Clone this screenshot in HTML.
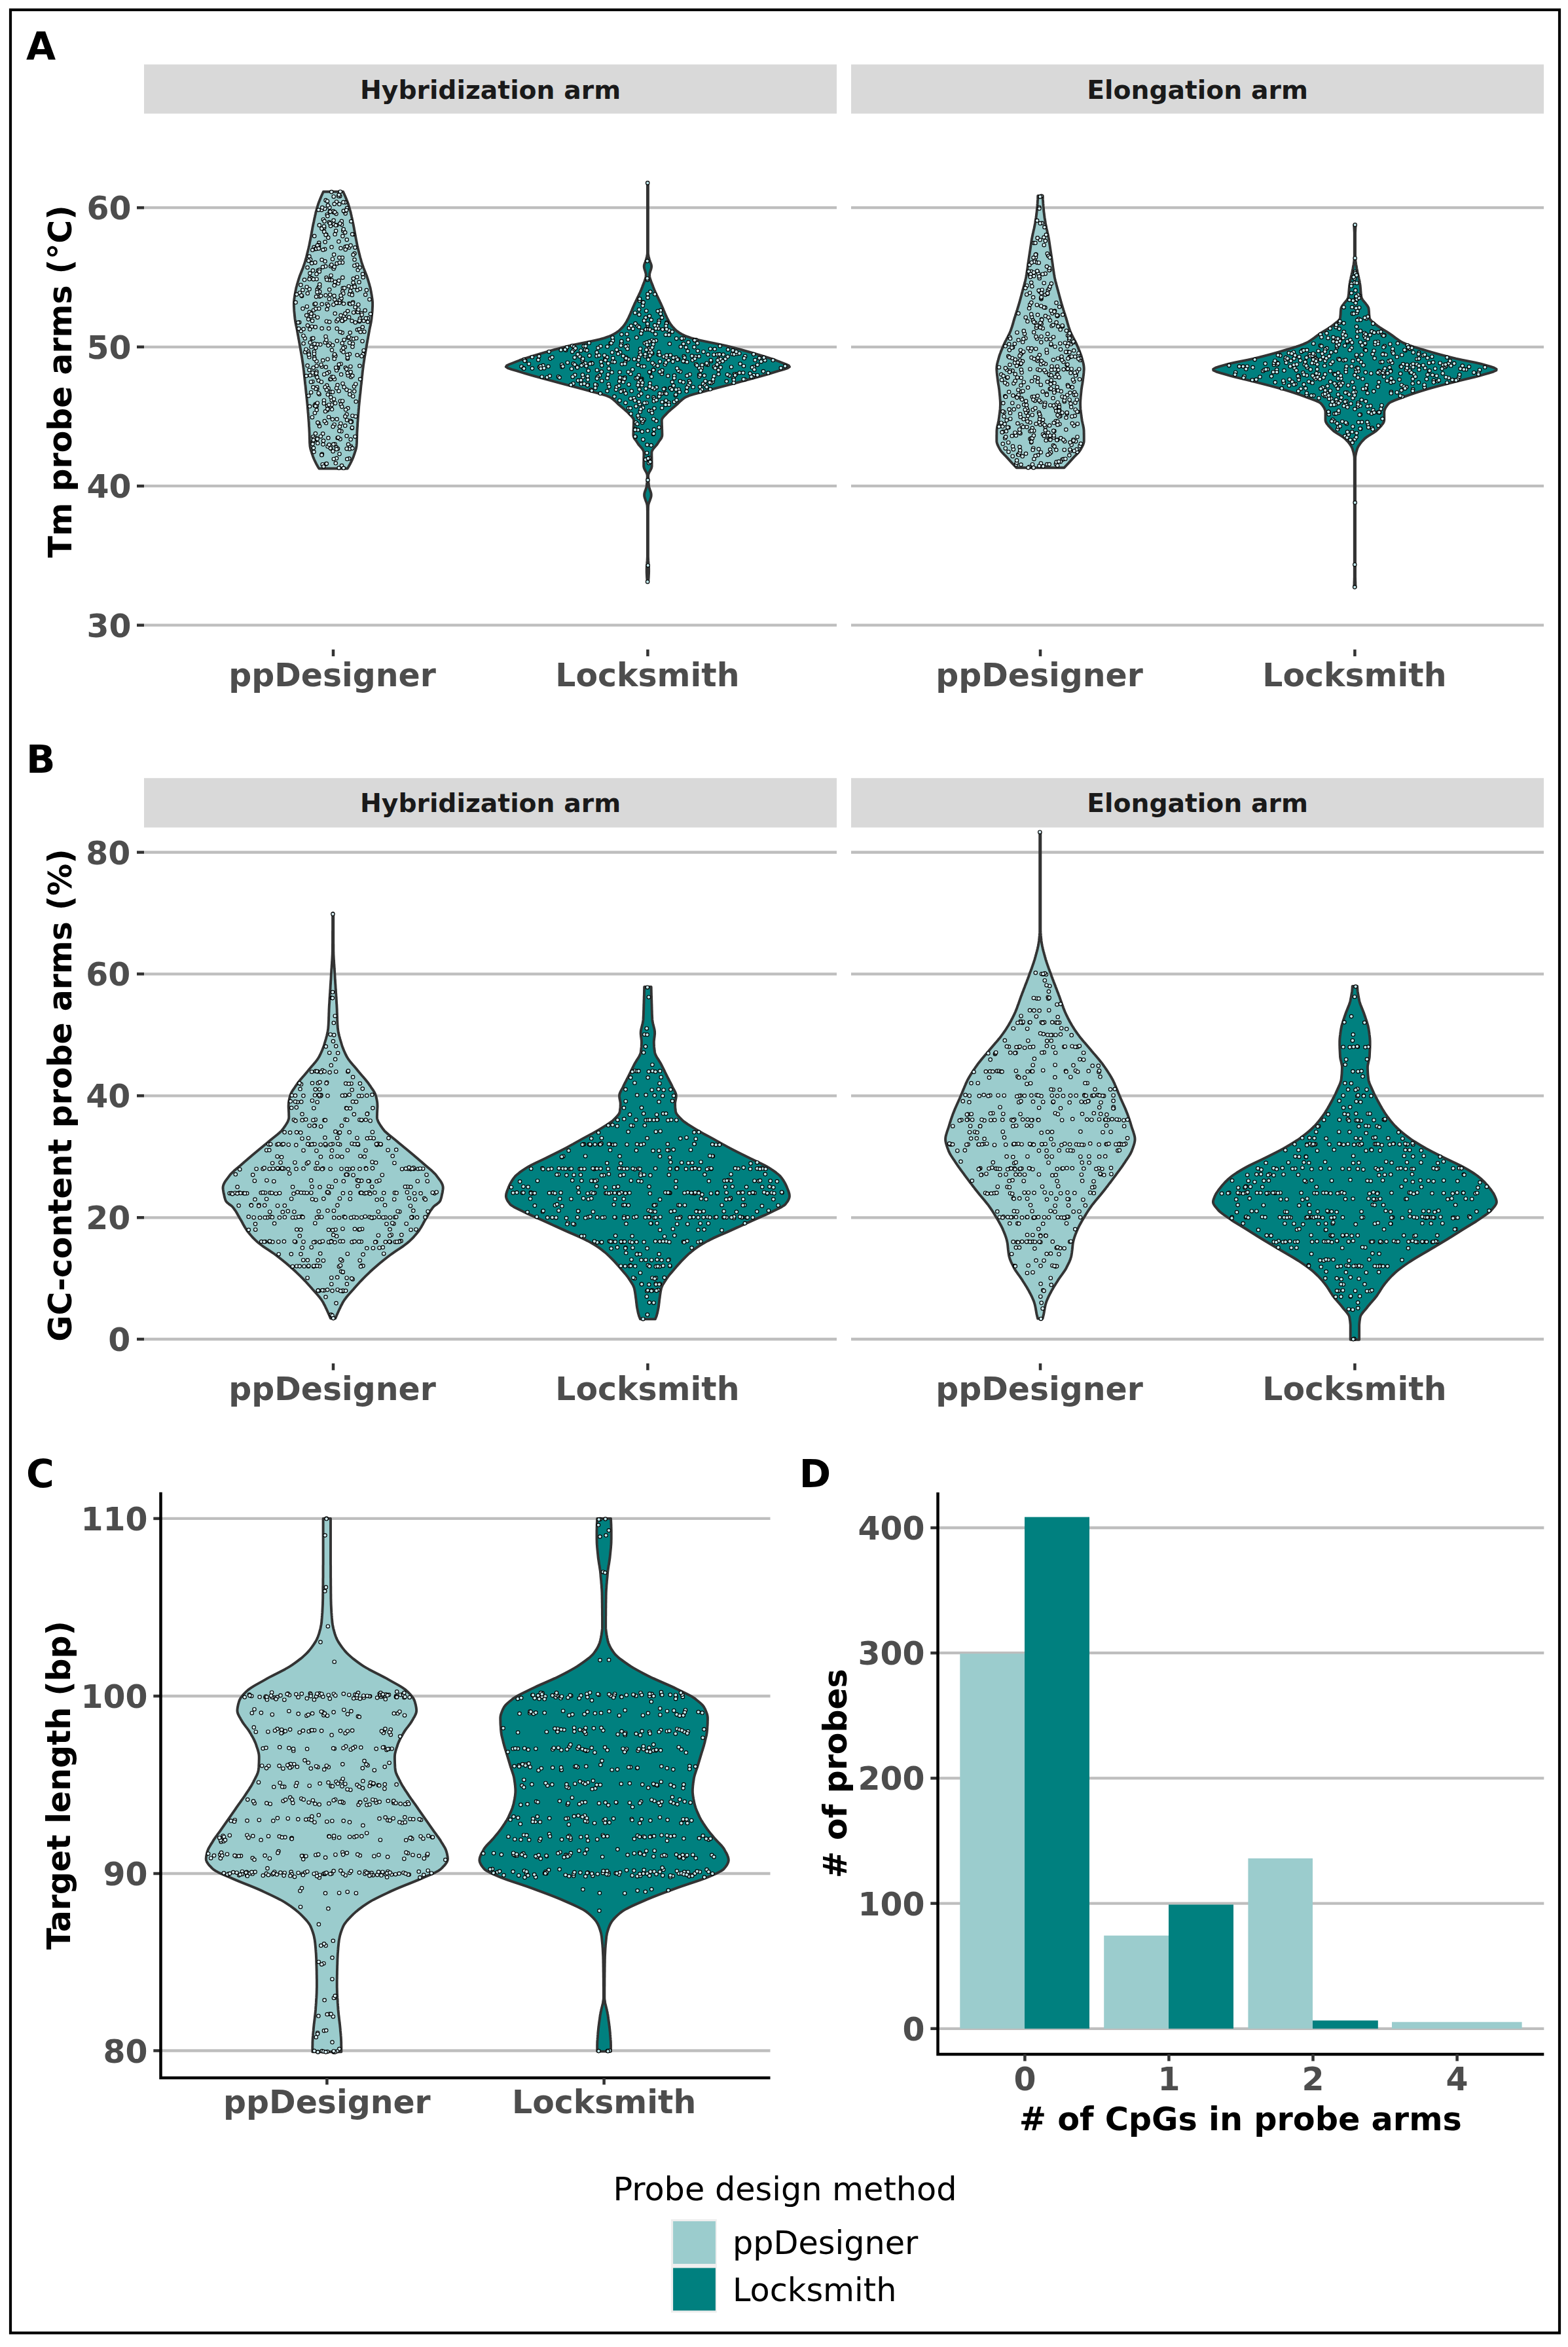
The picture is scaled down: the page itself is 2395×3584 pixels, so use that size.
<!DOCTYPE html><html><head><meta charset="utf-8"><title>Figure</title><style>html,body{margin:0;padding:0;background:#fff}svg{display:block}</style></head><body><svg width="2395" height="3584" viewBox="0 0 2395 3584" font-family="'DejaVu Sans','Liberation Sans',sans-serif">
<rect x="0" y="0" width="2395" height="3584" fill="#fff"/>
<text x="40" y="90.6" font-size="58.33" font-weight="bold" fill="#000" text-anchor="start" >A</text>
<rect x="220" y="98.4" width="1058" height="75.1" fill="#d9d9d9"/>
<text x="749.0" y="150.60000000000002" font-size="39.3" font-weight="bold" fill="#1a1a1a" text-anchor="middle" >Hybridization arm</text>
<line x1="220" x2="1278" y1="317.2" y2="317.2" stroke="#bebebe" stroke-width="4.3"/>
<line x1="220" x2="1278" y1="529.8" y2="529.8" stroke="#bebebe" stroke-width="4.3"/>
<line x1="220" x2="1278" y1="742.2" y2="742.2" stroke="#bebebe" stroke-width="4.3"/>
<line x1="220" x2="1278" y1="954.7" y2="954.7" stroke="#bebebe" stroke-width="4.3"/>
<rect x="1300" y="98.4" width="1058" height="75.1" fill="#d9d9d9"/>
<text x="1829.0" y="150.60000000000002" font-size="39.3" font-weight="bold" fill="#1a1a1a" text-anchor="middle" >Elongation arm</text>
<line x1="1300" x2="2358" y1="317.2" y2="317.2" stroke="#bebebe" stroke-width="4.3"/>
<line x1="1300" x2="2358" y1="529.8" y2="529.8" stroke="#bebebe" stroke-width="4.3"/>
<line x1="1300" x2="2358" y1="742.2" y2="742.2" stroke="#bebebe" stroke-width="4.3"/>
<line x1="1300" x2="2358" y1="954.7" y2="954.7" stroke="#bebebe" stroke-width="4.3"/>
<line x1="209" x2="220" y1="317.2" y2="317.2" stroke="#333333" stroke-width="4.5"/>
<text x="200.6" y="335.2" font-size="48.9" font-weight="bold" fill="#4d4d4d" text-anchor="end" >60</text>
<line x1="209" x2="220" y1="529.8" y2="529.8" stroke="#333333" stroke-width="4.5"/>
<text x="200.6" y="547.8" font-size="48.9" font-weight="bold" fill="#4d4d4d" text-anchor="end" >50</text>
<line x1="209" x2="220" y1="742.2" y2="742.2" stroke="#333333" stroke-width="4.5"/>
<text x="200.6" y="760.2" font-size="48.9" font-weight="bold" fill="#4d4d4d" text-anchor="end" >40</text>
<line x1="209" x2="220" y1="954.7" y2="954.7" stroke="#333333" stroke-width="4.5"/>
<text x="200.6" y="972.7" font-size="48.9" font-weight="bold" fill="#4d4d4d" text-anchor="end" >30</text>
<line x1="509" x2="509" y1="991.8" y2="1002.1999999999999" stroke="#333333" stroke-width="4.5"/>
<line x1="989.4" x2="989.4" y1="991.8" y2="1002.1999999999999" stroke="#333333" stroke-width="4.5"/>
<line x1="1589" x2="1589" y1="991.8" y2="1002.1999999999999" stroke="#333333" stroke-width="4.5"/>
<line x1="2069.4" x2="2069.4" y1="991.8" y2="1002.1999999999999" stroke="#333333" stroke-width="4.5"/>
<text x="507.5" y="1048" font-size="48.9" font-weight="bold" fill="#4d4d4d" text-anchor="middle" >ppDesigner</text>
<text x="988.9" y="1048" font-size="48.9" font-weight="bold" fill="#4d4d4d" text-anchor="middle" >Locksmith</text>
<text x="1587.5" y="1048" font-size="48.9" font-weight="bold" fill="#4d4d4d" text-anchor="middle" >ppDesigner</text>
<text x="2068.9" y="1048" font-size="48.9" font-weight="bold" fill="#4d4d4d" text-anchor="middle" >Locksmith</text>
<text transform="translate(108.5,582.6) rotate(-90)" font-size="48.9" font-weight="bold" fill="#000" text-anchor="middle">Tm probe arms (°C)</text>
<text x="40" y="1179.7" font-size="58.33" font-weight="bold" fill="#000" text-anchor="start" >B</text>
<rect x="220" y="1188.2" width="1058" height="75.39999999999986" fill="#d9d9d9"/>
<text x="749.0" y="1240.4" font-size="39.3" font-weight="bold" fill="#1a1a1a" text-anchor="middle" >Hybridization arm</text>
<line x1="220" x2="1278" y1="1301.5" y2="1301.5" stroke="#bebebe" stroke-width="4.3"/>
<line x1="220" x2="1278" y1="1487.3" y2="1487.3" stroke="#bebebe" stroke-width="4.3"/>
<line x1="220" x2="1278" y1="1673.3" y2="1673.3" stroke="#bebebe" stroke-width="4.3"/>
<line x1="220" x2="1278" y1="1859.3" y2="1859.3" stroke="#bebebe" stroke-width="4.3"/>
<line x1="220" x2="1278" y1="2045" y2="2045" stroke="#bebebe" stroke-width="4.3"/>
<rect x="1300" y="1188.2" width="1058" height="75.39999999999986" fill="#d9d9d9"/>
<text x="1829.0" y="1240.4" font-size="39.3" font-weight="bold" fill="#1a1a1a" text-anchor="middle" >Elongation arm</text>
<line x1="1300" x2="2358" y1="1301.5" y2="1301.5" stroke="#bebebe" stroke-width="4.3"/>
<line x1="1300" x2="2358" y1="1487.3" y2="1487.3" stroke="#bebebe" stroke-width="4.3"/>
<line x1="1300" x2="2358" y1="1673.3" y2="1673.3" stroke="#bebebe" stroke-width="4.3"/>
<line x1="1300" x2="2358" y1="1859.3" y2="1859.3" stroke="#bebebe" stroke-width="4.3"/>
<line x1="1300" x2="2358" y1="2045" y2="2045" stroke="#bebebe" stroke-width="4.3"/>
<line x1="209" x2="220" y1="1301.5" y2="1301.5" stroke="#333333" stroke-width="4.5"/>
<text x="199.3" y="1319.5" font-size="48.9" font-weight="bold" fill="#4d4d4d" text-anchor="end" >80</text>
<line x1="209" x2="220" y1="1487.3" y2="1487.3" stroke="#333333" stroke-width="4.5"/>
<text x="199.3" y="1505.3" font-size="48.9" font-weight="bold" fill="#4d4d4d" text-anchor="end" >60</text>
<line x1="209" x2="220" y1="1673.3" y2="1673.3" stroke="#333333" stroke-width="4.5"/>
<text x="199.3" y="1691.3" font-size="48.9" font-weight="bold" fill="#4d4d4d" text-anchor="end" >40</text>
<line x1="209" x2="220" y1="1859.3" y2="1859.3" stroke="#333333" stroke-width="4.5"/>
<text x="199.3" y="1877.3" font-size="48.9" font-weight="bold" fill="#4d4d4d" text-anchor="end" >20</text>
<line x1="209" x2="220" y1="2045" y2="2045" stroke="#333333" stroke-width="4.5"/>
<text x="199.3" y="2063" font-size="48.9" font-weight="bold" fill="#4d4d4d" text-anchor="end" >0</text>
<line x1="509" x2="509" y1="2082" y2="2092.4" stroke="#333333" stroke-width="4.5"/>
<line x1="989.4" x2="989.4" y1="2082" y2="2092.4" stroke="#333333" stroke-width="4.5"/>
<line x1="1589" x2="1589" y1="2082" y2="2092.4" stroke="#333333" stroke-width="4.5"/>
<line x1="2069.4" x2="2069.4" y1="2082" y2="2092.4" stroke="#333333" stroke-width="4.5"/>
<text x="507.5" y="2138" font-size="48.9" font-weight="bold" fill="#4d4d4d" text-anchor="middle" >ppDesigner</text>
<text x="988.9" y="2138" font-size="48.9" font-weight="bold" fill="#4d4d4d" text-anchor="middle" >Locksmith</text>
<text x="1587.5" y="2138" font-size="48.9" font-weight="bold" fill="#4d4d4d" text-anchor="middle" >ppDesigner</text>
<text x="2068.9" y="2138" font-size="48.9" font-weight="bold" fill="#4d4d4d" text-anchor="middle" >Locksmith</text>
<text transform="translate(108.5,1672.6) rotate(-90)" font-size="48.9" font-weight="bold" fill="#000" text-anchor="middle">GC-content probe arms (%)</text>
<text x="40" y="2271" font-size="58.33" font-weight="bold" fill="#000" text-anchor="start" >C</text>
<line x1="245.5" x2="1176.5" y1="2318.9" y2="2318.9" stroke="#bebebe" stroke-width="4.3"/>
<line x1="234.3" x2="245.5" y1="2318.9" y2="2318.9" stroke="#333333" stroke-width="4.5"/>
<text x="225.6" y="2336.9" font-size="48.9" font-weight="bold" fill="#4d4d4d" text-anchor="end" >110</text>
<line x1="245.5" x2="1176.5" y1="2590" y2="2590" stroke="#bebebe" stroke-width="4.3"/>
<line x1="234.3" x2="245.5" y1="2590" y2="2590" stroke="#333333" stroke-width="4.5"/>
<text x="225.6" y="2608" font-size="48.9" font-weight="bold" fill="#4d4d4d" text-anchor="end" >100</text>
<line x1="245.5" x2="1176.5" y1="2861" y2="2861" stroke="#bebebe" stroke-width="4.3"/>
<line x1="234.3" x2="245.5" y1="2861" y2="2861" stroke="#333333" stroke-width="4.5"/>
<text x="225.6" y="2879" font-size="48.9" font-weight="bold" fill="#4d4d4d" text-anchor="end" >90</text>
<line x1="245.5" x2="1176.5" y1="3131.5" y2="3131.5" stroke="#bebebe" stroke-width="4.3"/>
<line x1="234.3" x2="245.5" y1="3131.5" y2="3131.5" stroke="#333333" stroke-width="4.5"/>
<text x="225.6" y="3149.5" font-size="48.9" font-weight="bold" fill="#4d4d4d" text-anchor="end" >80</text>
<text x="1220.7" y="2271" font-size="58.33" font-weight="bold" fill="#000" text-anchor="start" >D</text>
<line x1="1432.5" x2="2358.3" y1="2333.0" y2="2333.0" stroke="#bebebe" stroke-width="4.3"/>
<line x1="1421.3" x2="1432.5" y1="2333.0" y2="2333.0" stroke="#333333" stroke-width="4.5"/>
<text x="1412.6" y="2351.0" font-size="48.9" font-weight="bold" fill="#4d4d4d" text-anchor="end" >400</text>
<line x1="1432.5" x2="2358.3" y1="2524.2000000000003" y2="2524.2000000000003" stroke="#bebebe" stroke-width="4.3"/>
<line x1="1421.3" x2="1432.5" y1="2524.2000000000003" y2="2524.2000000000003" stroke="#333333" stroke-width="4.5"/>
<text x="1412.6" y="2542.2000000000003" font-size="48.9" font-weight="bold" fill="#4d4d4d" text-anchor="end" >300</text>
<line x1="1432.5" x2="2358.3" y1="2715.4" y2="2715.4" stroke="#bebebe" stroke-width="4.3"/>
<line x1="1421.3" x2="1432.5" y1="2715.4" y2="2715.4" stroke="#333333" stroke-width="4.5"/>
<text x="1412.6" y="2733.4" font-size="48.9" font-weight="bold" fill="#4d4d4d" text-anchor="end" >200</text>
<line x1="1432.5" x2="2358.3" y1="2906.6000000000004" y2="2906.6000000000004" stroke="#bebebe" stroke-width="4.3"/>
<line x1="1421.3" x2="1432.5" y1="2906.6000000000004" y2="2906.6000000000004" stroke="#333333" stroke-width="4.5"/>
<text x="1412.6" y="2924.6000000000004" font-size="48.9" font-weight="bold" fill="#4d4d4d" text-anchor="end" >100</text>
<line x1="1432.5" x2="2358.3" y1="3097.8" y2="3097.8" stroke="#bebebe" stroke-width="4.3"/>
<line x1="1421.3" x2="1432.5" y1="3097.8" y2="3097.8" stroke="#333333" stroke-width="4.5"/>
<text x="1412.6" y="3115.8" font-size="48.9" font-weight="bold" fill="#4d4d4d" text-anchor="end" >0</text>
<rect x="1466.3" y="2525.2" width="98.7" height="572.6" fill="#9bcccd"/>
<rect x="1565" y="2316.6" width="99.0" height="781.2" fill="#00807f"/>
<rect x="1686.2" y="2955.7" width="98.8" height="142.1" fill="#9bcccd"/>
<rect x="1785" y="2908.5" width="99.0" height="189.3" fill="#00807f"/>
<rect x="1906.4" y="2837.8" width="98.6" height="260.0" fill="#9bcccd"/>
<rect x="2005" y="3085.4" width="99.8" height="12.4" fill="#00807f"/>
<rect x="2126" y="3087.7" width="198.6" height="10.1" fill="#9bcccd"/>
<path d="M524.1,292.7 L525.0,294.7 L525.9,296.7 L526.8,298.7 L527.7,300.7 L528.5,302.7 L529.3,304.7 L530.1,306.7 L530.9,308.7 L531.6,310.7 L532.3,312.7 L532.9,314.7 L533.5,316.7 L534.1,318.7 L534.6,320.7 L535.2,322.7 L535.7,324.7 L536.1,326.7 L536.6,328.7 L537.0,330.7 L537.5,332.7 L537.9,334.7 L538.3,336.7 L538.7,338.7 L539.2,340.7 L539.6,342.7 L540.0,344.7 L540.4,346.7 L540.8,348.7 L541.1,350.7 L541.5,352.7 L541.9,354.7 L542.2,356.7 L542.6,358.7 L543.0,360.7 L543.3,362.7 L543.7,364.7 L544.1,366.7 L544.5,368.7 L544.9,370.7 L545.3,372.7 L545.7,374.7 L546.2,376.7 L546.6,378.7 L547.1,380.7 L547.6,382.7 L548.1,384.7 L548.6,386.7 L549.1,388.7 L549.6,390.7 L550.1,392.7 L550.7,394.7 L551.3,396.7 L551.8,398.7 L552.4,400.7 L553.0,402.7 L553.7,404.7 L554.4,406.7 L555.1,408.7 L555.9,410.7 L556.7,412.7 L557.5,414.7 L558.3,416.7 L559.1,418.7 L559.9,420.7 L560.6,422.7 L561.2,424.7 L561.9,426.7 L562.5,428.7 L563.1,430.7 L563.7,432.7 L564.3,434.7 L564.8,436.7 L565.4,438.7 L565.8,440.7 L566.2,442.7 L566.6,444.7 L567.0,446.7 L567.3,448.7 L567.7,450.7 L568.0,452.7 L568.3,454.7 L568.6,456.7 L568.8,458.7 L569.0,460.7 L569.1,462.7 L569.1,464.7 L569.1,466.7 L569.0,468.7 L568.9,470.7 L568.8,472.7 L568.7,474.7 L568.5,476.7 L568.3,478.7 L568.1,480.7 L567.9,482.7 L567.7,484.7 L567.5,486.7 L567.2,488.7 L566.9,490.7 L566.6,492.7 L566.2,494.7 L565.8,496.7 L565.3,498.7 L564.9,500.7 L564.5,502.7 L564.1,504.7 L563.8,506.7 L563.4,508.7 L563.1,510.7 L562.7,512.7 L562.3,514.7 L562.0,516.7 L561.6,518.7 L561.2,520.7 L560.9,522.7 L560.5,524.7 L560.2,526.7 L559.8,528.7 L559.5,530.7 L559.1,532.7 L558.8,534.7 L558.4,536.7 L558.1,538.7 L557.7,540.7 L557.4,542.7 L557.0,544.7 L556.7,546.7 L556.4,548.7 L556.1,550.7 L555.8,552.7 L555.5,554.7 L555.2,556.7 L554.9,558.7 L554.7,560.7 L554.4,562.7 L554.2,564.7 L553.9,566.7 L553.7,568.7 L553.5,570.7 L553.3,572.7 L553.0,574.7 L552.8,576.7 L552.6,578.7 L552.4,580.7 L552.2,582.7 L552.0,584.7 L551.8,586.7 L551.5,588.7 L551.3,590.7 L551.1,592.7 L550.9,594.7 L550.7,596.7 L550.5,598.7 L550.3,600.7 L550.0,602.7 L549.8,604.7 L549.6,606.7 L549.4,608.7 L549.2,610.7 L549.0,612.7 L548.8,614.7 L548.6,616.7 L548.4,618.7 L548.2,620.7 L548.1,622.7 L547.9,624.7 L547.7,626.7 L547.6,628.7 L547.4,630.7 L547.2,632.7 L547.1,634.7 L546.9,636.7 L546.8,638.7 L546.6,640.7 L546.5,642.7 L546.3,644.7 L546.2,646.7 L546.1,648.7 L546.0,650.7 L545.8,652.7 L545.7,654.7 L545.6,656.7 L545.5,658.7 L545.4,660.7 L545.3,662.7 L545.3,664.7 L545.2,666.7 L545.2,668.7 L545.1,670.7 L545.0,672.7 L545.0,674.7 L544.9,676.7 L544.7,678.7 L544.6,680.7 L544.3,682.7 L543.9,684.7 L543.4,686.7 L542.8,688.7 L542.1,690.7 L541.5,692.7 L540.8,694.7 L540.1,696.7 L539.3,698.7 L538.5,700.7 L537.6,702.7 L536.7,704.7 L535.7,706.7 L534.7,708.7 L533.5,710.7 L532.4,712.7 L531.2,714.7 L530.7,715.5 L487.3,715.5 L486.8,714.7 L485.6,712.7 L484.5,710.7 L483.3,708.7 L482.3,706.7 L481.3,704.7 L480.4,702.7 L479.5,700.7 L478.7,698.7 L477.9,696.7 L477.2,694.7 L476.5,692.7 L475.9,690.7 L475.2,688.7 L474.6,686.7 L474.1,684.7 L473.7,682.7 L473.4,680.7 L473.3,678.7 L473.1,676.7 L473.0,674.7 L473.0,672.7 L472.9,670.7 L472.8,668.7 L472.8,666.7 L472.7,664.7 L472.7,662.7 L472.6,660.7 L472.5,658.7 L472.4,656.7 L472.3,654.7 L472.2,652.7 L472.0,650.7 L471.9,648.7 L471.8,646.7 L471.7,644.7 L471.5,642.7 L471.4,640.7 L471.2,638.7 L471.1,636.7 L470.9,634.7 L470.8,632.7 L470.6,630.7 L470.4,628.7 L470.3,626.7 L470.1,624.7 L469.9,622.7 L469.8,620.7 L469.6,618.7 L469.4,616.7 L469.2,614.7 L469.0,612.7 L468.8,610.7 L468.6,608.7 L468.4,606.7 L468.2,604.7 L468.0,602.7 L467.7,600.7 L467.5,598.7 L467.3,596.7 L467.1,594.7 L466.9,592.7 L466.7,590.7 L466.5,588.7 L466.2,586.7 L466.0,584.7 L465.8,582.7 L465.6,580.7 L465.4,578.7 L465.2,576.7 L465.0,574.7 L464.7,572.7 L464.5,570.7 L464.3,568.7 L464.1,566.7 L463.8,564.7 L463.6,562.7 L463.3,560.7 L463.1,558.7 L462.8,556.7 L462.5,554.7 L462.2,552.7 L461.9,550.7 L461.6,548.7 L461.3,546.7 L461.0,544.7 L460.6,542.7 L460.3,540.7 L459.9,538.7 L459.6,536.7 L459.2,534.7 L458.9,532.7 L458.5,530.7 L458.2,528.7 L457.8,526.7 L457.5,524.7 L457.1,522.7 L456.8,520.7 L456.4,518.7 L456.0,516.7 L455.7,514.7 L455.3,512.7 L454.9,510.7 L454.6,508.7 L454.2,506.7 L453.9,504.7 L453.5,502.7 L453.1,500.7 L452.7,498.7 L452.2,496.7 L451.8,494.7 L451.4,492.7 L451.1,490.7 L450.8,488.7 L450.5,486.7 L450.3,484.7 L450.1,482.7 L449.9,480.7 L449.7,478.7 L449.5,476.7 L449.3,474.7 L449.2,472.7 L449.1,470.7 L449.0,468.7 L448.9,466.7 L448.9,464.7 L448.9,462.7 L449.0,460.7 L449.2,458.7 L449.4,456.7 L449.7,454.7 L450.0,452.7 L450.3,450.7 L450.7,448.7 L451.0,446.7 L451.4,444.7 L451.8,442.7 L452.2,440.7 L452.6,438.7 L453.2,436.7 L453.7,434.7 L454.3,432.7 L454.9,430.7 L455.5,428.7 L456.1,426.7 L456.8,424.7 L457.4,422.7 L458.1,420.7 L458.9,418.7 L459.7,416.7 L460.5,414.7 L461.3,412.7 L462.1,410.7 L462.9,408.7 L463.6,406.7 L464.3,404.7 L465.0,402.7 L465.6,400.7 L466.2,398.7 L466.7,396.7 L467.3,394.7 L467.9,392.7 L468.4,390.7 L468.9,388.7 L469.4,386.7 L469.9,384.7 L470.4,382.7 L470.9,380.7 L471.4,378.7 L471.8,376.7 L472.3,374.7 L472.7,372.7 L473.1,370.7 L473.5,368.7 L473.9,366.7 L474.3,364.7 L474.7,362.7 L475.0,360.7 L475.4,358.7 L475.8,356.7 L476.1,354.7 L476.5,352.7 L476.9,350.7 L477.2,348.7 L477.6,346.7 L478.0,344.7 L478.4,342.7 L478.8,340.7 L479.3,338.7 L479.7,336.7 L480.1,334.7 L480.5,332.7 L481.0,330.7 L481.4,328.7 L481.9,326.7 L482.3,324.7 L482.8,322.7 L483.4,320.7 L483.9,318.7 L484.5,316.7 L485.1,314.7 L485.7,312.7 L486.4,310.7 L487.1,308.7 L487.9,306.7 L488.7,304.7 L489.5,302.7 L490.3,300.7 L491.2,298.7 L492.1,296.7 L493.0,294.7 L493.9,292.7Z" fill="#9bcccd" stroke="#333333" stroke-width="3.9" stroke-linejoin="round"/>
<g fill="#d5edf2" stroke="#000" stroke-width="1.15">
<circle cx="545.7" cy="542.3" r="2.7"/><circle cx="487.6" cy="602.0" r="2.7"/><circle cx="549.9" cy="441.2" r="2.7"/><circle cx="519.3" cy="299.6" r="2.7"/><circle cx="506.6" cy="611.2" r="2.7"/><circle cx="484.7" cy="442.0" r="2.7"/><circle cx="503.4" cy="426.9" r="2.7"/><circle cx="514.7" cy="501.8" r="2.7"/><circle cx="522.0" cy="711.0" r="2.7"/><circle cx="554.4" cy="541.2" r="2.7"/><circle cx="477.9" cy="413.1" r="2.7"/><circle cx="466.1" cy="537.7" r="2.7"/><circle cx="509.7" cy="324.3" r="2.7"/><circle cx="555.6" cy="490.0" r="2.7"/><circle cx="510.3" cy="543.7" r="2.7"/><circle cx="481.7" cy="499.4" r="2.7"/><circle cx="497.6" cy="305.9" r="2.7"/><circle cx="483.5" cy="567.6" r="2.7"/><circle cx="451.6" cy="461.8" r="2.7"/><circle cx="483.7" cy="626.1" r="2.7"/><circle cx="548.5" cy="430.9" r="2.7"/><circle cx="545.9" cy="503.5" r="2.7"/><circle cx="530.9" cy="547.7" r="2.7"/><circle cx="511.6" cy="357.8" r="2.7"/><circle cx="548.6" cy="502.8" r="2.7"/><circle cx="520.3" cy="459.3" r="2.7"/><circle cx="502.8" cy="339.4" r="2.7"/><circle cx="469.8" cy="448.0" r="2.7"/><circle cx="500.0" cy="619.8" r="2.7"/><circle cx="514.0" cy="699.8" r="2.7"/><circle cx="522.1" cy="535.2" r="2.7"/><circle cx="478.7" cy="561.6" r="2.7"/><circle cx="479.4" cy="482.3" r="2.7"/><circle cx="462.5" cy="471.3" r="2.7"/><circle cx="491.9" cy="693.5" r="2.7"/><circle cx="491.6" cy="559.7" r="2.7"/><circle cx="520.4" cy="646.7" r="2.7"/><circle cx="533.3" cy="378.0" r="2.7"/><circle cx="535.9" cy="681.4" r="2.7"/><circle cx="473.8" cy="523.0" r="2.7"/><circle cx="545.3" cy="404.4" r="2.7"/><circle cx="476.6" cy="517.1" r="2.7"/><circle cx="518.8" cy="651.5" r="2.7"/><circle cx="496.7" cy="523.0" r="2.7"/><circle cx="479.0" cy="473.7" r="2.7"/><circle cx="527.6" cy="326.0" r="2.7"/><circle cx="514.3" cy="490.4" r="2.7"/><circle cx="537.1" cy="447.8" r="2.7"/><circle cx="503.3" cy="316.9" r="2.7"/><circle cx="491.3" cy="320.6" r="2.7"/><circle cx="518.5" cy="693.2" r="2.7"/><circle cx="511.7" cy="478.8" r="2.7"/><circle cx="498.1" cy="646.0" r="2.7"/><circle cx="526.8" cy="530.0" r="2.7"/><circle cx="511.2" cy="457.6" r="2.7"/><circle cx="541.2" cy="597.5" r="2.7"/><circle cx="541.5" cy="387.0" r="2.7"/><circle cx="517.1" cy="299.6" r="2.7"/><circle cx="481.9" cy="617.3" r="2.7"/><circle cx="545.2" cy="476.1" r="2.7"/><circle cx="514.0" cy="308.2" r="2.7"/><circle cx="510.0" cy="609.4" r="2.7"/><circle cx="486.5" cy="581.1" r="2.7"/><circle cx="497.2" cy="406.8" r="2.7"/><circle cx="496.5" cy="399.1" r="2.7"/><circle cx="513.8" cy="683.1" r="2.7"/><circle cx="483.0" cy="453.1" r="2.7"/><circle cx="505.4" cy="685.0" r="2.7"/><circle cx="509.8" cy="700.9" r="2.7"/><circle cx="550.7" cy="507.0" r="2.7"/><circle cx="515.5" cy="588.1" r="2.7"/><circle cx="552.2" cy="478.4" r="2.7"/><circle cx="557.6" cy="474.0" r="2.7"/><circle cx="505.0" cy="345.1" r="2.7"/><circle cx="556.4" cy="506.6" r="2.7"/><circle cx="539.8" cy="425.6" r="2.7"/><circle cx="527.8" cy="561.6" r="2.7"/><circle cx="552.4" cy="543.9" r="2.7"/><circle cx="497.5" cy="451.0" r="2.7"/><circle cx="469.6" cy="408.5" r="2.7"/><circle cx="546.7" cy="412.3" r="2.7"/><circle cx="480.9" cy="630.7" r="2.7"/><circle cx="507.0" cy="534.6" r="2.7"/><circle cx="524.3" cy="531.5" r="2.7"/><circle cx="559.9" cy="443.1" r="2.7"/><circle cx="523.3" cy="489.9" r="2.7"/><circle cx="480.2" cy="546.0" r="2.7"/><circle cx="504.0" cy="341.0" r="2.7"/><circle cx="533.9" cy="596.9" r="2.7"/><circle cx="477.3" cy="582.7" r="2.7"/><circle cx="529.6" cy="665.8" r="2.7"/><circle cx="510.6" cy="648.4" r="2.7"/><circle cx="478.2" cy="666.9" r="2.7"/><circle cx="486.6" cy="320.5" r="2.7"/><circle cx="483.6" cy="426.2" r="2.7"/><circle cx="514.6" cy="402.4" r="2.7"/><circle cx="513.5" cy="326.5" r="2.7"/><circle cx="522.9" cy="393.5" r="2.7"/><circle cx="500.9" cy="313.6" r="2.7"/><circle cx="511.6" cy="678.2" r="2.7"/><circle cx="520.8" cy="617.7" r="2.7"/><circle cx="479.9" cy="537.1" r="2.7"/><circle cx="463.6" cy="524.5" r="2.7"/><circle cx="543.7" cy="613.3" r="2.7"/><circle cx="476.9" cy="637.2" r="2.7"/><circle cx="488.3" cy="452.7" r="2.7"/><circle cx="517.4" cy="368.8" r="2.7"/><circle cx="494.9" cy="611.4" r="2.7"/><circle cx="530.0" cy="641.4" r="2.7"/><circle cx="527.7" cy="376.9" r="2.7"/><circle cx="488.0" cy="650.8" r="2.7"/><circle cx="522.7" cy="524.2" r="2.7"/><circle cx="470.8" cy="536.6" r="2.7"/><circle cx="520.6" cy="555.7" r="2.7"/><circle cx="531.3" cy="623.3" r="2.7"/><circle cx="534.0" cy="449.3" r="2.7"/><circle cx="536.7" cy="643.5" r="2.7"/><circle cx="472.4" cy="391.6" r="2.7"/><circle cx="483.5" cy="551.7" r="2.7"/><circle cx="553.5" cy="520.9" r="2.7"/><circle cx="480.4" cy="464.6" r="2.7"/><circle cx="526.7" cy="487.2" r="2.7"/><circle cx="501.3" cy="362.9" r="2.7"/><circle cx="520.5" cy="379.0" r="2.7"/><circle cx="500.0" cy="626.4" r="2.7"/><circle cx="513.6" cy="462.4" r="2.7"/><circle cx="485.9" cy="413.0" r="2.7"/><circle cx="504.2" cy="450.1" r="2.7"/><circle cx="524.3" cy="352.4" r="2.7"/><circle cx="489.3" cy="526.1" r="2.7"/><circle cx="524.7" cy="350.1" r="2.7"/><circle cx="483.2" cy="377.7" r="2.7"/><circle cx="479.5" cy="377.6" r="2.7"/><circle cx="493.2" cy="662.3" r="2.7"/><circle cx="545.7" cy="443.1" r="2.7"/><circle cx="479.9" cy="540.4" r="2.7"/><circle cx="552.7" cy="480.7" r="2.7"/><circle cx="533.4" cy="463.5" r="2.7"/><circle cx="523.4" cy="360.6" r="2.7"/><circle cx="534.3" cy="602.2" r="2.7"/><circle cx="497.8" cy="560.6" r="2.7"/><circle cx="510.1" cy="342.4" r="2.7"/><circle cx="484.4" cy="594.1" r="2.7"/><circle cx="512.7" cy="430.5" r="2.7"/><circle cx="540.9" cy="590.3" r="2.7"/><circle cx="487.1" cy="375.2" r="2.7"/><circle cx="519.9" cy="612.4" r="2.7"/><circle cx="550.1" cy="579.1" r="2.7"/><circle cx="532.0" cy="678.6" r="2.7"/><circle cx="500.8" cy="602.5" r="2.7"/><circle cx="480.4" cy="548.2" r="2.7"/><circle cx="529.4" cy="595.1" r="2.7"/><circle cx="504.4" cy="579.2" r="2.7"/><circle cx="499.7" cy="464.2" r="2.7"/><circle cx="525.5" cy="322.7" r="2.7"/><circle cx="497.5" cy="513.9" r="2.7"/><circle cx="531.6" cy="515.7" r="2.7"/><circle cx="547.3" cy="465.2" r="2.7"/><circle cx="501.4" cy="668.8" r="2.7"/><circle cx="527.7" cy="381.0" r="2.7"/><circle cx="492.7" cy="709.2" r="2.7"/><circle cx="536.2" cy="575.7" r="2.7"/><circle cx="483.4" cy="669.3" r="2.7"/><circle cx="539.5" cy="358.0" r="2.7"/><circle cx="487.2" cy="370.9" r="2.7"/><circle cx="503.7" cy="524.7" r="2.7"/><circle cx="484.2" cy="591.2" r="2.7"/><circle cx="489.8" cy="666.4" r="2.7"/><circle cx="475.1" cy="599.2" r="2.7"/><circle cx="457.2" cy="492.2" r="2.7"/><circle cx="488.1" cy="445.4" r="2.7"/><circle cx="505.3" cy="578.7" r="2.7"/><circle cx="536.2" cy="338.0" r="2.7"/><circle cx="537.8" cy="653.7" r="2.7"/><circle cx="498.5" cy="424.1" r="2.7"/><circle cx="473.4" cy="417.3" r="2.7"/><circle cx="509.2" cy="322.5" r="2.7"/><circle cx="486.8" cy="374.0" r="2.7"/><circle cx="507.9" cy="640.3" r="2.7"/><circle cx="523.0" cy="400.9" r="2.7"/><circle cx="511.8" cy="430.4" r="2.7"/><circle cx="510.7" cy="435.8" r="2.7"/><circle cx="512.3" cy="543.5" r="2.7"/><circle cx="542.6" cy="469.2" r="2.7"/><circle cx="486.5" cy="646.4" r="2.7"/><circle cx="481.3" cy="380.3" r="2.7"/><circle cx="533.3" cy="700.3" r="2.7"/><circle cx="554.0" cy="418.6" r="2.7"/><circle cx="509.6" cy="410.3" r="2.7"/><circle cx="553.8" cy="499.5" r="2.7"/><circle cx="499.7" cy="327.7" r="2.7"/><circle cx="467.5" cy="533.4" r="2.7"/><circle cx="505.6" cy="420.7" r="2.7"/><circle cx="527.2" cy="650.0" r="2.7"/><circle cx="528.1" cy="625.5" r="2.7"/><circle cx="538.3" cy="573.8" r="2.7"/><circle cx="529.3" cy="563.5" r="2.7"/><circle cx="472.6" cy="441.6" r="2.7"/><circle cx="482.4" cy="593.8" r="2.7"/><circle cx="515.6" cy="668.8" r="2.7"/><circle cx="558.2" cy="450.0" r="2.7"/><circle cx="510.1" cy="388.8" r="2.7"/><circle cx="538.1" cy="357.8" r="2.7"/><circle cx="538.9" cy="524.8" r="2.7"/><circle cx="541.2" cy="435.6" r="2.7"/><circle cx="521.1" cy="571.8" r="2.7"/><circle cx="504.6" cy="684.3" r="2.7"/><circle cx="531.1" cy="475.0" r="2.7"/><circle cx="497.0" cy="628.3" r="2.7"/><circle cx="483.6" cy="558.9" r="2.7"/><circle cx="536.3" cy="516.9" r="2.7"/><circle cx="522.0" cy="343.1" r="2.7"/><circle cx="527.2" cy="309.1" r="2.7"/><circle cx="498.9" cy="490.7" r="2.7"/><circle cx="510.9" cy="579.0" r="2.7"/><circle cx="475.0" cy="583.2" r="2.7"/><circle cx="514.8" cy="520.6" r="2.7"/><circle cx="477.9" cy="675.1" r="2.7"/><circle cx="523.8" cy="486.1" r="2.7"/><circle cx="465.8" cy="516.7" r="2.7"/><circle cx="482.2" cy="531.0" r="2.7"/><circle cx="541.4" cy="405.7" r="2.7"/><circle cx="505.1" cy="406.5" r="2.7"/><circle cx="525.6" cy="591.2" r="2.7"/><circle cx="540.1" cy="517.5" r="2.7"/><circle cx="522.4" cy="489.9" r="2.7"/><circle cx="522.2" cy="621.1" r="2.7"/><circle cx="500.5" cy="548.4" r="2.7"/><circle cx="498.5" cy="519.2" r="2.7"/><circle cx="499.3" cy="588.6" r="2.7"/><circle cx="537.5" cy="490.1" r="2.7"/><circle cx="491.6" cy="501.5" r="2.7"/><circle cx="500.3" cy="624.6" r="2.7"/><circle cx="529.6" cy="632.8" r="2.7"/><circle cx="533.1" cy="484.4" r="2.7"/><circle cx="503.7" cy="323.4" r="2.7"/><circle cx="514.6" cy="640.1" r="2.7"/><circle cx="525.6" cy="518.9" r="2.7"/><circle cx="516.2" cy="562.0" r="2.7"/><circle cx="472.7" cy="476.5" r="2.7"/><circle cx="486.5" cy="438.9" r="2.7"/><circle cx="565.9" cy="479.5" r="2.7"/><circle cx="503.0" cy="456.7" r="2.7"/><circle cx="518.4" cy="462.4" r="2.7"/><circle cx="534.7" cy="682.9" r="2.7"/><circle cx="482.0" cy="463.9" r="2.7"/><circle cx="508.6" cy="651.6" r="2.7"/><circle cx="472.4" cy="565.1" r="2.7"/><circle cx="495.8" cy="643.1" r="2.7"/><circle cx="476.3" cy="498.7" r="2.7"/><circle cx="546.6" cy="476.4" r="2.7"/><circle cx="507.1" cy="625.0" r="2.7"/><circle cx="505.7" cy="598.6" r="2.7"/><circle cx="514.3" cy="462.8" r="2.7"/><circle cx="493.0" cy="407.9" r="2.7"/><circle cx="531.7" cy="573.3" r="2.7"/><circle cx="521.8" cy="337.9" r="2.7"/><circle cx="504.9" cy="620.3" r="2.7"/><circle cx="519.3" cy="341.4" r="2.7"/><circle cx="523.3" cy="423.9" r="2.7"/><circle cx="524.9" cy="463.8" r="2.7"/><circle cx="506.6" cy="427.8" r="2.7"/><circle cx="522.7" cy="508.1" r="2.7"/><circle cx="549.6" cy="408.6" r="2.7"/><circle cx="488.1" cy="437.8" r="2.7"/><circle cx="465.0" cy="427.3" r="2.7"/><circle cx="540.1" cy="477.2" r="2.7"/><circle cx="483.5" cy="574.5" r="2.7"/><circle cx="496.2" cy="380.6" r="2.7"/><circle cx="508.1" cy="598.7" r="2.7"/><circle cx="519.6" cy="670.6" r="2.7"/><circle cx="533.9" cy="540.8" r="2.7"/><circle cx="496.5" cy="591.2" r="2.7"/><circle cx="502.6" cy="427.6" r="2.7"/><circle cx="469.9" cy="497.0" r="2.7"/><circle cx="524.9" cy="482.7" r="2.7"/><circle cx="483.1" cy="380.0" r="2.7"/><circle cx="491.6" cy="396.8" r="2.7"/><circle cx="479.5" cy="690.1" r="2.7"/><circle cx="481.3" cy="400.9" r="2.7"/><circle cx="455.3" cy="492.5" r="2.7"/><circle cx="471.1" cy="487.6" r="2.7"/><circle cx="539.5" cy="431.6" r="2.7"/><circle cx="518.7" cy="401.0" r="2.7"/><circle cx="499.5" cy="472.3" r="2.7"/><circle cx="483.8" cy="620.1" r="2.7"/><circle cx="535.7" cy="671.0" r="2.7"/><circle cx="469.6" cy="558.3" r="2.7"/><circle cx="517.8" cy="556.5" r="2.7"/><circle cx="486.6" cy="600.4" r="2.7"/><circle cx="534.0" cy="685.7" r="2.7"/><circle cx="496.6" cy="369.6" r="2.7"/><circle cx="524.8" cy="322.0" r="2.7"/><circle cx="542.3" cy="666.7" r="2.7"/><circle cx="524.6" cy="537.6" r="2.7"/><circle cx="515.1" cy="562.3" r="2.7"/><circle cx="516.0" cy="685.3" r="2.7"/><circle cx="510.5" cy="451.8" r="2.7"/><circle cx="518.3" cy="311.8" r="2.7"/><circle cx="502.3" cy="568.3" r="2.7"/><circle cx="527.3" cy="636.1" r="2.7"/><circle cx="461.1" cy="452.1" r="2.7"/><circle cx="486.7" cy="378.3" r="2.7"/><circle cx="503.2" cy="442.3" r="2.7"/><circle cx="494.0" cy="673.0" r="2.7"/><circle cx="521.4" cy="658.5" r="2.7"/><circle cx="502.1" cy="636.9" r="2.7"/><circle cx="517.7" cy="297.5" r="2.7"/><circle cx="473.5" cy="423.6" r="2.7"/><circle cx="523.1" cy="612.4" r="2.7"/><circle cx="488.0" cy="412.0" r="2.7"/><circle cx="493.5" cy="678.6" r="2.7"/><circle cx="477.8" cy="571.7" r="2.7"/><circle cx="480.6" cy="619.2" r="2.7"/><circle cx="459.9" cy="505.4" r="2.7"/><circle cx="544.2" cy="516.4" r="2.7"/><circle cx="495.2" cy="353.9" r="2.7"/><circle cx="517.5" cy="597.2" r="2.7"/><circle cx="523.3" cy="445.0" r="2.7"/><circle cx="549.8" cy="486.6" r="2.7"/><circle cx="536.9" cy="438.9" r="2.7"/><circle cx="530.9" cy="546.1" r="2.7"/><circle cx="535.0" cy="464.3" r="2.7"/><circle cx="499.5" cy="570.1" r="2.7"/><circle cx="530.0" cy="317.8" r="2.7"/><circle cx="484.4" cy="576.2" r="2.7"/><circle cx="490.9" cy="583.2" r="2.7"/><circle cx="549.1" cy="491.0" r="2.7"/><circle cx="485.0" cy="484.7" r="2.7"/><circle cx="462.4" cy="442.9" r="2.7"/><circle cx="487.8" cy="414.7" r="2.7"/><circle cx="474.1" cy="396.4" r="2.7"/><circle cx="477.1" cy="489.9" r="2.7"/><circle cx="543.3" cy="586.4" r="2.7"/><circle cx="516.6" cy="432.8" r="2.7"/><circle cx="463.6" cy="502.5" r="2.7"/><circle cx="535.6" cy="374.8" r="2.7"/><circle cx="542.8" cy="492.4" r="2.7"/><circle cx="514.4" cy="343.8" r="2.7"/><circle cx="534.9" cy="642.5" r="2.7"/><circle cx="509.7" cy="300.2" r="2.7"/><circle cx="539.1" cy="461.5" r="2.7"/><circle cx="495.2" cy="347.7" r="2.7"/><circle cx="506.7" cy="618.2" r="2.7"/><circle cx="561.8" cy="486.1" r="2.7"/><circle cx="457.8" cy="447.2" r="2.7"/><circle cx="468.9" cy="468.2" r="2.7"/><circle cx="513.1" cy="352.5" r="2.7"/><circle cx="514.1" cy="685.9" r="2.7"/><circle cx="493.2" cy="550.3" r="2.7"/><circle cx="534.0" cy="523.4" r="2.7"/><circle cx="538.4" cy="529.6" r="2.7"/><circle cx="478.3" cy="516.5" r="2.7"/><circle cx="508.1" cy="527.3" r="2.7"/><circle cx="518.3" cy="393.5" r="2.7"/><circle cx="481.9" cy="620.1" r="2.7"/><circle cx="532.9" cy="514.7" r="2.7"/><circle cx="482.5" cy="471.5" r="2.7"/><circle cx="513.8" cy="462.5" r="2.7"/><circle cx="514.1" cy="565.5" r="2.7"/><circle cx="529.8" cy="366.0" r="2.7"/><circle cx="482.0" cy="671.0" r="2.7"/><circle cx="476.3" cy="425.0" r="2.7"/><circle cx="538.4" cy="634.9" r="2.7"/><circle cx="500.4" cy="330.0" r="2.7"/><circle cx="506.4" cy="404.4" r="2.7"/><circle cx="479.8" cy="669.9" r="2.7"/><circle cx="508.0" cy="395.7" r="2.7"/><circle cx="534.7" cy="508.0" r="2.7"/><circle cx="468.2" cy="481.6" r="2.7"/><circle cx="564.4" cy="457.2" r="2.7"/><circle cx="478.3" cy="591.3" r="2.7"/><circle cx="494.8" cy="616.1" r="2.7"/><circle cx="471.3" cy="604.4" r="2.7"/><circle cx="485.3" cy="645.3" r="2.7"/><circle cx="527.2" cy="486.9" r="2.7"/><circle cx="473.3" cy="502.8" r="2.7"/><circle cx="493.4" cy="381.5" r="2.7"/><circle cx="493.8" cy="335.2" r="2.7"/><circle cx="506.5" cy="377.3" r="2.7"/><circle cx="519.0" cy="458.0" r="2.7"/><circle cx="459.4" cy="435.1" r="2.7"/><circle cx="537.8" cy="450.4" r="2.7"/><circle cx="499.3" cy="427.1" r="2.7"/><circle cx="501.6" cy="593.1" r="2.7"/><circle cx="537.9" cy="653.0" r="2.7"/><circle cx="535.1" cy="444.3" r="2.7"/><circle cx="472.6" cy="426.3" r="2.7"/><circle cx="520.6" cy="481.6" r="2.7"/><circle cx="485.2" cy="676.8" r="2.7"/><circle cx="507.0" cy="575.6" r="2.7"/><circle cx="542.3" cy="378.0" r="2.7"/><circle cx="477.5" cy="569.0" r="2.7"/><circle cx="481.9" cy="662.0" r="2.7"/><circle cx="498.4" cy="358.4" r="2.7"/><circle cx="477.6" cy="678.0" r="2.7"/><circle cx="516.6" cy="668.2" r="2.7"/><circle cx="512.9" cy="344.1" r="2.7"/><circle cx="516.2" cy="487.8" r="2.7"/><circle cx="523.5" cy="585.7" r="2.7"/><circle cx="494.3" cy="712.4" r="2.7"/><circle cx="502.4" cy="618.2" r="2.7"/><circle cx="539.2" cy="605.2" r="2.7"/><circle cx="498.0" cy="708.5" r="2.7"/><circle cx="558.9" cy="486.1" r="2.7"/><circle cx="500.6" cy="681.8" r="2.7"/><circle cx="502.7" cy="679.1" r="2.7"/><circle cx="538.7" cy="463.2" r="2.7"/><circle cx="503.2" cy="491.5" r="2.7"/><circle cx="501.2" cy="466.6" r="2.7"/><circle cx="477.3" cy="381.8" r="2.7"/><circle cx="514.1" cy="592.7" r="2.7"/><circle cx="535.4" cy="559.7" r="2.7"/><circle cx="483.5" cy="418.4" r="2.7"/><circle cx="488.2" cy="434.3" r="2.7"/><circle cx="499.0" cy="595.5" r="2.7"/><circle cx="524.3" cy="448.2" r="2.7"/><circle cx="476.2" cy="402.0" r="2.7"/><circle cx="530.8" cy="569.6" r="2.7"/><circle cx="523.8" cy="440.0" r="2.7"/><circle cx="504.4" cy="323.3" r="2.7"/><circle cx="484.8" cy="525.8" r="2.7"/><circle cx="521.5" cy="455.5" r="2.7"/><circle cx="475.5" cy="529.8" r="2.7"/><circle cx="473.7" cy="573.3" r="2.7"/><circle cx="491.4" cy="694.6" r="2.7"/><circle cx="478.7" cy="426.4" r="2.7"/><circle cx="498.8" cy="708.0" r="2.7"/><circle cx="555.6" cy="535.2" r="2.7"/><circle cx="479.0" cy="684.1" r="2.7"/><circle cx="519.6" cy="507.0" r="2.7"/><circle cx="495.2" cy="571.7" r="2.7"/><circle cx="453.2" cy="449.6" r="2.7"/><circle cx="511.4" cy="324.0" r="2.7"/><circle cx="491.4" cy="349.1" r="2.7"/><circle cx="460.4" cy="451.1" r="2.7"/><circle cx="529.1" cy="320.9" r="2.7"/><circle cx="475.4" cy="480.9" r="2.7"/><circle cx="467.9" cy="574.0" r="2.7"/><circle cx="554.7" cy="423.5" r="2.7"/><circle cx="518.3" cy="658.1" r="2.7"/><circle cx="497.6" cy="358.7" r="2.7"/><circle cx="496.1" cy="318.8" r="2.7"/><circle cx="492.2" cy="317.0" r="2.7"/><circle cx="472.4" cy="545.3" r="2.7"/><circle cx="539.6" cy="389.1" r="2.7"/><circle cx="490.1" cy="451.8" r="2.7"/><circle cx="527.2" cy="355.0" r="2.7"/><circle cx="513.1" cy="561.4" r="2.7"/><circle cx="471.7" cy="539.7" r="2.7"/><circle cx="517.6" cy="428.5" r="2.7"/><circle cx="529.6" cy="685.2" r="2.7"/><circle cx="510.7" cy="547.9" r="2.7"/><circle cx="524.4" cy="308.9" r="2.7"/><circle cx="487.8" cy="343.9" r="2.7"/><circle cx="535.6" cy="568.0" r="2.7"/><circle cx="505.3" cy="606.6" r="2.7"/><circle cx="471.4" cy="398.2" r="2.7"/><circle cx="543.2" cy="635.9" r="2.7"/><circle cx="545.3" cy="423.2" r="2.7"/><circle cx="487.2" cy="471.3" r="2.7"/><circle cx="456.4" cy="501.9" r="2.7"/><circle cx="474.9" cy="483.0" r="2.7"/><circle cx="509.2" cy="575.7" r="2.7"/><circle cx="536.9" cy="644.2" r="2.7"/><circle cx="484.5" cy="446.2" r="2.7"/><circle cx="509.3" cy="678.6" r="2.7"/><circle cx="480.2" cy="360.5" r="2.7"/><circle cx="512.8" cy="707.3" r="2.7"/><circle cx="509.6" cy="336.6" r="2.7"/><circle cx="502.1" cy="501.6" r="2.7"/><circle cx="538.3" cy="684.6" r="2.7"/><circle cx="484.9" cy="374.8" r="2.7"/><circle cx="547.5" cy="472.7" r="2.7"/><circle cx="530.3" cy="541.8" r="2.7"/><circle cx="480.4" cy="525.1" r="2.7"/><circle cx="473.0" cy="620.5" r="2.7"/><circle cx="483.1" cy="570.1" r="2.7"/><circle cx="561.8" cy="491.5" r="2.7"/><circle cx="463.4" cy="512.7" r="2.7"/><circle cx="527.3" cy="478.9" r="2.7"/><circle cx="495.5" cy="337.9" r="2.7"/><circle cx="510.7" cy="311.5" r="2.7"/><circle cx="509.4" cy="465.2" r="2.7"/><circle cx="526.1" cy="439.9" r="2.7"/><circle cx="541.5" cy="396.5" r="2.7"/><circle cx="508.6" cy="689.2" r="2.7"/><circle cx="549.2" cy="489.7" r="2.7"/><circle cx="541.7" cy="437.9" r="2.7"/><circle cx="532.7" cy="437.2" r="2.7"/><circle cx="520.6" cy="451.4" r="2.7"/><circle cx="478.8" cy="672.0" r="2.7"/><circle cx="512.1" cy="615.7" r="2.7"/><circle cx="491.7" cy="464.5" r="2.7"/><circle cx="495.0" cy="345.5" r="2.7"/><circle cx="471.7" cy="541.6" r="2.7"/><circle cx="549.4" cy="558.8" r="2.7"/><circle cx="530.2" cy="701.0" r="2.7"/><circle cx="484.8" cy="615.4" r="2.7"/><circle cx="491.4" cy="694.9" r="2.7"/><circle cx="535.6" cy="644.3" r="2.7"/><circle cx="511.0" cy="541.1" r="2.7"/><circle cx="510.7" cy="407.5" r="2.7"/><circle cx="468.6" cy="438.2" r="2.7"/><circle cx="530.0" cy="376.3" r="2.7"/><circle cx="484.7" cy="670.3" r="2.7"/><circle cx="500.0" cy="307.2" r="2.7"/><circle cx="486.8" cy="379.4" r="2.7"/><circle cx="501.4" cy="527.6" r="2.7"/><circle cx="475.4" cy="479.1" r="2.7"/><circle cx="490.5" cy="556.9" r="2.7"/><circle cx="506.3" cy="293.1" r="2.7"/><circle cx="519.8" cy="292.7" r="2.7"/><circle cx="517.7" cy="714.6" r="2.7"/><circle cx="524.8" cy="714.8" r="2.7"/>
</g>
<path d="M989.9,278.2 L989.9,280.2 L989.9,282.2 L989.9,284.2 L989.9,286.2 L989.9,288.2 L989.9,290.2 L989.9,292.2 L989.9,294.2 L989.9,296.2 L989.9,298.2 L989.9,300.2 L989.9,302.2 L989.9,304.2 L989.9,306.2 L989.9,308.2 L989.9,310.2 L989.9,312.2 L989.9,314.2 L989.9,316.2 L989.9,318.2 L989.9,320.2 L989.9,322.2 L989.9,324.2 L989.9,326.2 L989.9,328.2 L989.9,330.2 L989.9,332.2 L989.9,334.2 L989.9,336.2 L989.9,338.2 L989.9,340.2 L989.9,342.2 L989.9,344.2 L989.9,346.2 L989.9,348.2 L989.9,350.2 L989.9,352.2 L989.9,354.2 L989.9,356.2 L989.9,358.2 L989.9,360.2 L989.9,362.2 L989.9,364.2 L989.9,366.2 L989.9,368.2 L989.9,370.2 L989.9,372.2 L989.9,374.2 L989.9,376.2 L989.9,378.2 L989.9,380.2 L989.9,382.2 L989.9,384.2 L989.9,386.2 L990.0,388.2 L990.4,390.2 L990.8,392.2 L991.4,394.2 L991.9,396.2 L992.5,398.2 L993.2,400.2 L994.0,402.2 L994.7,404.2 L995.1,406.2 L995.0,408.2 L994.6,410.2 L994.0,412.2 L993.3,414.2 L992.7,416.2 L992.2,418.2 L992.1,420.2 L992.3,422.2 L992.6,424.2 L993.2,426.2 L993.9,428.2 L994.6,430.2 L995.4,432.2 L996.2,434.2 L997.0,436.2 L997.7,438.2 L998.5,440.2 L999.3,442.2 L1000.2,444.2 L1001.0,446.2 L1001.9,448.2 L1002.9,450.2 L1003.8,452.2 L1004.8,454.2 L1005.8,456.2 L1006.7,458.2 L1007.7,460.2 L1008.6,462.2 L1009.6,464.2 L1010.5,466.2 L1011.4,468.2 L1012.3,470.2 L1013.1,472.2 L1013.9,474.2 L1014.8,476.2 L1015.6,478.2 L1016.5,480.2 L1017.3,482.2 L1018.3,484.2 L1019.2,486.2 L1020.3,488.2 L1021.3,490.2 L1022.5,492.2 L1023.8,494.2 L1025.1,496.2 L1026.7,498.2 L1028.4,500.2 L1030.3,502.2 L1032.4,504.2 L1034.8,506.2 L1037.7,508.2 L1041.2,510.2 L1045.3,512.2 L1050.0,514.2 L1055.5,516.2 L1062.7,518.2 L1071.4,520.2 L1080.9,522.2 L1090.8,524.2 L1100.5,526.2 L1109.6,528.2 L1117.6,530.2 L1125.2,532.2 L1132.6,534.2 L1139.8,536.2 L1146.7,538.2 L1153.5,540.2 L1160.1,542.2 L1166.6,544.2 L1173.0,546.2 L1179.2,548.2 L1185.1,550.2 L1190.4,552.2 L1195.4,554.2 L1200.6,556.2 L1204.8,558.2 L1206.0,560.2 L1203.0,562.2 L1197.2,564.2 L1190.1,566.2 L1183.5,568.2 L1177.2,570.2 L1170.4,572.2 L1163.4,574.2 L1156.1,576.2 L1148.7,578.2 L1141.3,580.2 L1133.9,582.2 L1126.6,584.2 L1119.1,586.2 L1111.5,588.2 L1103.9,590.2 L1096.3,592.2 L1088.8,594.2 L1081.5,596.2 L1074.3,598.2 L1066.7,600.2 L1059.2,602.2 L1052.6,604.2 L1047.9,606.2 L1044.6,608.2 L1041.9,610.2 L1039.6,612.2 L1037.6,614.2 L1035.5,616.2 L1033.2,618.2 L1030.9,620.2 L1028.5,622.2 L1026.1,624.2 L1023.8,626.2 L1021.6,628.2 L1019.6,630.2 L1017.7,632.2 L1015.8,634.2 L1013.8,636.2 L1012.1,638.2 L1011.0,640.2 L1010.8,642.2 L1010.8,644.2 L1010.9,646.2 L1010.9,648.2 L1011.0,650.2 L1011.1,652.2 L1011.1,654.2 L1011.2,656.2 L1011.3,658.2 L1011.3,660.2 L1011.4,662.2 L1011.4,664.2 L1011.2,666.2 L1010.5,668.2 L1009.4,670.2 L1008.0,672.2 L1006.5,674.2 L1005.2,676.2 L1003.9,678.2 L1002.3,680.2 L1000.5,682.2 L998.8,684.2 L997.3,686.2 L996.1,688.2 L995.5,690.2 L995.4,692.2 L995.4,694.2 L995.4,696.2 L995.5,698.2 L995.5,700.2 L995.5,702.2 L995.5,704.2 L995.6,706.2 L995.6,708.2 L995.6,710.2 L995.6,712.2 L995.2,714.2 L994.4,716.2 L993.3,718.2 L992.2,720.2 L991.2,722.2 L990.4,724.2 L990.1,726.2 L990.1,728.2 L990.2,730.2 L990.3,732.2 L990.4,734.2 L990.5,736.2 L990.7,738.2 L990.9,740.2 L991.1,742.2 L991.5,744.2 L992.1,746.2 L992.8,748.2 L993.6,750.2 L994.2,752.2 L994.6,754.2 L994.7,756.2 L994.5,758.2 L994.0,760.2 L993.3,762.2 L992.6,764.2 L991.8,766.2 L991.1,768.2 L990.5,770.2 L990.2,772.2 L990.1,774.2 L990.0,776.2 L990.0,778.2 L989.9,780.2 L989.9,782.2 L989.9,784.2 L989.9,786.2 L989.9,788.2 L989.9,790.2 L989.9,792.2 L989.9,794.2 L989.9,796.2 L989.9,798.2 L989.9,800.2 L989.9,802.2 L989.9,804.2 L989.9,806.2 L989.9,808.2 L989.9,810.2 L989.9,812.2 L989.9,814.2 L989.9,816.2 L989.9,818.2 L989.9,820.2 L989.9,822.2 L989.9,824.2 L989.9,826.2 L989.9,828.2 L989.9,830.2 L989.9,832.2 L989.9,834.2 L989.9,836.2 L989.9,838.2 L989.9,840.2 L989.9,842.2 L989.9,844.2 L989.9,846.2 L989.9,848.2 L989.9,850.2 L990.0,852.2 L990.1,854.2 L990.2,856.2 L990.4,858.2 L990.5,860.2 L990.7,862.2 L990.9,864.2 L991.0,866.2 L991.1,868.2 L991.1,870.2 L991.1,872.2 L991.1,874.2 L991.0,876.2 L990.9,878.2 L990.8,880.2 L990.7,882.2 L990.5,884.2 L990.4,886.2 L990.2,888.2 L990.1,889.0 L988.7,889.0 L988.6,888.2 L988.4,886.2 L988.3,884.2 L988.1,882.2 L988.0,880.2 L987.9,878.2 L987.8,876.2 L987.7,874.2 L987.7,872.2 L987.7,870.2 L987.7,868.2 L987.8,866.2 L987.9,864.2 L988.1,862.2 L988.3,860.2 L988.4,858.2 L988.6,856.2 L988.7,854.2 L988.8,852.2 L988.9,850.2 L988.9,848.2 L988.9,846.2 L988.9,844.2 L988.9,842.2 L988.9,840.2 L988.9,838.2 L988.9,836.2 L988.9,834.2 L988.9,832.2 L988.9,830.2 L988.9,828.2 L988.9,826.2 L988.9,824.2 L988.9,822.2 L988.9,820.2 L988.9,818.2 L988.9,816.2 L988.9,814.2 L988.9,812.2 L988.9,810.2 L988.9,808.2 L988.9,806.2 L988.9,804.2 L988.9,802.2 L988.9,800.2 L988.9,798.2 L988.9,796.2 L988.9,794.2 L988.9,792.2 L988.9,790.2 L988.9,788.2 L988.9,786.2 L988.9,784.2 L988.9,782.2 L988.9,780.2 L988.8,778.2 L988.8,776.2 L988.7,774.2 L988.6,772.2 L988.3,770.2 L987.7,768.2 L987.0,766.2 L986.2,764.2 L985.5,762.2 L984.8,760.2 L984.3,758.2 L984.1,756.2 L984.2,754.2 L984.6,752.2 L985.2,750.2 L986.0,748.2 L986.7,746.2 L987.3,744.2 L987.7,742.2 L987.9,740.2 L988.1,738.2 L988.3,736.2 L988.4,734.2 L988.5,732.2 L988.6,730.2 L988.7,728.2 L988.7,726.2 L988.4,724.2 L987.6,722.2 L986.6,720.2 L985.5,718.2 L984.4,716.2 L983.6,714.2 L983.2,712.2 L983.2,710.2 L983.2,708.2 L983.2,706.2 L983.3,704.2 L983.3,702.2 L983.3,700.2 L983.3,698.2 L983.4,696.2 L983.4,694.2 L983.4,692.2 L983.3,690.2 L982.7,688.2 L981.5,686.2 L980.0,684.2 L978.3,682.2 L976.5,680.2 L974.9,678.2 L973.6,676.2 L972.3,674.2 L970.8,672.2 L969.4,670.2 L968.3,668.2 L967.6,666.2 L967.4,664.2 L967.4,662.2 L967.5,660.2 L967.5,658.2 L967.6,656.2 L967.7,654.2 L967.7,652.2 L967.8,650.2 L967.9,648.2 L967.9,646.2 L968.0,644.2 L968.0,642.2 L967.8,640.2 L966.7,638.2 L965.0,636.2 L963.0,634.2 L961.1,632.2 L959.2,630.2 L957.2,628.2 L955.0,626.2 L952.7,624.2 L950.3,622.2 L947.9,620.2 L945.6,618.2 L943.3,616.2 L941.2,614.2 L939.2,612.2 L936.9,610.2 L934.2,608.2 L930.9,606.2 L926.2,604.2 L919.6,602.2 L912.1,600.2 L904.5,598.2 L897.3,596.2 L890.0,594.2 L882.5,592.2 L874.9,590.2 L867.3,588.2 L859.7,586.2 L852.2,584.2 L844.9,582.2 L837.5,580.2 L830.1,578.2 L822.7,576.2 L815.4,574.2 L808.4,572.2 L801.6,570.2 L795.3,568.2 L788.7,566.2 L781.6,564.2 L775.8,562.2 L772.8,560.2 L774.0,558.2 L778.2,556.2 L783.4,554.2 L788.4,552.2 L793.7,550.2 L799.6,548.2 L805.8,546.2 L812.2,544.2 L818.7,542.2 L825.3,540.2 L832.1,538.2 L839.0,536.2 L846.2,534.2 L853.6,532.2 L861.2,530.2 L869.2,528.2 L878.3,526.2 L888.0,524.2 L897.9,522.2 L907.4,520.2 L916.1,518.2 L923.3,516.2 L928.8,514.2 L933.5,512.2 L937.6,510.2 L941.1,508.2 L944.0,506.2 L946.4,504.2 L948.5,502.2 L950.4,500.2 L952.1,498.2 L953.7,496.2 L955.0,494.2 L956.3,492.2 L957.5,490.2 L958.5,488.2 L959.6,486.2 L960.5,484.2 L961.5,482.2 L962.3,480.2 L963.2,478.2 L964.0,476.2 L964.9,474.2 L965.7,472.2 L966.5,470.2 L967.4,468.2 L968.3,466.2 L969.2,464.2 L970.2,462.2 L971.1,460.2 L972.1,458.2 L973.0,456.2 L974.0,454.2 L975.0,452.2 L975.9,450.2 L976.9,448.2 L977.8,446.2 L978.6,444.2 L979.5,442.2 L980.3,440.2 L981.1,438.2 L981.8,436.2 L982.6,434.2 L983.4,432.2 L984.2,430.2 L984.9,428.2 L985.6,426.2 L986.2,424.2 L986.5,422.2 L986.7,420.2 L986.6,418.2 L986.1,416.2 L985.5,414.2 L984.8,412.2 L984.2,410.2 L983.8,408.2 L983.7,406.2 L984.1,404.2 L984.8,402.2 L985.6,400.2 L986.3,398.2 L986.9,396.2 L987.4,394.2 L988.0,392.2 L988.4,390.2 L988.8,388.2 L988.9,386.2 L988.9,384.2 L988.9,382.2 L988.9,380.2 L988.9,378.2 L988.9,376.2 L988.9,374.2 L988.9,372.2 L988.9,370.2 L988.9,368.2 L988.9,366.2 L988.9,364.2 L988.9,362.2 L988.9,360.2 L988.9,358.2 L988.9,356.2 L988.9,354.2 L988.9,352.2 L988.9,350.2 L988.9,348.2 L988.9,346.2 L988.9,344.2 L988.9,342.2 L988.9,340.2 L988.9,338.2 L988.9,336.2 L988.9,334.2 L988.9,332.2 L988.9,330.2 L988.9,328.2 L988.9,326.2 L988.9,324.2 L988.9,322.2 L988.9,320.2 L988.9,318.2 L988.9,316.2 L988.9,314.2 L988.9,312.2 L988.9,310.2 L988.9,308.2 L988.9,306.2 L988.9,304.2 L988.9,302.2 L988.9,300.2 L988.9,298.2 L988.9,296.2 L988.9,294.2 L988.9,292.2 L988.9,290.2 L988.9,288.2 L988.9,286.2 L988.9,284.2 L988.9,282.2 L988.9,280.2 L988.9,278.2Z" fill="#00807f" stroke="#333333" stroke-width="3.9" stroke-linejoin="round"/>
<g fill="#c0e7eb" stroke="#000" stroke-width="1.15">
<circle cx="1151.2" cy="560.2" r="2.7"/><circle cx="852.9" cy="575.2" r="2.7"/><circle cx="1063.1" cy="519.1" r="2.7"/><circle cx="981.8" cy="466.8" r="2.7"/><circle cx="970.4" cy="655.0" r="2.7"/><circle cx="932.5" cy="524.2" r="2.7"/><circle cx="987.2" cy="502.7" r="2.7"/><circle cx="918.8" cy="567.5" r="2.7"/><circle cx="1021.8" cy="511.4" r="2.7"/><circle cx="1002.7" cy="591.6" r="2.7"/><circle cx="995.8" cy="519.4" r="2.7"/><circle cx="963.1" cy="570.9" r="2.7"/><circle cx="975.8" cy="604.0" r="2.7"/><circle cx="824.1" cy="560.6" r="2.7"/><circle cx="1097.4" cy="565.0" r="2.7"/><circle cx="919.3" cy="581.7" r="2.7"/><circle cx="991.1" cy="707.1" r="2.7"/><circle cx="955.0" cy="553.5" r="2.7"/><circle cx="911.0" cy="588.0" r="2.7"/><circle cx="1068.1" cy="571.9" r="2.7"/><circle cx="1148.9" cy="561.0" r="2.7"/><circle cx="974.6" cy="557.1" r="2.7"/><circle cx="1125.4" cy="540.3" r="2.7"/><circle cx="1056.9" cy="543.5" r="2.7"/><circle cx="1162.6" cy="552.2" r="2.7"/><circle cx="971.3" cy="645.2" r="2.7"/><circle cx="989.5" cy="733.1" r="2.7"/><circle cx="989.2" cy="496.8" r="2.7"/><circle cx="991.9" cy="482.6" r="2.7"/><circle cx="958.4" cy="528.1" r="2.7"/><circle cx="1023.9" cy="542.3" r="2.7"/><circle cx="1072.1" cy="594.9" r="2.7"/><circle cx="1014.0" cy="544.7" r="2.7"/><circle cx="988.9" cy="427.2" r="2.7"/><circle cx="974.4" cy="656.6" r="2.7"/><circle cx="1006.9" cy="605.6" r="2.7"/><circle cx="1081.4" cy="541.3" r="2.7"/><circle cx="1118.5" cy="540.7" r="2.7"/><circle cx="960.8" cy="501.1" r="2.7"/><circle cx="975.6" cy="583.9" r="2.7"/><circle cx="991.7" cy="521.6" r="2.7"/><circle cx="1005.8" cy="541.5" r="2.7"/><circle cx="1088.7" cy="583.1" r="2.7"/><circle cx="994.7" cy="488.5" r="2.7"/><circle cx="988.5" cy="679.3" r="2.7"/><circle cx="887.7" cy="586.5" r="2.7"/><circle cx="998.5" cy="606.8" r="2.7"/><circle cx="1017.3" cy="611.7" r="2.7"/><circle cx="938.5" cy="605.6" r="2.7"/><circle cx="897.9" cy="579.8" r="2.7"/><circle cx="935.0" cy="538.2" r="2.7"/><circle cx="1039.1" cy="567.5" r="2.7"/><circle cx="963.7" cy="631.8" r="2.7"/><circle cx="955.8" cy="529.1" r="2.7"/><circle cx="999.2" cy="594.1" r="2.7"/><circle cx="1100.7" cy="560.8" r="2.7"/><circle cx="915.9" cy="573.3" r="2.7"/><circle cx="986.4" cy="503.1" r="2.7"/><circle cx="999.6" cy="609.1" r="2.7"/><circle cx="986.2" cy="485.0" r="2.7"/><circle cx="1021.2" cy="550.0" r="2.7"/><circle cx="1165.9" cy="567.1" r="2.7"/><circle cx="956.3" cy="545.7" r="2.7"/><circle cx="1135.1" cy="569.3" r="2.7"/><circle cx="980.3" cy="578.6" r="2.7"/><circle cx="986.5" cy="593.4" r="2.7"/><circle cx="980.8" cy="659.0" r="2.7"/><circle cx="1033.2" cy="516.9" r="2.7"/><circle cx="1104.8" cy="541.5" r="2.7"/><circle cx="992.8" cy="569.1" r="2.7"/><circle cx="1012.1" cy="503.1" r="2.7"/><circle cx="1018.4" cy="492.6" r="2.7"/><circle cx="968.3" cy="607.9" r="2.7"/><circle cx="1041.1" cy="517.1" r="2.7"/><circle cx="829.5" cy="558.1" r="2.7"/><circle cx="880.8" cy="559.5" r="2.7"/><circle cx="1045.0" cy="552.0" r="2.7"/><circle cx="1011.1" cy="622.9" r="2.7"/><circle cx="984.9" cy="524.0" r="2.7"/><circle cx="1199.2" cy="559.1" r="2.7"/><circle cx="990.2" cy="502.9" r="2.7"/><circle cx="982.0" cy="622.5" r="2.7"/><circle cx="1006.5" cy="537.6" r="2.7"/><circle cx="1138.1" cy="543.9" r="2.7"/><circle cx="966.8" cy="502.1" r="2.7"/><circle cx="1005.6" cy="501.7" r="2.7"/><circle cx="1121.3" cy="541.1" r="2.7"/><circle cx="1029.9" cy="613.7" r="2.7"/><circle cx="838.6" cy="537.0" r="2.7"/><circle cx="1168.4" cy="550.2" r="2.7"/><circle cx="875.6" cy="585.7" r="2.7"/><circle cx="1120.4" cy="578.2" r="2.7"/><circle cx="997.9" cy="662.9" r="2.7"/><circle cx="1031.9" cy="603.8" r="2.7"/><circle cx="840.5" cy="547.6" r="2.7"/><circle cx="883.0" cy="581.1" r="2.7"/><circle cx="1180.7" cy="550.0" r="2.7"/><circle cx="998.3" cy="564.6" r="2.7"/><circle cx="981.1" cy="645.2" r="2.7"/><circle cx="989.7" cy="863.4" r="2.7"/><circle cx="924.6" cy="548.2" r="2.7"/><circle cx="1043.9" cy="516.7" r="2.7"/><circle cx="874.1" cy="528.1" r="2.7"/><circle cx="998.8" cy="612.5" r="2.7"/><circle cx="1068.2" cy="575.0" r="2.7"/><circle cx="970.0" cy="477.7" r="2.7"/><circle cx="796.5" cy="559.7" r="2.7"/><circle cx="1090.8" cy="560.2" r="2.7"/><circle cx="1030.0" cy="573.6" r="2.7"/><circle cx="976.3" cy="480.4" r="2.7"/><circle cx="955.5" cy="615.2" r="2.7"/><circle cx="799.5" cy="562.4" r="2.7"/><circle cx="975.6" cy="637.5" r="2.7"/><circle cx="1008.0" cy="552.2" r="2.7"/><circle cx="1120.9" cy="580.0" r="2.7"/><circle cx="946.0" cy="582.3" r="2.7"/><circle cx="1003.8" cy="497.6" r="2.7"/><circle cx="970.6" cy="666.9" r="2.7"/><circle cx="909.2" cy="587.2" r="2.7"/><circle cx="998.9" cy="556.5" r="2.7"/><circle cx="1173.3" cy="569.5" r="2.7"/><circle cx="954.3" cy="576.6" r="2.7"/><circle cx="979.3" cy="579.6" r="2.7"/><circle cx="935.8" cy="552.4" r="2.7"/><circle cx="895.6" cy="559.1" r="2.7"/><circle cx="887.2" cy="535.4" r="2.7"/><circle cx="904.4" cy="554.9" r="2.7"/><circle cx="1048.7" cy="597.5" r="2.7"/><circle cx="1032.6" cy="546.1" r="2.7"/><circle cx="977.3" cy="617.2" r="2.7"/><circle cx="966.2" cy="564.2" r="2.7"/><circle cx="1151.5" cy="572.9" r="2.7"/><circle cx="1060.9" cy="519.6" r="2.7"/><circle cx="1090.7" cy="574.4" r="2.7"/><circle cx="1124.1" cy="571.3" r="2.7"/><circle cx="1062.6" cy="544.5" r="2.7"/><circle cx="992.1" cy="538.0" r="2.7"/><circle cx="890.6" cy="576.0" r="2.7"/><circle cx="1006.6" cy="489.9" r="2.7"/><circle cx="1023.8" cy="592.4" r="2.7"/><circle cx="1044.7" cy="544.1" r="2.7"/><circle cx="1001.8" cy="501.7" r="2.7"/><circle cx="1036.1" cy="566.0" r="2.7"/><circle cx="875.8" cy="555.3" r="2.7"/><circle cx="978.9" cy="581.1" r="2.7"/><circle cx="951.8" cy="583.3" r="2.7"/><circle cx="992.8" cy="503.3" r="2.7"/><circle cx="1145.7" cy="570.3" r="2.7"/><circle cx="946.4" cy="611.7" r="2.7"/><circle cx="929.5" cy="586.7" r="2.7"/><circle cx="951.2" cy="577.8" r="2.7"/><circle cx="985.3" cy="544.1" r="2.7"/><circle cx="1071.7" cy="562.2" r="2.7"/><circle cx="1053.7" cy="571.7" r="2.7"/><circle cx="1057.8" cy="550.0" r="2.7"/><circle cx="1028.5" cy="546.3" r="2.7"/><circle cx="1015.7" cy="556.5" r="2.7"/><circle cx="989.4" cy="454.6" r="2.7"/><circle cx="958.4" cy="532.7" r="2.7"/><circle cx="1000.1" cy="496.8" r="2.7"/><circle cx="975.9" cy="613.7" r="2.7"/><circle cx="1001.3" cy="510.2" r="2.7"/><circle cx="1041.3" cy="516.9" r="2.7"/><circle cx="972.3" cy="515.5" r="2.7"/><circle cx="825.6" cy="559.3" r="2.7"/><circle cx="911.5" cy="543.7" r="2.7"/><circle cx="1137.7" cy="579.4" r="2.7"/><circle cx="1098.1" cy="548.0" r="2.7"/><circle cx="1002.0" cy="520.0" r="2.7"/><circle cx="903.0" cy="554.3" r="2.7"/><circle cx="1036.5" cy="594.7" r="2.7"/><circle cx="959.3" cy="518.5" r="2.7"/><circle cx="1084.9" cy="594.3" r="2.7"/><circle cx="1129.5" cy="569.3" r="2.7"/><circle cx="994.6" cy="680.1" r="2.7"/><circle cx="889.9" cy="572.3" r="2.7"/><circle cx="1036.2" cy="548.8" r="2.7"/><circle cx="977.7" cy="628.8" r="2.7"/><circle cx="802.4" cy="551.0" r="2.7"/><circle cx="971.4" cy="577.6" r="2.7"/><circle cx="930.4" cy="590.6" r="2.7"/><circle cx="1049.4" cy="573.8" r="2.7"/><circle cx="858.2" cy="556.9" r="2.7"/><circle cx="1086.1" cy="551.6" r="2.7"/><circle cx="891.7" cy="528.5" r="2.7"/><circle cx="877.8" cy="556.7" r="2.7"/><circle cx="1058.7" cy="591.0" r="2.7"/><circle cx="1002.5" cy="642.8" r="2.7"/><circle cx="878.2" cy="572.5" r="2.7"/><circle cx="1032.6" cy="594.9" r="2.7"/><circle cx="1043.7" cy="583.5" r="2.7"/><circle cx="953.2" cy="596.3" r="2.7"/><circle cx="995.2" cy="575.2" r="2.7"/><circle cx="927.3" cy="545.5" r="2.7"/><circle cx="987.8" cy="523.0" r="2.7"/><circle cx="959.8" cy="548.6" r="2.7"/><circle cx="1015.9" cy="600.8" r="2.7"/><circle cx="1149.4" cy="576.0" r="2.7"/><circle cx="991.5" cy="532.3" r="2.7"/><circle cx="980.4" cy="505.3" r="2.7"/><circle cx="973.4" cy="647.4" r="2.7"/><circle cx="1086.1" cy="584.9" r="2.7"/><circle cx="1117.0" cy="560.4" r="2.7"/><circle cx="929.1" cy="554.9" r="2.7"/><circle cx="858.5" cy="560.2" r="2.7"/><circle cx="923.2" cy="542.7" r="2.7"/><circle cx="988.1" cy="691.7" r="2.7"/><circle cx="1112.0" cy="533.8" r="2.7"/><circle cx="1061.0" cy="519.6" r="2.7"/><circle cx="1010.4" cy="601.2" r="2.7"/><circle cx="866.9" cy="553.7" r="2.7"/><circle cx="949.4" cy="510.6" r="2.7"/><circle cx="955.4" cy="546.8" r="2.7"/><circle cx="991.7" cy="627.1" r="2.7"/><circle cx="991.1" cy="701.6" r="2.7"/><circle cx="998.4" cy="521.2" r="2.7"/><circle cx="899.8" cy="523.8" r="2.7"/><circle cx="983.2" cy="641.6" r="2.7"/><circle cx="894.5" cy="528.5" r="2.7"/><circle cx="975.8" cy="573.1" r="2.7"/><circle cx="993.3" cy="445.5" r="2.7"/><circle cx="1074.5" cy="537.2" r="2.7"/><circle cx="1004.6" cy="558.7" r="2.7"/><circle cx="1063.1" cy="556.3" r="2.7"/><circle cx="991.7" cy="699.2" r="2.7"/><circle cx="989.1" cy="494.4" r="2.7"/><circle cx="876.2" cy="534.6" r="2.7"/><circle cx="927.7" cy="529.3" r="2.7"/><circle cx="999.0" cy="655.8" r="2.7"/><circle cx="1017.8" cy="601.2" r="2.7"/><circle cx="951.8" cy="543.5" r="2.7"/><circle cx="904.5" cy="554.9" r="2.7"/><circle cx="1098.6" cy="553.3" r="2.7"/><circle cx="973.9" cy="497.6" r="2.7"/><circle cx="1064.4" cy="557.9" r="2.7"/><circle cx="1069.4" cy="572.5" r="2.7"/><circle cx="957.7" cy="510.2" r="2.7"/><circle cx="915.1" cy="542.7" r="2.7"/><circle cx="1120.7" cy="584.7" r="2.7"/><circle cx="835.7" cy="576.2" r="2.7"/><circle cx="1090.5" cy="541.7" r="2.7"/><circle cx="995.2" cy="627.5" r="2.7"/><circle cx="936.3" cy="546.8" r="2.7"/><circle cx="1121.9" cy="571.3" r="2.7"/><circle cx="877.7" cy="545.9" r="2.7"/><circle cx="988.7" cy="398.6" r="2.7"/><circle cx="1007.6" cy="600.8" r="2.7"/><circle cx="986.0" cy="701.8" r="2.7"/><circle cx="1100.7" cy="548.4" r="2.7"/><circle cx="839.8" cy="574.0" r="2.7"/><circle cx="1043.6" cy="551.4" r="2.7"/><circle cx="973.7" cy="576.8" r="2.7"/><circle cx="1099.7" cy="528.3" r="2.7"/><circle cx="1081.0" cy="556.9" r="2.7"/><circle cx="812.9" cy="562.6" r="2.7"/><circle cx="864.3" cy="534.8" r="2.7"/><circle cx="917.4" cy="528.7" r="2.7"/><circle cx="918.1" cy="552.6" r="2.7"/><circle cx="1107.9" cy="548.0" r="2.7"/><circle cx="977.0" cy="459.3" r="2.7"/><circle cx="996.5" cy="592.2" r="2.7"/><circle cx="894.0" cy="554.7" r="2.7"/><circle cx="873.1" cy="563.2" r="2.7"/><circle cx="1032.3" cy="602.6" r="2.7"/><circle cx="823.3" cy="544.1" r="2.7"/><circle cx="969.8" cy="611.5" r="2.7"/><circle cx="1114.1" cy="573.6" r="2.7"/><circle cx="1069.1" cy="590.8" r="2.7"/><circle cx="1136.0" cy="558.9" r="2.7"/><circle cx="890.3" cy="556.5" r="2.7"/><circle cx="919.2" cy="558.1" r="2.7"/><circle cx="1074.1" cy="586.1" r="2.7"/><circle cx="936.0" cy="520.2" r="2.7"/><circle cx="975.3" cy="549.8" r="2.7"/><circle cx="1006.6" cy="652.7" r="2.7"/><circle cx="998.5" cy="662.3" r="2.7"/><circle cx="912.8" cy="575.6" r="2.7"/><circle cx="800.5" cy="549.0" r="2.7"/><circle cx="949.9" cy="596.7" r="2.7"/><circle cx="976.1" cy="499.5" r="2.7"/><circle cx="1067.7" cy="544.1" r="2.7"/><circle cx="988.7" cy="425.2" r="2.7"/><circle cx="1021.6" cy="614.8" r="2.7"/><circle cx="1011.0" cy="570.9" r="2.7"/><circle cx="1091.7" cy="533.0" r="2.7"/><circle cx="992.8" cy="585.3" r="2.7"/><circle cx="933.6" cy="524.0" r="2.7"/><circle cx="924.8" cy="549.4" r="2.7"/><circle cx="983.9" cy="489.7" r="2.7"/><circle cx="901.2" cy="555.5" r="2.7"/><circle cx="924.7" cy="550.0" r="2.7"/><circle cx="1034.8" cy="549.2" r="2.7"/><circle cx="859.7" cy="559.5" r="2.7"/><circle cx="992.4" cy="590.2" r="2.7"/><circle cx="1078.7" cy="556.3" r="2.7"/><circle cx="1083.9" cy="584.1" r="2.7"/><circle cx="1024.0" cy="592.8" r="2.7"/><circle cx="887.4" cy="580.5" r="2.7"/><circle cx="911.9" cy="578.0" r="2.7"/><circle cx="874.1" cy="537.2" r="2.7"/><circle cx="801.5" cy="551.0" r="2.7"/><circle cx="1075.8" cy="573.6" r="2.7"/><circle cx="898.0" cy="587.4" r="2.7"/><circle cx="1111.0" cy="571.9" r="2.7"/><circle cx="976.1" cy="472.7" r="2.7"/><circle cx="977.5" cy="538.4" r="2.7"/><circle cx="997.7" cy="525.8" r="2.7"/><circle cx="1045.6" cy="546.1" r="2.7"/><circle cx="1068.2" cy="562.2" r="2.7"/><circle cx="1050.5" cy="536.0" r="2.7"/><circle cx="1052.8" cy="582.1" r="2.7"/><circle cx="1018.0" cy="494.0" r="2.7"/><circle cx="898.7" cy="566.0" r="2.7"/><circle cx="996.6" cy="554.3" r="2.7"/><circle cx="881.8" cy="561.2" r="2.7"/><circle cx="947.2" cy="538.0" r="2.7"/><circle cx="974.4" cy="588.2" r="2.7"/><circle cx="987.2" cy="474.7" r="2.7"/><circle cx="866.1" cy="530.3" r="2.7"/><circle cx="982.3" cy="671.2" r="2.7"/><circle cx="929.9" cy="562.8" r="2.7"/><circle cx="1011.1" cy="485.0" r="2.7"/><circle cx="974.5" cy="634.7" r="2.7"/><circle cx="938.8" cy="552.8" r="2.7"/><circle cx="1022.8" cy="525.0" r="2.7"/><circle cx="1051.7" cy="588.2" r="2.7"/><circle cx="827.7" cy="575.4" r="2.7"/><circle cx="993.5" cy="534.0" r="2.7"/><circle cx="953.9" cy="578.4" r="2.7"/><circle cx="1130.6" cy="555.5" r="2.7"/><circle cx="981.7" cy="461.5" r="2.7"/><circle cx="1151.1" cy="540.9" r="2.7"/><circle cx="863.1" cy="533.8" r="2.7"/><circle cx="1049.3" cy="552.8" r="2.7"/><circle cx="1051.4" cy="522.6" r="2.7"/><circle cx="1039.8" cy="529.5" r="2.7"/><circle cx="1065.2" cy="524.2" r="2.7"/><circle cx="1047.9" cy="530.3" r="2.7"/><circle cx="948.3" cy="597.9" r="2.7"/><circle cx="996.7" cy="505.5" r="2.7"/><circle cx="980.5" cy="559.5" r="2.7"/><circle cx="980.5" cy="588.2" r="2.7"/><circle cx="983.9" cy="559.5" r="2.7"/><circle cx="950.0" cy="556.1" r="2.7"/><circle cx="949.2" cy="524.0" r="2.7"/><circle cx="911.6" cy="538.0" r="2.7"/><circle cx="897.3" cy="588.4" r="2.7"/><circle cx="996.2" cy="530.7" r="2.7"/><circle cx="900.3" cy="543.1" r="2.7"/><circle cx="990.2" cy="549.0" r="2.7"/><circle cx="1147.6" cy="575.4" r="2.7"/><circle cx="979.3" cy="601.0" r="2.7"/><circle cx="954.4" cy="555.7" r="2.7"/><circle cx="1119.4" cy="535.0" r="2.7"/><circle cx="970.5" cy="494.0" r="2.7"/><circle cx="1020.3" cy="574.0" r="2.7"/><circle cx="1129.3" cy="539.7" r="2.7"/><circle cx="1027.7" cy="552.2" r="2.7"/><circle cx="1021.8" cy="504.7" r="2.7"/><circle cx="979.2" cy="509.4" r="2.7"/><circle cx="1033.5" cy="610.9" r="2.7"/><circle cx="1017.0" cy="617.8" r="2.7"/><circle cx="856.8" cy="534.4" r="2.7"/><circle cx="807.9" cy="555.7" r="2.7"/><circle cx="970.1" cy="656.4" r="2.7"/><circle cx="885.3" cy="544.3" r="2.7"/><circle cx="989.4" cy="449.1" r="2.7"/><circle cx="1017.2" cy="497.8" r="2.7"/><circle cx="947.0" cy="576.6" r="2.7"/><circle cx="1037.8" cy="598.5" r="2.7"/><circle cx="1111.6" cy="544.5" r="2.7"/><circle cx="996.0" cy="630.6" r="2.7"/><circle cx="1136.7" cy="547.0" r="2.7"/><circle cx="983.5" cy="640.7" r="2.7"/><circle cx="1018.2" cy="502.7" r="2.7"/><circle cx="897.6" cy="574.4" r="2.7"/><circle cx="911.9" cy="565.2" r="2.7"/><circle cx="978.7" cy="624.7" r="2.7"/><circle cx="876.8" cy="529.5" r="2.7"/><circle cx="1166.8" cy="546.1" r="2.7"/><circle cx="978.1" cy="532.5" r="2.7"/><circle cx="970.2" cy="666.7" r="2.7"/><circle cx="1095.7" cy="541.3" r="2.7"/><circle cx="1026.8" cy="506.6" r="2.7"/><circle cx="927.5" cy="597.1" r="2.7"/><circle cx="1011.0" cy="567.5" r="2.7"/><circle cx="927.6" cy="577.4" r="2.7"/><circle cx="889.4" cy="550.0" r="2.7"/><circle cx="882.5" cy="541.1" r="2.7"/><circle cx="1021.8" cy="618.0" r="2.7"/><circle cx="1061.4" cy="547.8" r="2.7"/><circle cx="895.5" cy="558.9" r="2.7"/><circle cx="1159.8" cy="546.8" r="2.7"/><circle cx="1017.8" cy="545.9" r="2.7"/><circle cx="981.6" cy="642.8" r="2.7"/><circle cx="909.3" cy="592.4" r="2.7"/><circle cx="1077.4" cy="581.9" r="2.7"/><circle cx="1069.7" cy="597.7" r="2.7"/><circle cx="1135.7" cy="579.2" r="2.7"/><circle cx="996.3" cy="539.7" r="2.7"/><circle cx="878.9" cy="531.9" r="2.7"/><circle cx="1079.5" cy="554.7" r="2.7"/><circle cx="872.0" cy="587.8" r="2.7"/><circle cx="979.6" cy="640.1" r="2.7"/><circle cx="1098.9" cy="541.1" r="2.7"/><circle cx="1011.3" cy="613.9" r="2.7"/><circle cx="976.2" cy="545.1" r="2.7"/><circle cx="964.7" cy="597.1" r="2.7"/><circle cx="1049.3" cy="591.8" r="2.7"/><circle cx="1156.9" cy="557.1" r="2.7"/><circle cx="1085.8" cy="550.0" r="2.7"/><circle cx="928.7" cy="571.9" r="2.7"/><circle cx="1034.1" cy="562.4" r="2.7"/><circle cx="826.0" cy="562.8" r="2.7"/><circle cx="993.1" cy="705.3" r="2.7"/><circle cx="1009.1" cy="473.9" r="2.7"/><circle cx="831.1" cy="562.2" r="2.7"/><circle cx="976.5" cy="594.5" r="2.7"/><circle cx="1089.2" cy="579.4" r="2.7"/><circle cx="800.3" cy="562.8" r="2.7"/><circle cx="1026.2" cy="594.9" r="2.7"/><circle cx="971.5" cy="620.4" r="2.7"/><circle cx="1077.2" cy="588.8" r="2.7"/><circle cx="956.3" cy="547.2" r="2.7"/><circle cx="812.8" cy="545.3" r="2.7"/><circle cx="941.9" cy="534.2" r="2.7"/><circle cx="1016.8" cy="511.2" r="2.7"/><circle cx="1017.0" cy="553.7" r="2.7"/><circle cx="944.1" cy="540.3" r="2.7"/><circle cx="981.3" cy="584.3" r="2.7"/><circle cx="959.6" cy="567.9" r="2.7"/><circle cx="1152.2" cy="564.4" r="2.7"/><circle cx="995.3" cy="538.4" r="2.7"/><circle cx="854.6" cy="576.6" r="2.7"/><circle cx="989.4" cy="657.8" r="2.7"/><circle cx="1065.8" cy="535.8" r="2.7"/><circle cx="1015.3" cy="593.6" r="2.7"/><circle cx="960.1" cy="623.3" r="2.7"/><circle cx="1092.4" cy="562.0" r="2.7"/><circle cx="999.4" cy="623.5" r="2.7"/><circle cx="946.6" cy="568.3" r="2.7"/><circle cx="1011.4" cy="565.6" r="2.7"/><circle cx="1016.6" cy="618.2" r="2.7"/><circle cx="1109.8" cy="582.3" r="2.7"/><circle cx="1006.3" cy="492.8" r="2.7"/><circle cx="1095.3" cy="556.7" r="2.7"/><circle cx="978.5" cy="541.5" r="2.7"/><circle cx="902.7" cy="595.3" r="2.7"/><circle cx="985.6" cy="540.9" r="2.7"/><circle cx="955.8" cy="600.8" r="2.7"/><circle cx="941.0" cy="594.9" r="2.7"/><circle cx="1007.5" cy="542.1" r="2.7"/><circle cx="1122.8" cy="573.1" r="2.7"/><circle cx="963.2" cy="608.7" r="2.7"/><circle cx="1026.7" cy="583.3" r="2.7"/><circle cx="1096.2" cy="550.2" r="2.7"/><circle cx="987.5" cy="615.2" r="2.7"/><circle cx="962.9" cy="623.3" r="2.7"/><circle cx="1044.0" cy="525.0" r="2.7"/><circle cx="1018.3" cy="542.5" r="2.7"/><circle cx="837.5" cy="559.5" r="2.7"/><circle cx="1054.0" cy="584.5" r="2.7"/><circle cx="949.3" cy="521.0" r="2.7"/><circle cx="1079.4" cy="591.0" r="2.7"/><circle cx="989.6" cy="605.8" r="2.7"/><circle cx="968.8" cy="548.4" r="2.7"/><circle cx="988.5" cy="526.7" r="2.7"/><circle cx="894.1" cy="534.2" r="2.7"/><circle cx="822.2" cy="549.6" r="2.7"/><circle cx="1072.4" cy="557.3" r="2.7"/><circle cx="1156.9" cy="572.9" r="2.7"/><circle cx="1002.6" cy="610.9" r="2.7"/><circle cx="984.4" cy="615.4" r="2.7"/><circle cx="942.0" cy="590.8" r="2.7"/><circle cx="1192.8" cy="562.0" r="2.7"/><circle cx="992.0" cy="568.1" r="2.7"/><circle cx="945.5" cy="589.0" r="2.7"/><circle cx="903.8" cy="596.5" r="2.7"/><circle cx="896.5" cy="535.0" r="2.7"/><circle cx="1124.6" cy="537.2" r="2.7"/><circle cx="982.6" cy="461.9" r="2.7"/><circle cx="1070.6" cy="565.8" r="2.7"/><circle cx="960.5" cy="587.2" r="2.7"/><circle cx="1085.0" cy="532.7" r="2.7"/><circle cx="935.6" cy="515.5" r="2.7"/><circle cx="987.3" cy="534.2" r="2.7"/><circle cx="998.3" cy="639.9" r="2.7"/><circle cx="998.0" cy="565.0" r="2.7"/><circle cx="1029.9" cy="577.4" r="2.7"/><circle cx="843.4" cy="545.5" r="2.7"/><circle cx="1060.4" cy="530.1" r="2.7"/><circle cx="1097.5" cy="571.3" r="2.7"/><circle cx="1009.0" cy="479.2" r="2.7"/><circle cx="1153.3" cy="549.8" r="2.7"/><circle cx="1007.7" cy="567.7" r="2.7"/><circle cx="1013.9" cy="594.1" r="2.7"/><circle cx="874.7" cy="575.4" r="2.7"/><circle cx="934.6" cy="568.5" r="2.7"/><circle cx="964.0" cy="497.6" r="2.7"/><circle cx="888.2" cy="558.1" r="2.7"/><circle cx="892.4" cy="585.9" r="2.7"/><circle cx="1000.2" cy="449.3" r="2.7"/><circle cx="992.8" cy="543.1" r="2.7"/><circle cx="913.5" cy="531.3" r="2.7"/><circle cx="1103.8" cy="551.6" r="2.7"/><circle cx="1004.7" cy="475.1" r="2.7"/><circle cx="989.9" cy="700.0" r="2.7"/><circle cx="890.3" cy="547.8" r="2.7"/><circle cx="948.5" cy="527.7" r="2.7"/><circle cx="916.9" cy="600.8" r="2.7"/><circle cx="1028.8" cy="588.8" r="2.7"/><circle cx="977.1" cy="456.4" r="2.7"/><circle cx="1038.8" cy="582.1" r="2.7"/><circle cx="989.2" cy="279.4" r="2.7"/><circle cx="989.1" cy="888.4" r="2.7"/>
</g>
<path d="M1592.7,298.9 L1592.8,300.9 L1592.8,302.9 L1592.9,304.9 L1593.1,306.9 L1593.2,308.9 L1593.3,310.9 L1593.5,312.9 L1593.6,314.9 L1593.8,316.9 L1594.0,318.9 L1594.2,320.9 L1594.3,322.9 L1594.6,324.9 L1594.8,326.9 L1595.1,328.9 L1595.3,330.9 L1595.6,332.9 L1596.0,334.9 L1596.3,336.9 L1596.6,338.9 L1596.9,340.9 L1597.3,342.9 L1597.7,344.9 L1598.1,346.9 L1598.5,348.9 L1599.0,350.9 L1599.5,352.9 L1599.9,354.9 L1600.4,356.9 L1600.8,358.9 L1601.2,360.9 L1601.6,362.9 L1602.0,364.9 L1602.3,366.9 L1602.6,368.9 L1602.9,370.9 L1603.2,372.9 L1603.5,374.9 L1603.8,376.9 L1604.1,378.9 L1604.4,380.9 L1604.7,382.9 L1605.0,384.9 L1605.3,386.9 L1605.6,388.9 L1605.9,390.9 L1606.2,392.9 L1606.5,394.9 L1606.8,396.9 L1607.1,398.9 L1607.4,400.9 L1607.7,402.9 L1608.0,404.9 L1608.2,406.9 L1608.5,408.9 L1608.8,410.9 L1609.1,412.9 L1609.4,414.9 L1609.7,416.9 L1610.0,418.9 L1610.4,420.9 L1610.7,422.9 L1611.1,424.9 L1611.6,426.9 L1612.0,428.9 L1612.5,430.9 L1613.1,432.9 L1613.6,434.9 L1614.1,436.9 L1614.7,438.9 L1615.2,440.9 L1615.8,442.9 L1616.3,444.9 L1616.8,446.9 L1617.4,448.9 L1617.9,450.9 L1618.4,452.9 L1619.0,454.9 L1619.5,456.9 L1620.1,458.9 L1620.6,460.9 L1621.2,462.9 L1621.8,464.9 L1622.4,466.9 L1623.0,468.9 L1623.6,470.9 L1624.2,472.9 L1624.9,474.9 L1625.5,476.9 L1626.2,478.9 L1626.8,480.9 L1627.4,482.9 L1628.1,484.9 L1628.7,486.9 L1629.3,488.9 L1629.9,490.9 L1630.4,492.9 L1631.0,494.9 L1631.6,496.9 L1632.2,498.9 L1632.9,500.9 L1633.6,502.9 L1634.3,504.9 L1635.1,506.9 L1635.9,508.9 L1636.9,510.9 L1637.9,512.9 L1638.9,514.9 L1640.0,516.9 L1641.0,518.9 L1642.1,520.9 L1643.1,522.9 L1644.0,524.9 L1644.9,526.9 L1645.8,528.9 L1646.6,530.9 L1647.5,532.9 L1648.3,534.9 L1649.2,536.9 L1649.9,538.9 L1650.7,540.9 L1651.4,542.9 L1652.0,544.9 L1652.5,546.9 L1653.1,548.9 L1653.6,550.9 L1654.2,552.9 L1654.7,554.9 L1655.1,556.9 L1655.4,558.9 L1655.6,560.9 L1655.7,562.9 L1655.7,564.9 L1655.5,566.9 L1655.4,568.9 L1655.2,570.9 L1655.0,572.9 L1654.7,574.9 L1654.5,576.9 L1654.2,578.9 L1654.0,580.9 L1653.7,582.9 L1653.4,584.9 L1653.1,586.9 L1652.7,588.9 L1652.4,590.9 L1652.1,592.9 L1651.8,594.9 L1651.6,596.9 L1651.4,598.9 L1651.2,600.9 L1651.0,602.9 L1650.8,604.9 L1650.6,606.9 L1650.5,608.9 L1650.3,610.9 L1650.2,612.9 L1650.1,614.9 L1650.1,616.9 L1650.1,618.9 L1650.2,620.9 L1650.3,622.9 L1650.4,624.9 L1650.6,626.9 L1650.9,628.9 L1651.1,630.9 L1651.4,632.9 L1651.6,634.9 L1651.9,636.9 L1652.2,638.9 L1652.5,640.9 L1652.8,642.9 L1653.3,644.9 L1653.7,646.9 L1654.2,648.9 L1654.6,650.9 L1655.0,652.9 L1655.3,654.9 L1655.5,656.9 L1655.6,658.9 L1655.6,660.9 L1655.6,662.9 L1655.7,664.9 L1655.7,666.9 L1655.7,668.9 L1655.7,670.9 L1655.7,672.9 L1655.6,674.9 L1655.1,676.9 L1654.4,678.9 L1653.5,680.9 L1652.5,682.9 L1651.4,684.9 L1650.3,686.9 L1648.9,688.9 L1647.2,690.9 L1645.4,692.9 L1643.5,694.9 L1641.5,696.9 L1639.6,698.9 L1637.8,700.9 L1636.0,702.9 L1634.2,704.9 L1632.4,706.9 L1630.5,708.9 L1628.6,710.9 L1626.7,712.9 L1625.5,714.2 L1552.5,714.2 L1551.3,712.9 L1549.4,710.9 L1547.5,708.9 L1545.6,706.9 L1543.8,704.9 L1542.0,702.9 L1540.2,700.9 L1538.4,698.9 L1536.5,696.9 L1534.5,694.9 L1532.6,692.9 L1530.8,690.9 L1529.1,688.9 L1527.7,686.9 L1526.6,684.9 L1525.5,682.9 L1524.5,680.9 L1523.6,678.9 L1522.9,676.9 L1522.4,674.9 L1522.3,672.9 L1522.3,670.9 L1522.3,668.9 L1522.3,666.9 L1522.3,664.9 L1522.4,662.9 L1522.4,660.9 L1522.4,658.9 L1522.5,656.9 L1522.7,654.9 L1523.0,652.9 L1523.4,650.9 L1523.8,648.9 L1524.3,646.9 L1524.7,644.9 L1525.2,642.9 L1525.5,640.9 L1525.8,638.9 L1526.1,636.9 L1526.4,634.9 L1526.6,632.9 L1526.9,630.9 L1527.1,628.9 L1527.4,626.9 L1527.6,624.9 L1527.7,622.9 L1527.8,620.9 L1527.9,618.9 L1527.9,616.9 L1527.9,614.9 L1527.8,612.9 L1527.7,610.9 L1527.5,608.9 L1527.4,606.9 L1527.2,604.9 L1527.0,602.9 L1526.8,600.9 L1526.6,598.9 L1526.4,596.9 L1526.2,594.9 L1525.9,592.9 L1525.6,590.9 L1525.3,588.9 L1524.9,586.9 L1524.6,584.9 L1524.3,582.9 L1524.0,580.9 L1523.8,578.9 L1523.5,576.9 L1523.3,574.9 L1523.0,572.9 L1522.8,570.9 L1522.6,568.9 L1522.5,566.9 L1522.3,564.9 L1522.3,562.9 L1522.4,560.9 L1522.6,558.9 L1522.9,556.9 L1523.3,554.9 L1523.8,552.9 L1524.4,550.9 L1524.9,548.9 L1525.5,546.9 L1526.0,544.9 L1526.6,542.9 L1527.3,540.9 L1528.1,538.9 L1528.8,536.9 L1529.7,534.9 L1530.5,532.9 L1531.4,530.9 L1532.2,528.9 L1533.1,526.9 L1534.0,524.9 L1534.9,522.9 L1535.9,520.9 L1537.0,518.9 L1538.0,516.9 L1539.1,514.9 L1540.1,512.9 L1541.1,510.9 L1542.1,508.9 L1542.9,506.9 L1543.7,504.9 L1544.4,502.9 L1545.1,500.9 L1545.8,498.9 L1546.4,496.9 L1547.0,494.9 L1547.6,492.9 L1548.1,490.9 L1548.7,488.9 L1549.3,486.9 L1549.9,484.9 L1550.6,482.9 L1551.2,480.9 L1551.8,478.9 L1552.5,476.9 L1553.1,474.9 L1553.8,472.9 L1554.4,470.9 L1555.0,468.9 L1555.6,466.9 L1556.2,464.9 L1556.8,462.9 L1557.4,460.9 L1557.9,458.9 L1558.5,456.9 L1559.0,454.9 L1559.6,452.9 L1560.1,450.9 L1560.6,448.9 L1561.2,446.9 L1561.7,444.9 L1562.2,442.9 L1562.8,440.9 L1563.3,438.9 L1563.9,436.9 L1564.4,434.9 L1564.9,432.9 L1565.5,430.9 L1566.0,428.9 L1566.4,426.9 L1566.9,424.9 L1567.3,422.9 L1567.6,420.9 L1568.0,418.9 L1568.3,416.9 L1568.6,414.9 L1568.9,412.9 L1569.2,410.9 L1569.5,408.9 L1569.8,406.9 L1570.0,404.9 L1570.3,402.9 L1570.6,400.9 L1570.9,398.9 L1571.2,396.9 L1571.5,394.9 L1571.8,392.9 L1572.1,390.9 L1572.4,388.9 L1572.7,386.9 L1573.0,384.9 L1573.3,382.9 L1573.6,380.9 L1573.9,378.9 L1574.2,376.9 L1574.5,374.9 L1574.8,372.9 L1575.1,370.9 L1575.4,368.9 L1575.7,366.9 L1576.0,364.9 L1576.4,362.9 L1576.8,360.9 L1577.2,358.9 L1577.6,356.9 L1578.1,354.9 L1578.5,352.9 L1579.0,350.9 L1579.5,348.9 L1579.9,346.9 L1580.3,344.9 L1580.7,342.9 L1581.1,340.9 L1581.4,338.9 L1581.7,336.9 L1582.0,334.9 L1582.4,332.9 L1582.7,330.9 L1582.9,328.9 L1583.2,326.9 L1583.4,324.9 L1583.7,322.9 L1583.8,320.9 L1584.0,318.9 L1584.2,316.9 L1584.4,314.9 L1584.5,312.9 L1584.7,310.9 L1584.8,308.9 L1584.9,306.9 L1585.1,304.9 L1585.2,302.9 L1585.2,300.9 L1585.3,298.9Z" fill="#9bcccd" stroke="#333333" stroke-width="3.9" stroke-linejoin="round"/>
<g fill="#d5edf2" stroke="#000" stroke-width="1.15">
<circle cx="1596.7" cy="450.0" r="2.7"/><circle cx="1575.2" cy="431.5" r="2.7"/><circle cx="1589.0" cy="648.2" r="2.7"/><circle cx="1616.6" cy="620.9" r="2.7"/><circle cx="1553.0" cy="606.0" r="2.7"/><circle cx="1543.0" cy="630.7" r="2.7"/><circle cx="1583.9" cy="517.1" r="2.7"/><circle cx="1568.2" cy="449.7" r="2.7"/><circle cx="1617.5" cy="618.2" r="2.7"/><circle cx="1575.5" cy="546.0" r="2.7"/><circle cx="1590.7" cy="494.6" r="2.7"/><circle cx="1641.2" cy="599.0" r="2.7"/><circle cx="1600.9" cy="389.9" r="2.7"/><circle cx="1577.0" cy="709.2" r="2.7"/><circle cx="1628.5" cy="637.8" r="2.7"/><circle cx="1564.1" cy="618.0" r="2.7"/><circle cx="1633.6" cy="610.4" r="2.7"/><circle cx="1588.0" cy="445.2" r="2.7"/><circle cx="1596.8" cy="367.8" r="2.7"/><circle cx="1531.4" cy="651.3" r="2.7"/><circle cx="1612.6" cy="642.9" r="2.7"/><circle cx="1590.4" cy="456.6" r="2.7"/><circle cx="1569.4" cy="628.2" r="2.7"/><circle cx="1649.0" cy="579.2" r="2.7"/><circle cx="1589.2" cy="613.7" r="2.7"/><circle cx="1575.2" cy="414.6" r="2.7"/><circle cx="1620.3" cy="669.1" r="2.7"/><circle cx="1599.1" cy="665.2" r="2.7"/><circle cx="1592.7" cy="597.9" r="2.7"/><circle cx="1568.2" cy="640.2" r="2.7"/><circle cx="1585.2" cy="577.5" r="2.7"/><circle cx="1555.5" cy="620.7" r="2.7"/><circle cx="1579.3" cy="371.1" r="2.7"/><circle cx="1614.9" cy="482.8" r="2.7"/><circle cx="1619.3" cy="635.5" r="2.7"/><circle cx="1537.8" cy="564.5" r="2.7"/><circle cx="1635.5" cy="569.6" r="2.7"/><circle cx="1605.6" cy="580.6" r="2.7"/><circle cx="1546.1" cy="546.9" r="2.7"/><circle cx="1587.2" cy="611.4" r="2.7"/><circle cx="1560.5" cy="539.4" r="2.7"/><circle cx="1567.2" cy="630.0" r="2.7"/><circle cx="1560.0" cy="597.9" r="2.7"/><circle cx="1573.5" cy="645.0" r="2.7"/><circle cx="1643.5" cy="572.9" r="2.7"/><circle cx="1617.6" cy="635.9" r="2.7"/><circle cx="1628.7" cy="537.6" r="2.7"/><circle cx="1649.7" cy="549.9" r="2.7"/><circle cx="1608.9" cy="680.3" r="2.7"/><circle cx="1594.7" cy="664.4" r="2.7"/><circle cx="1543.2" cy="639.7" r="2.7"/><circle cx="1612.9" cy="708.4" r="2.7"/><circle cx="1573.2" cy="465.3" r="2.7"/><circle cx="1620.7" cy="597.6" r="2.7"/><circle cx="1618.2" cy="468.6" r="2.7"/><circle cx="1647.4" cy="539.4" r="2.7"/><circle cx="1587.2" cy="644.7" r="2.7"/><circle cx="1540.2" cy="544.0" r="2.7"/><circle cx="1594.6" cy="432.2" r="2.7"/><circle cx="1640.5" cy="650.1" r="2.7"/><circle cx="1642.1" cy="544.5" r="2.7"/><circle cx="1635.7" cy="525.5" r="2.7"/><circle cx="1547.9" cy="686.2" r="2.7"/><circle cx="1615.3" cy="671.6" r="2.7"/><circle cx="1629.8" cy="631.6" r="2.7"/><circle cx="1589.8" cy="587.7" r="2.7"/><circle cx="1633.4" cy="545.1" r="2.7"/><circle cx="1547.0" cy="681.6" r="2.7"/><circle cx="1560.6" cy="649.7" r="2.7"/><circle cx="1566.7" cy="484.7" r="2.7"/><circle cx="1562.4" cy="597.2" r="2.7"/><circle cx="1553.5" cy="507.7" r="2.7"/><circle cx="1620.0" cy="533.6" r="2.7"/><circle cx="1588.6" cy="366.3" r="2.7"/><circle cx="1535.3" cy="605.0" r="2.7"/><circle cx="1631.8" cy="524.7" r="2.7"/><circle cx="1615.2" cy="710.9" r="2.7"/><circle cx="1607.4" cy="478.5" r="2.7"/><circle cx="1546.6" cy="566.0" r="2.7"/><circle cx="1642.9" cy="573.5" r="2.7"/><circle cx="1575.1" cy="675.6" r="2.7"/><circle cx="1603.3" cy="412.2" r="2.7"/><circle cx="1589.9" cy="707.5" r="2.7"/><circle cx="1592.7" cy="501.5" r="2.7"/><circle cx="1586.9" cy="630.0" r="2.7"/><circle cx="1558.9" cy="541.2" r="2.7"/><circle cx="1541.2" cy="525.5" r="2.7"/><circle cx="1631.0" cy="512.3" r="2.7"/><circle cx="1591.6" cy="340.8" r="2.7"/><circle cx="1576.8" cy="653.8" r="2.7"/><circle cx="1555.6" cy="602.9" r="2.7"/><circle cx="1613.5" cy="622.5" r="2.7"/><circle cx="1588.0" cy="640.0" r="2.7"/><circle cx="1622.6" cy="701.8" r="2.7"/><circle cx="1611.0" cy="596.9" r="2.7"/><circle cx="1633.1" cy="518.7" r="2.7"/><circle cx="1635.5" cy="616.3" r="2.7"/><circle cx="1639.1" cy="523.0" r="2.7"/><circle cx="1590.5" cy="444.1" r="2.7"/><circle cx="1573.0" cy="447.2" r="2.7"/><circle cx="1534.6" cy="647.6" r="2.7"/><circle cx="1550.8" cy="549.1" r="2.7"/><circle cx="1535.1" cy="669.0" r="2.7"/><circle cx="1630.3" cy="536.9" r="2.7"/><circle cx="1613.2" cy="627.5" r="2.7"/><circle cx="1552.1" cy="709.5" r="2.7"/><circle cx="1617.9" cy="621.6" r="2.7"/><circle cx="1615.4" cy="643.6" r="2.7"/><circle cx="1573.2" cy="419.8" r="2.7"/><circle cx="1603.1" cy="649.8" r="2.7"/><circle cx="1542.2" cy="514.7" r="2.7"/><circle cx="1538.3" cy="586.8" r="2.7"/><circle cx="1569.3" cy="643.6" r="2.7"/><circle cx="1536.9" cy="658.5" r="2.7"/><circle cx="1538.3" cy="576.8" r="2.7"/><circle cx="1596.6" cy="651.7" r="2.7"/><circle cx="1628.9" cy="505.0" r="2.7"/><circle cx="1569.6" cy="626.2" r="2.7"/><circle cx="1573.5" cy="670.2" r="2.7"/><circle cx="1567.0" cy="692.8" r="2.7"/><circle cx="1552.8" cy="706.7" r="2.7"/><circle cx="1563.5" cy="640.0" r="2.7"/><circle cx="1606.5" cy="559.4" r="2.7"/><circle cx="1580.5" cy="395.4" r="2.7"/><circle cx="1600.8" cy="443.2" r="2.7"/><circle cx="1588.9" cy="500.0" r="2.7"/><circle cx="1558.9" cy="534.7" r="2.7"/><circle cx="1589.8" cy="690.7" r="2.7"/><circle cx="1613.1" cy="617.7" r="2.7"/><circle cx="1558.5" cy="661.8" r="2.7"/><circle cx="1587.7" cy="425.0" r="2.7"/><circle cx="1555.5" cy="478.6" r="2.7"/><circle cx="1604.0" cy="686.5" r="2.7"/><circle cx="1542.5" cy="557.1" r="2.7"/><circle cx="1593.1" cy="646.9" r="2.7"/><circle cx="1623.2" cy="480.6" r="2.7"/><circle cx="1633.3" cy="695.3" r="2.7"/><circle cx="1593.1" cy="663.2" r="2.7"/><circle cx="1605.3" cy="526.6" r="2.7"/><circle cx="1596.5" cy="469.8" r="2.7"/><circle cx="1571.3" cy="414.6" r="2.7"/><circle cx="1570.0" cy="635.1" r="2.7"/><circle cx="1622.5" cy="630.2" r="2.7"/><circle cx="1603.9" cy="665.2" r="2.7"/><circle cx="1609.5" cy="668.1" r="2.7"/><circle cx="1635.0" cy="688.5" r="2.7"/><circle cx="1582.0" cy="392.8" r="2.7"/><circle cx="1558.1" cy="550.6" r="2.7"/><circle cx="1615.8" cy="481.7" r="2.7"/><circle cx="1581.5" cy="371.0" r="2.7"/><circle cx="1554.4" cy="646.6" r="2.7"/><circle cx="1632.9" cy="513.4" r="2.7"/><circle cx="1582.6" cy="647.3" r="2.7"/><circle cx="1575.3" cy="462.0" r="2.7"/><circle cx="1613.6" cy="705.6" r="2.7"/><circle cx="1596.7" cy="417.9" r="2.7"/><circle cx="1616.0" cy="547.4" r="2.7"/><circle cx="1549.9" cy="525.1" r="2.7"/><circle cx="1584.7" cy="363.4" r="2.7"/><circle cx="1639.5" cy="671.4" r="2.7"/><circle cx="1618.4" cy="626.5" r="2.7"/><circle cx="1577.9" cy="489.3" r="2.7"/><circle cx="1649.5" cy="681.1" r="2.7"/><circle cx="1624.6" cy="564.1" r="2.7"/><circle cx="1645.3" cy="690.2" r="2.7"/><circle cx="1605.3" cy="525.2" r="2.7"/><circle cx="1584.6" cy="551.0" r="2.7"/><circle cx="1560.6" cy="568.8" r="2.7"/><circle cx="1594.5" cy="362.5" r="2.7"/><circle cx="1629.7" cy="630.0" r="2.7"/><circle cx="1572.0" cy="470.8" r="2.7"/><circle cx="1641.2" cy="603.2" r="2.7"/><circle cx="1550.7" cy="571.3" r="2.7"/><circle cx="1643.7" cy="602.8" r="2.7"/><circle cx="1640.5" cy="673.4" r="2.7"/><circle cx="1558.7" cy="556.1" r="2.7"/><circle cx="1626.2" cy="673.9" r="2.7"/><circle cx="1575.0" cy="669.2" r="2.7"/><circle cx="1562.2" cy="522.3" r="2.7"/><circle cx="1643.1" cy="674.1" r="2.7"/><circle cx="1634.6" cy="545.1" r="2.7"/><circle cx="1582.6" cy="548.8" r="2.7"/><circle cx="1555.3" cy="595.4" r="2.7"/><circle cx="1566.4" cy="516.4" r="2.7"/><circle cx="1590.5" cy="513.9" r="2.7"/><circle cx="1602.5" cy="440.9" r="2.7"/><circle cx="1585.0" cy="480.8" r="2.7"/><circle cx="1546.3" cy="615.4" r="2.7"/><circle cx="1597.0" cy="555.8" r="2.7"/><circle cx="1637.0" cy="591.1" r="2.7"/><circle cx="1540.6" cy="652.8" r="2.7"/><circle cx="1595.4" cy="664.8" r="2.7"/><circle cx="1548.7" cy="625.1" r="2.7"/><circle cx="1614.6" cy="571.3" r="2.7"/><circle cx="1628.3" cy="656.0" r="2.7"/><circle cx="1616.2" cy="498.4" r="2.7"/><circle cx="1609.4" cy="595.9" r="2.7"/><circle cx="1576.8" cy="669.2" r="2.7"/><circle cx="1634.3" cy="686.5" r="2.7"/><circle cx="1573.5" cy="658.5" r="2.7"/><circle cx="1548.4" cy="585.4" r="2.7"/><circle cx="1637.8" cy="646.5" r="2.7"/><circle cx="1605.4" cy="474.4" r="2.7"/><circle cx="1533.6" cy="629.4" r="2.7"/><circle cx="1586.5" cy="685.8" r="2.7"/><circle cx="1543.1" cy="517.0" r="2.7"/><circle cx="1568.4" cy="652.1" r="2.7"/><circle cx="1550.7" cy="581.7" r="2.7"/><circle cx="1576.8" cy="606.1" r="2.7"/><circle cx="1610.4" cy="658.2" r="2.7"/><circle cx="1558.8" cy="636.7" r="2.7"/><circle cx="1602.6" cy="412.6" r="2.7"/><circle cx="1605.1" cy="690.9" r="2.7"/><circle cx="1613.3" cy="687.0" r="2.7"/><circle cx="1579.4" cy="605.7" r="2.7"/><circle cx="1587.8" cy="542.0" r="2.7"/><circle cx="1583.0" cy="500.4" r="2.7"/><circle cx="1530.1" cy="580.2" r="2.7"/><circle cx="1562.0" cy="551.8" r="2.7"/><circle cx="1625.8" cy="613.3" r="2.7"/><circle cx="1608.5" cy="608.0" r="2.7"/><circle cx="1560.1" cy="607.9" r="2.7"/><circle cx="1631.3" cy="547.4" r="2.7"/><circle cx="1555.1" cy="693.9" r="2.7"/><circle cx="1595.4" cy="347.0" r="2.7"/><circle cx="1602.9" cy="671.3" r="2.7"/><circle cx="1601.1" cy="660.8" r="2.7"/><circle cx="1557.5" cy="682.6" r="2.7"/><circle cx="1611.0" cy="564.4" r="2.7"/><circle cx="1606.5" cy="497.8" r="2.7"/><circle cx="1609.0" cy="514.7" r="2.7"/><circle cx="1579.2" cy="657.7" r="2.7"/><circle cx="1599.3" cy="709.1" r="2.7"/><circle cx="1529.3" cy="645.7" r="2.7"/><circle cx="1600.1" cy="448.7" r="2.7"/><circle cx="1602.9" cy="693.1" r="2.7"/><circle cx="1535.8" cy="684.7" r="2.7"/><circle cx="1636.6" cy="679.2" r="2.7"/><circle cx="1580.7" cy="611.9" r="2.7"/><circle cx="1558.2" cy="632.3" r="2.7"/><circle cx="1611.9" cy="622.4" r="2.7"/><circle cx="1559.4" cy="588.5" r="2.7"/><circle cx="1587.4" cy="316.7" r="2.7"/><circle cx="1551.9" cy="665.0" r="2.7"/><circle cx="1579.2" cy="421.6" r="2.7"/><circle cx="1599.8" cy="583.1" r="2.7"/><circle cx="1634.6" cy="675.6" r="2.7"/><circle cx="1624.7" cy="701.1" r="2.7"/><circle cx="1542.9" cy="565.9" r="2.7"/><circle cx="1561.7" cy="696.8" r="2.7"/><circle cx="1561.1" cy="610.1" r="2.7"/><circle cx="1550.4" cy="660.7" r="2.7"/><circle cx="1553.0" cy="558.7" r="2.7"/><circle cx="1604.4" cy="671.6" r="2.7"/><circle cx="1567.1" cy="612.5" r="2.7"/><circle cx="1614.6" cy="481.5" r="2.7"/><circle cx="1618.4" cy="647.7" r="2.7"/><circle cx="1593.3" cy="712.0" r="2.7"/><circle cx="1596.9" cy="482.5" r="2.7"/><circle cx="1590.3" cy="522.6" r="2.7"/><circle cx="1597.2" cy="568.2" r="2.7"/><circle cx="1625.7" cy="686.9" r="2.7"/><circle cx="1629.6" cy="557.2" r="2.7"/><circle cx="1624.3" cy="671.6" r="2.7"/><circle cx="1637.8" cy="591.4" r="2.7"/><circle cx="1539.1" cy="576.2" r="2.7"/><circle cx="1604.5" cy="517.9" r="2.7"/><circle cx="1579.5" cy="548.1" r="2.7"/><circle cx="1550.0" cy="554.0" r="2.7"/><circle cx="1568.5" cy="436.2" r="2.7"/><circle cx="1568.2" cy="623.6" r="2.7"/><circle cx="1645.0" cy="567.5" r="2.7"/><circle cx="1625.7" cy="611.4" r="2.7"/><circle cx="1645.8" cy="647.2" r="2.7"/><circle cx="1584.8" cy="415.2" r="2.7"/><circle cx="1585.3" cy="695.0" r="2.7"/><circle cx="1555.8" cy="694.5" r="2.7"/><circle cx="1602.8" cy="409.3" r="2.7"/><circle cx="1590.1" cy="556.2" r="2.7"/><circle cx="1557.6" cy="691.0" r="2.7"/><circle cx="1579.4" cy="700.9" r="2.7"/><circle cx="1565.0" cy="509.7" r="2.7"/><circle cx="1584.9" cy="583.0" r="2.7"/><circle cx="1531.8" cy="677.8" r="2.7"/><circle cx="1578.5" cy="393.5" r="2.7"/><circle cx="1622.5" cy="605.7" r="2.7"/><circle cx="1603.5" cy="573.2" r="2.7"/><circle cx="1532.3" cy="615.6" r="2.7"/><circle cx="1633.7" cy="509.2" r="2.7"/><circle cx="1640.2" cy="535.3" r="2.7"/><circle cx="1553.9" cy="576.4" r="2.7"/><circle cx="1587.5" cy="318.5" r="2.7"/><circle cx="1582.2" cy="532.7" r="2.7"/><circle cx="1595.2" cy="565.2" r="2.7"/><circle cx="1529.3" cy="571.8" r="2.7"/><circle cx="1633.8" cy="516.3" r="2.7"/><circle cx="1594.7" cy="374.2" r="2.7"/><circle cx="1615.4" cy="572.4" r="2.7"/><circle cx="1574.1" cy="535.8" r="2.7"/><circle cx="1640.2" cy="582.6" r="2.7"/><circle cx="1541.8" cy="534.6" r="2.7"/><circle cx="1599.8" cy="387.3" r="2.7"/><circle cx="1547.0" cy="530.5" r="2.7"/><circle cx="1630.2" cy="603.2" r="2.7"/><circle cx="1547.4" cy="604.1" r="2.7"/><circle cx="1559.4" cy="554.9" r="2.7"/><circle cx="1597.9" cy="358.6" r="2.7"/><circle cx="1542.1" cy="568.1" r="2.7"/><circle cx="1650.8" cy="677.5" r="2.7"/><circle cx="1557.3" cy="660.6" r="2.7"/><circle cx="1590.9" cy="487.6" r="2.7"/><circle cx="1634.5" cy="599.8" r="2.7"/><circle cx="1627.4" cy="700.7" r="2.7"/><circle cx="1599.0" cy="538.5" r="2.7"/><circle cx="1590.1" cy="455.2" r="2.7"/><circle cx="1574.4" cy="418.6" r="2.7"/><circle cx="1578.1" cy="454.1" r="2.7"/><circle cx="1611.5" cy="529.4" r="2.7"/><circle cx="1573.8" cy="423.0" r="2.7"/><circle cx="1609.4" cy="619.3" r="2.7"/><circle cx="1615.5" cy="633.8" r="2.7"/><circle cx="1595.2" cy="621.1" r="2.7"/><circle cx="1537.6" cy="641.8" r="2.7"/><circle cx="1608.4" cy="496.3" r="2.7"/><circle cx="1591.3" cy="488.4" r="2.7"/><circle cx="1582.5" cy="514.1" r="2.7"/><circle cx="1609.7" cy="665.0" r="2.7"/><circle cx="1559.8" cy="564.6" r="2.7"/><circle cx="1609.2" cy="657.8" r="2.7"/><circle cx="1636.6" cy="563.4" r="2.7"/><circle cx="1646.4" cy="629.0" r="2.7"/><circle cx="1636.2" cy="621.6" r="2.7"/><circle cx="1614.7" cy="591.1" r="2.7"/><circle cx="1536.2" cy="667.0" r="2.7"/><circle cx="1602.5" cy="571.8" r="2.7"/><circle cx="1598.9" cy="407.1" r="2.7"/><circle cx="1641.7" cy="635.1" r="2.7"/><circle cx="1585.2" cy="546.3" r="2.7"/><circle cx="1578.3" cy="684.4" r="2.7"/><circle cx="1578.9" cy="665.1" r="2.7"/><circle cx="1563.1" cy="537.2" r="2.7"/><circle cx="1583.5" cy="497.0" r="2.7"/><circle cx="1611.1" cy="474.8" r="2.7"/><circle cx="1553.1" cy="703.1" r="2.7"/><circle cx="1572.5" cy="404.4" r="2.7"/><circle cx="1540.5" cy="689.9" r="2.7"/><circle cx="1565.7" cy="625.7" r="2.7"/><circle cx="1569.4" cy="490.8" r="2.7"/><circle cx="1531.6" cy="628.3" r="2.7"/><circle cx="1597.7" cy="672.5" r="2.7"/><circle cx="1563.8" cy="505.4" r="2.7"/><circle cx="1604.2" cy="618.9" r="2.7"/><circle cx="1570.5" cy="531.7" r="2.7"/><circle cx="1641.7" cy="569.2" r="2.7"/><circle cx="1630.9" cy="588.1" r="2.7"/><circle cx="1596.3" cy="615.2" r="2.7"/><circle cx="1611.9" cy="575.7" r="2.7"/><circle cx="1617.6" cy="576.2" r="2.7"/><circle cx="1576.0" cy="484.0" r="2.7"/><circle cx="1575.5" cy="674.6" r="2.7"/><circle cx="1645.5" cy="667.2" r="2.7"/><circle cx="1541.1" cy="598.5" r="2.7"/><circle cx="1609.7" cy="645.8" r="2.7"/><circle cx="1626.9" cy="523.7" r="2.7"/><circle cx="1532.6" cy="574.0" r="2.7"/><circle cx="1579.0" cy="416.2" r="2.7"/><circle cx="1626.5" cy="606.8" r="2.7"/><circle cx="1566.3" cy="439.9" r="2.7"/><circle cx="1578.3" cy="610.3" r="2.7"/><circle cx="1630.4" cy="563.8" r="2.7"/><circle cx="1644.5" cy="686.3" r="2.7"/><circle cx="1525.9" cy="651.5" r="2.7"/><circle cx="1594.6" cy="469.4" r="2.7"/><circle cx="1546.7" cy="696.7" r="2.7"/><circle cx="1576.0" cy="582.0" r="2.7"/><circle cx="1559.6" cy="555.1" r="2.7"/><circle cx="1563.3" cy="517.5" r="2.7"/><circle cx="1591.7" cy="442.7" r="2.7"/><circle cx="1616.5" cy="564.9" r="2.7"/><circle cx="1642.4" cy="614.9" r="2.7"/><circle cx="1633.6" cy="537.8" r="2.7"/><circle cx="1608.9" cy="549.6" r="2.7"/><circle cx="1575.7" cy="657.8" r="2.7"/><circle cx="1605.9" cy="564.9" r="2.7"/><circle cx="1590.6" cy="447.5" r="2.7"/><circle cx="1576.3" cy="437.2" r="2.7"/><circle cx="1644.9" cy="610.4" r="2.7"/><circle cx="1572.0" cy="712.9" r="2.7"/><circle cx="1590.2" cy="467.2" r="2.7"/><circle cx="1573.4" cy="563.7" r="2.7"/><circle cx="1615.4" cy="648.7" r="2.7"/><circle cx="1603.7" cy="594.1" r="2.7"/><circle cx="1610.3" cy="599.4" r="2.7"/><circle cx="1640.7" cy="688.7" r="2.7"/><circle cx="1619.9" cy="704.9" r="2.7"/><circle cx="1586.6" cy="443.6" r="2.7"/><circle cx="1562.8" cy="652.0" r="2.7"/><circle cx="1536.1" cy="606.0" r="2.7"/><circle cx="1581.2" cy="493.0" r="2.7"/><circle cx="1586.2" cy="418.1" r="2.7"/><circle cx="1619.7" cy="503.3" r="2.7"/><circle cx="1575.7" cy="532.0" r="2.7"/><circle cx="1596.7" cy="657.1" r="2.7"/><circle cx="1580.0" cy="399.7" r="2.7"/><circle cx="1553.3" cy="607.1" r="2.7"/><circle cx="1600.1" cy="509.9" r="2.7"/><circle cx="1559.8" cy="576.9" r="2.7"/><circle cx="1605.3" cy="593.4" r="2.7"/><circle cx="1582.5" cy="388.5" r="2.7"/><circle cx="1630.3" cy="528.8" r="2.7"/><circle cx="1584.1" cy="400.9" r="2.7"/><circle cx="1603.9" cy="489.3" r="2.7"/><circle cx="1532.0" cy="659.3" r="2.7"/><circle cx="1614.3" cy="672.1" r="2.7"/><circle cx="1623.0" cy="498.4" r="2.7"/><circle cx="1619.3" cy="524.4" r="2.7"/><circle cx="1587.3" cy="422.1" r="2.7"/><circle cx="1638.9" cy="579.8" r="2.7"/><circle cx="1595.0" cy="665.7" r="2.7"/><circle cx="1586.7" cy="401.2" r="2.7"/><circle cx="1649.8" cy="547.1" r="2.7"/><circle cx="1577.7" cy="625.8" r="2.7"/><circle cx="1621.5" cy="544.5" r="2.7"/><circle cx="1603.7" cy="437.7" r="2.7"/><circle cx="1581.4" cy="623.2" r="2.7"/><circle cx="1576.7" cy="633.7" r="2.7"/><circle cx="1583.9" cy="465.7" r="2.7"/><circle cx="1575.7" cy="400.9" r="2.7"/><circle cx="1630.9" cy="563.1" r="2.7"/><circle cx="1589.1" cy="493.0" r="2.7"/><circle cx="1617.2" cy="704.8" r="2.7"/><circle cx="1610.6" cy="681.8" r="2.7"/><circle cx="1598.8" cy="601.3" r="2.7"/><circle cx="1584.8" cy="604.5" r="2.7"/><circle cx="1557.5" cy="543.4" r="2.7"/><circle cx="1584.3" cy="413.9" r="2.7"/><circle cx="1595.6" cy="649.1" r="2.7"/><circle cx="1610.4" cy="475.9" r="2.7"/><circle cx="1601.7" cy="390.9" r="2.7"/><circle cx="1595.6" cy="618.1" r="2.7"/><circle cx="1630.5" cy="556.6" r="2.7"/><circle cx="1584.1" cy="336.8" r="2.7"/><circle cx="1563.7" cy="583.4" r="2.7"/><circle cx="1593.6" cy="553.9" r="2.7"/><circle cx="1603.5" cy="393.2" r="2.7"/><circle cx="1541.5" cy="625.0" r="2.7"/><circle cx="1593.0" cy="641.1" r="2.7"/><circle cx="1617.3" cy="627.5" r="2.7"/><circle cx="1559.5" cy="709.6" r="2.7"/><circle cx="1587.3" cy="711.5" r="2.7"/><circle cx="1579.2" cy="491.9" r="2.7"/><circle cx="1636.9" cy="544.4" r="2.7"/><circle cx="1535.1" cy="584.5" r="2.7"/><circle cx="1588.7" cy="634.9" r="2.7"/><circle cx="1530.6" cy="660.1" r="2.7"/><circle cx="1639.7" cy="672.7" r="2.7"/><circle cx="1588.7" cy="341.1" r="2.7"/><circle cx="1590.6" cy="453.8" r="2.7"/><circle cx="1605.9" cy="433.0" r="2.7"/><circle cx="1601.4" cy="484.7" r="2.7"/><circle cx="1567.9" cy="618.5" r="2.7"/><circle cx="1622.7" cy="497.2" r="2.7"/><circle cx="1581.9" cy="388.9" r="2.7"/><circle cx="1598.6" cy="534.2" r="2.7"/><circle cx="1541.6" cy="545.6" r="2.7"/><circle cx="1616.1" cy="596.3" r="2.7"/><circle cx="1587.7" cy="632.3" r="2.7"/><circle cx="1535.7" cy="528.5" r="2.7"/><circle cx="1604.9" cy="586.6" r="2.7"/><circle cx="1648.2" cy="563.7" r="2.7"/><circle cx="1613.6" cy="492.4" r="2.7"/><circle cx="1637.4" cy="635.9" r="2.7"/><circle cx="1558.2" cy="687.8" r="2.7"/><circle cx="1577.6" cy="687.0" r="2.7"/><circle cx="1642.7" cy="625.4" r="2.7"/><circle cx="1598.9" cy="602.9" r="2.7"/><circle cx="1592.6" cy="418.7" r="2.7"/><circle cx="1579.2" cy="507.3" r="2.7"/><circle cx="1647.3" cy="547.8" r="2.7"/><circle cx="1615.5" cy="614.4" r="2.7"/><circle cx="1575.2" cy="479.9" r="2.7"/><circle cx="1540.2" cy="675.7" r="2.7"/><circle cx="1581.6" cy="696.0" r="2.7"/><circle cx="1590.8" cy="551.0" r="2.7"/><circle cx="1585.2" cy="564.2" r="2.7"/><circle cx="1614.9" cy="559.4" r="2.7"/><circle cx="1555.6" cy="519.3" r="2.7"/><circle cx="1535.9" cy="562.0" r="2.7"/><circle cx="1588.3" cy="565.2" r="2.7"/><circle cx="1539.2" cy="652.7" r="2.7"/><circle cx="1624.3" cy="552.6" r="2.7"/><circle cx="1628.1" cy="537.4" r="2.7"/><circle cx="1533.5" cy="635.9" r="2.7"/><circle cx="1622.1" cy="549.8" r="2.7"/><circle cx="1610.5" cy="585.0" r="2.7"/><circle cx="1602.7" cy="709.1" r="2.7"/><circle cx="1631.5" cy="590.0" r="2.7"/><circle cx="1525.9" cy="560.9" r="2.7"/><circle cx="1598.4" cy="518.1" r="2.7"/><circle cx="1600.3" cy="694.6" r="2.7"/><circle cx="1639.5" cy="521.5" r="2.7"/><circle cx="1554.6" cy="553.5" r="2.7"/><circle cx="1570.0" cy="591.8" r="2.7"/><circle cx="1600.0" cy="447.9" r="2.7"/><circle cx="1645.3" cy="628.7" r="2.7"/><circle cx="1613.5" cy="462.4" r="2.7"/><circle cx="1557.3" cy="655.9" r="2.7"/><circle cx="1605.6" cy="573.0" r="2.7"/><circle cx="1545.5" cy="530.9" r="2.7"/><circle cx="1545.8" cy="665.8" r="2.7"/><circle cx="1581.1" cy="575.9" r="2.7"/><circle cx="1590.6" cy="299.5" r="2.7"/><circle cx="1588.7" cy="300.4" r="2.7"/><circle cx="1578.7" cy="714.2" r="2.7"/><circle cx="1570.5" cy="714.2" r="2.7"/>
</g>
<path d="M2070.6,343.6 L2070.5,345.6 L2070.4,347.6 L2070.3,349.6 L2070.2,351.6 L2070.1,353.6 L2070.0,355.6 L2070.0,357.6 L2070.0,359.6 L2070.0,361.6 L2070.0,363.6 L2070.0,365.6 L2070.0,367.6 L2070.0,369.6 L2070.0,371.6 L2070.0,373.6 L2070.0,375.6 L2070.0,377.6 L2070.0,379.6 L2070.0,381.6 L2070.0,383.6 L2070.0,385.6 L2070.0,387.6 L2070.0,389.6 L2070.0,391.6 L2070.1,393.6 L2070.1,395.6 L2070.3,397.6 L2070.6,399.6 L2070.9,401.6 L2071.2,403.6 L2071.6,405.6 L2072.0,407.6 L2072.3,409.6 L2072.7,411.6 L2073.1,413.6 L2073.5,415.6 L2074.0,417.6 L2074.4,419.6 L2074.9,421.6 L2075.3,423.6 L2075.7,425.6 L2076.2,427.6 L2076.6,429.6 L2076.9,431.6 L2077.3,433.6 L2077.5,435.6 L2077.8,437.6 L2078.0,439.6 L2078.2,441.6 L2078.3,443.6 L2078.5,445.6 L2078.6,447.6 L2078.8,449.6 L2079.1,451.6 L2079.4,453.6 L2080.0,455.6 L2081.2,457.6 L2082.6,459.6 L2084.3,461.6 L2086.0,463.6 L2087.6,465.6 L2089.0,467.6 L2090.1,469.6 L2090.6,471.6 L2090.8,473.6 L2091.0,475.6 L2091.1,477.6 L2091.2,479.6 L2091.4,481.6 L2091.6,483.6 L2091.8,485.6 L2092.6,487.6 L2094.3,489.6 L2096.6,491.6 L2099.1,493.6 L2101.5,495.6 L2104.1,497.6 L2107.0,499.6 L2110.1,501.6 L2113.3,503.6 L2116.6,505.6 L2119.8,507.6 L2122.8,509.6 L2125.7,511.6 L2128.4,513.6 L2131.0,515.6 L2133.8,517.6 L2136.7,519.6 L2139.9,521.6 L2143.6,523.6 L2148.0,525.6 L2153.3,527.6 L2159.3,529.6 L2165.8,531.6 L2172.5,533.6 L2179.3,535.6 L2186.0,537.6 L2193.1,539.6 L2200.4,541.6 L2208.0,543.6 L2215.8,545.6 L2224.0,547.6 L2233.3,549.6 L2243.5,551.6 L2253.4,553.6 L2262.1,555.6 L2269.1,557.6 L2276.2,559.6 L2282.2,561.6 L2285.7,563.6 L2285.4,565.6 L2281.1,567.6 L2274.5,569.6 L2267.3,571.6 L2260.5,573.6 L2253.0,575.6 L2244.7,577.6 L2236.3,579.6 L2228.0,581.6 L2220.1,583.6 L2212.3,585.6 L2204.5,587.6 L2196.8,589.6 L2189.4,591.6 L2182.3,593.6 L2175.6,595.6 L2169.1,597.6 L2162.9,599.6 L2156.9,601.6 L2151.1,603.6 L2145.7,605.6 L2140.4,607.6 L2134.8,609.6 L2129.5,611.6 L2125.0,613.6 L2121.7,615.6 L2119.9,617.6 L2118.4,619.6 L2117.0,621.6 L2115.9,623.6 L2115.0,625.6 L2114.5,627.6 L2114.3,629.6 L2114.3,631.6 L2114.3,633.6 L2114.3,635.6 L2114.3,637.6 L2114.3,639.6 L2114.3,641.6 L2113.9,643.6 L2113.0,645.6 L2111.7,647.6 L2110.1,649.6 L2108.3,651.6 L2106.4,653.6 L2104.5,655.6 L2102.4,657.6 L2099.7,659.6 L2096.7,661.6 L2093.4,663.6 L2090.2,665.6 L2087.2,667.6 L2084.6,669.6 L2082.7,671.6 L2080.8,673.6 L2079.1,675.6 L2077.5,677.6 L2076.1,679.6 L2074.8,681.6 L2073.8,683.6 L2073.0,685.6 L2072.4,687.6 L2071.8,689.6 L2071.3,691.6 L2070.9,693.6 L2070.5,695.6 L2070.2,697.6 L2070.1,699.6 L2070.1,701.6 L2070.0,703.6 L2070.0,705.6 L2070.0,707.6 L2070.0,709.6 L2070.0,711.6 L2070.0,713.6 L2070.0,715.6 L2070.0,717.6 L2070.0,719.6 L2070.0,721.6 L2070.0,723.6 L2070.0,725.6 L2070.0,727.6 L2070.0,729.6 L2070.0,731.6 L2070.0,733.6 L2070.0,735.6 L2070.0,737.6 L2070.0,739.6 L2070.0,741.6 L2070.0,743.6 L2070.0,745.6 L2070.0,747.6 L2070.0,749.6 L2070.0,751.6 L2070.0,753.6 L2070.0,755.6 L2070.0,757.6 L2070.0,759.6 L2070.0,761.6 L2070.0,763.6 L2070.0,765.6 L2070.0,767.6 L2070.0,769.6 L2070.0,771.6 L2070.0,773.6 L2070.0,775.6 L2070.0,777.6 L2070.0,779.6 L2070.0,781.6 L2070.0,783.6 L2070.0,785.6 L2070.0,787.6 L2070.0,789.6 L2070.0,791.6 L2070.0,793.6 L2070.0,795.6 L2070.0,797.6 L2070.0,799.6 L2070.0,801.6 L2070.0,803.6 L2070.0,805.6 L2070.0,807.6 L2070.0,809.6 L2070.0,811.6 L2070.0,813.6 L2070.0,815.6 L2070.0,817.6 L2070.0,819.6 L2070.0,821.6 L2070.0,823.6 L2070.0,825.6 L2070.0,827.6 L2070.0,829.6 L2070.0,831.6 L2070.0,833.6 L2070.0,835.6 L2070.0,837.6 L2070.0,839.6 L2070.0,841.6 L2070.0,843.6 L2070.0,845.6 L2070.0,847.6 L2070.0,849.6 L2070.0,851.6 L2070.0,853.6 L2070.0,855.6 L2070.0,857.6 L2070.0,859.6 L2070.0,861.6 L2070.0,863.6 L2070.0,865.6 L2070.0,867.6 L2070.0,869.6 L2070.0,871.6 L2070.0,873.6 L2070.0,875.6 L2070.0,877.6 L2070.0,879.6 L2070.0,881.6 L2070.1,883.6 L2070.1,885.6 L2070.2,887.6 L2070.3,889.6 L2070.3,891.6 L2070.4,893.6 L2070.5,895.6 L2070.6,896.6 L2068.2,896.6 L2068.3,895.6 L2068.4,893.6 L2068.5,891.6 L2068.5,889.6 L2068.6,887.6 L2068.7,885.6 L2068.7,883.6 L2068.8,881.6 L2068.8,879.6 L2068.8,877.6 L2068.8,875.6 L2068.8,873.6 L2068.8,871.6 L2068.8,869.6 L2068.8,867.6 L2068.8,865.6 L2068.8,863.6 L2068.8,861.6 L2068.8,859.6 L2068.8,857.6 L2068.8,855.6 L2068.8,853.6 L2068.8,851.6 L2068.8,849.6 L2068.8,847.6 L2068.8,845.6 L2068.8,843.6 L2068.8,841.6 L2068.8,839.6 L2068.8,837.6 L2068.8,835.6 L2068.8,833.6 L2068.8,831.6 L2068.8,829.6 L2068.8,827.6 L2068.8,825.6 L2068.8,823.6 L2068.8,821.6 L2068.8,819.6 L2068.8,817.6 L2068.8,815.6 L2068.8,813.6 L2068.8,811.6 L2068.8,809.6 L2068.8,807.6 L2068.8,805.6 L2068.8,803.6 L2068.8,801.6 L2068.8,799.6 L2068.8,797.6 L2068.8,795.6 L2068.8,793.6 L2068.8,791.6 L2068.8,789.6 L2068.8,787.6 L2068.8,785.6 L2068.8,783.6 L2068.8,781.6 L2068.8,779.6 L2068.8,777.6 L2068.8,775.6 L2068.8,773.6 L2068.8,771.6 L2068.8,769.6 L2068.8,767.6 L2068.8,765.6 L2068.8,763.6 L2068.8,761.6 L2068.8,759.6 L2068.8,757.6 L2068.8,755.6 L2068.8,753.6 L2068.8,751.6 L2068.8,749.6 L2068.8,747.6 L2068.8,745.6 L2068.8,743.6 L2068.8,741.6 L2068.8,739.6 L2068.8,737.6 L2068.8,735.6 L2068.8,733.6 L2068.8,731.6 L2068.8,729.6 L2068.8,727.6 L2068.8,725.6 L2068.8,723.6 L2068.8,721.6 L2068.8,719.6 L2068.8,717.6 L2068.8,715.6 L2068.8,713.6 L2068.8,711.6 L2068.8,709.6 L2068.8,707.6 L2068.8,705.6 L2068.8,703.6 L2068.7,701.6 L2068.7,699.6 L2068.6,697.6 L2068.3,695.6 L2067.9,693.6 L2067.5,691.6 L2067.0,689.6 L2066.4,687.6 L2065.8,685.6 L2065.0,683.6 L2064.0,681.6 L2062.7,679.6 L2061.3,677.6 L2059.7,675.6 L2058.0,673.6 L2056.1,671.6 L2054.2,669.6 L2051.6,667.6 L2048.6,665.6 L2045.4,663.6 L2042.1,661.6 L2039.1,659.6 L2036.4,657.6 L2034.3,655.6 L2032.4,653.6 L2030.5,651.6 L2028.7,649.6 L2027.1,647.6 L2025.8,645.6 L2024.9,643.6 L2024.5,641.6 L2024.5,639.6 L2024.5,637.6 L2024.5,635.6 L2024.5,633.6 L2024.5,631.6 L2024.5,629.6 L2024.3,627.6 L2023.8,625.6 L2022.9,623.6 L2021.8,621.6 L2020.4,619.6 L2018.9,617.6 L2017.1,615.6 L2013.8,613.6 L2009.3,611.6 L2004.0,609.6 L1998.4,607.6 L1993.1,605.6 L1987.7,603.6 L1981.9,601.6 L1975.9,599.6 L1969.7,597.6 L1963.2,595.6 L1956.5,593.6 L1949.4,591.6 L1942.0,589.6 L1934.3,587.6 L1926.5,585.6 L1918.7,583.6 L1910.8,581.6 L1902.5,579.6 L1894.1,577.6 L1885.8,575.6 L1878.3,573.6 L1871.5,571.6 L1864.3,569.6 L1857.7,567.6 L1853.4,565.6 L1853.1,563.6 L1856.6,561.6 L1862.6,559.6 L1869.7,557.6 L1876.7,555.6 L1885.4,553.6 L1895.3,551.6 L1905.5,549.6 L1914.8,547.6 L1923.0,545.6 L1930.8,543.6 L1938.4,541.6 L1945.7,539.6 L1952.8,537.6 L1959.5,535.6 L1966.3,533.6 L1973.0,531.6 L1979.5,529.6 L1985.5,527.6 L1990.8,525.6 L1995.2,523.6 L1998.9,521.6 L2002.1,519.6 L2005.0,517.6 L2007.8,515.6 L2010.4,513.6 L2013.1,511.6 L2016.0,509.6 L2019.0,507.6 L2022.2,505.6 L2025.5,503.6 L2028.7,501.6 L2031.8,499.6 L2034.7,497.6 L2037.3,495.6 L2039.7,493.6 L2042.2,491.6 L2044.5,489.6 L2046.2,487.6 L2047.0,485.6 L2047.2,483.6 L2047.4,481.6 L2047.6,479.6 L2047.7,477.6 L2047.8,475.6 L2048.0,473.6 L2048.2,471.6 L2048.7,469.6 L2049.8,467.6 L2051.2,465.6 L2052.8,463.6 L2054.5,461.6 L2056.2,459.6 L2057.6,457.6 L2058.8,455.6 L2059.4,453.6 L2059.7,451.6 L2060.0,449.6 L2060.2,447.6 L2060.3,445.6 L2060.5,443.6 L2060.6,441.6 L2060.8,439.6 L2061.0,437.6 L2061.3,435.6 L2061.5,433.6 L2061.9,431.6 L2062.2,429.6 L2062.6,427.6 L2063.1,425.6 L2063.5,423.6 L2063.9,421.6 L2064.4,419.6 L2064.8,417.6 L2065.3,415.6 L2065.7,413.6 L2066.1,411.6 L2066.5,409.6 L2066.8,407.6 L2067.2,405.6 L2067.6,403.6 L2067.9,401.6 L2068.2,399.6 L2068.5,397.6 L2068.7,395.6 L2068.7,393.6 L2068.8,391.6 L2068.8,389.6 L2068.8,387.6 L2068.8,385.6 L2068.8,383.6 L2068.8,381.6 L2068.8,379.6 L2068.8,377.6 L2068.8,375.6 L2068.8,373.6 L2068.8,371.6 L2068.8,369.6 L2068.8,367.6 L2068.8,365.6 L2068.8,363.6 L2068.8,361.6 L2068.8,359.6 L2068.8,357.6 L2068.8,355.6 L2068.7,353.6 L2068.6,351.6 L2068.5,349.6 L2068.4,347.6 L2068.3,345.6 L2068.2,343.6Z" fill="#00807f" stroke="#333333" stroke-width="3.9" stroke-linejoin="round"/>
<g fill="#c0e7eb" stroke="#000" stroke-width="1.15">
<circle cx="2148.2" cy="591.0" r="2.7"/><circle cx="1950.2" cy="564.5" r="2.7"/><circle cx="2212.8" cy="577.2" r="2.7"/><circle cx="1916.6" cy="549.1" r="2.7"/><circle cx="2153.2" cy="532.4" r="2.7"/><circle cx="2064.4" cy="433.3" r="2.7"/><circle cx="2111.8" cy="511.6" r="2.7"/><circle cx="2143.1" cy="556.1" r="2.7"/><circle cx="2050.6" cy="585.1" r="2.7"/><circle cx="2059.3" cy="588.4" r="2.7"/><circle cx="1990.3" cy="569.1" r="2.7"/><circle cx="2069.7" cy="415.0" r="2.7"/><circle cx="2007.5" cy="543.9" r="2.7"/><circle cx="2056.3" cy="618.5" r="2.7"/><circle cx="2084.0" cy="512.9" r="2.7"/><circle cx="1887.2" cy="568.7" r="2.7"/><circle cx="2109.1" cy="552.9" r="2.7"/><circle cx="2210.3" cy="545.8" r="2.7"/><circle cx="2070.2" cy="598.5" r="2.7"/><circle cx="2029.7" cy="632.7" r="2.7"/><circle cx="2167.3" cy="538.6" r="2.7"/><circle cx="1929.2" cy="566.4" r="2.7"/><circle cx="2159.7" cy="571.5" r="2.7"/><circle cx="1900.6" cy="574.4" r="2.7"/><circle cx="2065.8" cy="478.9" r="2.7"/><circle cx="2061.2" cy="458.0" r="2.7"/><circle cx="2048.4" cy="578.1" r="2.7"/><circle cx="2105.4" cy="507.4" r="2.7"/><circle cx="2212.9" cy="554.8" r="2.7"/><circle cx="2113.9" cy="575.0" r="2.7"/><circle cx="2139.7" cy="559.6" r="2.7"/><circle cx="2007.7" cy="541.2" r="2.7"/><circle cx="2040.6" cy="617.3" r="2.7"/><circle cx="2164.1" cy="556.4" r="2.7"/><circle cx="2024.0" cy="551.1" r="2.7"/><circle cx="2044.3" cy="630.3" r="2.7"/><circle cx="2166.8" cy="540.8" r="2.7"/><circle cx="2021.0" cy="545.2" r="2.7"/><circle cx="2052.7" cy="619.8" r="2.7"/><circle cx="2069.7" cy="767.5" r="2.7"/><circle cx="2033.2" cy="608.6" r="2.7"/><circle cx="2127.1" cy="537.5" r="2.7"/><circle cx="2026.2" cy="604.0" r="2.7"/><circle cx="2013.7" cy="535.9" r="2.7"/><circle cx="2058.4" cy="522.4" r="2.7"/><circle cx="2124.1" cy="566.0" r="2.7"/><circle cx="2052.5" cy="493.6" r="2.7"/><circle cx="2041.1" cy="517.1" r="2.7"/><circle cx="2153.8" cy="532.4" r="2.7"/><circle cx="1932.6" cy="555.3" r="2.7"/><circle cx="2220.8" cy="580.7" r="2.7"/><circle cx="2098.3" cy="597.6" r="2.7"/><circle cx="2032.5" cy="555.7" r="2.7"/><circle cx="2164.3" cy="548.2" r="2.7"/><circle cx="2067.4" cy="599.2" r="2.7"/><circle cx="2086.1" cy="612.8" r="2.7"/><circle cx="1999.1" cy="582.7" r="2.7"/><circle cx="2000.5" cy="541.0" r="2.7"/><circle cx="2095.0" cy="631.6" r="2.7"/><circle cx="2097.3" cy="626.3" r="2.7"/><circle cx="2057.7" cy="599.6" r="2.7"/><circle cx="1994.2" cy="593.0" r="2.7"/><circle cx="1918.8" cy="579.6" r="2.7"/><circle cx="2095.8" cy="653.6" r="2.7"/><circle cx="2114.7" cy="528.5" r="2.7"/><circle cx="1995.8" cy="603.3" r="2.7"/><circle cx="2037.9" cy="571.1" r="2.7"/><circle cx="2208.6" cy="575.9" r="2.7"/><circle cx="1991.6" cy="587.1" r="2.7"/><circle cx="2094.2" cy="570.2" r="2.7"/><circle cx="2064.2" cy="447.5" r="2.7"/><circle cx="1950.9" cy="554.0" r="2.7"/><circle cx="2113.0" cy="540.3" r="2.7"/><circle cx="2066.3" cy="651.4" r="2.7"/><circle cx="2158.0" cy="578.5" r="2.7"/><circle cx="2118.7" cy="581.4" r="2.7"/><circle cx="2069.7" cy="394.2" r="2.7"/><circle cx="2016.9" cy="527.8" r="2.7"/><circle cx="2106.3" cy="566.5" r="2.7"/><circle cx="2020.5" cy="591.5" r="2.7"/><circle cx="2080.1" cy="644.6" r="2.7"/><circle cx="2066.3" cy="607.9" r="2.7"/><circle cx="2031.7" cy="501.7" r="2.7"/><circle cx="2044.0" cy="577.9" r="2.7"/><circle cx="1996.6" cy="561.0" r="2.7"/><circle cx="2064.5" cy="531.1" r="2.7"/><circle cx="2173.7" cy="542.7" r="2.7"/><circle cx="2156.5" cy="531.3" r="2.7"/><circle cx="2056.4" cy="612.5" r="2.7"/><circle cx="2087.0" cy="594.1" r="2.7"/><circle cx="2202.6" cy="563.1" r="2.7"/><circle cx="2023.8" cy="604.8" r="2.7"/><circle cx="2029.4" cy="629.0" r="2.7"/><circle cx="2069.2" cy="431.7" r="2.7"/><circle cx="2045.4" cy="548.2" r="2.7"/><circle cx="2055.8" cy="564.0" r="2.7"/><circle cx="2105.1" cy="629.7" r="2.7"/><circle cx="1993.9" cy="552.8" r="2.7"/><circle cx="1969.6" cy="579.4" r="2.7"/><circle cx="2155.7" cy="557.7" r="2.7"/><circle cx="2072.4" cy="432.2" r="2.7"/><circle cx="2040.3" cy="588.6" r="2.7"/><circle cx="2079.8" cy="541.7" r="2.7"/><circle cx="2167.3" cy="547.6" r="2.7"/><circle cx="1996.0" cy="573.3" r="2.7"/><circle cx="2088.7" cy="600.2" r="2.7"/><circle cx="2057.8" cy="521.2" r="2.7"/><circle cx="2260.1" cy="564.9" r="2.7"/><circle cx="2052.4" cy="550.2" r="2.7"/><circle cx="2065.2" cy="659.5" r="2.7"/><circle cx="2006.2" cy="604.0" r="2.7"/><circle cx="1945.9" cy="557.0" r="2.7"/><circle cx="2074.3" cy="620.6" r="2.7"/><circle cx="1975.8" cy="537.7" r="2.7"/><circle cx="1904.9" cy="559.4" r="2.7"/><circle cx="2167.5" cy="564.5" r="2.7"/><circle cx="1963.5" cy="549.1" r="2.7"/><circle cx="1946.0" cy="554.2" r="2.7"/><circle cx="2014.5" cy="607.9" r="2.7"/><circle cx="2027.7" cy="589.5" r="2.7"/><circle cx="2140.9" cy="587.9" r="2.7"/><circle cx="2104.7" cy="521.9" r="2.7"/><circle cx="2075.0" cy="644.8" r="2.7"/><circle cx="2009.3" cy="578.5" r="2.7"/><circle cx="2113.4" cy="530.3" r="2.7"/><circle cx="2020.9" cy="602.6" r="2.7"/><circle cx="2051.6" cy="516.2" r="2.7"/><circle cx="2021.6" cy="576.6" r="2.7"/><circle cx="2090.2" cy="652.7" r="2.7"/><circle cx="2077.9" cy="633.1" r="2.7"/><circle cx="2175.9" cy="591.5" r="2.7"/><circle cx="2072.3" cy="478.0" r="2.7"/><circle cx="2127.2" cy="532.7" r="2.7"/><circle cx="2128.3" cy="539.7" r="2.7"/><circle cx="2121.3" cy="551.5" r="2.7"/><circle cx="2196.0" cy="582.0" r="2.7"/><circle cx="2063.3" cy="616.3" r="2.7"/><circle cx="1973.8" cy="583.1" r="2.7"/><circle cx="2092.6" cy="511.6" r="2.7"/><circle cx="2090.5" cy="629.4" r="2.7"/><circle cx="2124.1" cy="567.1" r="2.7"/><circle cx="2087.6" cy="588.0" r="2.7"/><circle cx="2199.6" cy="554.4" r="2.7"/><circle cx="2221.2" cy="555.0" r="2.7"/><circle cx="2124.9" cy="598.5" r="2.7"/><circle cx="2141.8" cy="605.5" r="2.7"/><circle cx="2069.4" cy="670.7" r="2.7"/><circle cx="2158.4" cy="555.7" r="2.7"/><circle cx="2078.2" cy="654.7" r="2.7"/><circle cx="2052.5" cy="469.2" r="2.7"/><circle cx="2192.1" cy="562.9" r="2.7"/><circle cx="2058.1" cy="621.8" r="2.7"/><circle cx="2074.9" cy="567.1" r="2.7"/><circle cx="2016.9" cy="510.5" r="2.7"/><circle cx="2071.2" cy="567.6" r="2.7"/><circle cx="2035.1" cy="613.4" r="2.7"/><circle cx="2041.1" cy="610.1" r="2.7"/><circle cx="2154.4" cy="568.9" r="2.7"/><circle cx="2134.9" cy="524.3" r="2.7"/><circle cx="2105.3" cy="650.0" r="2.7"/><circle cx="2070.1" cy="417.4" r="2.7"/><circle cx="2189.9" cy="581.1" r="2.7"/><circle cx="1989.6" cy="535.1" r="2.7"/><circle cx="2027.0" cy="600.3" r="2.7"/><circle cx="2040.6" cy="499.5" r="2.7"/><circle cx="2081.5" cy="578.5" r="2.7"/><circle cx="2144.4" cy="590.4" r="2.7"/><circle cx="2072.0" cy="420.3" r="2.7"/><circle cx="2110.4" cy="618.9" r="2.7"/><circle cx="2043.6" cy="593.6" r="2.7"/><circle cx="2176.1" cy="541.7" r="2.7"/><circle cx="2064.5" cy="559.4" r="2.7"/><circle cx="2124.5" cy="584.2" r="2.7"/><circle cx="2106.1" cy="583.6" r="2.7"/><circle cx="2182.9" cy="566.4" r="2.7"/><circle cx="1976.2" cy="557.2" r="2.7"/><circle cx="2098.9" cy="630.1" r="2.7"/><circle cx="1978.6" cy="586.6" r="2.7"/><circle cx="2086.7" cy="486.6" r="2.7"/><circle cx="2050.2" cy="643.7" r="2.7"/><circle cx="1899.5" cy="576.8" r="2.7"/><circle cx="2149.1" cy="557.0" r="2.7"/><circle cx="2182.9" cy="554.2" r="2.7"/><circle cx="2038.4" cy="631.8" r="2.7"/><circle cx="2032.1" cy="583.1" r="2.7"/><circle cx="2042.2" cy="530.3" r="2.7"/><circle cx="2239.2" cy="564.3" r="2.7"/><circle cx="1957.8" cy="593.0" r="2.7"/><circle cx="2097.2" cy="494.2" r="2.7"/><circle cx="2113.5" cy="570.4" r="2.7"/><circle cx="2189.0" cy="553.3" r="2.7"/><circle cx="2106.4" cy="570.4" r="2.7"/><circle cx="2141.3" cy="541.9" r="2.7"/><circle cx="1988.0" cy="537.0" r="2.7"/><circle cx="2194.3" cy="573.9" r="2.7"/><circle cx="2009.6" cy="547.3" r="2.7"/><circle cx="2085.0" cy="525.2" r="2.7"/><circle cx="1986.9" cy="593.7" r="2.7"/><circle cx="2085.8" cy="568.6" r="2.7"/><circle cx="2072.9" cy="514.2" r="2.7"/><circle cx="1984.4" cy="544.9" r="2.7"/><circle cx="2054.4" cy="665.8" r="2.7"/><circle cx="2111.4" cy="552.6" r="2.7"/><circle cx="1877.2" cy="558.1" r="2.7"/><circle cx="2042.3" cy="614.3" r="2.7"/><circle cx="2233.8" cy="558.6" r="2.7"/><circle cx="2096.8" cy="655.5" r="2.7"/><circle cx="2167.3" cy="558.5" r="2.7"/><circle cx="2030.1" cy="609.0" r="2.7"/><circle cx="2043.1" cy="655.5" r="2.7"/><circle cx="1983.8" cy="579.8" r="2.7"/><circle cx="1987.5" cy="537.1" r="2.7"/><circle cx="2037.9" cy="643.3" r="2.7"/><circle cx="2040.9" cy="631.6" r="2.7"/><circle cx="1971.7" cy="551.1" r="2.7"/><circle cx="2057.5" cy="668.3" r="2.7"/><circle cx="2047.3" cy="612.7" r="2.7"/><circle cx="2089.5" cy="647.6" r="2.7"/><circle cx="2072.1" cy="543.8" r="2.7"/><circle cx="2054.1" cy="527.8" r="2.7"/><circle cx="2076.1" cy="469.7" r="2.7"/><circle cx="1983.1" cy="573.5" r="2.7"/><circle cx="2076.0" cy="451.9" r="2.7"/><circle cx="2047.1" cy="519.3" r="2.7"/><circle cx="2065.2" cy="469.0" r="2.7"/><circle cx="2082.7" cy="557.7" r="2.7"/><circle cx="1986.1" cy="550.6" r="2.7"/><circle cx="2024.2" cy="596.1" r="2.7"/><circle cx="2066.4" cy="551.3" r="2.7"/><circle cx="2133.8" cy="545.0" r="2.7"/><circle cx="2052.8" cy="506.8" r="2.7"/><circle cx="1970.8" cy="559.4" r="2.7"/><circle cx="2048.8" cy="607.0" r="2.7"/><circle cx="2056.7" cy="559.4" r="2.7"/><circle cx="2026.4" cy="604.8" r="2.7"/><circle cx="2138.8" cy="604.4" r="2.7"/><circle cx="1977.9" cy="544.1" r="2.7"/><circle cx="2031.8" cy="596.7" r="2.7"/><circle cx="1968.7" cy="539.0" r="2.7"/><circle cx="2228.7" cy="575.4" r="2.7"/><circle cx="2077.7" cy="619.5" r="2.7"/><circle cx="2268.1" cy="560.8" r="2.7"/><circle cx="2218.3" cy="580.0" r="2.7"/><circle cx="2128.6" cy="583.1" r="2.7"/><circle cx="1961.0" cy="584.5" r="2.7"/><circle cx="1954.7" cy="542.5" r="2.7"/><circle cx="2111.6" cy="639.5" r="2.7"/><circle cx="1942.0" cy="574.6" r="2.7"/><circle cx="2062.5" cy="519.1" r="2.7"/><circle cx="1950.9" cy="556.8" r="2.7"/><circle cx="2084.1" cy="508.7" r="2.7"/><circle cx="1983.1" cy="597.2" r="2.7"/><circle cx="2005.9" cy="549.1" r="2.7"/><circle cx="2112.2" cy="569.1" r="2.7"/><circle cx="2216.2" cy="558.5" r="2.7"/><circle cx="1992.8" cy="556.8" r="2.7"/><circle cx="2146.1" cy="593.2" r="2.7"/><circle cx="2037.7" cy="618.2" r="2.7"/><circle cx="2061.7" cy="534.4" r="2.7"/><circle cx="2077.6" cy="654.5" r="2.7"/><circle cx="2007.5" cy="576.3" r="2.7"/><circle cx="2062.5" cy="671.8" r="2.7"/><circle cx="2139.1" cy="570.6" r="2.7"/><circle cx="2124.8" cy="600.5" r="2.7"/><circle cx="1980.8" cy="556.4" r="2.7"/><circle cx="2072.1" cy="661.3" r="2.7"/><circle cx="1964.0" cy="546.0" r="2.7"/><circle cx="2133.8" cy="599.2" r="2.7"/><circle cx="2023.9" cy="571.5" r="2.7"/><circle cx="2226.1" cy="580.0" r="2.7"/><circle cx="2180.5" cy="572.2" r="2.7"/><circle cx="2093.3" cy="619.8" r="2.7"/><circle cx="1931.4" cy="564.7" r="2.7"/><circle cx="2166.8" cy="584.0" r="2.7"/><circle cx="2044.2" cy="652.2" r="2.7"/><circle cx="2085.8" cy="516.2" r="2.7"/><circle cx="2003.0" cy="604.0" r="2.7"/><circle cx="1984.2" cy="575.4" r="2.7"/><circle cx="2069.3" cy="862.2" r="2.7"/><circle cx="2095.3" cy="506.1" r="2.7"/><circle cx="2044.3" cy="548.2" r="2.7"/><circle cx="2046.7" cy="520.8" r="2.7"/><circle cx="2036.5" cy="521.3" r="2.7"/><circle cx="1991.6" cy="572.2" r="2.7"/><circle cx="2197.8" cy="580.7" r="2.7"/><circle cx="1886.4" cy="572.1" r="2.7"/><circle cx="2046.8" cy="650.9" r="2.7"/><circle cx="2078.8" cy="552.8" r="2.7"/><circle cx="2012.5" cy="575.9" r="2.7"/><circle cx="2122.4" cy="561.0" r="2.7"/><circle cx="1977.5" cy="562.3" r="2.7"/><circle cx="2023.2" cy="558.5" r="2.7"/><circle cx="2099.6" cy="547.1" r="2.7"/><circle cx="2031.9" cy="566.7" r="2.7"/><circle cx="2157.7" cy="585.5" r="2.7"/><circle cx="2016.1" cy="578.9" r="2.7"/><circle cx="2035.6" cy="641.1" r="2.7"/><circle cx="2055.0" cy="599.6" r="2.7"/><circle cx="2204.4" cy="557.4" r="2.7"/><circle cx="2226.3" cy="579.4" r="2.7"/><circle cx="2032.8" cy="618.4" r="2.7"/><circle cx="2183.5" cy="566.0" r="2.7"/><circle cx="2073.3" cy="506.3" r="2.7"/><circle cx="2065.7" cy="676.0" r="2.7"/><circle cx="2043.5" cy="517.1" r="2.7"/><circle cx="1993.6" cy="552.6" r="2.7"/><circle cx="2207.3" cy="560.3" r="2.7"/><circle cx="2107.0" cy="567.1" r="2.7"/><circle cx="2018.5" cy="514.9" r="2.7"/><circle cx="2057.0" cy="647.0" r="2.7"/><circle cx="2055.7" cy="645.4" r="2.7"/><circle cx="2124.9" cy="577.9" r="2.7"/><circle cx="2026.4" cy="508.9" r="2.7"/><circle cx="1913.6" cy="561.0" r="2.7"/><circle cx="1976.6" cy="547.6" r="2.7"/><circle cx="2055.2" cy="549.5" r="2.7"/><circle cx="2016.7" cy="549.3" r="2.7"/><circle cx="2147.8" cy="564.5" r="2.7"/><circle cx="2089.2" cy="483.5" r="2.7"/><circle cx="2243.9" cy="560.1" r="2.7"/><circle cx="2064.0" cy="436.8" r="2.7"/><circle cx="2114.5" cy="512.0" r="2.7"/><circle cx="2208.8" cy="558.6" r="2.7"/><circle cx="1947.7" cy="583.8" r="2.7"/><circle cx="2007.1" cy="554.2" r="2.7"/><circle cx="2176.7" cy="562.0" r="2.7"/><circle cx="2109.2" cy="506.6" r="2.7"/><circle cx="2011.9" cy="563.8" r="2.7"/><circle cx="2004.0" cy="584.2" r="2.7"/><circle cx="2045.9" cy="585.8" r="2.7"/><circle cx="1936.1" cy="564.0" r="2.7"/><circle cx="2146.5" cy="535.3" r="2.7"/><circle cx="2039.2" cy="572.1" r="2.7"/><circle cx="2158.2" cy="594.5" r="2.7"/><circle cx="2149.7" cy="527.2" r="2.7"/><circle cx="2071.2" cy="453.7" r="2.7"/><circle cx="2001.5" cy="543.8" r="2.7"/><circle cx="2114.0" cy="565.3" r="2.7"/><circle cx="2158.4" cy="560.7" r="2.7"/><circle cx="2042.4" cy="646.6" r="2.7"/><circle cx="2096.7" cy="540.5" r="2.7"/><circle cx="1995.3" cy="558.5" r="2.7"/><circle cx="2153.3" cy="566.0" r="2.7"/><circle cx="2107.1" cy="630.1" r="2.7"/><circle cx="2043.9" cy="602.4" r="2.7"/><circle cx="2088.8" cy="620.4" r="2.7"/><circle cx="2151.1" cy="530.3" r="2.7"/><circle cx="2116.5" cy="541.7" r="2.7"/><circle cx="2189.9" cy="583.8" r="2.7"/><circle cx="2224.1" cy="580.7" r="2.7"/><circle cx="2041.1" cy="496.2" r="2.7"/><circle cx="2084.8" cy="534.0" r="2.7"/><circle cx="1898.7" cy="559.6" r="2.7"/><circle cx="2086.2" cy="535.1" r="2.7"/><circle cx="2173.7" cy="557.7" r="2.7"/><circle cx="2230.6" cy="563.1" r="2.7"/><circle cx="2068.1" cy="592.1" r="2.7"/><circle cx="1964.6" cy="553.9" r="2.7"/><circle cx="2025.9" cy="547.1" r="2.7"/><circle cx="1950.8" cy="554.2" r="2.7"/><circle cx="1903.2" cy="563.6" r="2.7"/><circle cx="2074.5" cy="615.0" r="2.7"/><circle cx="2051.2" cy="510.7" r="2.7"/><circle cx="1978.1" cy="542.7" r="2.7"/><circle cx="1933.6" cy="564.2" r="2.7"/><circle cx="2100.5" cy="525.8" r="2.7"/><circle cx="2140.4" cy="560.1" r="2.7"/><circle cx="2071.1" cy="563.4" r="2.7"/><circle cx="2045.8" cy="549.3" r="2.7"/><circle cx="2001.8" cy="564.2" r="2.7"/><circle cx="2029.4" cy="603.8" r="2.7"/><circle cx="2033.2" cy="538.1" r="2.7"/><circle cx="2140.5" cy="596.1" r="2.7"/><circle cx="2014.4" cy="571.1" r="2.7"/><circle cx="2179.0" cy="578.9" r="2.7"/><circle cx="2112.0" cy="541.2" r="2.7"/><circle cx="2038.4" cy="585.5" r="2.7"/><circle cx="2085.1" cy="524.1" r="2.7"/><circle cx="2040.3" cy="536.4" r="2.7"/><circle cx="2258.2" cy="569.3" r="2.7"/><circle cx="2006.2" cy="524.7" r="2.7"/><circle cx="2251.3" cy="568.9" r="2.7"/><circle cx="2075.3" cy="487.0" r="2.7"/><circle cx="2071.3" cy="470.6" r="2.7"/><circle cx="2089.2" cy="517.7" r="2.7"/><circle cx="2126.3" cy="554.0" r="2.7"/><circle cx="1955.4" cy="543.0" r="2.7"/><circle cx="2026.5" cy="531.8" r="2.7"/><circle cx="2018.5" cy="528.5" r="2.7"/><circle cx="2044.0" cy="569.3" r="2.7"/><circle cx="2069.0" cy="603.7" r="2.7"/><circle cx="2155.7" cy="568.9" r="2.7"/><circle cx="2079.7" cy="610.5" r="2.7"/><circle cx="2067.8" cy="479.1" r="2.7"/><circle cx="2073.5" cy="475.0" r="2.7"/><circle cx="2072.1" cy="498.9" r="2.7"/><circle cx="2123.3" cy="525.4" r="2.7"/><circle cx="2086.1" cy="510.3" r="2.7"/><circle cx="2004.6" cy="584.7" r="2.7"/><circle cx="2005.0" cy="573.5" r="2.7"/><circle cx="2004.6" cy="543.2" r="2.7"/><circle cx="2072.6" cy="457.2" r="2.7"/><circle cx="2045.6" cy="502.1" r="2.7"/><circle cx="2099.0" cy="507.9" r="2.7"/><circle cx="2055.8" cy="568.0" r="2.7"/><circle cx="2188.0" cy="572.6" r="2.7"/><circle cx="2074.1" cy="576.5" r="2.7"/><circle cx="2074.8" cy="549.5" r="2.7"/><circle cx="2071.6" cy="667.6" r="2.7"/><circle cx="2235.9" cy="564.0" r="2.7"/><circle cx="2046.0" cy="493.1" r="2.7"/><circle cx="2157.8" cy="596.9" r="2.7"/><circle cx="2046.7" cy="490.7" r="2.7"/><circle cx="2070.4" cy="443.4" r="2.7"/><circle cx="2078.0" cy="522.4" r="2.7"/><circle cx="1912.8" cy="580.3" r="2.7"/><circle cx="2044.6" cy="615.6" r="2.7"/><circle cx="2010.7" cy="570.2" r="2.7"/><circle cx="2035.4" cy="552.4" r="2.7"/><circle cx="2068.8" cy="425.3" r="2.7"/><circle cx="2030.1" cy="543.9" r="2.7"/><circle cx="2041.9" cy="528.1" r="2.7"/><circle cx="2210.2" cy="584.4" r="2.7"/><circle cx="2145.4" cy="534.4" r="2.7"/><circle cx="1924.5" cy="575.5" r="2.7"/><circle cx="2075.7" cy="455.0" r="2.7"/><circle cx="1972.9" cy="539.9" r="2.7"/><circle cx="2137.5" cy="579.6" r="2.7"/><circle cx="2069.4" cy="624.6" r="2.7"/><circle cx="2011.2" cy="549.3" r="2.7"/><circle cx="2098.6" cy="535.7" r="2.7"/><circle cx="2034.2" cy="643.3" r="2.7"/><circle cx="2012.1" cy="556.4" r="2.7"/><circle cx="2077.9" cy="505.4" r="2.7"/><circle cx="2059.8" cy="663.7" r="2.7"/><circle cx="2175.6" cy="587.7" r="2.7"/><circle cx="2187.2" cy="544.7" r="2.7"/><circle cx="2104.8" cy="590.6" r="2.7"/><circle cx="2024.1" cy="533.8" r="2.7"/><circle cx="2113.4" cy="512.7" r="2.7"/><circle cx="1995.8" cy="600.3" r="2.7"/><circle cx="1950.2" cy="568.2" r="2.7"/><circle cx="2085.9" cy="593.0" r="2.7"/><circle cx="2088.4" cy="644.6" r="2.7"/><circle cx="2055.4" cy="512.3" r="2.7"/><circle cx="2229.3" cy="572.1" r="2.7"/><circle cx="1952.1" cy="555.0" r="2.7"/><circle cx="1995.6" cy="546.1" r="2.7"/><circle cx="2045.0" cy="526.3" r="2.7"/><circle cx="2072.1" cy="541.9" r="2.7"/><circle cx="2109.3" cy="624.4" r="2.7"/><circle cx="2080.7" cy="527.4" r="2.7"/><circle cx="1960.2" cy="581.4" r="2.7"/><circle cx="1944.8" cy="568.2" r="2.7"/><circle cx="2004.0" cy="554.4" r="2.7"/><circle cx="2023.8" cy="601.5" r="2.7"/><circle cx="2104.5" cy="568.9" r="2.7"/><circle cx="2214.8" cy="551.1" r="2.7"/><circle cx="2010.2" cy="551.3" r="2.7"/><circle cx="2065.7" cy="583.4" r="2.7"/><circle cx="1976.3" cy="587.3" r="2.7"/><circle cx="2104.8" cy="525.0" r="2.7"/><circle cx="2208.0" cy="556.6" r="2.7"/><circle cx="2005.7" cy="539.9" r="2.7"/><circle cx="2054.5" cy="613.4" r="2.7"/><circle cx="2036.5" cy="515.1" r="2.7"/><circle cx="2017.4" cy="593.6" r="2.7"/><circle cx="2203.7" cy="570.2" r="2.7"/><circle cx="2161.9" cy="575.2" r="2.7"/><circle cx="2058.1" cy="659.5" r="2.7"/><circle cx="2074.3" cy="617.6" r="2.7"/><circle cx="1991.3" cy="535.1" r="2.7"/><circle cx="1947.4" cy="550.9" r="2.7"/><circle cx="2082.0" cy="593.9" r="2.7"/><circle cx="2084.7" cy="485.3" r="2.7"/><circle cx="2047.9" cy="573.7" r="2.7"/><circle cx="2065.1" cy="523.2" r="2.7"/><circle cx="2076.6" cy="633.4" r="2.7"/><circle cx="2115.3" cy="562.5" r="2.7"/><circle cx="2119.4" cy="569.9" r="2.7"/><circle cx="1996.2" cy="534.6" r="2.7"/><circle cx="2074.3" cy="450.2" r="2.7"/><circle cx="2067.6" cy="423.1" r="2.7"/><circle cx="2069.3" cy="572.8" r="2.7"/><circle cx="2044.7" cy="627.2" r="2.7"/><circle cx="2028.5" cy="516.2" r="2.7"/><circle cx="1980.1" cy="565.6" r="2.7"/><circle cx="2149.0" cy="562.1" r="2.7"/><circle cx="2124.1" cy="550.4" r="2.7"/><circle cx="2070.7" cy="462.9" r="2.7"/><circle cx="2106.5" cy="629.6" r="2.7"/><circle cx="2258.2" cy="571.7" r="2.7"/><circle cx="2019.5" cy="540.1" r="2.7"/><circle cx="2073.1" cy="561.6" r="2.7"/><circle cx="2060.7" cy="602.4" r="2.7"/><circle cx="2078.1" cy="488.5" r="2.7"/><circle cx="2158.6" cy="538.2" r="2.7"/><circle cx="2023.8" cy="536.8" r="2.7"/><circle cx="2041.8" cy="522.4" r="2.7"/><circle cx="1982.6" cy="574.3" r="2.7"/><circle cx="2073.2" cy="488.8" r="2.7"/><circle cx="1969.0" cy="588.8" r="2.7"/><circle cx="1892.9" cy="559.6" r="2.7"/><circle cx="2066.7" cy="459.1" r="2.7"/><circle cx="2180.4" cy="546.5" r="2.7"/><circle cx="2071.6" cy="452.4" r="2.7"/><circle cx="2048.0" cy="588.6" r="2.7"/><circle cx="1961.4" cy="565.8" r="2.7"/><circle cx="1952.0" cy="542.3" r="2.7"/><circle cx="2029.1" cy="628.8" r="2.7"/><circle cx="2100.6" cy="522.3" r="2.7"/><circle cx="2074.5" cy="562.3" r="2.7"/><circle cx="1966.6" cy="547.4" r="2.7"/><circle cx="2069.7" cy="343.3" r="2.7"/><circle cx="2069.2" cy="896.6" r="2.7"/>
</g>
<path d="M509.2,1394.3 L509.2,1396.3 L509.2,1398.3 L509.2,1400.3 L509.2,1402.3 L509.2,1404.3 L509.2,1406.3 L509.2,1408.3 L509.2,1410.3 L509.2,1412.3 L509.2,1414.3 L509.2,1416.3 L509.2,1418.3 L509.2,1420.3 L509.2,1422.3 L509.2,1424.3 L509.2,1426.3 L509.2,1428.3 L509.2,1430.3 L509.2,1432.3 L509.2,1434.3 L509.2,1436.3 L509.2,1438.3 L509.2,1440.3 L509.3,1442.3 L509.3,1444.3 L509.3,1446.3 L509.3,1448.3 L509.3,1450.3 L509.3,1452.3 L509.4,1454.3 L509.4,1456.3 L509.5,1458.3 L509.6,1460.3 L509.7,1462.3 L509.8,1464.3 L509.9,1466.3 L510.1,1468.3 L510.2,1470.3 L510.3,1472.3 L510.5,1474.3 L510.6,1476.3 L510.7,1478.3 L510.9,1480.3 L511.0,1482.3 L511.1,1484.3 L511.2,1486.3 L511.4,1488.3 L511.5,1490.3 L511.6,1492.3 L511.7,1494.3 L511.8,1496.3 L512.0,1498.3 L512.1,1500.3 L512.2,1502.3 L512.4,1504.3 L512.5,1506.3 L512.6,1508.3 L512.7,1510.3 L512.9,1512.3 L513.0,1514.3 L513.1,1516.3 L513.3,1518.3 L513.4,1520.3 L513.5,1522.3 L513.7,1524.3 L513.8,1526.3 L513.9,1528.3 L514.0,1530.3 L514.1,1532.3 L514.3,1534.3 L514.4,1536.3 L514.5,1538.3 L514.6,1540.3 L514.7,1542.3 L514.7,1544.3 L514.8,1546.3 L514.9,1548.3 L514.9,1550.3 L515.0,1552.3 L515.1,1554.3 L515.1,1556.3 L515.2,1558.3 L515.3,1560.3 L515.4,1562.3 L515.5,1564.3 L515.6,1566.3 L515.8,1568.3 L515.9,1570.3 L516.2,1572.3 L516.5,1574.3 L516.9,1576.3 L517.3,1578.3 L517.7,1580.3 L518.2,1582.3 L518.8,1584.3 L519.3,1586.3 L519.9,1588.3 L520.5,1590.3 L521.1,1592.3 L521.7,1594.3 L522.3,1596.3 L523.0,1598.3 L523.7,1600.3 L524.5,1602.3 L525.3,1604.3 L526.2,1606.3 L527.1,1608.3 L528.0,1610.3 L529.1,1612.3 L530.1,1614.3 L531.4,1616.3 L532.8,1618.3 L534.3,1620.3 L535.8,1622.3 L537.5,1624.3 L539.2,1626.3 L541.0,1628.3 L542.7,1630.3 L544.4,1632.3 L546.0,1634.3 L547.6,1636.3 L549.3,1638.3 L551.0,1640.3 L552.7,1642.3 L554.5,1644.3 L556.2,1646.3 L557.9,1648.3 L559.5,1650.3 L561.1,1652.3 L562.7,1654.3 L564.1,1656.3 L565.5,1658.3 L566.8,1660.3 L568.2,1662.3 L569.6,1664.3 L570.8,1666.3 L572.0,1668.3 L573.0,1670.3 L573.7,1672.3 L574.3,1674.3 L574.8,1676.3 L575.3,1678.3 L575.7,1680.3 L576.0,1682.3 L576.3,1684.3 L576.4,1686.3 L576.5,1688.3 L576.5,1690.3 L576.4,1692.3 L576.3,1694.3 L576.2,1696.3 L576.1,1698.3 L576.0,1700.3 L576.0,1702.3 L575.9,1704.3 L575.9,1706.3 L576.1,1708.3 L576.7,1710.3 L577.5,1712.3 L578.5,1714.3 L579.7,1716.3 L581.0,1718.3 L582.4,1720.3 L583.8,1722.3 L585.2,1724.3 L586.8,1726.3 L588.7,1728.3 L590.9,1730.3 L593.2,1732.3 L595.7,1734.3 L598.2,1736.3 L600.7,1738.3 L603.2,1740.3 L605.6,1742.3 L607.9,1744.3 L610.3,1746.3 L612.8,1748.3 L615.2,1750.3 L617.6,1752.3 L620.1,1754.3 L622.5,1756.3 L624.9,1758.3 L627.3,1760.3 L629.7,1762.3 L632.1,1764.3 L634.4,1766.3 L636.8,1768.3 L639.1,1770.3 L641.4,1772.3 L643.8,1774.3 L646.0,1776.3 L648.3,1778.3 L650.6,1780.3 L653.0,1782.3 L655.4,1784.3 L657.8,1786.3 L660.1,1788.3 L662.2,1790.3 L664.2,1792.3 L666.0,1794.3 L667.5,1796.3 L669.0,1798.3 L670.5,1800.3 L672.0,1802.3 L673.3,1804.3 L674.5,1806.3 L675.5,1808.3 L676.2,1810.3 L676.6,1812.3 L676.7,1814.3 L676.5,1816.3 L676.2,1818.3 L675.9,1820.3 L675.5,1822.3 L675.0,1824.3 L674.6,1826.3 L674.2,1828.3 L673.6,1830.3 L673.0,1832.3 L672.1,1834.3 L670.4,1836.3 L667.9,1838.3 L665.1,1840.3 L662.7,1842.3 L660.9,1844.3 L659.4,1846.3 L658.0,1848.3 L656.7,1850.3 L655.5,1852.3 L654.4,1854.3 L653.3,1856.3 L652.1,1858.3 L651.0,1860.3 L649.8,1862.3 L648.6,1864.3 L647.5,1866.3 L646.4,1868.3 L645.4,1870.3 L644.2,1872.3 L643.1,1874.3 L641.8,1876.3 L640.5,1878.3 L639.1,1880.3 L637.5,1882.3 L635.9,1884.3 L634.2,1886.3 L632.4,1888.3 L630.5,1890.3 L628.5,1892.3 L626.4,1894.3 L624.3,1896.3 L622.0,1898.3 L619.4,1900.3 L616.7,1902.3 L613.8,1904.3 L610.8,1906.3 L607.7,1908.3 L604.7,1910.3 L601.8,1912.3 L599.0,1914.3 L596.3,1916.3 L593.7,1918.3 L591.1,1920.3 L588.6,1922.3 L586.0,1924.3 L583.6,1926.3 L581.1,1928.3 L578.7,1930.3 L576.4,1932.3 L574.1,1934.3 L571.8,1936.3 L569.5,1938.3 L567.3,1940.3 L565.1,1942.3 L563.0,1944.3 L560.9,1946.3 L558.8,1948.3 L556.8,1950.3 L554.8,1952.3 L552.9,1954.3 L551.0,1956.3 L549.2,1958.3 L547.4,1960.3 L545.6,1962.3 L543.8,1964.3 L542.0,1966.3 L540.3,1968.3 L538.5,1970.3 L536.7,1972.3 L534.9,1974.3 L533.1,1976.3 L531.4,1978.3 L529.7,1980.3 L528.1,1982.3 L526.6,1984.3 L525.3,1986.3 L524.0,1988.3 L522.9,1990.3 L521.9,1992.3 L520.8,1994.3 L519.9,1996.3 L518.9,1998.3 L518.0,2000.3 L517.1,2002.3 L516.2,2004.3 L515.3,2006.3 L514.4,2008.3 L513.5,2010.3 L512.7,2012.3 L512.3,2013.2 L504.9,2013.2 L504.5,2012.3 L503.7,2010.3 L502.8,2008.3 L501.9,2006.3 L501.0,2004.3 L500.1,2002.3 L499.2,2000.3 L498.3,1998.3 L497.3,1996.3 L496.4,1994.3 L495.3,1992.3 L494.3,1990.3 L493.2,1988.3 L491.9,1986.3 L490.6,1984.3 L489.1,1982.3 L487.5,1980.3 L485.8,1978.3 L484.1,1976.3 L482.3,1974.3 L480.5,1972.3 L478.7,1970.3 L476.9,1968.3 L475.2,1966.3 L473.4,1964.3 L471.6,1962.3 L469.8,1960.3 L468.0,1958.3 L466.2,1956.3 L464.3,1954.3 L462.4,1952.3 L460.4,1950.3 L458.4,1948.3 L456.3,1946.3 L454.2,1944.3 L452.1,1942.3 L449.9,1940.3 L447.7,1938.3 L445.4,1936.3 L443.1,1934.3 L440.8,1932.3 L438.5,1930.3 L436.1,1928.3 L433.6,1926.3 L431.2,1924.3 L428.6,1922.3 L426.1,1920.3 L423.5,1918.3 L420.9,1916.3 L418.2,1914.3 L415.4,1912.3 L412.5,1910.3 L409.5,1908.3 L406.4,1906.3 L403.4,1904.3 L400.5,1902.3 L397.8,1900.3 L395.2,1898.3 L392.9,1896.3 L390.8,1894.3 L388.7,1892.3 L386.7,1890.3 L384.8,1888.3 L383.0,1886.3 L381.3,1884.3 L379.7,1882.3 L378.1,1880.3 L376.7,1878.3 L375.4,1876.3 L374.1,1874.3 L373.0,1872.3 L371.8,1870.3 L370.8,1868.3 L369.7,1866.3 L368.6,1864.3 L367.4,1862.3 L366.2,1860.3 L365.1,1858.3 L363.9,1856.3 L362.8,1854.3 L361.7,1852.3 L360.5,1850.3 L359.2,1848.3 L357.8,1846.3 L356.3,1844.3 L354.5,1842.3 L352.1,1840.3 L349.3,1838.3 L346.8,1836.3 L345.1,1834.3 L344.2,1832.3 L343.6,1830.3 L343.0,1828.3 L342.6,1826.3 L342.2,1824.3 L341.7,1822.3 L341.3,1820.3 L341.0,1818.3 L340.7,1816.3 L340.5,1814.3 L340.6,1812.3 L341.0,1810.3 L341.7,1808.3 L342.7,1806.3 L343.9,1804.3 L345.2,1802.3 L346.7,1800.3 L348.2,1798.3 L349.7,1796.3 L351.2,1794.3 L353.0,1792.3 L355.0,1790.3 L357.1,1788.3 L359.4,1786.3 L361.8,1784.3 L364.2,1782.3 L366.6,1780.3 L368.9,1778.3 L371.2,1776.3 L373.4,1774.3 L375.8,1772.3 L378.1,1770.3 L380.4,1768.3 L382.8,1766.3 L385.1,1764.3 L387.5,1762.3 L389.9,1760.3 L392.3,1758.3 L394.7,1756.3 L397.1,1754.3 L399.6,1752.3 L402.0,1750.3 L404.4,1748.3 L406.9,1746.3 L409.3,1744.3 L411.6,1742.3 L414.0,1740.3 L416.5,1738.3 L419.0,1736.3 L421.5,1734.3 L424.0,1732.3 L426.3,1730.3 L428.5,1728.3 L430.4,1726.3 L432.0,1724.3 L433.4,1722.3 L434.8,1720.3 L436.2,1718.3 L437.5,1716.3 L438.7,1714.3 L439.7,1712.3 L440.5,1710.3 L441.1,1708.3 L441.3,1706.3 L441.3,1704.3 L441.2,1702.3 L441.2,1700.3 L441.1,1698.3 L441.0,1696.3 L440.9,1694.3 L440.8,1692.3 L440.7,1690.3 L440.7,1688.3 L440.8,1686.3 L440.9,1684.3 L441.2,1682.3 L441.5,1680.3 L441.9,1678.3 L442.4,1676.3 L442.9,1674.3 L443.5,1672.3 L444.2,1670.3 L445.2,1668.3 L446.4,1666.3 L447.6,1664.3 L449.0,1662.3 L450.4,1660.3 L451.7,1658.3 L453.1,1656.3 L454.5,1654.3 L456.1,1652.3 L457.7,1650.3 L459.3,1648.3 L461.0,1646.3 L462.7,1644.3 L464.5,1642.3 L466.2,1640.3 L467.9,1638.3 L469.6,1636.3 L471.2,1634.3 L472.8,1632.3 L474.5,1630.3 L476.2,1628.3 L478.0,1626.3 L479.7,1624.3 L481.4,1622.3 L482.9,1620.3 L484.4,1618.3 L485.8,1616.3 L487.1,1614.3 L488.1,1612.3 L489.2,1610.3 L490.1,1608.3 L491.0,1606.3 L491.9,1604.3 L492.7,1602.3 L493.5,1600.3 L494.2,1598.3 L494.9,1596.3 L495.5,1594.3 L496.1,1592.3 L496.7,1590.3 L497.3,1588.3 L497.9,1586.3 L498.4,1584.3 L499.0,1582.3 L499.5,1580.3 L499.9,1578.3 L500.3,1576.3 L500.7,1574.3 L501.0,1572.3 L501.3,1570.3 L501.4,1568.3 L501.6,1566.3 L501.7,1564.3 L501.8,1562.3 L501.9,1560.3 L502.0,1558.3 L502.1,1556.3 L502.1,1554.3 L502.2,1552.3 L502.3,1550.3 L502.3,1548.3 L502.4,1546.3 L502.5,1544.3 L502.5,1542.3 L502.6,1540.3 L502.7,1538.3 L502.8,1536.3 L502.9,1534.3 L503.1,1532.3 L503.2,1530.3 L503.3,1528.3 L503.4,1526.3 L503.5,1524.3 L503.7,1522.3 L503.8,1520.3 L503.9,1518.3 L504.1,1516.3 L504.2,1514.3 L504.3,1512.3 L504.5,1510.3 L504.6,1508.3 L504.7,1506.3 L504.8,1504.3 L505.0,1502.3 L505.1,1500.3 L505.2,1498.3 L505.4,1496.3 L505.5,1494.3 L505.6,1492.3 L505.7,1490.3 L505.8,1488.3 L506.0,1486.3 L506.1,1484.3 L506.2,1482.3 L506.3,1480.3 L506.5,1478.3 L506.6,1476.3 L506.7,1474.3 L506.9,1472.3 L507.0,1470.3 L507.1,1468.3 L507.3,1466.3 L507.4,1464.3 L507.5,1462.3 L507.6,1460.3 L507.7,1458.3 L507.8,1456.3 L507.8,1454.3 L507.9,1452.3 L507.9,1450.3 L507.9,1448.3 L507.9,1446.3 L507.9,1444.3 L507.9,1442.3 L508.0,1440.3 L508.0,1438.3 L508.0,1436.3 L508.0,1434.3 L508.0,1432.3 L508.0,1430.3 L508.0,1428.3 L508.0,1426.3 L508.0,1424.3 L508.0,1422.3 L508.1,1420.3 L508.1,1418.3 L508.1,1416.3 L508.1,1414.3 L508.1,1412.3 L508.1,1410.3 L508.1,1408.3 L508.1,1406.3 L508.1,1404.3 L508.1,1402.3 L508.1,1400.3 L508.1,1398.3 L508.1,1396.3 L508.1,1394.3Z" fill="#9bcccd" stroke="#333333" stroke-width="3.9" stroke-linejoin="round"/>
<g fill="#d5edf2" stroke="#000" stroke-width="1.15">
<circle cx="515.4" cy="1765.7" r="2.7"/><circle cx="359.0" cy="1821.7" r="2.7"/><circle cx="523.9" cy="1822.0" r="2.7"/><circle cx="549.0" cy="1803.5" r="2.7"/><circle cx="649.4" cy="1858.8" r="2.7"/><circle cx="387.7" cy="1859.2" r="2.7"/><circle cx="547.1" cy="1748.0" r="2.7"/><circle cx="434.8" cy="1841.0" r="2.7"/><circle cx="517.9" cy="1933.9" r="2.7"/><circle cx="490.1" cy="1720.2" r="2.7"/><circle cx="481.0" cy="1672.5" r="2.7"/><circle cx="539.1" cy="1644.8" r="2.7"/><circle cx="595.9" cy="1859.2" r="2.7"/><circle cx="428.6" cy="1775.2" r="2.7"/><circle cx="452.3" cy="1748.6" r="2.7"/><circle cx="486.4" cy="1858.3" r="2.7"/><circle cx="517.7" cy="1730.3" r="2.7"/><circle cx="480.9" cy="1718.7" r="2.7"/><circle cx="350.7" cy="1822.2" r="2.7"/><circle cx="488.9" cy="1896.7" r="2.7"/><circle cx="519.7" cy="1895.6" r="2.7"/><circle cx="503.0" cy="1897.1" r="2.7"/><circle cx="572.4" cy="1821.3" r="2.7"/><circle cx="451.7" cy="1859.2" r="2.7"/><circle cx="366.3" cy="1785.7" r="2.7"/><circle cx="471.1" cy="1933.8" r="2.7"/><circle cx="605.2" cy="1755.8" r="2.7"/><circle cx="624.4" cy="1784.6" r="2.7"/><circle cx="538.9" cy="1682.3" r="2.7"/><circle cx="488.5" cy="1812.8" r="2.7"/><circle cx="457.2" cy="1654.2" r="2.7"/><circle cx="652.8" cy="1803.7" r="2.7"/><circle cx="499.9" cy="1820.7" r="2.7"/><circle cx="388.9" cy="1803.2" r="2.7"/><circle cx="577.4" cy="1746.6" r="2.7"/><circle cx="506.9" cy="1812.4" r="2.7"/><circle cx="463.5" cy="1756.7" r="2.7"/><circle cx="440.7" cy="1747.9" r="2.7"/><circle cx="505.7" cy="2007.6" r="2.7"/><circle cx="623.8" cy="1785.0" r="2.7"/><circle cx="489.7" cy="1747.9" r="2.7"/><circle cx="535.0" cy="1692.5" r="2.7"/><circle cx="505.8" cy="1626.8" r="2.7"/><circle cx="603.3" cy="1858.8" r="2.7"/><circle cx="461.6" cy="1710.5" r="2.7"/><circle cx="627.3" cy="1812.6" r="2.7"/><circle cx="557.8" cy="1857.7" r="2.7"/><circle cx="425.3" cy="1896.2" r="2.7"/><circle cx="595.8" cy="1896.4" r="2.7"/><circle cx="443.1" cy="1729.6" r="2.7"/><circle cx="622.3" cy="1812.2" r="2.7"/><circle cx="442.2" cy="1792.0" r="2.7"/><circle cx="529.0" cy="1692.1" r="2.7"/><circle cx="423.4" cy="1747.7" r="2.7"/><circle cx="599.7" cy="1765.3" r="2.7"/><circle cx="496.4" cy="1737.3" r="2.7"/><circle cx="464.5" cy="1821.6" r="2.7"/><circle cx="445.9" cy="1672.7" r="2.7"/><circle cx="523.7" cy="1971.7" r="2.7"/><circle cx="506.8" cy="1523.8" r="2.7"/><circle cx="536.5" cy="1654.7" r="2.7"/><circle cx="472.8" cy="1747.9" r="2.7"/><circle cx="552.4" cy="1710.6" r="2.7"/><circle cx="553.8" cy="1662.6" r="2.7"/><circle cx="527.8" cy="1709.6" r="2.7"/><circle cx="457.8" cy="1887.3" r="2.7"/><circle cx="431.8" cy="1747.4" r="2.7"/><circle cx="574.3" cy="1896.5" r="2.7"/><circle cx="390.2" cy="1877.7" r="2.7"/><circle cx="399.2" cy="1896.0" r="2.7"/><circle cx="513.2" cy="1636.4" r="2.7"/><circle cx="364.8" cy="1821.7" r="2.7"/><circle cx="484.3" cy="1775.9" r="2.7"/><circle cx="407.2" cy="1756.4" r="2.7"/><circle cx="353.3" cy="1822.1" r="2.7"/><circle cx="527.5" cy="1673.0" r="2.7"/><circle cx="481.7" cy="1663.6" r="2.7"/><circle cx="525.6" cy="1858.0" r="2.7"/><circle cx="372.4" cy="1822.1" r="2.7"/><circle cx="629.5" cy="1858.5" r="2.7"/><circle cx="533.0" cy="1785.4" r="2.7"/><circle cx="468.8" cy="1821.7" r="2.7"/><circle cx="633.0" cy="1822.2" r="2.7"/><circle cx="447.0" cy="1859.2" r="2.7"/><circle cx="467.1" cy="1709.5" r="2.7"/><circle cx="497.6" cy="1748.7" r="2.7"/><circle cx="612.6" cy="1895.0" r="2.7"/><circle cx="493.3" cy="1635.7" r="2.7"/><circle cx="459.2" cy="1729.5" r="2.7"/><circle cx="366.3" cy="1821.5" r="2.7"/><circle cx="570.7" cy="1738.2" r="2.7"/><circle cx="494.8" cy="1970.5" r="2.7"/><circle cx="453.1" cy="1933.4" r="2.7"/><circle cx="551.8" cy="1821.3" r="2.7"/><circle cx="634.0" cy="1831.4" r="2.7"/><circle cx="408.5" cy="1859.3" r="2.7"/><circle cx="632.1" cy="1784.9" r="2.7"/><circle cx="519.1" cy="1747.8" r="2.7"/><circle cx="413.3" cy="1858.1" r="2.7"/><circle cx="592.6" cy="1756.2" r="2.7"/><circle cx="581.6" cy="1747.8" r="2.7"/><circle cx="488.4" cy="1896.4" r="2.7"/><circle cx="568.5" cy="1859.9" r="2.7"/><circle cx="565.6" cy="1711.4" r="2.7"/><circle cx="475.2" cy="1802.6" r="2.7"/><circle cx="457.7" cy="1933.6" r="2.7"/><circle cx="517.9" cy="1859.6" r="2.7"/><circle cx="564.6" cy="1858.5" r="2.7"/><circle cx="631.7" cy="1783.3" r="2.7"/><circle cx="493.3" cy="1784.3" r="2.7"/><circle cx="538.7" cy="1953.4" r="2.7"/><circle cx="535.0" cy="1821.8" r="2.7"/><circle cx="523.7" cy="1942.7" r="2.7"/><circle cx="583.8" cy="1794.2" r="2.7"/><circle cx="577.9" cy="1886.4" r="2.7"/><circle cx="539.2" cy="1896.3" r="2.7"/><circle cx="574.1" cy="1775.5" r="2.7"/><circle cx="581.4" cy="1747.1" r="2.7"/><circle cx="463.5" cy="1784.5" r="2.7"/><circle cx="447.1" cy="1812.5" r="2.7"/><circle cx="610.3" cy="1850.2" r="2.7"/><circle cx="613.3" cy="1885.8" r="2.7"/><circle cx="486.0" cy="1970.5" r="2.7"/><circle cx="624.9" cy="1829.7" r="2.7"/><circle cx="412.7" cy="1747.6" r="2.7"/><circle cx="497.0" cy="1747.1" r="2.7"/><circle cx="573.2" cy="1896.8" r="2.7"/><circle cx="537.6" cy="1896.7" r="2.7"/><circle cx="445.1" cy="1830.7" r="2.7"/><circle cx="479.3" cy="1692.2" r="2.7"/><circle cx="492.6" cy="1634.6" r="2.7"/><circle cx="478.5" cy="1746.9" r="2.7"/><circle cx="552.6" cy="1673.4" r="2.7"/><circle cx="461.9" cy="1905.5" r="2.7"/><circle cx="577.8" cy="1850.2" r="2.7"/><circle cx="449.4" cy="1850.4" r="2.7"/><circle cx="490.1" cy="1637.2" r="2.7"/><circle cx="477.0" cy="1654.0" r="2.7"/><circle cx="569.0" cy="1784.1" r="2.7"/><circle cx="417.1" cy="1784.7" r="2.7"/><circle cx="635.5" cy="1877.4" r="2.7"/><circle cx="523.9" cy="1895.6" r="2.7"/><circle cx="549.4" cy="1709.9" r="2.7"/><circle cx="487.4" cy="1671.9" r="2.7"/><circle cx="458.5" cy="1663.0" r="2.7"/><circle cx="454.4" cy="1820.5" r="2.7"/><circle cx="479.1" cy="1934.1" r="2.7"/><circle cx="515.4" cy="1840.6" r="2.7"/><circle cx="663.7" cy="1822.2" r="2.7"/><circle cx="537.6" cy="1746.4" r="2.7"/><circle cx="500.1" cy="1969.6" r="2.7"/><circle cx="495.6" cy="1636.2" r="2.7"/><circle cx="492.4" cy="1970.3" r="2.7"/><circle cx="482.0" cy="1635.8" r="2.7"/><circle cx="610.1" cy="1895.4" r="2.7"/><circle cx="519.0" cy="1729.3" r="2.7"/><circle cx="627.4" cy="1785.2" r="2.7"/><circle cx="480.2" cy="1719.3" r="2.7"/><circle cx="537.6" cy="1664.3" r="2.7"/><circle cx="379.8" cy="1878.0" r="2.7"/><circle cx="545.9" cy="1802.2" r="2.7"/><circle cx="522.3" cy="1925.0" r="2.7"/><circle cx="545.4" cy="1737.7" r="2.7"/><circle cx="560.9" cy="1738.3" r="2.7"/><circle cx="541.5" cy="1895.8" r="2.7"/><circle cx="421.4" cy="1822.7" r="2.7"/><circle cx="575.4" cy="1804.0" r="2.7"/><circle cx="646.1" cy="1784.7" r="2.7"/><circle cx="593.5" cy="1737.9" r="2.7"/><circle cx="503.2" cy="1607.7" r="2.7"/><circle cx="486.8" cy="1849.8" r="2.7"/><circle cx="520.3" cy="1923.3" r="2.7"/><circle cx="627.4" cy="1785.1" r="2.7"/><circle cx="515.6" cy="1969.4" r="2.7"/><circle cx="549.7" cy="1924.7" r="2.7"/><circle cx="416.3" cy="1896.5" r="2.7"/><circle cx="490.4" cy="1672.3" r="2.7"/><circle cx="552.4" cy="1932.7" r="2.7"/><circle cx="431.7" cy="1784.5" r="2.7"/><circle cx="507.5" cy="1971.1" r="2.7"/><circle cx="483.1" cy="1933.1" r="2.7"/><circle cx="564.0" cy="1803.8" r="2.7"/><circle cx="571.6" cy="1858.9" r="2.7"/><circle cx="648.2" cy="1830.1" r="2.7"/><circle cx="556.7" cy="1766.3" r="2.7"/><circle cx="479.3" cy="1933.2" r="2.7"/><circle cx="486.3" cy="1653.8" r="2.7"/><circle cx="488.3" cy="1933.5" r="2.7"/><circle cx="424.3" cy="1784.8" r="2.7"/><circle cx="558.5" cy="1756.7" r="2.7"/><circle cx="430.0" cy="1784.4" r="2.7"/><circle cx="459.5" cy="1915.1" r="2.7"/><circle cx="569.9" cy="1905.9" r="2.7"/><circle cx="541.8" cy="1747.3" r="2.7"/><circle cx="468.9" cy="1776.6" r="2.7"/><circle cx="412.1" cy="1850.4" r="2.7"/><circle cx="445.2" cy="1691.8" r="2.7"/><circle cx="401.6" cy="1785.0" r="2.7"/><circle cx="499.2" cy="1652.9" r="2.7"/><circle cx="362.6" cy="1812.5" r="2.7"/><circle cx="562.7" cy="1803.6" r="2.7"/><circle cx="515.2" cy="1950.5" r="2.7"/><circle cx="549.5" cy="1785.0" r="2.7"/><circle cx="453.3" cy="1877.5" r="2.7"/><circle cx="638.5" cy="1785.0" r="2.7"/><circle cx="601.4" cy="1868.7" r="2.7"/><circle cx="489.2" cy="1914.3" r="2.7"/><circle cx="482.5" cy="1832.2" r="2.7"/><circle cx="531.4" cy="1636.4" r="2.7"/><circle cx="439.8" cy="1849.6" r="2.7"/><circle cx="541.9" cy="1876.8" r="2.7"/><circle cx="487.1" cy="1971.3" r="2.7"/><circle cx="430.1" cy="1767.0" r="2.7"/><circle cx="588.6" cy="1858.9" r="2.7"/><circle cx="567.5" cy="1859.6" r="2.7"/><circle cx="395.5" cy="1839.9" r="2.7"/><circle cx="503.6" cy="1637.6" r="2.7"/><circle cx="481.2" cy="1896.6" r="2.7"/><circle cx="539.6" cy="1794.4" r="2.7"/><circle cx="522.3" cy="1766.5" r="2.7"/><circle cx="526.9" cy="1672.5" r="2.7"/><circle cx="389.5" cy="1831.5" r="2.7"/><circle cx="481.3" cy="1867.9" r="2.7"/><circle cx="568.4" cy="1671.8" r="2.7"/><circle cx="524.8" cy="1803.8" r="2.7"/><circle cx="444.8" cy="1915.1" r="2.7"/><circle cx="528.5" cy="1793.7" r="2.7"/><circle cx="475.7" cy="1904.7" r="2.7"/><circle cx="530.8" cy="1914.7" r="2.7"/><circle cx="452.8" cy="1691.1" r="2.7"/><circle cx="597.7" cy="1885.7" r="2.7"/><circle cx="485.8" cy="1654.0" r="2.7"/><circle cx="461.0" cy="1857.7" r="2.7"/><circle cx="489.9" cy="1766.5" r="2.7"/><circle cx="546.4" cy="1811.3" r="2.7"/><circle cx="433.9" cy="1895.8" r="2.7"/><circle cx="579.5" cy="1905.4" r="2.7"/><circle cx="642.6" cy="1822.3" r="2.7"/><circle cx="568.2" cy="1812.3" r="2.7"/><circle cx="411.7" cy="1784.9" r="2.7"/><circle cx="463.5" cy="1896.2" r="2.7"/><circle cx="483.4" cy="1757.2" r="2.7"/><circle cx="548.4" cy="1877.7" r="2.7"/><circle cx="405.0" cy="1895.9" r="2.7"/><circle cx="511.5" cy="1897.1" r="2.7"/><circle cx="454.5" cy="1682.9" r="2.7"/><circle cx="602.2" cy="1831.4" r="2.7"/><circle cx="482.3" cy="1784.6" r="2.7"/><circle cx="451.0" cy="1673.0" r="2.7"/><circle cx="558.9" cy="1784.1" r="2.7"/><circle cx="481.7" cy="1709.7" r="2.7"/><circle cx="552.1" cy="1710.2" r="2.7"/><circle cx="552.1" cy="1803.0" r="2.7"/><circle cx="514.1" cy="1887.8" r="2.7"/><circle cx="599.3" cy="1867.7" r="2.7"/><circle cx="531.9" cy="1635.3" r="2.7"/><circle cx="460.0" cy="1655.8" r="2.7"/><circle cx="602.4" cy="1775.9" r="2.7"/><circle cx="476.2" cy="1636.7" r="2.7"/><circle cx="463.2" cy="1924.2" r="2.7"/><circle cx="551.8" cy="1896.0" r="2.7"/><circle cx="490.1" cy="1673.2" r="2.7"/><circle cx="502.0" cy="1878.0" r="2.7"/><circle cx="495.5" cy="1710.4" r="2.7"/><circle cx="575.6" cy="1748.2" r="2.7"/><circle cx="434.9" cy="1858.8" r="2.7"/><circle cx="568.9" cy="1728.7" r="2.7"/><circle cx="547.7" cy="1803.0" r="2.7"/><circle cx="448.9" cy="1709.9" r="2.7"/><circle cx="565.8" cy="1737.7" r="2.7"/><circle cx="390.0" cy="1869.1" r="2.7"/><circle cx="404.8" cy="1859.3" r="2.7"/><circle cx="512.1" cy="1617.5" r="2.7"/><circle cx="528.2" cy="1654.6" r="2.7"/><circle cx="403.5" cy="1896.3" r="2.7"/><circle cx="549.9" cy="1654.6" r="2.7"/><circle cx="424.0" cy="1841.2" r="2.7"/><circle cx="529.9" cy="1960.8" r="2.7"/><circle cx="578.9" cy="1858.4" r="2.7"/><circle cx="469.6" cy="1951.4" r="2.7"/><circle cx="452.5" cy="1785.0" r="2.7"/><circle cx="506.1" cy="1895.3" r="2.7"/><circle cx="411.6" cy="1896.3" r="2.7"/><circle cx="560.3" cy="1673.0" r="2.7"/><circle cx="629.0" cy="1859.5" r="2.7"/><circle cx="431.8" cy="1850.8" r="2.7"/><circle cx="383.6" cy="1840.3" r="2.7"/><circle cx="419.1" cy="1868.3" r="2.7"/><circle cx="554.5" cy="1933.1" r="2.7"/><circle cx="557.1" cy="1822.5" r="2.7"/><circle cx="548.0" cy="1673.6" r="2.7"/><circle cx="488.3" cy="1663.4" r="2.7"/><circle cx="532.7" cy="1655.0" r="2.7"/><circle cx="471.1" cy="1737.9" r="2.7"/><circle cx="480.5" cy="1747.2" r="2.7"/><circle cx="507.0" cy="1756.8" r="2.7"/><circle cx="537.2" cy="1952.3" r="2.7"/><circle cx="588.0" cy="1840.3" r="2.7"/><circle cx="451.3" cy="1896.5" r="2.7"/><circle cx="493.9" cy="1924.9" r="2.7"/><circle cx="569.4" cy="1692.1" r="2.7"/><circle cx="626.9" cy="1841.4" r="2.7"/><circle cx="609.6" cy="1896.2" r="2.7"/><circle cx="618.9" cy="1812.3" r="2.7"/><circle cx="500.5" cy="1673.3" r="2.7"/><circle cx="403.6" cy="1783.5" r="2.7"/><circle cx="479.1" cy="1897.0" r="2.7"/><circle cx="461.2" cy="1857.9" r="2.7"/><circle cx="507.8" cy="1747.0" r="2.7"/><circle cx="660.8" cy="1821.2" r="2.7"/><circle cx="491.2" cy="1858.4" r="2.7"/><circle cx="516.4" cy="1746.9" r="2.7"/><circle cx="457.5" cy="1654.2" r="2.7"/><circle cx="411.3" cy="1756.3" r="2.7"/><circle cx="477.0" cy="1831.2" r="2.7"/><circle cx="461.5" cy="1738.7" r="2.7"/><circle cx="451.4" cy="1711.6" r="2.7"/><circle cx="564.7" cy="1821.9" r="2.7"/><circle cx="508.9" cy="1590.1" r="2.7"/><circle cx="558.7" cy="1710.0" r="2.7"/><circle cx="488.2" cy="1674.0" r="2.7"/><circle cx="513.5" cy="1990.1" r="2.7"/><circle cx="423.9" cy="1784.0" r="2.7"/><circle cx="561.2" cy="1700.4" r="2.7"/><circle cx="540.8" cy="1701.6" r="2.7"/><circle cx="487.7" cy="1672.3" r="2.7"/><circle cx="379.7" cy="1858.0" r="2.7"/><circle cx="540.4" cy="1858.4" r="2.7"/><circle cx="512.3" cy="1728.0" r="2.7"/><circle cx="603.0" cy="1821.5" r="2.7"/><circle cx="584.8" cy="1904.8" r="2.7"/><circle cx="560.7" cy="1701.2" r="2.7"/><circle cx="627.6" cy="1877.9" r="2.7"/><circle cx="530.2" cy="1710.2" r="2.7"/><circle cx="498.6" cy="1654.2" r="2.7"/><circle cx="502.1" cy="1896.7" r="2.7"/><circle cx="521.9" cy="1719.0" r="2.7"/><circle cx="471.3" cy="1933.0" r="2.7"/><circle cx="448.5" cy="1822.8" r="2.7"/><circle cx="410.3" cy="1747.4" r="2.7"/><circle cx="534.8" cy="1830.9" r="2.7"/><circle cx="637.8" cy="1803.7" r="2.7"/><circle cx="575.7" cy="1832.0" r="2.7"/><circle cx="568.5" cy="1774.4" r="2.7"/><circle cx="395.2" cy="1841.6" r="2.7"/><circle cx="364.6" cy="1841.0" r="2.7"/><circle cx="391.6" cy="1784.9" r="2.7"/><circle cx="413.2" cy="1747.2" r="2.7"/><circle cx="538.9" cy="1784.5" r="2.7"/><circle cx="404.9" cy="1821.4" r="2.7"/><circle cx="521.1" cy="1941.6" r="2.7"/><circle cx="590.4" cy="1868.9" r="2.7"/><circle cx="415.9" cy="1858.8" r="2.7"/><circle cx="398.7" cy="1821.5" r="2.7"/><circle cx="463.4" cy="1673.3" r="2.7"/><circle cx="456.3" cy="1858.2" r="2.7"/><circle cx="523.7" cy="1970.8" r="2.7"/><circle cx="506.0" cy="1766.5" r="2.7"/><circle cx="641.8" cy="1784.4" r="2.7"/><circle cx="431.1" cy="1747.8" r="2.7"/><circle cx="515.1" cy="1737.7" r="2.7"/><circle cx="440.3" cy="1785.0" r="2.7"/><circle cx="575.0" cy="1747.1" r="2.7"/><circle cx="504.7" cy="1579.7" r="2.7"/><circle cx="588.8" cy="1896.5" r="2.7"/><circle cx="485.8" cy="1970.7" r="2.7"/><circle cx="423.6" cy="1765.9" r="2.7"/><circle cx="443.8" cy="1681.8" r="2.7"/><circle cx="377.2" cy="1822.3" r="2.7"/><circle cx="497.5" cy="1980.5" r="2.7"/><circle cx="624.8" cy="1782.8" r="2.7"/><circle cx="470.1" cy="1747.1" r="2.7"/><circle cx="509.2" cy="1885.8" r="2.7"/><circle cx="586.2" cy="1821.8" r="2.7"/><circle cx="476.9" cy="1680.7" r="2.7"/><circle cx="502.2" cy="1821.8" r="2.7"/><circle cx="629.6" cy="1784.7" r="2.7"/><circle cx="446.9" cy="1933.9" r="2.7"/><circle cx="484.0" cy="1859.3" r="2.7"/><circle cx="359.8" cy="1793.3" r="2.7"/><circle cx="451.0" cy="1682.3" r="2.7"/><circle cx="453.1" cy="1729.1" r="2.7"/><circle cx="653.6" cy="1849.9" r="2.7"/><circle cx="510.2" cy="1859.5" r="2.7"/><circle cx="579.5" cy="1802.7" r="2.7"/><circle cx="433.2" cy="1784.5" r="2.7"/><circle cx="553.1" cy="1876.7" r="2.7"/><circle cx="563.8" cy="1821.1" r="2.7"/><circle cx="367.3" cy="1821.9" r="2.7"/><circle cx="506.3" cy="1960.9" r="2.7"/><circle cx="418.3" cy="1803.9" r="2.7"/><circle cx="595.3" cy="1886.9" r="2.7"/><circle cx="550.4" cy="1765.4" r="2.7"/><circle cx="506.2" cy="1951.2" r="2.7"/><circle cx="485.2" cy="1636.3" r="2.7"/><circle cx="637.0" cy="1859.0" r="2.7"/><circle cx="500.6" cy="1820.6" r="2.7"/><circle cx="603.6" cy="1896.4" r="2.7"/><circle cx="548.3" cy="1896.1" r="2.7"/><circle cx="464.5" cy="1933.7" r="2.7"/><circle cx="507.9" cy="1524.1" r="2.7"/><circle cx="404.2" cy="1840.6" r="2.7"/><circle cx="425.7" cy="1915.2" r="2.7"/><circle cx="407.1" cy="1830.9" r="2.7"/><circle cx="485.6" cy="1924.6" r="2.7"/><circle cx="426.9" cy="1859.3" r="2.7"/><circle cx="619.9" cy="1784.6" r="2.7"/><circle cx="450.4" cy="1775.2" r="2.7"/><circle cx="511.7" cy="1551.4" r="2.7"/><circle cx="478.4" cy="1710.4" r="2.7"/><circle cx="533.7" cy="1729.0" r="2.7"/><circle cx="522.9" cy="1673.0" r="2.7"/><circle cx="620.7" cy="1868.7" r="2.7"/><circle cx="425.4" cy="1747.1" r="2.7"/><circle cx="512.5" cy="1877.7" r="2.7"/><circle cx="459.9" cy="1821.3" r="2.7"/><circle cx="509.8" cy="1562.0" r="2.7"/><circle cx="605.6" cy="1821.8" r="2.7"/><circle cx="607.6" cy="1849.7" r="2.7"/><circle cx="550.6" cy="1821.5" r="2.7"/><circle cx="583.4" cy="1831.2" r="2.7"/><circle cx="666.7" cy="1820.4" r="2.7"/><circle cx="530.7" cy="1793.8" r="2.7"/><circle cx="494.3" cy="1830.6" r="2.7"/><circle cx="492.1" cy="1785.3" r="2.7"/><circle cx="529.6" cy="1951.4" r="2.7"/><circle cx="497.8" cy="1598.1" r="2.7"/><circle cx="461.5" cy="1701.3" r="2.7"/><circle cx="484.6" cy="1682.9" r="2.7"/><circle cx="397.0" cy="1859.5" r="2.7"/><circle cx="508.2" cy="1878.6" r="2.7"/><circle cx="513.2" cy="1597.6" r="2.7"/><circle cx="585.4" cy="1859.2" r="2.7"/><circle cx="521.5" cy="1784.9" r="2.7"/><circle cx="475.3" cy="1821.4" r="2.7"/><circle cx="459.3" cy="1877.8" r="2.7"/><circle cx="374.0" cy="1822.4" r="2.7"/><circle cx="496.9" cy="1710.6" r="2.7"/><circle cx="549.4" cy="1877.3" r="2.7"/><circle cx="551.8" cy="1821.8" r="2.7"/><circle cx="523.8" cy="1942.3" r="2.7"/><circle cx="533.6" cy="1671.8" r="2.7"/><circle cx="529.7" cy="1692.5" r="2.7"/><circle cx="536.1" cy="1859.6" r="2.7"/><circle cx="434.6" cy="1729.1" r="2.7"/><circle cx="355.0" cy="1823.2" r="2.7"/><circle cx="508.1" cy="1515.0" r="2.7"/><circle cx="492.8" cy="1895.4" r="2.7"/><circle cx="614.1" cy="1785.2" r="2.7"/><circle cx="509.9" cy="1848.9" r="2.7"/><circle cx="507.6" cy="2008.8" r="2.7"/><circle cx="407.4" cy="1802.4" r="2.7"/><circle cx="565.2" cy="1823.0" r="2.7"/><circle cx="462.5" cy="1858.8" r="2.7"/><circle cx="476.2" cy="1747.6" r="2.7"/><circle cx="510.2" cy="1580.6" r="2.7"/><circle cx="530.9" cy="1756.4" r="2.7"/><circle cx="552.3" cy="1859.2" r="2.7"/><circle cx="460.2" cy="1682.6" r="2.7"/><circle cx="484.0" cy="1636.0" r="2.7"/><circle cx="523.4" cy="1876.4" r="2.7"/><circle cx="471.1" cy="1775.1" r="2.7"/><circle cx="529.3" cy="1793.8" r="2.7"/><circle cx="621.9" cy="1820.7" r="2.7"/><circle cx="512.8" cy="1803.3" r="2.7"/><circle cx="401.6" cy="1821.1" r="2.7"/><circle cx="412.5" cy="1821.5" r="2.7"/><circle cx="485.6" cy="1784.4" r="2.7"/><circle cx="504.9" cy="1747.7" r="2.7"/><circle cx="520.2" cy="1971.3" r="2.7"/><circle cx="520.0" cy="1932.4" r="2.7"/><circle cx="586.2" cy="1914.4" r="2.7"/><circle cx="472.6" cy="1718.9" r="2.7"/><circle cx="502.3" cy="1811.7" r="2.7"/><circle cx="427.1" cy="1821.9" r="2.7"/><circle cx="649.8" cy="1831.7" r="2.7"/><circle cx="469.8" cy="1924.3" r="2.7"/><circle cx="595.5" cy="1877.3" r="2.7"/><circle cx="551.9" cy="1821.7" r="2.7"/><circle cx="606.1" cy="1896.4" r="2.7"/><circle cx="504.7" cy="1784.9" r="2.7"/><circle cx="560.3" cy="1906.0" r="2.7"/><circle cx="450.0" cy="1895.7" r="2.7"/><circle cx="516.1" cy="1608.0" r="2.7"/><circle cx="518.9" cy="1830.2" r="2.7"/><circle cx="544.8" cy="1859.3" r="2.7"/><circle cx="559.5" cy="1821.8" r="2.7"/><circle cx="544.1" cy="1682.6" r="2.7"/><circle cx="416.1" cy="1776.2" r="2.7"/><circle cx="500.4" cy="1848.8" r="2.7"/><circle cx="527.2" cy="1858.9" r="2.7"/><circle cx="432.8" cy="1747.1" r="2.7"/><circle cx="528.1" cy="1971.0" r="2.7"/><circle cx="488.5" cy="1652.5" r="2.7"/><circle cx="412.0" cy="1895.3" r="2.7"/><circle cx="628.4" cy="1859.1" r="2.7"/><circle cx="505.9" cy="1896.0" r="2.7"/><circle cx="605.2" cy="1858.4" r="2.7"/><circle cx="551.0" cy="1934.0" r="2.7"/><circle cx="415.2" cy="1821.7" r="2.7"/><circle cx="631.3" cy="1848.8" r="2.7"/><circle cx="476.5" cy="1812.3" r="2.7"/><circle cx="431.1" cy="1784.0" r="2.7"/><circle cx="386.2" cy="1794.1" r="2.7"/><circle cx="651.5" cy="1793.9" r="2.7"/><circle cx="484.3" cy="1933.0" r="2.7"/><circle cx="546.4" cy="1747.1" r="2.7"/><circle cx="529.8" cy="1785.1" r="2.7"/><circle cx="559.3" cy="1784.8" r="2.7"/><circle cx="594.9" cy="1896.0" r="2.7"/><circle cx="362.5" cy="1822.6" r="2.7"/><circle cx="383.9" cy="1840.8" r="2.7"/><circle cx="554.6" cy="1915.6" r="2.7"/><circle cx="508.4" cy="1395.8" r="2.7"/><circle cx="509.1" cy="2013.1" r="2.7"/>
</g>
<path d="M994.6,1506.9 L994.7,1508.9 L994.7,1510.9 L994.8,1512.9 L994.8,1514.9 L994.9,1516.9 L994.9,1518.9 L995.0,1520.9 L995.1,1522.9 L995.1,1524.9 L995.2,1526.9 L995.3,1528.9 L995.3,1530.9 L995.4,1532.9 L995.5,1534.9 L995.5,1536.9 L995.6,1538.9 L995.6,1540.9 L995.7,1542.9 L995.8,1544.9 L995.8,1546.9 L995.9,1548.9 L996.0,1550.9 L996.1,1552.9 L996.2,1554.9 L996.3,1556.9 L996.5,1558.9 L996.9,1560.9 L997.3,1562.9 L997.8,1564.9 L998.3,1566.9 L998.8,1568.9 L999.3,1570.9 L999.7,1572.9 L1000.0,1574.9 L1000.1,1576.9 L1000.1,1578.9 L999.9,1580.9 L999.7,1582.9 L999.4,1584.9 L999.2,1586.9 L998.9,1588.9 L998.8,1590.9 L998.8,1592.9 L998.9,1594.9 L999.0,1596.9 L999.1,1598.9 L999.3,1600.9 L999.6,1602.9 L999.8,1604.9 L1000.1,1606.9 L1000.6,1608.9 L1001.4,1610.9 L1002.4,1612.9 L1003.6,1614.9 L1004.8,1616.9 L1006.2,1618.9 L1007.4,1620.9 L1008.6,1622.9 L1009.7,1624.9 L1010.7,1626.9 L1011.7,1628.9 L1012.7,1630.9 L1013.7,1632.9 L1014.7,1634.9 L1015.6,1636.9 L1016.6,1638.9 L1017.6,1640.9 L1018.6,1642.9 L1019.6,1644.9 L1020.7,1646.9 L1021.7,1648.9 L1022.7,1650.9 L1023.8,1652.9 L1024.8,1654.9 L1025.8,1656.9 L1026.7,1658.9 L1027.7,1660.9 L1028.8,1662.9 L1029.9,1664.9 L1030.9,1666.9 L1031.8,1668.9 L1032.5,1670.9 L1032.8,1672.9 L1032.7,1674.9 L1032.5,1676.9 L1032.1,1678.9 L1031.7,1680.9 L1031.3,1682.9 L1031.1,1684.9 L1031.1,1686.9 L1031.2,1688.9 L1031.3,1690.9 L1031.5,1692.9 L1031.7,1694.9 L1032.0,1696.9 L1032.4,1698.9 L1033.4,1700.9 L1034.8,1702.9 L1036.6,1704.9 L1038.5,1706.9 L1040.5,1708.9 L1042.6,1710.9 L1045.0,1712.9 L1047.8,1714.9 L1050.7,1716.9 L1053.9,1718.9 L1057.1,1720.9 L1060.3,1722.9 L1063.6,1724.9 L1067.0,1726.9 L1070.5,1728.9 L1074.1,1730.9 L1077.9,1732.9 L1081.6,1734.9 L1085.3,1736.9 L1089.0,1738.9 L1092.5,1740.9 L1096.1,1742.9 L1099.7,1744.9 L1103.2,1746.9 L1106.9,1748.9 L1110.5,1750.9 L1114.2,1752.9 L1118.1,1754.9 L1122.0,1756.9 L1126.0,1758.9 L1130.0,1760.9 L1134.0,1762.9 L1138.1,1764.9 L1142.1,1766.9 L1146.1,1768.9 L1150.3,1770.9 L1154.5,1772.9 L1158.8,1774.9 L1162.9,1776.9 L1166.9,1778.9 L1170.6,1780.9 L1173.9,1782.9 L1177.0,1784.9 L1180.1,1786.9 L1183.0,1788.9 L1185.7,1790.9 L1188.2,1792.9 L1190.5,1794.9 L1192.4,1796.9 L1194.0,1798.9 L1195.4,1800.9 L1196.8,1802.9 L1198.0,1804.9 L1199.1,1806.9 L1200.1,1808.9 L1201.0,1810.9 L1201.9,1812.9 L1202.7,1814.9 L1203.5,1816.9 L1204.3,1818.9 L1204.9,1820.9 L1205.5,1822.9 L1205.8,1824.9 L1205.9,1826.9 L1205.6,1828.9 L1204.9,1830.9 L1203.9,1832.9 L1202.7,1834.9 L1201.2,1836.9 L1199.7,1838.9 L1197.3,1840.9 L1194.1,1842.9 L1190.2,1844.9 L1186.1,1846.9 L1181.9,1848.9 L1177.9,1850.9 L1173.8,1852.9 L1169.5,1854.9 L1165.0,1856.9 L1160.5,1858.9 L1156.0,1860.9 L1151.4,1862.9 L1147.0,1864.9 L1142.6,1866.9 L1138.2,1868.9 L1133.8,1870.9 L1129.5,1872.9 L1125.1,1874.9 L1120.7,1876.9 L1116.3,1878.9 L1111.9,1880.9 L1107.3,1882.9 L1102.6,1884.9 L1098.0,1886.9 L1093.5,1888.9 L1089.1,1890.9 L1085.0,1892.9 L1081.2,1894.9 L1077.6,1896.9 L1074.2,1898.9 L1070.8,1900.9 L1067.6,1902.9 L1064.6,1904.9 L1061.8,1906.9 L1059.1,1908.9 L1056.6,1910.9 L1054.2,1912.9 L1051.9,1914.9 L1049.8,1916.9 L1047.7,1918.9 L1045.7,1920.9 L1043.7,1922.9 L1041.7,1924.9 L1039.8,1926.9 L1038.0,1928.9 L1036.2,1930.9 L1034.4,1932.9 L1032.6,1934.9 L1030.9,1936.9 L1029.2,1938.9 L1027.5,1940.9 L1025.8,1942.9 L1024.1,1944.9 L1022.5,1946.9 L1020.9,1948.9 L1019.4,1950.9 L1018.0,1952.9 L1016.7,1954.9 L1015.4,1956.9 L1014.1,1958.9 L1012.9,1960.9 L1011.8,1962.9 L1010.9,1964.9 L1010.2,1966.9 L1009.7,1968.9 L1009.3,1970.9 L1008.9,1972.9 L1008.6,1974.9 L1008.3,1976.9 L1008.0,1978.9 L1007.8,1980.9 L1007.5,1982.9 L1007.2,1984.9 L1007.0,1986.9 L1006.8,1988.9 L1006.5,1990.9 L1006.3,1992.9 L1006.0,1994.9 L1005.7,1996.9 L1005.3,1998.9 L1004.9,2000.9 L1004.5,2002.9 L1004.1,2004.9 L1003.5,2006.9 L1003.0,2008.9 L1002.3,2010.9 L1001.5,2012.9 L1000.9,2014.4 L977.9,2014.4 L977.3,2012.9 L976.5,2010.9 L975.8,2008.9 L975.3,2006.9 L974.7,2004.9 L974.3,2002.9 L973.9,2000.9 L973.5,1998.9 L973.1,1996.9 L972.8,1994.9 L972.5,1992.9 L972.3,1990.9 L972.0,1988.9 L971.8,1986.9 L971.6,1984.9 L971.3,1982.9 L971.0,1980.9 L970.8,1978.9 L970.5,1976.9 L970.2,1974.9 L969.9,1972.9 L969.5,1970.9 L969.1,1968.9 L968.6,1966.9 L967.9,1964.9 L967.0,1962.9 L965.9,1960.9 L964.7,1958.9 L963.4,1956.9 L962.1,1954.9 L960.8,1952.9 L959.4,1950.9 L957.9,1948.9 L956.3,1946.9 L954.7,1944.9 L953.0,1942.9 L951.3,1940.9 L949.6,1938.9 L947.9,1936.9 L946.2,1934.9 L944.4,1932.9 L942.6,1930.9 L940.8,1928.9 L939.0,1926.9 L937.1,1924.9 L935.1,1922.9 L933.1,1920.9 L931.1,1918.9 L929.0,1916.9 L926.9,1914.9 L924.6,1912.9 L922.2,1910.9 L919.7,1908.9 L917.0,1906.9 L914.2,1904.9 L911.2,1902.9 L908.0,1900.9 L904.6,1898.9 L901.2,1896.9 L897.6,1894.9 L893.8,1892.9 L889.7,1890.9 L885.3,1888.9 L880.8,1886.9 L876.2,1884.9 L871.5,1882.9 L866.9,1880.9 L862.5,1878.9 L858.1,1876.9 L853.7,1874.9 L849.3,1872.9 L845.0,1870.9 L840.6,1868.9 L836.2,1866.9 L831.8,1864.9 L827.4,1862.9 L822.8,1860.9 L818.3,1858.9 L813.8,1856.9 L809.3,1854.9 L805.0,1852.9 L800.9,1850.9 L796.9,1848.9 L792.7,1846.9 L788.6,1844.9 L784.7,1842.9 L781.5,1840.9 L779.1,1838.9 L777.6,1836.9 L776.1,1834.9 L774.9,1832.9 L773.9,1830.9 L773.2,1828.9 L772.9,1826.9 L773.0,1824.9 L773.3,1822.9 L773.9,1820.9 L774.5,1818.9 L775.3,1816.9 L776.1,1814.9 L776.9,1812.9 L777.8,1810.9 L778.7,1808.9 L779.7,1806.9 L780.8,1804.9 L782.0,1802.9 L783.4,1800.9 L784.8,1798.9 L786.4,1796.9 L788.3,1794.9 L790.6,1792.9 L793.1,1790.9 L795.8,1788.9 L798.7,1786.9 L801.8,1784.9 L804.9,1782.9 L808.2,1780.9 L811.9,1778.9 L815.9,1776.9 L820.0,1774.9 L824.3,1772.9 L828.5,1770.9 L832.7,1768.9 L836.7,1766.9 L840.7,1764.9 L844.8,1762.9 L848.8,1760.9 L852.8,1758.9 L856.8,1756.9 L860.7,1754.9 L864.6,1752.9 L868.3,1750.9 L871.9,1748.9 L875.6,1746.9 L879.1,1744.9 L882.7,1742.9 L886.3,1740.9 L889.8,1738.9 L893.5,1736.9 L897.2,1734.9 L900.9,1732.9 L904.7,1730.9 L908.3,1728.9 L911.8,1726.9 L915.2,1724.9 L918.5,1722.9 L921.7,1720.9 L924.9,1718.9 L928.1,1716.9 L931.0,1714.9 L933.8,1712.9 L936.2,1710.9 L938.3,1708.9 L940.3,1706.9 L942.2,1704.9 L944.0,1702.9 L945.4,1700.9 L946.4,1698.9 L946.8,1696.9 L947.1,1694.9 L947.3,1692.9 L947.5,1690.9 L947.6,1688.9 L947.7,1686.9 L947.7,1684.9 L947.5,1682.9 L947.1,1680.9 L946.7,1678.9 L946.3,1676.9 L946.1,1674.9 L946.0,1672.9 L946.3,1670.9 L947.0,1668.9 L947.9,1666.9 L948.9,1664.9 L950.0,1662.9 L951.1,1660.9 L952.1,1658.9 L953.0,1656.9 L954.0,1654.9 L955.0,1652.9 L956.1,1650.9 L957.1,1648.9 L958.1,1646.9 L959.2,1644.9 L960.2,1642.9 L961.2,1640.9 L962.2,1638.9 L963.2,1636.9 L964.1,1634.9 L965.1,1632.9 L966.1,1630.9 L967.1,1628.9 L968.1,1626.9 L969.1,1624.9 L970.2,1622.9 L971.4,1620.9 L972.6,1618.9 L974.0,1616.9 L975.2,1614.9 L976.4,1612.9 L977.4,1610.9 L978.2,1608.9 L978.7,1606.9 L979.0,1604.9 L979.2,1602.9 L979.5,1600.9 L979.7,1598.9 L979.8,1596.9 L979.9,1594.9 L980.0,1592.9 L980.0,1590.9 L979.9,1588.9 L979.6,1586.9 L979.4,1584.9 L979.1,1582.9 L978.9,1580.9 L978.7,1578.9 L978.7,1576.9 L978.8,1574.9 L979.1,1572.9 L979.5,1570.9 L980.0,1568.9 L980.5,1566.9 L981.0,1564.9 L981.5,1562.9 L981.9,1560.9 L982.3,1558.9 L982.5,1556.9 L982.6,1554.9 L982.7,1552.9 L982.8,1550.9 L982.9,1548.9 L983.0,1546.9 L983.0,1544.9 L983.1,1542.9 L983.2,1540.9 L983.2,1538.9 L983.3,1536.9 L983.3,1534.9 L983.4,1532.9 L983.5,1530.9 L983.5,1528.9 L983.6,1526.9 L983.7,1524.9 L983.7,1522.9 L983.8,1520.9 L983.9,1518.9 L983.9,1516.9 L984.0,1514.9 L984.0,1512.9 L984.1,1510.9 L984.1,1508.9 L984.2,1506.9Z" fill="#00807f" stroke="#333333" stroke-width="3.9" stroke-linejoin="round"/>
<g fill="#c0e7eb" stroke="#000" stroke-width="1.15">
<circle cx="1039.3" cy="1858.5" r="2.7"/><circle cx="971.9" cy="1756.8" r="2.7"/><circle cx="998.5" cy="1989.4" r="2.7"/><circle cx="953.3" cy="1708.8" r="2.7"/><circle cx="810.1" cy="1830.5" r="2.7"/><circle cx="1028.7" cy="1755.6" r="2.7"/><circle cx="1030.2" cy="1849.2" r="2.7"/><circle cx="984.4" cy="1579.7" r="2.7"/><circle cx="1137.2" cy="1840.3" r="2.7"/><circle cx="1023.2" cy="1767.4" r="2.7"/><circle cx="962.9" cy="1932.3" r="2.7"/><circle cx="939.3" cy="1830.9" r="2.7"/><circle cx="1006.7" cy="1915.0" r="2.7"/><circle cx="794.1" cy="1804.3" r="2.7"/><circle cx="957.6" cy="1747.7" r="2.7"/><circle cx="1034.4" cy="1784.1" r="2.7"/><circle cx="986.4" cy="1923.9" r="2.7"/><circle cx="894.1" cy="1765.4" r="2.7"/><circle cx="907.4" cy="1785.2" r="2.7"/><circle cx="917.4" cy="1784.6" r="2.7"/><circle cx="1058.3" cy="1784.3" r="2.7"/><circle cx="1135.7" cy="1783.1" r="2.7"/><circle cx="969.9" cy="1635.2" r="2.7"/><circle cx="901.8" cy="1748.2" r="2.7"/><circle cx="1012.8" cy="1932.9" r="2.7"/><circle cx="883.9" cy="1821.0" r="2.7"/><circle cx="991.9" cy="1989.1" r="2.7"/><circle cx="1023.3" cy="1933.3" r="2.7"/><circle cx="1108.0" cy="1812.5" r="2.7"/><circle cx="1075.5" cy="1877.6" r="2.7"/><circle cx="1007.5" cy="1654.4" r="2.7"/><circle cx="1023.4" cy="1821.8" r="2.7"/><circle cx="984.8" cy="1718.5" r="2.7"/><circle cx="1023.1" cy="1932.7" r="2.7"/><circle cx="1048.6" cy="1737.2" r="2.7"/><circle cx="947.5" cy="1795.0" r="2.7"/><circle cx="1164.2" cy="1812.6" r="2.7"/><circle cx="953.3" cy="1857.9" r="2.7"/><circle cx="1080.7" cy="1858.4" r="2.7"/><circle cx="899.8" cy="1747.4" r="2.7"/><circle cx="903.5" cy="1821.2" r="2.7"/><circle cx="1152.5" cy="1803.2" r="2.7"/><circle cx="949.0" cy="1784.1" r="2.7"/><circle cx="1019.8" cy="1747.1" r="2.7"/><circle cx="1089.0" cy="1765.5" r="2.7"/><circle cx="892.5" cy="1784.9" r="2.7"/><circle cx="970.1" cy="1933.5" r="2.7"/><circle cx="1124.9" cy="1850.6" r="2.7"/><circle cx="1018.4" cy="1821.3" r="2.7"/><circle cx="898.8" cy="1831.2" r="2.7"/><circle cx="1003.1" cy="1702.2" r="2.7"/><circle cx="958.8" cy="1858.8" r="2.7"/><circle cx="918.3" cy="1746.7" r="2.7"/><circle cx="1174.0" cy="1848.7" r="2.7"/><circle cx="1008.0" cy="1765.8" r="2.7"/><circle cx="969.3" cy="1952.3" r="2.7"/><circle cx="1051.4" cy="1775.9" r="2.7"/><circle cx="996.6" cy="1635.4" r="2.7"/><circle cx="1086.3" cy="1785.0" r="2.7"/><circle cx="836.2" cy="1859.3" r="2.7"/><circle cx="1006.5" cy="1757.2" r="2.7"/><circle cx="952.0" cy="1840.2" r="2.7"/><circle cx="1086.0" cy="1822.4" r="2.7"/><circle cx="987.9" cy="1979.9" r="2.7"/><circle cx="1102.5" cy="1878.7" r="2.7"/><circle cx="819.9" cy="1858.2" r="2.7"/><circle cx="922.2" cy="1794.5" r="2.7"/><circle cx="1036.2" cy="1840.2" r="2.7"/><circle cx="1158.8" cy="1803.6" r="2.7"/><circle cx="929.1" cy="1718.5" r="2.7"/><circle cx="996.1" cy="1849.7" r="2.7"/><circle cx="883.3" cy="1849.6" r="2.7"/><circle cx="955.7" cy="1681.7" r="2.7"/><circle cx="955.5" cy="1905.3" r="2.7"/><circle cx="905.9" cy="1850.4" r="2.7"/><circle cx="1163.8" cy="1783.7" r="2.7"/><circle cx="1078.5" cy="1831.3" r="2.7"/><circle cx="983.0" cy="1747.0" r="2.7"/><circle cx="1067.1" cy="1820.8" r="2.7"/><circle cx="1056.8" cy="1784.8" r="2.7"/><circle cx="883.1" cy="1849.3" r="2.7"/><circle cx="979.9" cy="1960.8" r="2.7"/><circle cx="1076.4" cy="1793.6" r="2.7"/><circle cx="1033.4" cy="1785.0" r="2.7"/><circle cx="1006.5" cy="1682.5" r="2.7"/><circle cx="853.4" cy="1848.7" r="2.7"/><circle cx="1081.9" cy="1868.2" r="2.7"/><circle cx="876.6" cy="1794.2" r="2.7"/><circle cx="1131.6" cy="1821.3" r="2.7"/><circle cx="989.6" cy="1645.6" r="2.7"/><circle cx="930.9" cy="1895.6" r="2.7"/><circle cx="816.8" cy="1841.0" r="2.7"/><circle cx="1121.1" cy="1859.9" r="2.7"/><circle cx="1067.3" cy="1821.8" r="2.7"/><circle cx="918.7" cy="1897.2" r="2.7"/><circle cx="1001.0" cy="1895.5" r="2.7"/><circle cx="968.5" cy="1859.0" r="2.7"/><circle cx="936.6" cy="1748.1" r="2.7"/><circle cx="1001.4" cy="1839.9" r="2.7"/><circle cx="995.2" cy="1924.2" r="2.7"/><circle cx="1001.8" cy="1934.0" r="2.7"/><circle cx="937.7" cy="1839.6" r="2.7"/><circle cx="1003.7" cy="1923.6" r="2.7"/><circle cx="998.7" cy="1840.5" r="2.7"/><circle cx="1034.0" cy="1784.8" r="2.7"/><circle cx="892.1" cy="1887.5" r="2.7"/><circle cx="1066.4" cy="1896.7" r="2.7"/><circle cx="979.5" cy="1924.0" r="2.7"/><circle cx="1021.6" cy="1923.5" r="2.7"/><circle cx="1039.2" cy="1738.6" r="2.7"/><circle cx="1062.8" cy="1739.2" r="2.7"/><circle cx="860.3" cy="1765.7" r="2.7"/><circle cx="1109.6" cy="1859.1" r="2.7"/><circle cx="959.6" cy="1728.3" r="2.7"/><circle cx="978.0" cy="1943.7" r="2.7"/><circle cx="988.5" cy="1906.3" r="2.7"/><circle cx="1115.5" cy="1831.0" r="2.7"/><circle cx="1014.8" cy="1951.0" r="2.7"/><circle cx="978.8" cy="1793.4" r="2.7"/><circle cx="933.0" cy="1821.5" r="2.7"/><circle cx="1003.5" cy="1867.9" r="2.7"/><circle cx="940.1" cy="1887.1" r="2.7"/><circle cx="1008.1" cy="1831.8" r="2.7"/><circle cx="1049.6" cy="1895.1" r="2.7"/><circle cx="975.5" cy="1784.4" r="2.7"/><circle cx="973.4" cy="1914.7" r="2.7"/><circle cx="1017.8" cy="1895.7" r="2.7"/><circle cx="955.3" cy="1906.1" r="2.7"/><circle cx="1109.2" cy="1831.6" r="2.7"/><circle cx="1082.8" cy="1803.5" r="2.7"/><circle cx="1004.3" cy="1709.7" r="2.7"/><circle cx="918.4" cy="1746.1" r="2.7"/><circle cx="1007.3" cy="1934.3" r="2.7"/><circle cx="897.6" cy="1822.4" r="2.7"/><circle cx="1178.8" cy="1821.4" r="2.7"/><circle cx="1015.0" cy="1888.2" r="2.7"/><circle cx="1074.8" cy="1849.7" r="2.7"/><circle cx="988.5" cy="1580.0" r="2.7"/><circle cx="1152.6" cy="1821.8" r="2.7"/><circle cx="912.2" cy="1859.0" r="2.7"/><circle cx="1033.8" cy="1860.0" r="2.7"/><circle cx="1025.2" cy="1710.0" r="2.7"/><circle cx="1021.8" cy="1794.1" r="2.7"/><circle cx="1112.6" cy="1802.0" r="2.7"/><circle cx="844.9" cy="1821.2" r="2.7"/><circle cx="1121.3" cy="1857.8" r="2.7"/><circle cx="1008.6" cy="1727.4" r="2.7"/><circle cx="994.7" cy="1868.2" r="2.7"/><circle cx="1095.4" cy="1822.3" r="2.7"/><circle cx="1005.9" cy="1663.3" r="2.7"/><circle cx="905.7" cy="1803.1" r="2.7"/><circle cx="1008.1" cy="1878.2" r="2.7"/><circle cx="886.9" cy="1794.0" r="2.7"/><circle cx="1022.8" cy="1821.5" r="2.7"/><circle cx="1116.5" cy="1793.2" r="2.7"/><circle cx="1027.9" cy="1876.7" r="2.7"/><circle cx="996.4" cy="1951.4" r="2.7"/><circle cx="939.6" cy="1859.3" r="2.7"/><circle cx="1117.2" cy="1859.0" r="2.7"/><circle cx="1001.9" cy="1951.6" r="2.7"/><circle cx="1072.4" cy="1824.1" r="2.7"/><circle cx="952.7" cy="1830.8" r="2.7"/><circle cx="998.7" cy="1710.3" r="2.7"/><circle cx="1004.7" cy="1933.6" r="2.7"/><circle cx="859.6" cy="1784.5" r="2.7"/><circle cx="1176.7" cy="1803.3" r="2.7"/><circle cx="1050.4" cy="1820.8" r="2.7"/><circle cx="925.4" cy="1822.0" r="2.7"/><circle cx="1082.5" cy="1784.2" r="2.7"/><circle cx="903.3" cy="1803.2" r="2.7"/><circle cx="956.2" cy="1913.3" r="2.7"/><circle cx="967.3" cy="1951.2" r="2.7"/><circle cx="990.9" cy="1636.3" r="2.7"/><circle cx="811.2" cy="1784.7" r="2.7"/><circle cx="973.1" cy="1635.7" r="2.7"/><circle cx="912.2" cy="1897.2" r="2.7"/><circle cx="1099.1" cy="1748.1" r="2.7"/><circle cx="991.9" cy="1858.2" r="2.7"/><circle cx="1016.3" cy="1821.0" r="2.7"/><circle cx="961.5" cy="1933.3" r="2.7"/><circle cx="1093.6" cy="1748.2" r="2.7"/><circle cx="885.7" cy="1785.0" r="2.7"/><circle cx="932.0" cy="1756.3" r="2.7"/><circle cx="797.9" cy="1821.4" r="2.7"/><circle cx="983.8" cy="1793.9" r="2.7"/><circle cx="1071.0" cy="1830.5" r="2.7"/><circle cx="1134.5" cy="1821.0" r="2.7"/><circle cx="991.5" cy="1812.1" r="2.7"/><circle cx="1013.0" cy="1700.6" r="2.7"/><circle cx="882.9" cy="1813.6" r="2.7"/><circle cx="1134.2" cy="1859.0" r="2.7"/><circle cx="1156.2" cy="1850.0" r="2.7"/><circle cx="1008.5" cy="1858.4" r="2.7"/><circle cx="952.4" cy="1895.9" r="2.7"/><circle cx="964.5" cy="1923.4" r="2.7"/><circle cx="1061.1" cy="1822.4" r="2.7"/><circle cx="943.3" cy="1710.2" r="2.7"/><circle cx="986.5" cy="1710.6" r="2.7"/><circle cx="1043.9" cy="1896.2" r="2.7"/><circle cx="810.8" cy="1821.1" r="2.7"/><circle cx="927.2" cy="1776.1" r="2.7"/><circle cx="999.8" cy="1672.8" r="2.7"/><circle cx="1024.8" cy="1850.1" r="2.7"/><circle cx="858.4" cy="1841.8" r="2.7"/><circle cx="1171.8" cy="1822.4" r="2.7"/><circle cx="993.4" cy="1794.8" r="2.7"/><circle cx="996.4" cy="1625.9" r="2.7"/><circle cx="1102.6" cy="1840.2" r="2.7"/><circle cx="1164.9" cy="1784.5" r="2.7"/><circle cx="1105.7" cy="1849.7" r="2.7"/><circle cx="1106.6" cy="1803.0" r="2.7"/><circle cx="975.5" cy="1635.6" r="2.7"/><circle cx="999.4" cy="1859.5" r="2.7"/><circle cx="973.1" cy="1672.3" r="2.7"/><circle cx="872.4" cy="1830.9" r="2.7"/><circle cx="853.0" cy="1793.4" r="2.7"/><circle cx="1001.2" cy="1636.6" r="2.7"/><circle cx="959.9" cy="1840.5" r="2.7"/><circle cx="948.3" cy="1933.2" r="2.7"/><circle cx="1034.2" cy="1869.2" r="2.7"/><circle cx="877.1" cy="1869.8" r="2.7"/><circle cx="1086.4" cy="1784.2" r="2.7"/><circle cx="1024.3" cy="1774.8" r="2.7"/><circle cx="989.8" cy="1932.1" r="2.7"/><circle cx="954.8" cy="1933.5" r="2.7"/><circle cx="789.4" cy="1821.0" r="2.7"/><circle cx="1005.3" cy="1969.8" r="2.7"/><circle cx="1095.8" cy="1821.0" r="2.7"/><circle cx="842.3" cy="1784.8" r="2.7"/><circle cx="971.5" cy="1710.1" r="2.7"/><circle cx="1060.7" cy="1746.8" r="2.7"/><circle cx="988.5" cy="1738.0" r="2.7"/><circle cx="1161.0" cy="1802.8" r="2.7"/><circle cx="844.8" cy="1821.5" r="2.7"/><circle cx="1074.6" cy="1858.9" r="2.7"/><circle cx="989.9" cy="1710.3" r="2.7"/><circle cx="1194.6" cy="1821.3" r="2.7"/><circle cx="988.9" cy="2007.5" r="2.7"/><circle cx="956.4" cy="1868.8" r="2.7"/><circle cx="1158.0" cy="1784.2" r="2.7"/><circle cx="955.9" cy="1821.9" r="2.7"/><circle cx="949.1" cy="1820.9" r="2.7"/><circle cx="1061.7" cy="1784.0" r="2.7"/><circle cx="929.9" cy="1792.9" r="2.7"/><circle cx="934.5" cy="1896.1" r="2.7"/><circle cx="1144.6" cy="1822.1" r="2.7"/><circle cx="990.9" cy="1522.7" r="2.7"/><circle cx="1182.4" cy="1822.2" r="2.7"/><circle cx="901.2" cy="1747.4" r="2.7"/><circle cx="1057.1" cy="1822.0" r="2.7"/><circle cx="1149.8" cy="1859.2" r="2.7"/><circle cx="931.2" cy="1747.0" r="2.7"/><circle cx="1088.1" cy="1765.4" r="2.7"/><circle cx="1055.9" cy="1821.6" r="2.7"/><circle cx="1172.0" cy="1822.1" r="2.7"/><circle cx="898.4" cy="1858.6" r="2.7"/><circle cx="969.5" cy="1785.4" r="2.7"/><circle cx="1069.7" cy="1868.2" r="2.7"/><circle cx="888.3" cy="1803.0" r="2.7"/><circle cx="1055.0" cy="1755.9" r="2.7"/><circle cx="1084.3" cy="1764.9" r="2.7"/><circle cx="812.2" cy="1822.4" r="2.7"/><circle cx="1047.9" cy="1785.1" r="2.7"/><circle cx="972.8" cy="1915.4" r="2.7"/><circle cx="903.2" cy="1738.5" r="2.7"/><circle cx="1061.8" cy="1820.9" r="2.7"/><circle cx="908.2" cy="1821.8" r="2.7"/><circle cx="1032.3" cy="1812.9" r="2.7"/><circle cx="1022.3" cy="1896.7" r="2.7"/><circle cx="977.5" cy="1785.0" r="2.7"/><circle cx="1116.5" cy="1803.0" r="2.7"/><circle cx="1013.6" cy="1664.4" r="2.7"/><circle cx="1007.7" cy="1895.8" r="2.7"/><circle cx="923.1" cy="1858.9" r="2.7"/><circle cx="1150.2" cy="1821.5" r="2.7"/><circle cx="1133.0" cy="1858.9" r="2.7"/><circle cx="1064.6" cy="1849.6" r="2.7"/><circle cx="918.9" cy="1794.8" r="2.7"/><circle cx="939.7" cy="1896.3" r="2.7"/><circle cx="986.0" cy="1598.1" r="2.7"/><circle cx="843.6" cy="1859.2" r="2.7"/><circle cx="1024.4" cy="1663.8" r="2.7"/><circle cx="1008.1" cy="1635.6" r="2.7"/><circle cx="849.4" cy="1859.4" r="2.7"/><circle cx="985.7" cy="1859.0" r="2.7"/><circle cx="1110.2" cy="1802.8" r="2.7"/><circle cx="894.2" cy="1859.8" r="2.7"/><circle cx="1001.7" cy="1960.3" r="2.7"/><circle cx="963.9" cy="1802.9" r="2.7"/><circle cx="1105.3" cy="1859.1" r="2.7"/><circle cx="1175.4" cy="1812.0" r="2.7"/><circle cx="930.1" cy="1747.2" r="2.7"/><circle cx="995.7" cy="1664.4" r="2.7"/><circle cx="821.0" cy="1803.2" r="2.7"/><circle cx="944.7" cy="1821.6" r="2.7"/><circle cx="949.5" cy="1896.8" r="2.7"/><circle cx="1118.7" cy="1812.0" r="2.7"/><circle cx="1169.5" cy="1785.0" r="2.7"/><circle cx="1010.5" cy="1924.3" r="2.7"/><circle cx="955.5" cy="1663.6" r="2.7"/><circle cx="910.1" cy="1784.6" r="2.7"/><circle cx="1002.7" cy="1970.9" r="2.7"/><circle cx="911.3" cy="1802.4" r="2.7"/><circle cx="999.5" cy="1840.5" r="2.7"/><circle cx="1095.6" cy="1821.6" r="2.7"/><circle cx="1059.3" cy="1858.6" r="2.7"/><circle cx="915.7" cy="1747.4" r="2.7"/><circle cx="935.6" cy="1717.8" r="2.7"/><circle cx="1021.3" cy="1821.4" r="2.7"/><circle cx="992.8" cy="1822.5" r="2.7"/><circle cx="961.5" cy="1821.5" r="2.7"/><circle cx="932.7" cy="1895.9" r="2.7"/><circle cx="978.6" cy="1792.3" r="2.7"/><circle cx="966.6" cy="1784.6" r="2.7"/><circle cx="973.0" cy="1747.3" r="2.7"/><circle cx="1056.6" cy="1905.6" r="2.7"/><circle cx="955.0" cy="1822.1" r="2.7"/><circle cx="1188.6" cy="1840.7" r="2.7"/><circle cx="783.7" cy="1821.6" r="2.7"/><circle cx="1002.0" cy="1961.4" r="2.7"/><circle cx="867.4" cy="1867.4" r="2.7"/><circle cx="965.6" cy="1887.5" r="2.7"/><circle cx="1001.1" cy="1784.3" r="2.7"/><circle cx="829.0" cy="1850.3" r="2.7"/><circle cx="1067.4" cy="1728.8" r="2.7"/><circle cx="962.3" cy="1896.2" r="2.7"/><circle cx="1066.4" cy="1859.1" r="2.7"/><circle cx="966.6" cy="1719.1" r="2.7"/><circle cx="1007.8" cy="1960.4" r="2.7"/><circle cx="858.2" cy="1767.0" r="2.7"/><circle cx="1003.6" cy="1710.1" r="2.7"/><circle cx="948.6" cy="1896.1" r="2.7"/><circle cx="1156.5" cy="1775.2" r="2.7"/><circle cx="1127.5" cy="1784.6" r="2.7"/><circle cx="892.0" cy="1747.3" r="2.7"/><circle cx="850.5" cy="1793.8" r="2.7"/><circle cx="853.7" cy="1784.2" r="2.7"/><circle cx="996.6" cy="1970.5" r="2.7"/><circle cx="992.0" cy="1933.6" r="2.7"/><circle cx="997.5" cy="1757.3" r="2.7"/><circle cx="993.9" cy="1868.2" r="2.7"/><circle cx="1020.5" cy="1821.2" r="2.7"/><circle cx="990.7" cy="1848.2" r="2.7"/><circle cx="1146.0" cy="1785.0" r="2.7"/><circle cx="991.1" cy="1858.8" r="2.7"/><circle cx="983.6" cy="1896.5" r="2.7"/><circle cx="1030.2" cy="1886.8" r="2.7"/><circle cx="945.9" cy="1822.7" r="2.7"/><circle cx="839.0" cy="1821.8" r="2.7"/><circle cx="954.1" cy="1840.1" r="2.7"/><circle cx="858.0" cy="1766.4" r="2.7"/><circle cx="1168.8" cy="1793.1" r="2.7"/><circle cx="908.8" cy="1747.6" r="2.7"/><circle cx="1041.2" cy="1775.4" r="2.7"/><circle cx="1001.8" cy="1728.2" r="2.7"/><circle cx="991.3" cy="1961.5" r="2.7"/><circle cx="919.0" cy="1737.9" r="2.7"/><circle cx="938.7" cy="1858.7" r="2.7"/><circle cx="1156.5" cy="1784.4" r="2.7"/><circle cx="811.1" cy="1822.0" r="2.7"/><circle cx="903.3" cy="1830.0" r="2.7"/><circle cx="863.9" cy="1784.7" r="2.7"/><circle cx="1057.3" cy="1775.7" r="2.7"/><circle cx="799.4" cy="1811.9" r="2.7"/><circle cx="1134.7" cy="1840.5" r="2.7"/><circle cx="1137.8" cy="1868.1" r="2.7"/><circle cx="891.1" cy="1829.9" r="2.7"/><circle cx="1146.6" cy="1776.6" r="2.7"/><circle cx="868.6" cy="1757.0" r="2.7"/><circle cx="855.2" cy="1830.8" r="2.7"/><circle cx="1135.2" cy="1831.2" r="2.7"/><circle cx="980.1" cy="1961.2" r="2.7"/><circle cx="906.3" cy="1822.2" r="2.7"/><circle cx="1149.9" cy="1821.0" r="2.7"/><circle cx="963.2" cy="1645.6" r="2.7"/><circle cx="1127.9" cy="1821.5" r="2.7"/><circle cx="946.6" cy="1765.6" r="2.7"/><circle cx="1012.2" cy="1673.4" r="2.7"/><circle cx="955.3" cy="1822.2" r="2.7"/><circle cx="983.1" cy="1607.3" r="2.7"/><circle cx="856.6" cy="1821.3" r="2.7"/><circle cx="1060.5" cy="1746.9" r="2.7"/><circle cx="865.4" cy="1794.6" r="2.7"/><circle cx="1070.5" cy="1895.7" r="2.7"/><circle cx="953.0" cy="1691.8" r="2.7"/><circle cx="938.9" cy="1821.7" r="2.7"/><circle cx="911.8" cy="1784.5" r="2.7"/><circle cx="1045.9" cy="1840.4" r="2.7"/><circle cx="907.9" cy="1895.5" r="2.7"/><circle cx="993.7" cy="1849.4" r="2.7"/><circle cx="1020.5" cy="1924.4" r="2.7"/><circle cx="1160.8" cy="1785.1" r="2.7"/><circle cx="983.1" cy="1700.6" r="2.7"/><circle cx="953.1" cy="1784.8" r="2.7"/><circle cx="1092.4" cy="1859.0" r="2.7"/><circle cx="888.1" cy="1887.5" r="2.7"/><circle cx="1027.0" cy="1681.3" r="2.7"/><circle cx="847.6" cy="1822.2" r="2.7"/><circle cx="942.9" cy="1904.8" r="2.7"/><circle cx="806.6" cy="1812.5" r="2.7"/><circle cx="1186.9" cy="1804.0" r="2.7"/><circle cx="1045.5" cy="1821.7" r="2.7"/><circle cx="815.1" cy="1821.9" r="2.7"/><circle cx="1109.6" cy="1821.2" r="2.7"/><circle cx="917.0" cy="1747.6" r="2.7"/><circle cx="977.5" cy="1915.3" r="2.7"/><circle cx="780.9" cy="1812.9" r="2.7"/><circle cx="1088.1" cy="1747.5" r="2.7"/><circle cx="969.4" cy="1653.7" r="2.7"/><circle cx="979.6" cy="1804.0" r="2.7"/><circle cx="965.5" cy="1897.2" r="2.7"/><circle cx="926.9" cy="1821.7" r="2.7"/><circle cx="942.7" cy="1719.5" r="2.7"/><circle cx="992.6" cy="1710.2" r="2.7"/><circle cx="938.1" cy="1812.9" r="2.7"/><circle cx="1140.1" cy="1812.6" r="2.7"/><circle cx="1045.0" cy="1897.0" r="2.7"/><circle cx="1080.0" cy="1785.4" r="2.7"/><circle cx="1084.3" cy="1859.0" r="2.7"/><circle cx="986.6" cy="1672.1" r="2.7"/><circle cx="1029.1" cy="1673.3" r="2.7"/><circle cx="1009.7" cy="1644.9" r="2.7"/><circle cx="965.8" cy="1636.6" r="2.7"/><circle cx="1140.4" cy="1859.3" r="2.7"/><circle cx="911.3" cy="1811.5" r="2.7"/><circle cx="954.0" cy="1896.1" r="2.7"/><circle cx="1130.2" cy="1858.1" r="2.7"/><circle cx="1094.2" cy="1858.5" r="2.7"/><circle cx="975.1" cy="1803.5" r="2.7"/><circle cx="946.0" cy="1783.9" r="2.7"/><circle cx="1106.4" cy="1858.6" r="2.7"/><circle cx="870.7" cy="1785.0" r="2.7"/><circle cx="1063.5" cy="1850.0" r="2.7"/><circle cx="1141.7" cy="1859.2" r="2.7"/><circle cx="919.0" cy="1896.8" r="2.7"/><circle cx="874.2" cy="1802.6" r="2.7"/><circle cx="962.0" cy="1702.0" r="2.7"/><circle cx="1066.5" cy="1878.0" r="2.7"/><circle cx="1023.3" cy="1784.8" r="2.7"/><circle cx="1115.9" cy="1829.6" r="2.7"/><circle cx="872.7" cy="1784.7" r="2.7"/><circle cx="966.4" cy="1905.4" r="2.7"/><circle cx="958.0" cy="1784.6" r="2.7"/><circle cx="875.5" cy="1868.9" r="2.7"/><circle cx="828.4" cy="1784.1" r="2.7"/><circle cx="1194.1" cy="1820.5" r="2.7"/><circle cx="994.7" cy="1970.7" r="2.7"/><circle cx="1181.3" cy="1813.2" r="2.7"/><circle cx="972.0" cy="1858.0" r="2.7"/><circle cx="1006.9" cy="1961.3" r="2.7"/><circle cx="1070.6" cy="1774.4" r="2.7"/><circle cx="1037.8" cy="1859.9" r="2.7"/><circle cx="928.8" cy="1784.9" r="2.7"/><circle cx="909.0" cy="1803.7" r="2.7"/><circle cx="837.6" cy="1785.4" r="2.7"/><circle cx="939.6" cy="1747.8" r="2.7"/><circle cx="1020.3" cy="1710.7" r="2.7"/><circle cx="829.4" cy="1785.2" r="2.7"/><circle cx="995.0" cy="1970.8" r="2.7"/><circle cx="1001.5" cy="1859.2" r="2.7"/><circle cx="1123.0" cy="1784.1" r="2.7"/><circle cx="1000.0" cy="1952.6" r="2.7"/><circle cx="924.9" cy="1813.2" r="2.7"/><circle cx="882.0" cy="1858.9" r="2.7"/><circle cx="995.0" cy="1971.3" r="2.7"/><circle cx="905.5" cy="1784.3" r="2.7"/><circle cx="1068.0" cy="1785.1" r="2.7"/><circle cx="972.2" cy="1896.5" r="2.7"/><circle cx="805.6" cy="1850.9" r="2.7"/><circle cx="948.2" cy="1776.5" r="2.7"/><circle cx="930.1" cy="1822.4" r="2.7"/><circle cx="1032.5" cy="1803.5" r="2.7"/><circle cx="963.4" cy="1933.1" r="2.7"/><circle cx="1012.9" cy="1895.5" r="2.7"/><circle cx="847.8" cy="1840.5" r="2.7"/><circle cx="914.1" cy="1729.5" r="2.7"/><circle cx="979.0" cy="1748.0" r="2.7"/><circle cx="933.6" cy="1906.5" r="2.7"/><circle cx="1068.9" cy="1850.5" r="2.7"/><circle cx="1114.3" cy="1831.1" r="2.7"/><circle cx="829.7" cy="1849.1" r="2.7"/><circle cx="1060.4" cy="1729.0" r="2.7"/><circle cx="963.9" cy="1718.7" r="2.7"/><circle cx="887.7" cy="1785.0" r="2.7"/><circle cx="1021.2" cy="1756.4" r="2.7"/><circle cx="920.1" cy="1859.3" r="2.7"/><circle cx="890.5" cy="1747.5" r="2.7"/><circle cx="1181.3" cy="1831.3" r="2.7"/><circle cx="1000.6" cy="1850.3" r="2.7"/><circle cx="889.6" cy="1747.9" r="2.7"/><circle cx="816.7" cy="1822.1" r="2.7"/><circle cx="1054.4" cy="1858.7" r="2.7"/><circle cx="865.0" cy="1860.1" r="2.7"/><circle cx="1033.2" cy="1710.4" r="2.7"/><circle cx="799.4" cy="1821.3" r="2.7"/><circle cx="1019.3" cy="1756.3" r="2.7"/><circle cx="988.2" cy="1971.5" r="2.7"/><circle cx="901.5" cy="1857.8" r="2.7"/><circle cx="989.4" cy="1970.3" r="2.7"/><circle cx="1050.2" cy="1869.2" r="2.7"/><circle cx="1163.9" cy="1841.6" r="2.7"/><circle cx="944.0" cy="1812.1" r="2.7"/><circle cx="1167.1" cy="1820.7" r="2.7"/><circle cx="987.8" cy="1570.4" r="2.7"/><circle cx="980.0" cy="1691.6" r="2.7"/><circle cx="1017.2" cy="1700.6" r="2.7"/><circle cx="953.0" cy="1860.1" r="2.7"/><circle cx="978.5" cy="1794.9" r="2.7"/><circle cx="952.7" cy="1793.9" r="2.7"/><circle cx="850.9" cy="1839.1" r="2.7"/><circle cx="1038.3" cy="1840.4" r="2.7"/><circle cx="866.3" cy="1869.3" r="2.7"/><circle cx="1053.7" cy="1858.9" r="2.7"/><circle cx="988.9" cy="1507.7" r="2.7"/><circle cx="982.2" cy="2014.2" r="2.7"/>
</g>
<path d="M1589.3,1270.7 L1589.3,1272.7 L1589.3,1274.7 L1589.3,1276.7 L1589.3,1278.7 L1589.3,1280.7 L1589.3,1282.7 L1589.3,1284.7 L1589.3,1286.7 L1589.3,1288.7 L1589.3,1290.7 L1589.3,1292.7 L1589.3,1294.7 L1589.3,1296.7 L1589.3,1298.7 L1589.3,1300.7 L1589.3,1302.7 L1589.3,1304.7 L1589.3,1306.7 L1589.3,1308.7 L1589.3,1310.7 L1589.3,1312.7 L1589.3,1314.7 L1589.3,1316.7 L1589.3,1318.7 L1589.3,1320.7 L1589.3,1322.7 L1589.3,1324.7 L1589.3,1326.7 L1589.3,1328.7 L1589.3,1330.7 L1589.3,1332.7 L1589.3,1334.7 L1589.3,1336.7 L1589.3,1338.7 L1589.3,1340.7 L1589.3,1342.7 L1589.3,1344.7 L1589.3,1346.7 L1589.3,1348.7 L1589.3,1350.7 L1589.3,1352.7 L1589.3,1354.7 L1589.3,1356.7 L1589.3,1358.7 L1589.3,1360.7 L1589.3,1362.7 L1589.3,1364.7 L1589.3,1366.7 L1589.3,1368.7 L1589.3,1370.7 L1589.3,1372.7 L1589.3,1374.7 L1589.3,1376.7 L1589.3,1378.7 L1589.3,1380.7 L1589.3,1382.7 L1589.3,1384.7 L1589.3,1386.7 L1589.3,1388.7 L1589.3,1390.7 L1589.3,1392.7 L1589.3,1394.7 L1589.3,1396.7 L1589.3,1398.7 L1589.3,1400.7 L1589.3,1402.7 L1589.3,1404.7 L1589.3,1406.7 L1589.3,1408.7 L1589.3,1410.7 L1589.3,1412.7 L1589.3,1414.7 L1589.3,1416.7 L1589.3,1418.7 L1589.3,1420.7 L1589.4,1422.7 L1589.5,1424.7 L1589.7,1426.7 L1589.8,1428.7 L1590.0,1430.7 L1590.2,1432.7 L1590.4,1434.7 L1590.6,1436.7 L1590.9,1438.7 L1591.2,1440.7 L1591.5,1442.7 L1591.9,1444.7 L1592.4,1446.7 L1592.8,1448.7 L1593.3,1450.7 L1593.8,1452.7 L1594.4,1454.7 L1594.9,1456.7 L1595.5,1458.7 L1596.0,1460.7 L1596.6,1462.7 L1597.1,1464.7 L1597.7,1466.7 L1598.4,1468.7 L1599.0,1470.7 L1599.7,1472.7 L1600.4,1474.7 L1601.1,1476.7 L1601.8,1478.7 L1602.6,1480.7 L1603.3,1482.7 L1604.1,1484.7 L1604.8,1486.7 L1605.5,1488.7 L1606.2,1490.7 L1607.0,1492.7 L1607.7,1494.7 L1608.5,1496.7 L1609.2,1498.7 L1610.0,1500.7 L1610.8,1502.7 L1611.6,1504.7 L1612.3,1506.7 L1613.1,1508.7 L1613.9,1510.7 L1614.6,1512.7 L1615.4,1514.7 L1616.2,1516.7 L1616.9,1518.7 L1617.7,1520.7 L1618.4,1522.7 L1619.1,1524.7 L1619.8,1526.7 L1620.5,1528.7 L1621.2,1530.7 L1621.9,1532.7 L1622.7,1534.7 L1623.4,1536.7 L1624.1,1538.7 L1624.9,1540.7 L1625.7,1542.7 L1626.5,1544.7 L1627.4,1546.7 L1628.3,1548.7 L1629.2,1550.7 L1630.2,1552.7 L1631.2,1554.7 L1632.3,1556.7 L1633.3,1558.7 L1634.4,1560.7 L1635.6,1562.7 L1636.7,1564.7 L1637.9,1566.7 L1639.2,1568.7 L1640.4,1570.7 L1641.7,1572.7 L1643.0,1574.7 L1644.4,1576.7 L1645.8,1578.7 L1647.3,1580.7 L1648.8,1582.7 L1650.4,1584.7 L1652.1,1586.7 L1653.7,1588.7 L1655.4,1590.7 L1657.2,1592.7 L1658.9,1594.7 L1660.6,1596.7 L1662.3,1598.7 L1664.0,1600.7 L1665.7,1602.7 L1667.3,1604.7 L1669.0,1606.7 L1670.7,1608.7 L1672.5,1610.7 L1674.2,1612.7 L1675.9,1614.7 L1677.6,1616.7 L1679.2,1618.7 L1680.8,1620.7 L1682.4,1622.7 L1683.9,1624.7 L1685.3,1626.7 L1686.7,1628.7 L1688.2,1630.7 L1689.5,1632.7 L1690.9,1634.7 L1692.2,1636.7 L1693.5,1638.7 L1694.8,1640.7 L1696.0,1642.7 L1697.2,1644.7 L1698.3,1646.7 L1699.4,1648.7 L1700.4,1650.7 L1701.3,1652.7 L1702.3,1654.7 L1703.1,1656.7 L1704.0,1658.7 L1704.8,1660.7 L1705.7,1662.7 L1706.5,1664.7 L1707.3,1666.7 L1708.1,1668.7 L1709.0,1670.7 L1709.8,1672.7 L1710.7,1674.7 L1711.5,1676.7 L1712.4,1678.7 L1713.3,1680.7 L1714.2,1682.7 L1715.1,1684.7 L1716.0,1686.7 L1716.9,1688.7 L1717.8,1690.7 L1718.7,1692.7 L1719.5,1694.7 L1720.3,1696.7 L1721.1,1698.7 L1721.9,1700.7 L1722.6,1702.7 L1723.3,1704.7 L1724.0,1706.7 L1724.7,1708.7 L1725.4,1710.7 L1726.0,1712.7 L1726.7,1714.7 L1727.3,1716.7 L1727.9,1718.7 L1728.5,1720.7 L1729.1,1722.7 L1729.8,1724.7 L1730.5,1726.7 L1731.2,1728.7 L1731.8,1730.7 L1732.4,1732.7 L1732.9,1734.7 L1733.3,1736.7 L1733.5,1738.7 L1733.5,1740.7 L1733.3,1742.7 L1732.9,1744.7 L1732.4,1746.7 L1731.8,1748.7 L1731.2,1750.7 L1730.5,1752.7 L1729.7,1754.7 L1729.0,1756.7 L1728.2,1758.7 L1727.2,1760.7 L1726.1,1762.7 L1724.9,1764.7 L1723.6,1766.7 L1722.3,1768.7 L1721.0,1770.7 L1719.6,1772.7 L1718.3,1774.7 L1717.0,1776.7 L1715.6,1778.7 L1714.3,1780.7 L1712.9,1782.7 L1711.4,1784.7 L1710.0,1786.7 L1708.5,1788.7 L1707.0,1790.7 L1705.5,1792.7 L1704.1,1794.7 L1702.6,1796.7 L1701.1,1798.7 L1699.6,1800.7 L1698.1,1802.7 L1696.6,1804.7 L1695.0,1806.7 L1693.5,1808.7 L1692.0,1810.7 L1690.4,1812.7 L1688.9,1814.7 L1687.3,1816.7 L1685.7,1818.7 L1684.1,1820.7 L1682.5,1822.7 L1680.9,1824.7 L1679.2,1826.7 L1677.5,1828.7 L1675.8,1830.7 L1674.1,1832.7 L1672.5,1834.7 L1670.9,1836.7 L1669.3,1838.7 L1667.8,1840.7 L1666.4,1842.7 L1665.0,1844.7 L1663.6,1846.7 L1662.2,1848.7 L1660.9,1850.7 L1659.6,1852.7 L1658.4,1854.7 L1657.2,1856.7 L1656.0,1858.7 L1654.8,1860.7 L1653.6,1862.7 L1652.4,1864.7 L1651.3,1866.7 L1650.2,1868.7 L1649.1,1870.7 L1648.1,1872.7 L1647.1,1874.7 L1646.1,1876.7 L1645.3,1878.7 L1644.4,1880.7 L1643.6,1882.7 L1642.8,1884.7 L1642.1,1886.7 L1641.4,1888.7 L1640.7,1890.7 L1640.1,1892.7 L1639.6,1894.7 L1639.2,1896.7 L1638.8,1898.7 L1638.5,1900.7 L1638.3,1902.7 L1638.1,1904.7 L1637.9,1906.7 L1637.7,1908.7 L1637.4,1910.7 L1637.2,1912.7 L1636.9,1914.7 L1636.6,1916.7 L1636.2,1918.7 L1635.6,1920.7 L1635.0,1922.7 L1634.2,1924.7 L1633.4,1926.7 L1632.5,1928.7 L1631.5,1930.7 L1630.5,1932.7 L1629.5,1934.7 L1628.5,1936.7 L1627.3,1938.7 L1626.1,1940.7 L1624.7,1942.7 L1623.3,1944.7 L1621.9,1946.7 L1620.4,1948.7 L1619.0,1950.7 L1617.6,1952.7 L1616.2,1954.7 L1615.0,1956.7 L1613.7,1958.7 L1612.4,1960.7 L1611.2,1962.7 L1609.9,1964.7 L1608.7,1966.7 L1607.6,1968.7 L1606.4,1970.7 L1605.4,1972.7 L1604.3,1974.7 L1603.3,1976.7 L1602.3,1978.7 L1601.3,1980.7 L1600.4,1982.7 L1599.5,1984.7 L1598.7,1986.7 L1598.0,1988.7 L1597.4,1990.7 L1596.8,1992.7 L1596.4,1994.7 L1596.0,1996.7 L1595.6,1998.7 L1595.3,2000.7 L1594.9,2002.7 L1594.6,2004.7 L1594.2,2006.7 L1593.7,2008.7 L1593.2,2010.7 L1592.7,2012.7 L1592.5,2013.6 L1585.1,2013.6 L1584.9,2012.7 L1584.4,2010.7 L1583.9,2008.7 L1583.4,2006.7 L1583.0,2004.7 L1582.7,2002.7 L1582.3,2000.7 L1582.0,1998.7 L1581.6,1996.7 L1581.2,1994.7 L1580.8,1992.7 L1580.2,1990.7 L1579.6,1988.7 L1578.9,1986.7 L1578.1,1984.7 L1577.2,1982.7 L1576.3,1980.7 L1575.3,1978.7 L1574.3,1976.7 L1573.3,1974.7 L1572.2,1972.7 L1571.2,1970.7 L1570.0,1968.7 L1568.9,1966.7 L1567.7,1964.7 L1566.4,1962.7 L1565.2,1960.7 L1563.9,1958.7 L1562.6,1956.7 L1561.4,1954.7 L1560.0,1952.7 L1558.6,1950.7 L1557.2,1948.7 L1555.7,1946.7 L1554.3,1944.7 L1552.9,1942.7 L1551.5,1940.7 L1550.3,1938.7 L1549.1,1936.7 L1548.1,1934.7 L1547.1,1932.7 L1546.1,1930.7 L1545.1,1928.7 L1544.2,1926.7 L1543.4,1924.7 L1542.6,1922.7 L1542.0,1920.7 L1541.4,1918.7 L1541.0,1916.7 L1540.7,1914.7 L1540.4,1912.7 L1540.2,1910.7 L1539.9,1908.7 L1539.7,1906.7 L1539.5,1904.7 L1539.3,1902.7 L1539.1,1900.7 L1538.8,1898.7 L1538.4,1896.7 L1538.0,1894.7 L1537.5,1892.7 L1536.9,1890.7 L1536.2,1888.7 L1535.5,1886.7 L1534.8,1884.7 L1534.0,1882.7 L1533.2,1880.7 L1532.3,1878.7 L1531.5,1876.7 L1530.5,1874.7 L1529.5,1872.7 L1528.5,1870.7 L1527.4,1868.7 L1526.3,1866.7 L1525.2,1864.7 L1524.0,1862.7 L1522.8,1860.7 L1521.6,1858.7 L1520.4,1856.7 L1519.2,1854.7 L1518.0,1852.7 L1516.7,1850.7 L1515.4,1848.7 L1514.0,1846.7 L1512.6,1844.7 L1511.2,1842.7 L1509.8,1840.7 L1508.3,1838.7 L1506.7,1836.7 L1505.1,1834.7 L1503.5,1832.7 L1501.8,1830.7 L1500.1,1828.7 L1498.4,1826.7 L1496.7,1824.7 L1495.1,1822.7 L1493.5,1820.7 L1491.9,1818.7 L1490.3,1816.7 L1488.7,1814.7 L1487.2,1812.7 L1485.6,1810.7 L1484.1,1808.7 L1482.6,1806.7 L1481.0,1804.7 L1479.5,1802.7 L1478.0,1800.7 L1476.5,1798.7 L1475.0,1796.7 L1473.5,1794.7 L1472.1,1792.7 L1470.6,1790.7 L1469.1,1788.7 L1467.6,1786.7 L1466.2,1784.7 L1464.7,1782.7 L1463.3,1780.7 L1462.0,1778.7 L1460.6,1776.7 L1459.3,1774.7 L1458.0,1772.7 L1456.6,1770.7 L1455.3,1768.7 L1454.0,1766.7 L1452.7,1764.7 L1451.5,1762.7 L1450.4,1760.7 L1449.4,1758.7 L1448.6,1756.7 L1447.9,1754.7 L1447.1,1752.7 L1446.4,1750.7 L1445.8,1748.7 L1445.2,1746.7 L1444.7,1744.7 L1444.3,1742.7 L1444.1,1740.7 L1444.1,1738.7 L1444.3,1736.7 L1444.7,1734.7 L1445.2,1732.7 L1445.8,1730.7 L1446.4,1728.7 L1447.1,1726.7 L1447.8,1724.7 L1448.5,1722.7 L1449.1,1720.7 L1449.7,1718.7 L1450.3,1716.7 L1450.9,1714.7 L1451.6,1712.7 L1452.2,1710.7 L1452.9,1708.7 L1453.6,1706.7 L1454.3,1704.7 L1455.0,1702.7 L1455.7,1700.7 L1456.5,1698.7 L1457.3,1696.7 L1458.1,1694.7 L1458.9,1692.7 L1459.8,1690.7 L1460.7,1688.7 L1461.6,1686.7 L1462.5,1684.7 L1463.4,1682.7 L1464.3,1680.7 L1465.2,1678.7 L1466.1,1676.7 L1466.9,1674.7 L1467.8,1672.7 L1468.6,1670.7 L1469.5,1668.7 L1470.3,1666.7 L1471.1,1664.7 L1471.9,1662.7 L1472.8,1660.7 L1473.6,1658.7 L1474.5,1656.7 L1475.3,1654.7 L1476.3,1652.7 L1477.2,1650.7 L1478.2,1648.7 L1479.3,1646.7 L1480.4,1644.7 L1481.6,1642.7 L1482.8,1640.7 L1484.1,1638.7 L1485.4,1636.7 L1486.7,1634.7 L1488.1,1632.7 L1489.4,1630.7 L1490.9,1628.7 L1492.3,1626.7 L1493.7,1624.7 L1495.2,1622.7 L1496.8,1620.7 L1498.4,1618.7 L1500.0,1616.7 L1501.7,1614.7 L1503.4,1612.7 L1505.1,1610.7 L1506.9,1608.7 L1508.6,1606.7 L1510.3,1604.7 L1511.9,1602.7 L1513.6,1600.7 L1515.3,1598.7 L1517.0,1596.7 L1518.7,1594.7 L1520.4,1592.7 L1522.2,1590.7 L1523.9,1588.7 L1525.5,1586.7 L1527.2,1584.7 L1528.8,1582.7 L1530.3,1580.7 L1531.8,1578.7 L1533.2,1576.7 L1534.6,1574.7 L1535.9,1572.7 L1537.2,1570.7 L1538.4,1568.7 L1539.7,1566.7 L1540.9,1564.7 L1542.0,1562.7 L1543.2,1560.7 L1544.3,1558.7 L1545.3,1556.7 L1546.4,1554.7 L1547.4,1552.7 L1548.4,1550.7 L1549.3,1548.7 L1550.2,1546.7 L1551.1,1544.7 L1551.9,1542.7 L1552.7,1540.7 L1553.5,1538.7 L1554.2,1536.7 L1554.9,1534.7 L1555.7,1532.7 L1556.4,1530.7 L1557.1,1528.7 L1557.8,1526.7 L1558.5,1524.7 L1559.2,1522.7 L1559.9,1520.7 L1560.7,1518.7 L1561.4,1516.7 L1562.2,1514.7 L1563.0,1512.7 L1563.7,1510.7 L1564.5,1508.7 L1565.3,1506.7 L1566.0,1504.7 L1566.8,1502.7 L1567.6,1500.7 L1568.4,1498.7 L1569.1,1496.7 L1569.9,1494.7 L1570.6,1492.7 L1571.4,1490.7 L1572.1,1488.7 L1572.8,1486.7 L1573.5,1484.7 L1574.3,1482.7 L1575.0,1480.7 L1575.8,1478.7 L1576.5,1476.7 L1577.2,1474.7 L1577.9,1472.7 L1578.6,1470.7 L1579.2,1468.7 L1579.9,1466.7 L1580.5,1464.7 L1581.0,1462.7 L1581.6,1460.7 L1582.1,1458.7 L1582.7,1456.7 L1583.2,1454.7 L1583.8,1452.7 L1584.3,1450.7 L1584.8,1448.7 L1585.2,1446.7 L1585.7,1444.7 L1586.1,1442.7 L1586.4,1440.7 L1586.7,1438.7 L1587.0,1436.7 L1587.2,1434.7 L1587.4,1432.7 L1587.6,1430.7 L1587.8,1428.7 L1587.9,1426.7 L1588.1,1424.7 L1588.2,1422.7 L1588.2,1420.7 L1588.2,1418.7 L1588.2,1416.7 L1588.2,1414.7 L1588.2,1412.7 L1588.2,1410.7 L1588.2,1408.7 L1588.2,1406.7 L1588.2,1404.7 L1588.2,1402.7 L1588.2,1400.7 L1588.2,1398.7 L1588.2,1396.7 L1588.2,1394.7 L1588.2,1392.7 L1588.2,1390.7 L1588.2,1388.7 L1588.2,1386.7 L1588.2,1384.7 L1588.2,1382.7 L1588.2,1380.7 L1588.2,1378.7 L1588.2,1376.7 L1588.2,1374.7 L1588.2,1372.7 L1588.2,1370.7 L1588.2,1368.7 L1588.2,1366.7 L1588.2,1364.7 L1588.2,1362.7 L1588.2,1360.7 L1588.2,1358.7 L1588.2,1356.7 L1588.2,1354.7 L1588.2,1352.7 L1588.2,1350.7 L1588.2,1348.7 L1588.2,1346.7 L1588.2,1344.7 L1588.2,1342.7 L1588.2,1340.7 L1588.2,1338.7 L1588.2,1336.7 L1588.2,1334.7 L1588.2,1332.7 L1588.2,1330.7 L1588.2,1328.7 L1588.2,1326.7 L1588.2,1324.7 L1588.2,1322.7 L1588.2,1320.7 L1588.2,1318.7 L1588.2,1316.7 L1588.2,1314.7 L1588.2,1312.7 L1588.2,1310.7 L1588.2,1308.7 L1588.2,1306.7 L1588.2,1304.7 L1588.2,1302.7 L1588.2,1300.7 L1588.2,1298.7 L1588.2,1296.7 L1588.2,1294.7 L1588.2,1292.7 L1588.2,1290.7 L1588.2,1288.7 L1588.2,1286.7 L1588.2,1284.7 L1588.2,1282.7 L1588.2,1280.7 L1588.2,1278.7 L1588.2,1276.7 L1588.2,1274.7 L1588.2,1272.7 L1588.2,1270.7Z" fill="#9bcccd" stroke="#333333" stroke-width="3.9" stroke-linejoin="round"/>
<g fill="#d5edf2" stroke="#000" stroke-width="1.15">
<circle cx="1570.5" cy="1895.8" r="2.7"/><circle cx="1558.6" cy="1701.2" r="2.7"/><circle cx="1589.5" cy="1933.1" r="2.7"/><circle cx="1586.0" cy="1858.5" r="2.7"/><circle cx="1629.2" cy="1571.3" r="2.7"/><circle cx="1519.9" cy="1609.5" r="2.7"/><circle cx="1614.8" cy="1785.0" r="2.7"/><circle cx="1578.5" cy="1859.8" r="2.7"/><circle cx="1599.2" cy="1589.6" r="2.7"/><circle cx="1573.7" cy="1747.5" r="2.7"/><circle cx="1589.1" cy="1886.5" r="2.7"/><circle cx="1696.0" cy="1663.6" r="2.7"/><circle cx="1709.2" cy="1709.9" r="2.7"/><circle cx="1656.4" cy="1672.3" r="2.7"/><circle cx="1558.6" cy="1673.0" r="2.7"/><circle cx="1642.2" cy="1877.1" r="2.7"/><circle cx="1595.0" cy="1858.9" r="2.7"/><circle cx="1543.5" cy="1783.9" r="2.7"/><circle cx="1484.8" cy="1803.0" r="2.7"/><circle cx="1553.6" cy="1849.9" r="2.7"/><circle cx="1700.6" cy="1672.7" r="2.7"/><circle cx="1719.1" cy="1746.6" r="2.7"/><circle cx="1606.8" cy="1580.4" r="2.7"/><circle cx="1549.6" cy="1784.3" r="2.7"/><circle cx="1510.5" cy="1784.4" r="2.7"/><circle cx="1587.6" cy="1543.3" r="2.7"/><circle cx="1643.0" cy="1634.9" r="2.7"/><circle cx="1560.4" cy="1784.6" r="2.7"/><circle cx="1497.0" cy="1719.7" r="2.7"/><circle cx="1557.7" cy="1785.3" r="2.7"/><circle cx="1619.8" cy="1533.1" r="2.7"/><circle cx="1547.6" cy="1896.3" r="2.7"/><circle cx="1583.7" cy="1524.7" r="2.7"/><circle cx="1707.4" cy="1757.1" r="2.7"/><circle cx="1467.5" cy="1773.8" r="2.7"/><circle cx="1482.1" cy="1719.4" r="2.7"/><circle cx="1565.1" cy="1599.9" r="2.7"/><circle cx="1648.5" cy="1849.9" r="2.7"/><circle cx="1474.5" cy="1672.1" r="2.7"/><circle cx="1568.0" cy="1896.2" r="2.7"/><circle cx="1503.6" cy="1739.0" r="2.7"/><circle cx="1668.3" cy="1673.3" r="2.7"/><circle cx="1607.4" cy="1932.4" r="2.7"/><circle cx="1561.8" cy="1561.9" r="2.7"/><circle cx="1589.3" cy="1887.6" r="2.7"/><circle cx="1520.4" cy="1608.6" r="2.7"/><circle cx="1613.3" cy="1830.6" r="2.7"/><circle cx="1655.0" cy="1748.2" r="2.7"/><circle cx="1549.2" cy="1776.2" r="2.7"/><circle cx="1556.1" cy="1598.9" r="2.7"/><circle cx="1688.1" cy="1709.8" r="2.7"/><circle cx="1569.4" cy="1765.9" r="2.7"/><circle cx="1578.1" cy="1598.5" r="2.7"/><circle cx="1686.1" cy="1673.6" r="2.7"/><circle cx="1676.9" cy="1672.0" r="2.7"/><circle cx="1527.5" cy="1690.7" r="2.7"/><circle cx="1627.9" cy="1635.6" r="2.7"/><circle cx="1656.7" cy="1673.1" r="2.7"/><circle cx="1668.7" cy="1627.5" r="2.7"/><circle cx="1513.4" cy="1710.4" r="2.7"/><circle cx="1478.5" cy="1701.4" r="2.7"/><circle cx="1621.4" cy="1748.6" r="2.7"/><circle cx="1491.8" cy="1738.3" r="2.7"/><circle cx="1606.7" cy="1766.2" r="2.7"/><circle cx="1607.0" cy="1728.6" r="2.7"/><circle cx="1580.8" cy="1859.2" r="2.7"/><circle cx="1621.3" cy="1859.3" r="2.7"/><circle cx="1483.7" cy="1701.2" r="2.7"/><circle cx="1556.5" cy="1673.4" r="2.7"/><circle cx="1651.8" cy="1682.4" r="2.7"/><circle cx="1523.8" cy="1812.2" r="2.7"/><circle cx="1626.4" cy="1859.2" r="2.7"/><circle cx="1509.4" cy="1608.4" r="2.7"/><circle cx="1598.7" cy="1766.1" r="2.7"/><circle cx="1638.5" cy="1757.3" r="2.7"/><circle cx="1549.9" cy="1933.0" r="2.7"/><circle cx="1572.6" cy="1561.2" r="2.7"/><circle cx="1501.9" cy="1746.9" r="2.7"/><circle cx="1476.9" cy="1701.9" r="2.7"/><circle cx="1692.4" cy="1710.3" r="2.7"/><circle cx="1583.6" cy="1672.2" r="2.7"/><circle cx="1622.5" cy="1784.5" r="2.7"/><circle cx="1516.3" cy="1699.9" r="2.7"/><circle cx="1593.2" cy="1634.4" r="2.7"/><circle cx="1701.1" cy="1692.5" r="2.7"/><circle cx="1658.0" cy="1683.0" r="2.7"/><circle cx="1604.9" cy="1914.3" r="2.7"/><circle cx="1697.0" cy="1783.6" r="2.7"/><circle cx="1697.4" cy="1792.9" r="2.7"/><circle cx="1553.3" cy="1674.3" r="2.7"/><circle cx="1562.6" cy="1560.4" r="2.7"/><circle cx="1591.4" cy="1747.4" r="2.7"/><circle cx="1660.7" cy="1653.9" r="2.7"/><circle cx="1522.9" cy="1635.6" r="2.7"/><circle cx="1710.2" cy="1746.4" r="2.7"/><circle cx="1684.0" cy="1673.3" r="2.7"/><circle cx="1680.5" cy="1644.3" r="2.7"/><circle cx="1612.4" cy="1580.4" r="2.7"/><circle cx="1543.2" cy="1607.5" r="2.7"/><circle cx="1550.8" cy="1933.5" r="2.7"/><circle cx="1586.9" cy="1757.1" r="2.7"/><circle cx="1545.8" cy="1858.8" r="2.7"/><circle cx="1451.1" cy="1747.5" r="2.7"/><circle cx="1499.8" cy="1747.5" r="2.7"/><circle cx="1593.2" cy="1970.3" r="2.7"/><circle cx="1625.3" cy="1598.6" r="2.7"/><circle cx="1526.8" cy="1858.7" r="2.7"/><circle cx="1554.3" cy="1868.2" r="2.7"/><circle cx="1684.5" cy="1728.9" r="2.7"/><circle cx="1651.9" cy="1793.7" r="2.7"/><circle cx="1689.8" cy="1747.3" r="2.7"/><circle cx="1638.2" cy="1708.8" r="2.7"/><circle cx="1645.1" cy="1598.8" r="2.7"/><circle cx="1551.7" cy="1775.0" r="2.7"/><circle cx="1667.3" cy="1709.9" r="2.7"/><circle cx="1702.8" cy="1663.1" r="2.7"/><circle cx="1662.5" cy="1681.3" r="2.7"/><circle cx="1545.2" cy="1710.0" r="2.7"/><circle cx="1643.7" cy="1673.0" r="2.7"/><circle cx="1555.2" cy="1746.7" r="2.7"/><circle cx="1547.2" cy="1719.8" r="2.7"/><circle cx="1598.9" cy="1597.3" r="2.7"/><circle cx="1473.8" cy="1756.6" r="2.7"/><circle cx="1611.9" cy="1699.9" r="2.7"/><circle cx="1518.7" cy="1822.0" r="2.7"/><circle cx="1592.0" cy="1811.9" r="2.7"/><circle cx="1569.5" cy="1636.3" r="2.7"/><circle cx="1580.4" cy="1906.6" r="2.7"/><circle cx="1575.2" cy="1896.3" r="2.7"/><circle cx="1532.5" cy="1858.0" r="2.7"/><circle cx="1635.0" cy="1673.1" r="2.7"/><circle cx="1573.5" cy="1747.2" r="2.7"/><circle cx="1614.5" cy="1533.9" r="2.7"/><circle cx="1598.7" cy="1914.8" r="2.7"/><circle cx="1582.9" cy="1552.2" r="2.7"/><circle cx="1688.2" cy="1765.8" r="2.7"/><circle cx="1636.7" cy="1580.8" r="2.7"/><circle cx="1613.8" cy="1905.4" r="2.7"/><circle cx="1516.8" cy="1775.1" r="2.7"/><circle cx="1550.4" cy="1785.6" r="2.7"/><circle cx="1679.1" cy="1766.3" r="2.7"/><circle cx="1607.2" cy="1561.1" r="2.7"/><circle cx="1700.6" cy="1681.1" r="2.7"/><circle cx="1670.5" cy="1803.9" r="2.7"/><circle cx="1611.4" cy="1645.1" r="2.7"/><circle cx="1544.4" cy="1784.4" r="2.7"/><circle cx="1579.4" cy="1543.1" r="2.7"/><circle cx="1605.5" cy="1739.3" r="2.7"/><circle cx="1607.3" cy="1794.8" r="2.7"/><circle cx="1557.0" cy="1905.0" r="2.7"/><circle cx="1641.3" cy="1821.8" r="2.7"/><circle cx="1700.7" cy="1690.6" r="2.7"/><circle cx="1453.1" cy="1747.7" r="2.7"/><circle cx="1521.2" cy="1607.2" r="2.7"/><circle cx="1575.3" cy="1672.8" r="2.7"/><circle cx="1600.7" cy="1522.9" r="2.7"/><circle cx="1619.3" cy="1906.1" r="2.7"/><circle cx="1547.9" cy="1829.8" r="2.7"/><circle cx="1600.2" cy="1728.6" r="2.7"/><circle cx="1657.5" cy="1654.0" r="2.7"/><circle cx="1586.6" cy="1524.8" r="2.7"/><circle cx="1574.1" cy="1654.2" r="2.7"/><circle cx="1533.7" cy="1672.9" r="2.7"/><circle cx="1568.6" cy="1858.7" r="2.7"/><circle cx="1494.6" cy="1747.7" r="2.7"/><circle cx="1589.6" cy="1960.5" r="2.7"/><circle cx="1586.3" cy="1876.8" r="2.7"/><circle cx="1495.8" cy="1673.6" r="2.7"/><circle cx="1515.4" cy="1783.1" r="2.7"/><circle cx="1573.3" cy="1896.3" r="2.7"/><circle cx="1493.7" cy="1653.9" r="2.7"/><circle cx="1512.2" cy="1636.0" r="2.7"/><circle cx="1481.0" cy="1728.9" r="2.7"/><circle cx="1672.5" cy="1663.5" r="2.7"/><circle cx="1608.8" cy="1598.9" r="2.7"/><circle cx="1679.4" cy="1672.8" r="2.7"/><circle cx="1609.1" cy="1747.7" r="2.7"/><circle cx="1604.7" cy="1849.2" r="2.7"/><circle cx="1615.0" cy="1673.6" r="2.7"/><circle cx="1505.1" cy="1821.7" r="2.7"/><circle cx="1578.9" cy="1523.9" r="2.7"/><circle cx="1652.7" cy="1775.3" r="2.7"/><circle cx="1576.5" cy="1849.4" r="2.7"/><circle cx="1558.8" cy="1559.4" r="2.7"/><circle cx="1631.7" cy="1858.2" r="2.7"/><circle cx="1686.3" cy="1794.3" r="2.7"/><circle cx="1634.0" cy="1747.5" r="2.7"/><circle cx="1593.2" cy="1868.8" r="2.7"/><circle cx="1552.2" cy="1718.9" r="2.7"/><circle cx="1618.1" cy="1561.6" r="2.7"/><circle cx="1617.4" cy="1915.2" r="2.7"/><circle cx="1654.4" cy="1831.9" r="2.7"/><circle cx="1593.5" cy="1487.8" r="2.7"/><circle cx="1594.7" cy="1607.1" r="2.7"/><circle cx="1478.1" cy="1709.4" r="2.7"/><circle cx="1660.3" cy="1709.6" r="2.7"/><circle cx="1615.2" cy="1904.6" r="2.7"/><circle cx="1593.6" cy="1579.1" r="2.7"/><circle cx="1497.3" cy="1783.9" r="2.7"/><circle cx="1634.2" cy="1896.3" r="2.7"/><circle cx="1644.1" cy="1747.5" r="2.7"/><circle cx="1622.1" cy="1710.4" r="2.7"/><circle cx="1646.3" cy="1598.5" r="2.7"/><circle cx="1522.3" cy="1821.6" r="2.7"/><circle cx="1635.7" cy="1895.7" r="2.7"/><circle cx="1536.2" cy="1747.9" r="2.7"/><circle cx="1578.0" cy="1682.3" r="2.7"/><circle cx="1655.1" cy="1607.7" r="2.7"/><circle cx="1582.5" cy="1924.8" r="2.7"/><circle cx="1539.2" cy="1858.6" r="2.7"/><circle cx="1503.5" cy="1711.0" r="2.7"/><circle cx="1637.8" cy="1784.0" r="2.7"/><circle cx="1543.0" cy="1822.2" r="2.7"/><circle cx="1709.9" cy="1747.8" r="2.7"/><circle cx="1591.1" cy="1561.3" r="2.7"/><circle cx="1562.1" cy="1709.6" r="2.7"/><circle cx="1476.9" cy="1710.1" r="2.7"/><circle cx="1611.4" cy="1850.4" r="2.7"/><circle cx="1650.2" cy="1858.9" r="2.7"/><circle cx="1630.1" cy="1858.0" r="2.7"/><circle cx="1594.8" cy="1561.1" r="2.7"/><circle cx="1560.5" cy="1747.4" r="2.7"/><circle cx="1681.5" cy="1683.4" r="2.7"/><circle cx="1499.2" cy="1793.8" r="2.7"/><circle cx="1498.5" cy="1794.2" r="2.7"/><circle cx="1670.5" cy="1673.1" r="2.7"/><circle cx="1594.5" cy="1924.9" r="2.7"/><circle cx="1595.0" cy="1561.2" r="2.7"/><circle cx="1648.1" cy="1747.9" r="2.7"/><circle cx="1597.9" cy="1488.0" r="2.7"/><circle cx="1545.2" cy="1914.9" r="2.7"/><circle cx="1696.6" cy="1728.4" r="2.7"/><circle cx="1613.3" cy="1561.4" r="2.7"/><circle cx="1655.1" cy="1618.2" r="2.7"/><circle cx="1593.2" cy="1682.7" r="2.7"/><circle cx="1671.4" cy="1812.6" r="2.7"/><circle cx="1630.5" cy="1821.1" r="2.7"/><circle cx="1590.5" cy="1673.8" r="2.7"/><circle cx="1690.8" cy="1747.3" r="2.7"/><circle cx="1716.5" cy="1710.7" r="2.7"/><circle cx="1557.6" cy="1598.3" r="2.7"/><circle cx="1534.0" cy="1737.1" r="2.7"/><circle cx="1544.2" cy="1858.9" r="2.7"/><circle cx="1513.0" cy="1700.3" r="2.7"/><circle cx="1713.6" cy="1747.6" r="2.7"/><circle cx="1525.8" cy="1635.4" r="2.7"/><circle cx="1521.2" cy="1784.6" r="2.7"/><circle cx="1601.5" cy="1775.4" r="2.7"/><circle cx="1663.4" cy="1765.9" r="2.7"/><circle cx="1480.4" cy="1683.0" r="2.7"/><circle cx="1558.3" cy="1784.7" r="2.7"/><circle cx="1531.8" cy="1728.2" r="2.7"/><circle cx="1524.1" cy="1784.7" r="2.7"/><circle cx="1573.4" cy="1561.1" r="2.7"/><circle cx="1693.5" cy="1746.6" r="2.7"/><circle cx="1589.3" cy="1896.7" r="2.7"/><circle cx="1563.7" cy="1803.4" r="2.7"/><circle cx="1629.0" cy="1868.2" r="2.7"/><circle cx="1592.6" cy="1998.2" r="2.7"/><circle cx="1529.6" cy="1636.3" r="2.7"/><circle cx="1551.5" cy="1607.7" r="2.7"/><circle cx="1587.1" cy="1691.7" r="2.7"/><circle cx="1561.1" cy="1896.0" r="2.7"/><circle cx="1570.8" cy="1821.2" r="2.7"/><circle cx="1551.8" cy="1905.1" r="2.7"/><circle cx="1608.7" cy="1663.9" r="2.7"/><circle cx="1557.2" cy="1830.0" r="2.7"/><circle cx="1574.0" cy="1840.3" r="2.7"/><circle cx="1548.1" cy="1747.4" r="2.7"/><circle cx="1626.8" cy="1598.2" r="2.7"/><circle cx="1527.5" cy="1794.3" r="2.7"/><circle cx="1547.3" cy="1766.8" r="2.7"/><circle cx="1635.3" cy="1644.7" r="2.7"/><circle cx="1595.7" cy="1820.9" r="2.7"/><circle cx="1569.0" cy="1885.8" r="2.7"/><circle cx="1650.4" cy="1728.0" r="2.7"/><circle cx="1575.2" cy="1719.3" r="2.7"/><circle cx="1573.1" cy="1599.0" r="2.7"/><circle cx="1630.8" cy="1756.7" r="2.7"/><circle cx="1591.4" cy="1607.5" r="2.7"/><circle cx="1549.2" cy="1709.5" r="2.7"/><circle cx="1468.4" cy="1710.3" r="2.7"/><circle cx="1553.6" cy="1896.7" r="2.7"/><circle cx="1663.6" cy="1775.5" r="2.7"/><circle cx="1569.1" cy="1570.9" r="2.7"/><circle cx="1639.7" cy="1850.2" r="2.7"/><circle cx="1465.7" cy="1711.1" r="2.7"/><circle cx="1586.9" cy="1793.4" r="2.7"/><circle cx="1657.8" cy="1840.8" r="2.7"/><circle cx="1547.6" cy="1710.9" r="2.7"/><circle cx="1615.9" cy="1701.4" r="2.7"/><circle cx="1462.3" cy="1757.2" r="2.7"/><circle cx="1536.5" cy="1793.4" r="2.7"/><circle cx="1624.0" cy="1673.5" r="2.7"/><circle cx="1628.5" cy="1636.5" r="2.7"/><circle cx="1576.5" cy="1710.3" r="2.7"/><circle cx="1590.7" cy="1989.6" r="2.7"/><circle cx="1600.1" cy="1580.3" r="2.7"/><circle cx="1677.7" cy="1627.6" r="2.7"/><circle cx="1577.4" cy="1885.9" r="2.7"/><circle cx="1508.1" cy="1822.8" r="2.7"/><circle cx="1575.5" cy="1710.4" r="2.7"/><circle cx="1505.8" cy="1636.3" r="2.7"/><circle cx="1615.7" cy="1553.0" r="2.7"/><circle cx="1611.7" cy="1933.6" r="2.7"/><circle cx="1617.8" cy="1756.8" r="2.7"/><circle cx="1652.3" cy="1748.0" r="2.7"/><circle cx="1632.4" cy="1831.3" r="2.7"/><circle cx="1558.3" cy="1682.5" r="2.7"/><circle cx="1670.8" cy="1700.0" r="2.7"/><circle cx="1581.8" cy="1485.6" r="2.7"/><circle cx="1531.4" cy="1859.4" r="2.7"/><circle cx="1578.1" cy="1896.0" r="2.7"/><circle cx="1658.8" cy="1673.2" r="2.7"/><circle cx="1568.9" cy="1943.9" r="2.7"/><circle cx="1646.1" cy="1636.7" r="2.7"/><circle cx="1558.8" cy="1561.3" r="2.7"/><circle cx="1512.4" cy="1672.8" r="2.7"/><circle cx="1601.9" cy="1514.1" r="2.7"/><circle cx="1568.4" cy="1655.2" r="2.7"/><circle cx="1605.5" cy="1663.5" r="2.7"/><circle cx="1579.6" cy="1859.1" r="2.7"/><circle cx="1591.0" cy="1487.2" r="2.7"/><circle cx="1557.6" cy="1793.5" r="2.7"/><circle cx="1589.1" cy="1578.0" r="2.7"/><circle cx="1590.7" cy="1729.8" r="2.7"/><circle cx="1519.2" cy="1710.3" r="2.7"/><circle cx="1698.6" cy="1709.1" r="2.7"/><circle cx="1619.9" cy="1579.6" r="2.7"/><circle cx="1470.8" cy="1681.6" r="2.7"/><circle cx="1552.0" cy="1858.5" r="2.7"/><circle cx="1665.2" cy="1746.3" r="2.7"/><circle cx="1635.3" cy="1756.8" r="2.7"/><circle cx="1690.0" cy="1718.8" r="2.7"/><circle cx="1595.8" cy="1497.2" r="2.7"/><circle cx="1534.8" cy="1588.8" r="2.7"/><circle cx="1626.3" cy="1860.0" r="2.7"/><circle cx="1637.6" cy="1597.7" r="2.7"/><circle cx="1639.5" cy="1626.8" r="2.7"/><circle cx="1537.6" cy="1766.1" r="2.7"/><circle cx="1455.3" cy="1719.7" r="2.7"/><circle cx="1519.0" cy="1748.4" r="2.7"/><circle cx="1612.1" cy="1607.7" r="2.7"/><circle cx="1595.8" cy="1486.3" r="2.7"/><circle cx="1668.3" cy="1813.3" r="2.7"/><circle cx="1554.4" cy="1644.0" r="2.7"/><circle cx="1499.5" cy="1709.8" r="2.7"/><circle cx="1564.8" cy="1673.3" r="2.7"/><circle cx="1594.5" cy="1971.2" r="2.7"/><circle cx="1528.7" cy="1636.3" r="2.7"/><circle cx="1497.2" cy="1719.8" r="2.7"/><circle cx="1506.5" cy="1792.4" r="2.7"/><circle cx="1612.8" cy="1794.3" r="2.7"/><circle cx="1602.0" cy="1858.9" r="2.7"/><circle cx="1546.2" cy="1822.9" r="2.7"/><circle cx="1670.8" cy="1822.0" r="2.7"/><circle cx="1572.9" cy="1784.2" r="2.7"/><circle cx="1530.5" cy="1636.6" r="2.7"/><circle cx="1546.5" cy="1802.3" r="2.7"/><circle cx="1565.1" cy="1645.6" r="2.7"/><circle cx="1556.2" cy="1645.5" r="2.7"/><circle cx="1623.5" cy="1784.2" r="2.7"/><circle cx="1662.7" cy="1635.5" r="2.7"/><circle cx="1542.3" cy="1868.3" r="2.7"/><circle cx="1575.8" cy="1636.0" r="2.7"/><circle cx="1516.3" cy="1636.3" r="2.7"/><circle cx="1593.2" cy="1487.2" r="2.7"/><circle cx="1450.1" cy="1746.3" r="2.7"/><circle cx="1608.6" cy="1683.1" r="2.7"/><circle cx="1585.7" cy="1710.1" r="2.7"/><circle cx="1561.0" cy="1859.3" r="2.7"/><circle cx="1532.3" cy="1700.9" r="2.7"/><circle cx="1568.5" cy="1718.7" r="2.7"/><circle cx="1722.1" cy="1738.0" r="2.7"/><circle cx="1678.4" cy="1636.9" r="2.7"/><circle cx="1597.1" cy="1886.7" r="2.7"/><circle cx="1679.2" cy="1691.1" r="2.7"/><circle cx="1655.3" cy="1784.5" r="2.7"/><circle cx="1548.6" cy="1830.6" r="2.7"/><circle cx="1487.5" cy="1636.9" r="2.7"/><circle cx="1709.9" cy="1756.6" r="2.7"/><circle cx="1615.8" cy="1858.9" r="2.7"/><circle cx="1683.4" cy="1784.9" r="2.7"/><circle cx="1538.6" cy="1812.5" r="2.7"/><circle cx="1523.3" cy="1850.0" r="2.7"/><circle cx="1570.3" cy="1589.2" r="2.7"/><circle cx="1569.2" cy="1858.5" r="2.7"/><circle cx="1578.0" cy="1747.5" r="2.7"/><circle cx="1507.2" cy="1746.4" r="2.7"/><circle cx="1570.6" cy="1932.5" r="2.7"/><circle cx="1478.6" cy="1747.6" r="2.7"/><circle cx="1690.4" cy="1702.1" r="2.7"/><circle cx="1626.3" cy="1746.5" r="2.7"/><circle cx="1579.0" cy="1748.1" r="2.7"/><circle cx="1665.2" cy="1821.3" r="2.7"/><circle cx="1708.8" cy="1747.3" r="2.7"/><circle cx="1559.6" cy="1551.4" r="2.7"/><circle cx="1585.9" cy="1672.7" r="2.7"/><circle cx="1601.4" cy="1524.9" r="2.7"/><circle cx="1625.6" cy="1906.2" r="2.7"/><circle cx="1489.1" cy="1728.4" r="2.7"/><circle cx="1716.7" cy="1747.7" r="2.7"/><circle cx="1495.7" cy="1785.1" r="2.7"/><circle cx="1510.9" cy="1645.6" r="2.7"/><circle cx="1606.8" cy="1672.9" r="2.7"/><circle cx="1573.0" cy="1746.8" r="2.7"/><circle cx="1587.6" cy="1896.2" r="2.7"/><circle cx="1616.3" cy="1811.4" r="2.7"/><circle cx="1556.2" cy="1683.2" r="2.7"/><circle cx="1555.1" cy="1897.0" r="2.7"/><circle cx="1605.4" cy="1822.2" r="2.7"/><circle cx="1590.9" cy="1561.2" r="2.7"/><circle cx="1524.6" cy="1672.7" r="2.7"/><circle cx="1569.5" cy="1709.6" r="2.7"/><circle cx="1556.2" cy="1868.5" r="2.7"/><circle cx="1552.5" cy="1599.0" r="2.7"/><circle cx="1705.7" cy="1709.4" r="2.7"/><circle cx="1485.1" cy="1709.9" r="2.7"/><circle cx="1540.9" cy="1598.6" r="2.7"/><circle cx="1483.5" cy="1654.1" r="2.7"/><circle cx="1548.9" cy="1849.5" r="2.7"/><circle cx="1680.9" cy="1793.2" r="2.7"/><circle cx="1605.1" cy="1580.7" r="2.7"/><circle cx="1653.0" cy="1701.0" r="2.7"/><circle cx="1476.3" cy="1747.9" r="2.7"/><circle cx="1615.4" cy="1561.8" r="2.7"/><circle cx="1550.4" cy="1608.1" r="2.7"/><circle cx="1597.6" cy="1887.1" r="2.7"/><circle cx="1579.5" cy="1821.6" r="2.7"/><circle cx="1602.2" cy="1542.7" r="2.7"/><circle cx="1559.4" cy="1681.5" r="2.7"/><circle cx="1551.9" cy="1635.2" r="2.7"/><circle cx="1625.4" cy="1859.4" r="2.7"/><circle cx="1700.4" cy="1692.6" r="2.7"/><circle cx="1642.4" cy="1598.7" r="2.7"/><circle cx="1717.1" cy="1719.7" r="2.7"/><circle cx="1569.1" cy="1830.4" r="2.7"/><circle cx="1679.0" cy="1709.4" r="2.7"/><circle cx="1620.1" cy="1822.2" r="2.7"/><circle cx="1551.5" cy="1793.6" r="2.7"/><circle cx="1554.4" cy="1561.9" r="2.7"/><circle cx="1678.2" cy="1783.9" r="2.7"/><circle cx="1596.6" cy="1746.9" r="2.7"/><circle cx="1650.3" cy="1766.2" r="2.7"/><circle cx="1598.6" cy="1757.0" r="2.7"/><circle cx="1648.8" cy="1597.2" r="2.7"/><circle cx="1607.8" cy="1896.0" r="2.7"/><circle cx="1679.1" cy="1635.1" r="2.7"/><circle cx="1633.7" cy="1683.5" r="2.7"/><circle cx="1612.5" cy="1934.1" r="2.7"/><circle cx="1649.4" cy="1617.6" r="2.7"/><circle cx="1577.4" cy="1785.4" r="2.7"/><circle cx="1480.7" cy="1673.2" r="2.7"/><circle cx="1678.6" cy="1747.8" r="2.7"/><circle cx="1621.2" cy="1570.2" r="2.7"/><circle cx="1565.0" cy="1793.7" r="2.7"/><circle cx="1680.4" cy="1792.3" r="2.7"/><circle cx="1495.1" cy="1747.7" r="2.7"/><circle cx="1579.9" cy="1616.8" r="2.7"/><circle cx="1586.3" cy="1710.3" r="2.7"/><circle cx="1689.1" cy="1709.7" r="2.7"/><circle cx="1592.6" cy="1562.1" r="2.7"/><circle cx="1564.7" cy="1821.2" r="2.7"/><circle cx="1632.1" cy="1840.7" r="2.7"/><circle cx="1704.4" cy="1747.4" r="2.7"/><circle cx="1602.6" cy="1523.6" r="2.7"/><circle cx="1512.7" cy="1618.1" r="2.7"/><circle cx="1614.1" cy="1933.5" r="2.7"/><circle cx="1591.2" cy="1747.3" r="2.7"/><circle cx="1589.3" cy="1979.9" r="2.7"/><circle cx="1630.7" cy="1830.9" r="2.7"/><circle cx="1502.7" cy="1672.0" r="2.7"/><circle cx="1492.5" cy="1729.3" r="2.7"/><circle cx="1550.9" cy="1747.0" r="2.7"/><circle cx="1539.2" cy="1785.5" r="2.7"/><circle cx="1653.1" cy="1803.3" r="2.7"/><circle cx="1603.3" cy="1505.7" r="2.7"/><circle cx="1611.6" cy="1841.2" r="2.7"/><circle cx="1573.0" cy="1542.8" r="2.7"/><circle cx="1674.4" cy="1785.1" r="2.7"/><circle cx="1661.9" cy="1681.7" r="2.7"/><circle cx="1599.0" cy="1831.6" r="2.7"/><circle cx="1608.9" cy="1682.3" r="2.7"/><circle cx="1605.7" cy="1589.3" r="2.7"/><circle cx="1577.7" cy="1626.4" r="2.7"/><circle cx="1494.8" cy="1785.4" r="2.7"/><circle cx="1614.6" cy="1803.5" r="2.7"/><circle cx="1514.0" cy="1822.5" r="2.7"/><circle cx="1722.1" cy="1709.8" r="2.7"/><circle cx="1571.9" cy="1784.0" r="2.7"/><circle cx="1611.6" cy="1626.2" r="2.7"/><circle cx="1509.5" cy="1673.6" r="2.7"/><circle cx="1670.7" cy="1672.7" r="2.7"/><circle cx="1577.1" cy="1636.1" r="2.7"/><circle cx="1455.1" cy="1747.5" r="2.7"/><circle cx="1681.2" cy="1701.0" r="2.7"/><circle cx="1580.8" cy="1896.4" r="2.7"/><circle cx="1620.0" cy="1692.3" r="2.7"/><circle cx="1618.7" cy="1664.0" r="2.7"/><circle cx="1541.9" cy="1812.9" r="2.7"/><circle cx="1577.5" cy="1942.9" r="2.7"/><circle cx="1605.7" cy="1962.0" r="2.7"/><circle cx="1483.1" cy="1738.6" r="2.7"/><circle cx="1547.8" cy="1570.4" r="2.7"/><circle cx="1548.9" cy="1746.8" r="2.7"/><circle cx="1598.5" cy="1504.4" r="2.7"/><circle cx="1610.5" cy="1933.2" r="2.7"/><circle cx="1531.2" cy="1710.0" r="2.7"/><circle cx="1629.5" cy="1783.8" r="2.7"/><circle cx="1541.5" cy="1803.3" r="2.7"/><circle cx="1604.8" cy="1951.7" r="2.7"/><circle cx="1527.3" cy="1785.0" r="2.7"/><circle cx="1537.8" cy="1598.0" r="2.7"/><circle cx="1588.3" cy="1270.7" r="2.7"/><circle cx="1589.9" cy="2013.9" r="2.7"/>
</g>
<path d="M2073.1,1506.0 L2073.2,1508.0 L2073.3,1510.0 L2073.5,1512.0 L2073.7,1514.0 L2074.0,1516.0 L2074.3,1518.0 L2074.7,1520.0 L2075.0,1522.0 L2075.4,1524.0 L2075.8,1526.0 L2076.2,1528.0 L2076.7,1530.0 L2077.3,1532.0 L2078.0,1534.0 L2078.8,1536.0 L2079.6,1538.0 L2080.4,1540.0 L2081.2,1542.0 L2082.0,1544.0 L2082.8,1546.0 L2083.5,1548.0 L2084.2,1550.0 L2084.9,1552.0 L2085.6,1554.0 L2086.2,1556.0 L2086.9,1558.0 L2087.6,1560.0 L2088.2,1562.0 L2088.8,1564.0 L2089.4,1566.0 L2089.8,1568.0 L2090.2,1570.0 L2090.6,1572.0 L2090.9,1574.0 L2091.2,1576.0 L2091.5,1578.0 L2091.7,1580.0 L2092.0,1582.0 L2092.2,1584.0 L2092.4,1586.0 L2092.5,1588.0 L2092.6,1590.0 L2092.6,1592.0 L2092.6,1594.0 L2092.6,1596.0 L2092.5,1598.0 L2092.5,1600.0 L2092.4,1602.0 L2092.3,1604.0 L2092.2,1606.0 L2092.1,1608.0 L2092.0,1610.0 L2091.9,1612.0 L2091.8,1614.0 L2091.5,1616.0 L2091.1,1618.0 L2090.6,1620.0 L2090.1,1622.0 L2089.7,1624.0 L2089.3,1626.0 L2089.0,1628.0 L2088.9,1630.0 L2088.9,1632.0 L2089.0,1634.0 L2089.1,1636.0 L2089.2,1638.0 L2089.3,1640.0 L2089.5,1642.0 L2089.7,1644.0 L2089.9,1646.0 L2090.1,1648.0 L2090.5,1650.0 L2091.0,1652.0 L2091.7,1654.0 L2092.5,1656.0 L2093.4,1658.0 L2094.3,1660.0 L2095.2,1662.0 L2096.1,1664.0 L2097.0,1666.0 L2097.9,1668.0 L2098.8,1670.0 L2099.8,1672.0 L2100.8,1674.0 L2101.8,1676.0 L2102.9,1678.0 L2103.9,1680.0 L2105.0,1682.0 L2106.1,1684.0 L2107.2,1686.0 L2108.3,1688.0 L2109.5,1690.0 L2110.6,1692.0 L2111.8,1694.0 L2113.1,1696.0 L2114.3,1698.0 L2115.6,1700.0 L2117.0,1702.0 L2118.4,1704.0 L2119.8,1706.0 L2121.3,1708.0 L2122.8,1710.0 L2124.4,1712.0 L2126.1,1714.0 L2127.8,1716.0 L2129.6,1718.0 L2131.5,1720.0 L2133.5,1722.0 L2135.6,1724.0 L2137.8,1726.0 L2140.1,1728.0 L2142.5,1730.0 L2145.0,1732.0 L2147.6,1734.0 L2150.2,1736.0 L2152.9,1738.0 L2155.7,1740.0 L2158.7,1742.0 L2161.8,1744.0 L2165.0,1746.0 L2168.3,1748.0 L2171.7,1750.0 L2175.1,1752.0 L2178.6,1754.0 L2182.3,1756.0 L2186.1,1758.0 L2190.0,1760.0 L2194.0,1762.0 L2198.0,1764.0 L2202.0,1766.0 L2206.0,1768.0 L2210.1,1770.0 L2214.3,1772.0 L2218.5,1774.0 L2222.8,1776.0 L2226.9,1778.0 L2231.0,1780.0 L2234.7,1782.0 L2238.3,1784.0 L2241.8,1786.0 L2245.1,1788.0 L2248.4,1790.0 L2251.5,1792.0 L2254.5,1794.0 L2257.2,1796.0 L2259.6,1798.0 L2262.0,1800.0 L2264.1,1802.0 L2266.2,1804.0 L2268.2,1806.0 L2270.0,1808.0 L2271.8,1810.0 L2273.4,1812.0 L2275.0,1814.0 L2276.6,1816.0 L2278.1,1818.0 L2279.5,1820.0 L2280.9,1822.0 L2282.0,1824.0 L2283.0,1826.0 L2283.8,1828.0 L2284.6,1830.0 L2285.3,1832.0 L2285.8,1834.0 L2285.9,1836.0 L2285.4,1838.0 L2284.4,1840.0 L2283.0,1842.0 L2281.3,1844.0 L2279.6,1846.0 L2277.9,1848.0 L2275.9,1850.0 L2273.5,1852.0 L2270.9,1854.0 L2268.1,1856.0 L2265.2,1858.0 L2262.3,1860.0 L2259.4,1862.0 L2256.4,1864.0 L2253.3,1866.0 L2250.0,1868.0 L2246.7,1870.0 L2243.4,1872.0 L2240.1,1874.0 L2236.8,1876.0 L2233.6,1878.0 L2230.4,1880.0 L2227.3,1882.0 L2224.1,1884.0 L2220.9,1886.0 L2217.8,1888.0 L2214.5,1890.0 L2211.3,1892.0 L2208.0,1894.0 L2204.7,1896.0 L2201.3,1898.0 L2198.0,1900.0 L2194.6,1902.0 L2191.3,1904.0 L2187.9,1906.0 L2184.5,1908.0 L2181.2,1910.0 L2177.8,1912.0 L2174.3,1914.0 L2170.9,1916.0 L2167.5,1918.0 L2164.1,1920.0 L2160.8,1922.0 L2157.6,1924.0 L2154.5,1926.0 L2151.5,1928.0 L2148.6,1930.0 L2145.7,1932.0 L2142.9,1934.0 L2140.2,1936.0 L2137.6,1938.0 L2135.0,1940.0 L2132.6,1942.0 L2130.4,1944.0 L2128.3,1946.0 L2126.2,1948.0 L2124.3,1950.0 L2122.4,1952.0 L2120.6,1954.0 L2118.8,1956.0 L2117.2,1958.0 L2115.5,1960.0 L2114.0,1962.0 L2112.5,1964.0 L2111.2,1966.0 L2109.9,1968.0 L2108.6,1970.0 L2107.4,1972.0 L2106.1,1974.0 L2104.8,1976.0 L2103.5,1978.0 L2102.0,1980.0 L2100.4,1982.0 L2098.8,1984.0 L2097.0,1986.0 L2095.3,1988.0 L2093.5,1990.0 L2091.8,1992.0 L2090.1,1994.0 L2088.5,1996.0 L2087.0,1998.0 L2085.3,2000.0 L2083.5,2002.0 L2081.8,2004.0 L2080.3,2006.0 L2079.0,2008.0 L2078.0,2010.0 L2077.5,2012.0 L2077.2,2014.0 L2076.9,2016.0 L2076.6,2018.0 L2076.4,2020.0 L2076.2,2022.0 L2076.1,2024.0 L2076.1,2026.0 L2076.1,2028.0 L2076.1,2030.0 L2076.1,2032.0 L2076.1,2034.0 L2076.1,2036.0 L2076.1,2038.0 L2076.1,2040.0 L2076.1,2042.0 L2076.1,2044.0 L2076.1,2045.8 L2062.7,2045.8 L2062.7,2044.0 L2062.7,2042.0 L2062.7,2040.0 L2062.7,2038.0 L2062.7,2036.0 L2062.7,2034.0 L2062.7,2032.0 L2062.7,2030.0 L2062.7,2028.0 L2062.7,2026.0 L2062.7,2024.0 L2062.6,2022.0 L2062.4,2020.0 L2062.2,2018.0 L2061.9,2016.0 L2061.6,2014.0 L2061.3,2012.0 L2060.8,2010.0 L2059.8,2008.0 L2058.5,2006.0 L2057.0,2004.0 L2055.3,2002.0 L2053.5,2000.0 L2051.8,1998.0 L2050.3,1996.0 L2048.7,1994.0 L2047.0,1992.0 L2045.3,1990.0 L2043.5,1988.0 L2041.8,1986.0 L2040.0,1984.0 L2038.4,1982.0 L2036.8,1980.0 L2035.3,1978.0 L2034.0,1976.0 L2032.7,1974.0 L2031.4,1972.0 L2030.2,1970.0 L2028.9,1968.0 L2027.6,1966.0 L2026.3,1964.0 L2024.8,1962.0 L2023.3,1960.0 L2021.6,1958.0 L2020.0,1956.0 L2018.2,1954.0 L2016.4,1952.0 L2014.5,1950.0 L2012.6,1948.0 L2010.5,1946.0 L2008.4,1944.0 L2006.2,1942.0 L2003.8,1940.0 L2001.2,1938.0 L1998.6,1936.0 L1995.9,1934.0 L1993.1,1932.0 L1990.2,1930.0 L1987.3,1928.0 L1984.3,1926.0 L1981.2,1924.0 L1978.0,1922.0 L1974.7,1920.0 L1971.3,1918.0 L1967.9,1916.0 L1964.5,1914.0 L1961.0,1912.0 L1957.6,1910.0 L1954.3,1908.0 L1950.9,1906.0 L1947.5,1904.0 L1944.2,1902.0 L1940.8,1900.0 L1937.5,1898.0 L1934.1,1896.0 L1930.8,1894.0 L1927.5,1892.0 L1924.3,1890.0 L1921.0,1888.0 L1917.9,1886.0 L1914.7,1884.0 L1911.5,1882.0 L1908.4,1880.0 L1905.2,1878.0 L1902.0,1876.0 L1898.7,1874.0 L1895.4,1872.0 L1892.1,1870.0 L1888.8,1868.0 L1885.5,1866.0 L1882.4,1864.0 L1879.4,1862.0 L1876.5,1860.0 L1873.6,1858.0 L1870.7,1856.0 L1867.9,1854.0 L1865.3,1852.0 L1862.9,1850.0 L1860.9,1848.0 L1859.2,1846.0 L1857.5,1844.0 L1855.8,1842.0 L1854.4,1840.0 L1853.4,1838.0 L1852.9,1836.0 L1853.0,1834.0 L1853.5,1832.0 L1854.2,1830.0 L1855.0,1828.0 L1855.8,1826.0 L1856.8,1824.0 L1857.9,1822.0 L1859.3,1820.0 L1860.7,1818.0 L1862.2,1816.0 L1863.8,1814.0 L1865.4,1812.0 L1867.0,1810.0 L1868.8,1808.0 L1870.6,1806.0 L1872.6,1804.0 L1874.7,1802.0 L1876.8,1800.0 L1879.2,1798.0 L1881.6,1796.0 L1884.3,1794.0 L1887.3,1792.0 L1890.4,1790.0 L1893.7,1788.0 L1897.0,1786.0 L1900.5,1784.0 L1904.1,1782.0 L1907.8,1780.0 L1911.9,1778.0 L1916.0,1776.0 L1920.3,1774.0 L1924.5,1772.0 L1928.7,1770.0 L1932.8,1768.0 L1936.8,1766.0 L1940.8,1764.0 L1944.8,1762.0 L1948.8,1760.0 L1952.7,1758.0 L1956.5,1756.0 L1960.2,1754.0 L1963.7,1752.0 L1967.1,1750.0 L1970.5,1748.0 L1973.8,1746.0 L1977.0,1744.0 L1980.1,1742.0 L1983.1,1740.0 L1985.9,1738.0 L1988.6,1736.0 L1991.2,1734.0 L1993.8,1732.0 L1996.3,1730.0 L1998.7,1728.0 L2001.0,1726.0 L2003.2,1724.0 L2005.3,1722.0 L2007.3,1720.0 L2009.2,1718.0 L2011.0,1716.0 L2012.7,1714.0 L2014.4,1712.0 L2016.0,1710.0 L2017.5,1708.0 L2019.0,1706.0 L2020.4,1704.0 L2021.8,1702.0 L2023.2,1700.0 L2024.5,1698.0 L2025.7,1696.0 L2027.0,1694.0 L2028.2,1692.0 L2029.3,1690.0 L2030.5,1688.0 L2031.6,1686.0 L2032.7,1684.0 L2033.8,1682.0 L2034.9,1680.0 L2035.9,1678.0 L2037.0,1676.0 L2038.0,1674.0 L2039.0,1672.0 L2040.0,1670.0 L2040.9,1668.0 L2041.8,1666.0 L2042.7,1664.0 L2043.6,1662.0 L2044.5,1660.0 L2045.4,1658.0 L2046.3,1656.0 L2047.1,1654.0 L2047.8,1652.0 L2048.3,1650.0 L2048.7,1648.0 L2048.9,1646.0 L2049.1,1644.0 L2049.3,1642.0 L2049.5,1640.0 L2049.6,1638.0 L2049.7,1636.0 L2049.8,1634.0 L2049.9,1632.0 L2049.9,1630.0 L2049.8,1628.0 L2049.5,1626.0 L2049.1,1624.0 L2048.7,1622.0 L2048.2,1620.0 L2047.7,1618.0 L2047.3,1616.0 L2047.0,1614.0 L2046.9,1612.0 L2046.8,1610.0 L2046.7,1608.0 L2046.6,1606.0 L2046.5,1604.0 L2046.4,1602.0 L2046.3,1600.0 L2046.3,1598.0 L2046.2,1596.0 L2046.2,1594.0 L2046.2,1592.0 L2046.2,1590.0 L2046.3,1588.0 L2046.4,1586.0 L2046.6,1584.0 L2046.8,1582.0 L2047.1,1580.0 L2047.3,1578.0 L2047.6,1576.0 L2047.9,1574.0 L2048.2,1572.0 L2048.6,1570.0 L2049.0,1568.0 L2049.4,1566.0 L2050.0,1564.0 L2050.6,1562.0 L2051.2,1560.0 L2051.9,1558.0 L2052.6,1556.0 L2053.2,1554.0 L2053.9,1552.0 L2054.6,1550.0 L2055.3,1548.0 L2056.0,1546.0 L2056.8,1544.0 L2057.6,1542.0 L2058.4,1540.0 L2059.2,1538.0 L2060.0,1536.0 L2060.8,1534.0 L2061.5,1532.0 L2062.1,1530.0 L2062.6,1528.0 L2063.0,1526.0 L2063.4,1524.0 L2063.8,1522.0 L2064.1,1520.0 L2064.5,1518.0 L2064.8,1516.0 L2065.1,1514.0 L2065.3,1512.0 L2065.5,1510.0 L2065.6,1508.0 L2065.7,1506.0Z" fill="#00807f" stroke="#333333" stroke-width="3.9" stroke-linejoin="round"/>
<g fill="#c0e7eb" stroke="#000" stroke-width="1.15">
<circle cx="2125.6" cy="1775.6" r="2.7"/><circle cx="2221.6" cy="1859.4" r="2.7"/><circle cx="2152.8" cy="1821.2" r="2.7"/><circle cx="2050.6" cy="1784.7" r="2.7"/><circle cx="2177.6" cy="1896.3" r="2.7"/><circle cx="1890.6" cy="1840.1" r="2.7"/><circle cx="1980.3" cy="1905.4" r="2.7"/><circle cx="2051.7" cy="1672.9" r="2.7"/><circle cx="1991.6" cy="1775.0" r="2.7"/><circle cx="1922.0" cy="1878.0" r="2.7"/><circle cx="2156.9" cy="1793.0" r="2.7"/><circle cx="1978.4" cy="1765.9" r="2.7"/><circle cx="2032.5" cy="1886.5" r="2.7"/><circle cx="2177.3" cy="1859.0" r="2.7"/><circle cx="2101.5" cy="1783.9" r="2.7"/><circle cx="2146.9" cy="1802.4" r="2.7"/><circle cx="1905.0" cy="1821.5" r="2.7"/><circle cx="2157.9" cy="1804.8" r="2.7"/><circle cx="2014.2" cy="1719.7" r="2.7"/><circle cx="2203.2" cy="1868.2" r="2.7"/><circle cx="2172.4" cy="1858.1" r="2.7"/><circle cx="1903.5" cy="1821.3" r="2.7"/><circle cx="1970.1" cy="1895.5" r="2.7"/><circle cx="1945.5" cy="1794.7" r="2.7"/><circle cx="1905.6" cy="1820.6" r="2.7"/><circle cx="2128.7" cy="1746.4" r="2.7"/><circle cx="2062.9" cy="1979.9" r="2.7"/><circle cx="1999.2" cy="1839.7" r="2.7"/><circle cx="2091.3" cy="1923.3" r="2.7"/><circle cx="2182.4" cy="1849.6" r="2.7"/><circle cx="2082.9" cy="1673.0" r="2.7"/><circle cx="2000.7" cy="1746.6" r="2.7"/><circle cx="2088.0" cy="1617.6" r="2.7"/><circle cx="1978.2" cy="1896.3" r="2.7"/><circle cx="2003.4" cy="1802.5" r="2.7"/><circle cx="1903.1" cy="1811.6" r="2.7"/><circle cx="2235.7" cy="1793.6" r="2.7"/><circle cx="2055.0" cy="1831.1" r="2.7"/><circle cx="1901.5" cy="1813.5" r="2.7"/><circle cx="2058.9" cy="1709.3" r="2.7"/><circle cx="1989.1" cy="1737.8" r="2.7"/><circle cx="1971.5" cy="1859.3" r="2.7"/><circle cx="2115.0" cy="1793.9" r="2.7"/><circle cx="2055.9" cy="1942.8" r="2.7"/><circle cx="2108.1" cy="1932.7" r="2.7"/><circle cx="2071.7" cy="1681.9" r="2.7"/><circle cx="2053.4" cy="1561.1" r="2.7"/><circle cx="2177.8" cy="1859.8" r="2.7"/><circle cx="2013.9" cy="1868.8" r="2.7"/><circle cx="2033.9" cy="1850.0" r="2.7"/><circle cx="2112.5" cy="1933.6" r="2.7"/><circle cx="2074.1" cy="1989.1" r="2.7"/><circle cx="1902.9" cy="1859.0" r="2.7"/><circle cx="2060.1" cy="1999.2" r="2.7"/><circle cx="2164.1" cy="1859.4" r="2.7"/><circle cx="2030.4" cy="1747.5" r="2.7"/><circle cx="2219.3" cy="1859.5" r="2.7"/><circle cx="2188.0" cy="1896.7" r="2.7"/><circle cx="1877.3" cy="1821.5" r="2.7"/><circle cx="2045.9" cy="1821.8" r="2.7"/><circle cx="2070.0" cy="1971.2" r="2.7"/><circle cx="2225.6" cy="1821.2" r="2.7"/><circle cx="2127.2" cy="1859.0" r="2.7"/><circle cx="1926.5" cy="1786.0" r="2.7"/><circle cx="2157.4" cy="1894.9" r="2.7"/><circle cx="2042.8" cy="1934.2" r="2.7"/><circle cx="2194.9" cy="1896.2" r="2.7"/><circle cx="2238.8" cy="1830.4" r="2.7"/><circle cx="2062.2" cy="1690.6" r="2.7"/><circle cx="2117.6" cy="1895.9" r="2.7"/><circle cx="2014.1" cy="1858.4" r="2.7"/><circle cx="2067.4" cy="1598.7" r="2.7"/><circle cx="2021.4" cy="1821.6" r="2.7"/><circle cx="2170.8" cy="1756.8" r="2.7"/><circle cx="2257.4" cy="1813.6" r="2.7"/><circle cx="2149.0" cy="1774.9" r="2.7"/><circle cx="2274.5" cy="1848.8" r="2.7"/><circle cx="1892.5" cy="1822.3" r="2.7"/><circle cx="1911.9" cy="1849.4" r="2.7"/><circle cx="2045.2" cy="1728.4" r="2.7"/><circle cx="2089.5" cy="1700.7" r="2.7"/><circle cx="2218.8" cy="1822.6" r="2.7"/><circle cx="2199.6" cy="1766.3" r="2.7"/><circle cx="1937.9" cy="1802.8" r="2.7"/><circle cx="1999.7" cy="1858.9" r="2.7"/><circle cx="2051.2" cy="1886.9" r="2.7"/><circle cx="1996.3" cy="1747.6" r="2.7"/><circle cx="1952.4" cy="1904.9" r="2.7"/><circle cx="2096.3" cy="1914.1" r="2.7"/><circle cx="2009.2" cy="1747.2" r="2.7"/><circle cx="2073.9" cy="1598.5" r="2.7"/><circle cx="2022.2" cy="1710.2" r="2.7"/><circle cx="1963.3" cy="1756.4" r="2.7"/><circle cx="2098.5" cy="1710.4" r="2.7"/><circle cx="2125.5" cy="1821.6" r="2.7"/><circle cx="2073.3" cy="1673.8" r="2.7"/><circle cx="2260.5" cy="1805.5" r="2.7"/><circle cx="2108.0" cy="1896.8" r="2.7"/><circle cx="1976.4" cy="1868.7" r="2.7"/><circle cx="2073.4" cy="1662.7" r="2.7"/><circle cx="1925.3" cy="1821.5" r="2.7"/><circle cx="2106.4" cy="1794.5" r="2.7"/><circle cx="1949.1" cy="1784.7" r="2.7"/><circle cx="2080.0" cy="1747.3" r="2.7"/><circle cx="2100.2" cy="1747.1" r="2.7"/><circle cx="2205.2" cy="1802.7" r="2.7"/><circle cx="2189.6" cy="1803.9" r="2.7"/><circle cx="2046.8" cy="1747.1" r="2.7"/><circle cx="2100.0" cy="1868.7" r="2.7"/><circle cx="2108.1" cy="1830.7" r="2.7"/><circle cx="2004.2" cy="1748.4" r="2.7"/><circle cx="2036.2" cy="1859.7" r="2.7"/><circle cx="2051.1" cy="1970.4" r="2.7"/><circle cx="2228.8" cy="1783.8" r="2.7"/><circle cx="2062.5" cy="1801.8" r="2.7"/><circle cx="2042.3" cy="1895.2" r="2.7"/><circle cx="1947.5" cy="1822.0" r="2.7"/><circle cx="2253.7" cy="1822.5" r="2.7"/><circle cx="2094.4" cy="1755.6" r="2.7"/><circle cx="1961.4" cy="1859.1" r="2.7"/><circle cx="2172.6" cy="1896.4" r="2.7"/><circle cx="2124.3" cy="1793.5" r="2.7"/><circle cx="2160.3" cy="1887.6" r="2.7"/><circle cx="2003.1" cy="1914.8" r="2.7"/><circle cx="2078.1" cy="1738.7" r="2.7"/><circle cx="1937.3" cy="1821.8" r="2.7"/><circle cx="2025.9" cy="1821.6" r="2.7"/><circle cx="2129.1" cy="1895.2" r="2.7"/><circle cx="2091.8" cy="1822.7" r="2.7"/><circle cx="2088.0" cy="1971.7" r="2.7"/><circle cx="2003.2" cy="1858.8" r="2.7"/><circle cx="2226.4" cy="1859.4" r="2.7"/><circle cx="1902.3" cy="1812.5" r="2.7"/><circle cx="2068.2" cy="1748.1" r="2.7"/><circle cx="2004.1" cy="1896.3" r="2.7"/><circle cx="2007.7" cy="1821.9" r="2.7"/><circle cx="1963.0" cy="1850.4" r="2.7"/><circle cx="1963.1" cy="1896.1" r="2.7"/><circle cx="1956.2" cy="1831.4" r="2.7"/><circle cx="2151.4" cy="1896.0" r="2.7"/><circle cx="2054.3" cy="1654.0" r="2.7"/><circle cx="2074.2" cy="1997.6" r="2.7"/><circle cx="1946.7" cy="1821.2" r="2.7"/><circle cx="1995.3" cy="1859.6" r="2.7"/><circle cx="2104.4" cy="1821.7" r="2.7"/><circle cx="2002.6" cy="1886.2" r="2.7"/><circle cx="2012.6" cy="1850.1" r="2.7"/><circle cx="1987.6" cy="1821.6" r="2.7"/><circle cx="1888.2" cy="1831.5" r="2.7"/><circle cx="2070.7" cy="1869.6" r="2.7"/><circle cx="2083.0" cy="1673.5" r="2.7"/><circle cx="2122.6" cy="1747.7" r="2.7"/><circle cx="2035.6" cy="1868.4" r="2.7"/><circle cx="2021.9" cy="1924.9" r="2.7"/><circle cx="2189.6" cy="1784.1" r="2.7"/><circle cx="2102.0" cy="1831.4" r="2.7"/><circle cx="2234.9" cy="1821.4" r="2.7"/><circle cx="1954.8" cy="1858.8" r="2.7"/><circle cx="1941.2" cy="1886.7" r="2.7"/><circle cx="1960.5" cy="1793.4" r="2.7"/><circle cx="2040.2" cy="1980.3" r="2.7"/><circle cx="2056.7" cy="1932.4" r="2.7"/><circle cx="2052.1" cy="1691.6" r="2.7"/><circle cx="2051.8" cy="1961.4" r="2.7"/><circle cx="2016.4" cy="1924.6" r="2.7"/><circle cx="2106.6" cy="1914.6" r="2.7"/><circle cx="1999.3" cy="1775.8" r="2.7"/><circle cx="2185.8" cy="1868.3" r="2.7"/><circle cx="2004.3" cy="1858.5" r="2.7"/><circle cx="2135.0" cy="1784.5" r="2.7"/><circle cx="1935.1" cy="1822.7" r="2.7"/><circle cx="2094.3" cy="1673.6" r="2.7"/><circle cx="1927.9" cy="1858.3" r="2.7"/><circle cx="2074.3" cy="1672.5" r="2.7"/><circle cx="2071.0" cy="1737.9" r="2.7"/><circle cx="2081.9" cy="1859.1" r="2.7"/><circle cx="1905.0" cy="1858.7" r="2.7"/><circle cx="2063.9" cy="1654.3" r="2.7"/><circle cx="2110.1" cy="1896.5" r="2.7"/><circle cx="2205.1" cy="1821.9" r="2.7"/><circle cx="2052.3" cy="1747.9" r="2.7"/><circle cx="2084.4" cy="1961.0" r="2.7"/><circle cx="2211.3" cy="1831.3" r="2.7"/><circle cx="2128.1" cy="1746.8" r="2.7"/><circle cx="2236.5" cy="1794.0" r="2.7"/><circle cx="2069.1" cy="1522.2" r="2.7"/><circle cx="1882.0" cy="1802.8" r="2.7"/><circle cx="2029.0" cy="1923.8" r="2.7"/><circle cx="1982.0" cy="1896.1" r="2.7"/><circle cx="2049.7" cy="1820.8" r="2.7"/><circle cx="2048.3" cy="1980.1" r="2.7"/><circle cx="1945.3" cy="1783.9" r="2.7"/><circle cx="2153.5" cy="1849.4" r="2.7"/><circle cx="2074.7" cy="1747.3" r="2.7"/><circle cx="2106.9" cy="1933.6" r="2.7"/><circle cx="1968.9" cy="1858.5" r="2.7"/><circle cx="1982.9" cy="1794.0" r="2.7"/><circle cx="1955.6" cy="1821.4" r="2.7"/><circle cx="1994.6" cy="1804.4" r="2.7"/><circle cx="2012.0" cy="1757.2" r="2.7"/><circle cx="2030.9" cy="1784.7" r="2.7"/><circle cx="2037.7" cy="1755.8" r="2.7"/><circle cx="2041.8" cy="1952.1" r="2.7"/><circle cx="2192.9" cy="1895.6" r="2.7"/><circle cx="2186.4" cy="1859.0" r="2.7"/><circle cx="2177.3" cy="1859.0" r="2.7"/><circle cx="1994.7" cy="1765.9" r="2.7"/><circle cx="2066.9" cy="1775.9" r="2.7"/><circle cx="2042.9" cy="1822.3" r="2.7"/><circle cx="1978.4" cy="1784.6" r="2.7"/><circle cx="2028.4" cy="1850.2" r="2.7"/><circle cx="2126.7" cy="1859.0" r="2.7"/><circle cx="2196.3" cy="1784.3" r="2.7"/><circle cx="2081.4" cy="1643.8" r="2.7"/><circle cx="1929.9" cy="1840.4" r="2.7"/><circle cx="2071.5" cy="1710.9" r="2.7"/><circle cx="2112.1" cy="1802.4" r="2.7"/><circle cx="2090.0" cy="1598.5" r="2.7"/><circle cx="2086.7" cy="1730.3" r="2.7"/><circle cx="1981.0" cy="1877.8" r="2.7"/><circle cx="2248.2" cy="1830.9" r="2.7"/><circle cx="2103.8" cy="1822.7" r="2.7"/><circle cx="2064.7" cy="1887.0" r="2.7"/><circle cx="2158.4" cy="1747.7" r="2.7"/><circle cx="2164.6" cy="1896.7" r="2.7"/><circle cx="2094.0" cy="1895.9" r="2.7"/><circle cx="2077.5" cy="1748.3" r="2.7"/><circle cx="2104.7" cy="1867.5" r="2.7"/><circle cx="2147.3" cy="1830.9" r="2.7"/><circle cx="2074.0" cy="1933.7" r="2.7"/><circle cx="2140.7" cy="1812.1" r="2.7"/><circle cx="2038.1" cy="1859.1" r="2.7"/><circle cx="2007.6" cy="1747.8" r="2.7"/><circle cx="2096.8" cy="1839.8" r="2.7"/><circle cx="2146.6" cy="1756.0" r="2.7"/><circle cx="2078.9" cy="1711.4" r="2.7"/><circle cx="2093.7" cy="1803.4" r="2.7"/><circle cx="2024.0" cy="1774.3" r="2.7"/><circle cx="2010.3" cy="1728.4" r="2.7"/><circle cx="2102.9" cy="1747.1" r="2.7"/><circle cx="1999.8" cy="1839.9" r="2.7"/><circle cx="2079.5" cy="1850.2" r="2.7"/><circle cx="2153.5" cy="1857.5" r="2.7"/><circle cx="2032.3" cy="1822.3" r="2.7"/><circle cx="2147.0" cy="1784.9" r="2.7"/><circle cx="1950.0" cy="1785.3" r="2.7"/><circle cx="2148.8" cy="1830.8" r="2.7"/><circle cx="2045.9" cy="1709.9" r="2.7"/><circle cx="2113.7" cy="1709.8" r="2.7"/><circle cx="1934.7" cy="1822.0" r="2.7"/><circle cx="1909.9" cy="1812.2" r="2.7"/><circle cx="2093.0" cy="1971.5" r="2.7"/><circle cx="2074.3" cy="1636.2" r="2.7"/><circle cx="2048.0" cy="1933.6" r="2.7"/><circle cx="2090.3" cy="1830.4" r="2.7"/><circle cx="1983.4" cy="1756.2" r="2.7"/><circle cx="2025.3" cy="1923.3" r="2.7"/><circle cx="1875.7" cy="1822.1" r="2.7"/><circle cx="2099.6" cy="1840.2" r="2.7"/><circle cx="2022.4" cy="1895.8" r="2.7"/><circle cx="2077.0" cy="1979.3" r="2.7"/><circle cx="2045.7" cy="1681.1" r="2.7"/><circle cx="2036.3" cy="1866.7" r="2.7"/><circle cx="2162.6" cy="1896.4" r="2.7"/><circle cx="2181.3" cy="1858.5" r="2.7"/><circle cx="1959.6" cy="1896.7" r="2.7"/><circle cx="2090.5" cy="1719.7" r="2.7"/><circle cx="2217.4" cy="1830.2" r="2.7"/><circle cx="2205.0" cy="1773.7" r="2.7"/><circle cx="2025.6" cy="1738.5" r="2.7"/><circle cx="1919.3" cy="1849.4" r="2.7"/><circle cx="2086.5" cy="1757.2" r="2.7"/><circle cx="2102.4" cy="1747.1" r="2.7"/><circle cx="1905.2" cy="1794.2" r="2.7"/><circle cx="2084.2" cy="1561.5" r="2.7"/><circle cx="1941.5" cy="1886.9" r="2.7"/><circle cx="2103.4" cy="1719.7" r="2.7"/><circle cx="1916.4" cy="1804.9" r="2.7"/><circle cx="2223.6" cy="1876.9" r="2.7"/><circle cx="1934.7" cy="1886.6" r="2.7"/><circle cx="1994.8" cy="1766.9" r="2.7"/><circle cx="2187.4" cy="1822.3" r="2.7"/><circle cx="1881.7" cy="1858.8" r="2.7"/><circle cx="2071.2" cy="1700.6" r="2.7"/><circle cx="1903.6" cy="1858.1" r="2.7"/><circle cx="2092.4" cy="1700.7" r="2.7"/><circle cx="2079.4" cy="1933.8" r="2.7"/><circle cx="2095.5" cy="1970.3" r="2.7"/><circle cx="1972.4" cy="1905.4" r="2.7"/><circle cx="2050.8" cy="1886.4" r="2.7"/><circle cx="2074.8" cy="1711.5" r="2.7"/><circle cx="2103.4" cy="1933.7" r="2.7"/><circle cx="2024.3" cy="1952.1" r="2.7"/><circle cx="2067.1" cy="1765.2" r="2.7"/><circle cx="2179.0" cy="1896.3" r="2.7"/><circle cx="1939.0" cy="1793.0" r="2.7"/><circle cx="1967.9" cy="1775.2" r="2.7"/><circle cx="2079.9" cy="1746.6" r="2.7"/><circle cx="2050.9" cy="1859.1" r="2.7"/><circle cx="2028.6" cy="1701.6" r="2.7"/><circle cx="2041.7" cy="1850.8" r="2.7"/><circle cx="2124.5" cy="1868.7" r="2.7"/><circle cx="2219.3" cy="1860.3" r="2.7"/><circle cx="2007.6" cy="1738.0" r="2.7"/><circle cx="1996.2" cy="1748.7" r="2.7"/><circle cx="1984.5" cy="1876.8" r="2.7"/><circle cx="2099.5" cy="1831.9" r="2.7"/><circle cx="2171.1" cy="1812.5" r="2.7"/><circle cx="2048.2" cy="1961.1" r="2.7"/><circle cx="1908.6" cy="1830.1" r="2.7"/><circle cx="2020.2" cy="1859.6" r="2.7"/><circle cx="2059.0" cy="1702.0" r="2.7"/><circle cx="2011.6" cy="1895.6" r="2.7"/><circle cx="2065.9" cy="1588.9" r="2.7"/><circle cx="1945.7" cy="1896.3" r="2.7"/><circle cx="2058.8" cy="1746.9" r="2.7"/><circle cx="2066.4" cy="1636.1" r="2.7"/><circle cx="2056.9" cy="1886.1" r="2.7"/><circle cx="2034.3" cy="1896.8" r="2.7"/><circle cx="2170.5" cy="1775.2" r="2.7"/><circle cx="2026.2" cy="1896.0" r="2.7"/><circle cx="2070.6" cy="1664.3" r="2.7"/><circle cx="1921.3" cy="1784.2" r="2.7"/><circle cx="2056.1" cy="1617.9" r="2.7"/><circle cx="2117.2" cy="1773.9" r="2.7"/><circle cx="2174.2" cy="1849.4" r="2.7"/><circle cx="2110.7" cy="1748.5" r="2.7"/><circle cx="2153.1" cy="1756.2" r="2.7"/><circle cx="2024.9" cy="1878.2" r="2.7"/><circle cx="2148.1" cy="1747.8" r="2.7"/><circle cx="2051.6" cy="1598.8" r="2.7"/><circle cx="2003.4" cy="1785.3" r="2.7"/><circle cx="2219.6" cy="1784.2" r="2.7"/><circle cx="2141.9" cy="1859.8" r="2.7"/><circle cx="1962.4" cy="1868.4" r="2.7"/><circle cx="1919.3" cy="1793.3" r="2.7"/><circle cx="2139.6" cy="1784.1" r="2.7"/><circle cx="2172.4" cy="1895.9" r="2.7"/><circle cx="2066.8" cy="1579.8" r="2.7"/><circle cx="2222.1" cy="1877.3" r="2.7"/><circle cx="2076.0" cy="1932.8" r="2.7"/><circle cx="1965.3" cy="1831.4" r="2.7"/><circle cx="2075.5" cy="1720.1" r="2.7"/><circle cx="2154.8" cy="1821.4" r="2.7"/><circle cx="2097.2" cy="1895.7" r="2.7"/><circle cx="2060.4" cy="1711.3" r="2.7"/><circle cx="1952.9" cy="1895.1" r="2.7"/><circle cx="1958.8" cy="1783.6" r="2.7"/><circle cx="2050.2" cy="1905.7" r="2.7"/><circle cx="2061.4" cy="1728.6" r="2.7"/><circle cx="2144.2" cy="1886.6" r="2.7"/><circle cx="2053.4" cy="1822.0" r="2.7"/><circle cx="2097.8" cy="1737.6" r="2.7"/><circle cx="2147.1" cy="1747.1" r="2.7"/><circle cx="2006.8" cy="1859.3" r="2.7"/><circle cx="2195.3" cy="1886.6" r="2.7"/><circle cx="1977.4" cy="1747.3" r="2.7"/><circle cx="2144.7" cy="1765.2" r="2.7"/><circle cx="2053.6" cy="1701.0" r="2.7"/><circle cx="2086.8" cy="1943.2" r="2.7"/><circle cx="2181.9" cy="1802.9" r="2.7"/><circle cx="2200.3" cy="1858.4" r="2.7"/><circle cx="2115.2" cy="1710.3" r="2.7"/><circle cx="2124.0" cy="1850.3" r="2.7"/><circle cx="2106.8" cy="1721.1" r="2.7"/><circle cx="2059.1" cy="1663.8" r="2.7"/><circle cx="2010.9" cy="1812.6" r="2.7"/><circle cx="1906.6" cy="1859.3" r="2.7"/><circle cx="1932.4" cy="1858.8" r="2.7"/><circle cx="2044.4" cy="1971.2" r="2.7"/><circle cx="2159.3" cy="1823.0" r="2.7"/><circle cx="2017.2" cy="1784.3" r="2.7"/><circle cx="2000.6" cy="1850.9" r="2.7"/><circle cx="2255.3" cy="1850.0" r="2.7"/><circle cx="2060.7" cy="1785.0" r="2.7"/><circle cx="2120.4" cy="1738.0" r="2.7"/><circle cx="2256.2" cy="1821.7" r="2.7"/><circle cx="2075.5" cy="1775.6" r="2.7"/><circle cx="1936.9" cy="1794.3" r="2.7"/><circle cx="2110.1" cy="1784.7" r="2.7"/><circle cx="2068.4" cy="2044.6" r="2.7"/><circle cx="2119.2" cy="1933.6" r="2.7"/><circle cx="2036.5" cy="1923.5" r="2.7"/><circle cx="2063.1" cy="1979.2" r="2.7"/><circle cx="2025.6" cy="1941.8" r="2.7"/><circle cx="2097.7" cy="1820.7" r="2.7"/><circle cx="2156.5" cy="1785.0" r="2.7"/><circle cx="2088.6" cy="1803.1" r="2.7"/><circle cx="2073.9" cy="1784.9" r="2.7"/><circle cx="2034.2" cy="1887.2" r="2.7"/><circle cx="2104.6" cy="1786.1" r="2.7"/><circle cx="2085.3" cy="1904.9" r="2.7"/><circle cx="2194.3" cy="1785.1" r="2.7"/><circle cx="1995.1" cy="1766.6" r="2.7"/><circle cx="1949.3" cy="1896.9" r="2.7"/><circle cx="2141.5" cy="1924.1" r="2.7"/><circle cx="1974.2" cy="1784.8" r="2.7"/><circle cx="2060.6" cy="1925.2" r="2.7"/><circle cx="1891.3" cy="1813.7" r="2.7"/><circle cx="2062.8" cy="1950.6" r="2.7"/><circle cx="1963.5" cy="1896.4" r="2.7"/><circle cx="1930.5" cy="1803.1" r="2.7"/><circle cx="1933.6" cy="1775.8" r="2.7"/><circle cx="2095.6" cy="1896.3" r="2.7"/><circle cx="2235.3" cy="1821.6" r="2.7"/><circle cx="1997.0" cy="1858.6" r="2.7"/><circle cx="1998.8" cy="1932.0" r="2.7"/><circle cx="2196.2" cy="1776.1" r="2.7"/><circle cx="2100.8" cy="1737.1" r="2.7"/><circle cx="2073.5" cy="1710.7" r="2.7"/><circle cx="2169.5" cy="1802.5" r="2.7"/><circle cx="1906.8" cy="1803.2" r="2.7"/><circle cx="1984.2" cy="1766.4" r="2.7"/><circle cx="2079.8" cy="1859.2" r="2.7"/><circle cx="2116.6" cy="1849.0" r="2.7"/><circle cx="2190.5" cy="1859.6" r="2.7"/><circle cx="2149.9" cy="1747.2" r="2.7"/><circle cx="2005.8" cy="1747.2" r="2.7"/><circle cx="2085.4" cy="1599.1" r="2.7"/><circle cx="2066.6" cy="1830.6" r="2.7"/><circle cx="2174.7" cy="1765.2" r="2.7"/><circle cx="1866.1" cy="1822.5" r="2.7"/><circle cx="2142.3" cy="1738.7" r="2.7"/><circle cx="2159.8" cy="1858.7" r="2.7"/><circle cx="2244.1" cy="1857.6" r="2.7"/><circle cx="2095.0" cy="1756.2" r="2.7"/><circle cx="2086.2" cy="1719.3" r="2.7"/><circle cx="1989.4" cy="1783.2" r="2.7"/><circle cx="2075.6" cy="1952.7" r="2.7"/><circle cx="2073.0" cy="1598.0" r="2.7"/><circle cx="2133.2" cy="1896.3" r="2.7"/><circle cx="1944.4" cy="1821.6" r="2.7"/><circle cx="2157.6" cy="1745.8" r="2.7"/><circle cx="1996.6" cy="1830.4" r="2.7"/><circle cx="2059.8" cy="1933.1" r="2.7"/><circle cx="2114.0" cy="1877.3" r="2.7"/><circle cx="2108.4" cy="1895.8" r="2.7"/><circle cx="2081.0" cy="1904.5" r="2.7"/><circle cx="1928.2" cy="1812.6" r="2.7"/><circle cx="2029.0" cy="1895.7" r="2.7"/><circle cx="2042.0" cy="1894.8" r="2.7"/><circle cx="2066.2" cy="1999.9" r="2.7"/><circle cx="1893.0" cy="1822.0" r="2.7"/><circle cx="2073.8" cy="1886.5" r="2.7"/><circle cx="2158.3" cy="1766.1" r="2.7"/><circle cx="2189.2" cy="1859.1" r="2.7"/><circle cx="2180.1" cy="1859.1" r="2.7"/><circle cx="2232.4" cy="1784.1" r="2.7"/><circle cx="2108.1" cy="1756.9" r="2.7"/><circle cx="2098.2" cy="1831.1" r="2.7"/><circle cx="2197.2" cy="1848.8" r="2.7"/><circle cx="2087.5" cy="1663.9" r="2.7"/><circle cx="2070.2" cy="1933.0" r="2.7"/><circle cx="2113.0" cy="1840.0" r="2.7"/><circle cx="2164.6" cy="1821.2" r="2.7"/><circle cx="2115.4" cy="1708.9" r="2.7"/><circle cx="2189.0" cy="1896.3" r="2.7"/><circle cx="1898.8" cy="1822.5" r="2.7"/><circle cx="2150.9" cy="1906.1" r="2.7"/><circle cx="2035.5" cy="1886.6" r="2.7"/><circle cx="2061.7" cy="1599.1" r="2.7"/><circle cx="2042.0" cy="1971.1" r="2.7"/><circle cx="1890.7" cy="1821.4" r="2.7"/><circle cx="2162.4" cy="1886.7" r="2.7"/><circle cx="2054.7" cy="1625.8" r="2.7"/><circle cx="2010.1" cy="1858.2" r="2.7"/><circle cx="1984.3" cy="1840.8" r="2.7"/><circle cx="2012.7" cy="1720.2" r="2.7"/><circle cx="2124.0" cy="1868.5" r="2.7"/><circle cx="1965.8" cy="1859.3" r="2.7"/><circle cx="2033.4" cy="1859.5" r="2.7"/><circle cx="1989.4" cy="1832.0" r="2.7"/><circle cx="1919.9" cy="1821.5" r="2.7"/><circle cx="2067.5" cy="1933.4" r="2.7"/><circle cx="2082.4" cy="1785.9" r="2.7"/><circle cx="2135.5" cy="1896.0" r="2.7"/><circle cx="2191.4" cy="1850.8" r="2.7"/><circle cx="2048.7" cy="1953.3" r="2.7"/><circle cx="2027.4" cy="1849.0" r="2.7"/><circle cx="2245.5" cy="1859.0" r="2.7"/><circle cx="1999.1" cy="1933.1" r="2.7"/><circle cx="2017.8" cy="1934.5" r="2.7"/><circle cx="2136.2" cy="1729.1" r="2.7"/><circle cx="1990.3" cy="1869.6" r="2.7"/><circle cx="1992.8" cy="1803.1" r="2.7"/><circle cx="2045.4" cy="1746.8" r="2.7"/><circle cx="2223.1" cy="1840.0" r="2.7"/><circle cx="2079.5" cy="1635.6" r="2.7"/><circle cx="2034.1" cy="1802.9" r="2.7"/><circle cx="2025.2" cy="1868.4" r="2.7"/><circle cx="2125.3" cy="1859.4" r="2.7"/><circle cx="2159.2" cy="1785.0" r="2.7"/><circle cx="2078.1" cy="1682.8" r="2.7"/><circle cx="2106.1" cy="1942.6" r="2.7"/><circle cx="2172.4" cy="1868.0" r="2.7"/><circle cx="2059.8" cy="1895.9" r="2.7"/><circle cx="1898.7" cy="1868.3" r="2.7"/><circle cx="1965.7" cy="1850.7" r="2.7"/><circle cx="1889.1" cy="1851.1" r="2.7"/><circle cx="1881.5" cy="1860.2" r="2.7"/><circle cx="2066.8" cy="1894.9" r="2.7"/><circle cx="2146.4" cy="1746.5" r="2.7"/><circle cx="2104.9" cy="1746.9" r="2.7"/><circle cx="2099.8" cy="1933.3" r="2.7"/><circle cx="2025.4" cy="1877.9" r="2.7"/><circle cx="2137.7" cy="1747.4" r="2.7"/><circle cx="1926.0" cy="1793.1" r="2.7"/><circle cx="2226.3" cy="1803.5" r="2.7"/><circle cx="2064.1" cy="1552.1" r="2.7"/><circle cx="2011.4" cy="1822.1" r="2.7"/><circle cx="1952.0" cy="1821.8" r="2.7"/><circle cx="2270.8" cy="1812.2" r="2.7"/><circle cx="2000.1" cy="1737.6" r="2.7"/><circle cx="2070.6" cy="1506.6" r="2.7"/><circle cx="2067.0" cy="2045.1" r="2.7"/>
</g>
<path d="M505.0,2318.9 L505.0,2320.9 L505.0,2322.9 L505.0,2324.9 L505.0,2326.9 L505.0,2328.9 L505.0,2330.9 L505.0,2332.9 L505.0,2334.9 L505.0,2336.9 L505.0,2338.9 L505.0,2340.9 L505.0,2342.9 L505.0,2344.9 L505.0,2346.9 L505.0,2348.9 L505.0,2350.9 L505.0,2352.9 L505.0,2354.9 L505.0,2356.9 L505.0,2358.9 L505.0,2360.9 L505.0,2362.9 L505.0,2364.9 L505.0,2366.9 L505.0,2368.9 L505.0,2370.9 L505.0,2372.9 L505.0,2374.9 L505.0,2376.9 L505.0,2378.9 L505.0,2380.9 L505.0,2382.9 L505.0,2384.9 L505.0,2386.9 L505.0,2388.9 L505.1,2390.9 L505.1,2392.9 L505.1,2394.9 L505.1,2396.9 L505.1,2398.9 L505.1,2400.9 L505.1,2402.9 L505.1,2404.9 L505.1,2406.9 L505.1,2408.9 L505.2,2410.9 L505.2,2412.9 L505.2,2414.9 L505.2,2416.9 L505.2,2418.9 L505.2,2420.9 L505.3,2422.9 L505.3,2424.9 L505.3,2426.9 L505.3,2428.9 L505.3,2430.9 L505.3,2432.9 L505.4,2434.9 L505.4,2436.9 L505.4,2438.9 L505.4,2440.9 L505.5,2442.9 L505.5,2444.9 L505.6,2446.9 L505.6,2448.9 L505.7,2450.9 L505.8,2452.9 L505.9,2454.9 L506.0,2456.9 L506.1,2458.9 L506.2,2460.9 L506.3,2462.9 L506.5,2464.9 L506.6,2466.9 L506.8,2468.9 L506.9,2470.9 L507.1,2472.9 L507.3,2474.9 L507.4,2476.9 L507.7,2478.9 L508.0,2480.9 L508.4,2482.9 L508.8,2484.9 L509.2,2486.9 L509.7,2488.9 L510.3,2490.9 L510.8,2492.9 L511.4,2494.9 L512.1,2496.9 L512.8,2498.9 L513.6,2500.9 L514.5,2502.9 L515.5,2504.9 L516.6,2506.9 L517.9,2508.9 L519.2,2510.9 L520.6,2512.9 L522.0,2514.9 L523.5,2516.9 L525.1,2518.9 L526.7,2520.9 L528.5,2522.9 L530.4,2524.9 L532.5,2526.9 L534.7,2528.9 L537.0,2530.9 L539.4,2532.9 L542.0,2534.9 L544.6,2536.9 L547.3,2538.9 L550.1,2540.9 L553.0,2542.9 L556.1,2544.9 L559.5,2546.9 L563.1,2548.9 L566.9,2550.9 L570.8,2552.9 L574.7,2554.9 L578.7,2556.9 L582.6,2558.9 L586.4,2560.9 L590.1,2562.9 L593.5,2564.9 L597.0,2566.9 L600.6,2568.9 L604.2,2570.9 L607.8,2572.9 L611.2,2574.9 L614.4,2576.9 L617.3,2578.9 L620.0,2580.9 L622.2,2582.9 L624.2,2584.9 L626.1,2586.9 L627.9,2588.9 L629.5,2590.9 L631.0,2592.9 L632.1,2594.9 L633.0,2596.9 L633.7,2598.9 L634.2,2600.9 L634.8,2602.9 L635.2,2604.9 L635.6,2606.9 L635.9,2608.9 L636.1,2610.9 L636.1,2612.9 L635.8,2614.9 L635.2,2616.9 L634.3,2618.9 L633.3,2620.9 L632.1,2622.9 L631.0,2624.9 L629.8,2626.9 L628.7,2628.9 L627.4,2630.9 L626.0,2632.9 L624.5,2634.9 L623.0,2636.9 L621.4,2638.9 L619.9,2640.9 L618.5,2642.9 L617.2,2644.9 L616.0,2646.9 L614.9,2648.9 L613.7,2650.9 L612.6,2652.9 L611.5,2654.9 L610.5,2656.9 L609.6,2658.9 L608.7,2660.9 L607.9,2662.9 L607.2,2664.9 L606.6,2666.9 L605.9,2668.9 L605.2,2670.9 L604.6,2672.9 L604.1,2674.9 L603.6,2676.9 L603.2,2678.9 L603.0,2680.9 L602.9,2682.9 L602.9,2684.9 L602.9,2686.9 L603.0,2688.9 L603.0,2690.9 L603.1,2692.9 L603.2,2694.9 L603.3,2696.9 L603.4,2698.9 L603.6,2700.9 L603.8,2702.9 L604.2,2704.9 L604.8,2706.9 L605.5,2708.9 L606.4,2710.9 L607.4,2712.9 L608.4,2714.9 L609.4,2716.9 L610.5,2718.9 L611.4,2720.9 L612.5,2722.9 L613.6,2724.9 L614.8,2726.9 L616.0,2728.9 L617.3,2730.9 L618.5,2732.9 L619.8,2734.9 L621.2,2736.9 L622.5,2738.9 L623.8,2740.9 L625.1,2742.9 L626.5,2744.9 L627.9,2746.9 L629.4,2748.9 L630.8,2750.9 L632.2,2752.9 L633.7,2754.9 L635.1,2756.9 L636.5,2758.9 L637.9,2760.9 L639.2,2762.9 L640.6,2764.9 L642.0,2766.9 L643.4,2768.9 L644.8,2770.9 L646.2,2772.9 L647.6,2774.9 L649.0,2776.9 L650.4,2778.9 L651.8,2780.9 L653.2,2782.9 L654.6,2784.9 L656.0,2786.9 L657.4,2788.9 L658.8,2790.9 L660.2,2792.9 L661.6,2794.9 L663.0,2796.9 L664.5,2798.9 L666.0,2800.9 L667.4,2802.9 L668.9,2804.9 L670.3,2806.9 L671.7,2808.9 L673.0,2810.9 L674.2,2812.9 L675.4,2814.9 L676.7,2816.9 L677.9,2818.9 L679.1,2820.9 L680.1,2822.9 L681.0,2824.9 L681.7,2826.9 L682.3,2828.9 L682.8,2830.9 L683.2,2832.9 L683.6,2834.9 L683.8,2836.9 L683.9,2838.9 L683.6,2840.9 L682.8,2842.9 L681.6,2844.9 L680.2,2846.9 L678.5,2848.9 L676.6,2850.9 L674.7,2852.9 L672.5,2854.9 L669.4,2856.9 L665.7,2858.9 L661.5,2860.9 L656.9,2862.9 L652.2,2864.9 L647.5,2866.9 L643.1,2868.9 L638.5,2870.9 L633.7,2872.9 L628.8,2874.9 L623.8,2876.9 L618.7,2878.9 L613.8,2880.9 L608.9,2882.9 L604.2,2884.9 L599.7,2886.9 L595.3,2888.9 L591.0,2890.9 L586.7,2892.9 L582.5,2894.9 L578.4,2896.9 L574.4,2898.9 L570.6,2900.9 L567.0,2902.9 L563.7,2904.9 L560.6,2906.9 L557.6,2908.9 L554.6,2910.9 L551.9,2912.9 L549.2,2914.9 L546.6,2916.9 L544.2,2918.9 L542.0,2920.9 L539.8,2922.9 L537.8,2924.9 L535.8,2926.9 L533.9,2928.9 L532.0,2930.9 L530.2,2932.9 L528.6,2934.9 L527.1,2936.9 L525.7,2938.9 L524.6,2940.9 L523.7,2942.9 L522.9,2944.9 L522.1,2946.9 L521.4,2948.9 L520.7,2950.9 L520.1,2952.9 L519.5,2954.9 L519.0,2956.9 L518.6,2958.9 L518.2,2960.9 L517.8,2962.9 L517.6,2964.9 L517.3,2966.9 L517.1,2968.9 L516.9,2970.9 L516.7,2972.9 L516.5,2974.9 L516.4,2976.9 L516.2,2978.9 L516.1,2980.9 L515.9,2982.9 L515.8,2984.9 L515.7,2986.9 L515.6,2988.9 L515.5,2990.9 L515.4,2992.9 L515.4,2994.9 L515.3,2996.9 L515.3,2998.9 L515.2,3000.9 L515.1,3002.9 L515.1,3004.9 L515.0,3006.9 L515.0,3008.9 L514.9,3010.9 L514.9,3012.9 L514.9,3014.9 L514.8,3016.9 L514.8,3018.9 L514.8,3020.9 L514.7,3022.9 L514.7,3024.9 L514.7,3026.9 L514.7,3028.9 L514.7,3030.9 L514.7,3032.9 L514.7,3034.9 L514.8,3036.9 L514.8,3038.9 L514.9,3040.9 L514.9,3042.9 L515.0,3044.9 L515.1,3046.9 L515.2,3048.9 L515.3,3050.9 L515.5,3052.9 L515.6,3054.9 L515.7,3056.9 L515.8,3058.9 L516.0,3060.9 L516.1,3062.9 L516.3,3064.9 L516.4,3066.9 L516.5,3068.9 L516.7,3070.9 L516.9,3072.9 L517.1,3074.9 L517.3,3076.9 L517.5,3078.9 L517.8,3080.9 L518.0,3082.9 L518.2,3084.9 L518.5,3086.9 L518.7,3088.9 L519.0,3090.9 L519.2,3092.9 L519.4,3094.9 L519.6,3096.9 L519.8,3098.9 L519.9,3100.9 L520.1,3102.9 L520.3,3104.9 L520.5,3106.9 L520.6,3108.9 L520.8,3110.9 L520.9,3112.9 L521.0,3114.9 L521.1,3116.9 L521.2,3118.9 L521.2,3120.9 L521.2,3122.9 L521.3,3124.9 L521.3,3126.9 L521.3,3128.9 L521.3,3130.9 L521.3,3132.9 L521.3,3133.3 L477.3,3133.3 L477.3,3132.9 L477.3,3130.9 L477.3,3128.9 L477.3,3126.9 L477.3,3124.9 L477.4,3122.9 L477.4,3120.9 L477.4,3118.9 L477.5,3116.9 L477.6,3114.9 L477.7,3112.9 L477.8,3110.9 L478.0,3108.9 L478.1,3106.9 L478.3,3104.9 L478.5,3102.9 L478.7,3100.9 L478.8,3098.9 L479.0,3096.9 L479.2,3094.9 L479.4,3092.9 L479.6,3090.9 L479.9,3088.9 L480.1,3086.9 L480.4,3084.9 L480.6,3082.9 L480.8,3080.9 L481.1,3078.9 L481.3,3076.9 L481.5,3074.9 L481.7,3072.9 L481.9,3070.9 L482.1,3068.9 L482.2,3066.9 L482.3,3064.9 L482.5,3062.9 L482.6,3060.9 L482.8,3058.9 L482.9,3056.9 L483.0,3054.9 L483.1,3052.9 L483.3,3050.9 L483.4,3048.9 L483.5,3046.9 L483.6,3044.9 L483.7,3042.9 L483.7,3040.9 L483.8,3038.9 L483.8,3036.9 L483.9,3034.9 L483.9,3032.9 L483.9,3030.9 L483.9,3028.9 L483.9,3026.9 L483.9,3024.9 L483.9,3022.9 L483.8,3020.9 L483.8,3018.9 L483.8,3016.9 L483.7,3014.9 L483.7,3012.9 L483.7,3010.9 L483.6,3008.9 L483.6,3006.9 L483.5,3004.9 L483.5,3002.9 L483.4,3000.9 L483.3,2998.9 L483.3,2996.9 L483.2,2994.9 L483.2,2992.9 L483.1,2990.9 L483.0,2988.9 L482.9,2986.9 L482.8,2984.9 L482.7,2982.9 L482.5,2980.9 L482.4,2978.9 L482.2,2976.9 L482.1,2974.9 L481.9,2972.9 L481.7,2970.9 L481.5,2968.9 L481.3,2966.9 L481.0,2964.9 L480.8,2962.9 L480.4,2960.9 L480.0,2958.9 L479.6,2956.9 L479.1,2954.9 L478.5,2952.9 L477.9,2950.9 L477.2,2948.9 L476.5,2946.9 L475.7,2944.9 L474.9,2942.9 L474.0,2940.9 L472.9,2938.9 L471.5,2936.9 L470.0,2934.9 L468.4,2932.9 L466.6,2930.9 L464.7,2928.9 L462.8,2926.9 L460.8,2924.9 L458.8,2922.9 L456.6,2920.9 L454.4,2918.9 L452.0,2916.9 L449.4,2914.9 L446.7,2912.9 L444.0,2910.9 L441.0,2908.9 L438.0,2906.9 L434.9,2904.9 L431.6,2902.9 L428.0,2900.9 L424.2,2898.9 L420.2,2896.9 L416.1,2894.9 L411.9,2892.9 L407.6,2890.9 L403.3,2888.9 L398.9,2886.9 L394.4,2884.9 L389.7,2882.9 L384.8,2880.9 L379.9,2878.9 L374.8,2876.9 L369.8,2874.9 L364.9,2872.9 L360.1,2870.9 L355.5,2868.9 L351.1,2866.9 L346.4,2864.9 L341.7,2862.9 L337.1,2860.9 L332.9,2858.9 L329.2,2856.9 L326.1,2854.9 L323.9,2852.9 L322.0,2850.9 L320.1,2848.9 L318.4,2846.9 L317.0,2844.9 L315.8,2842.9 L315.0,2840.9 L314.7,2838.9 L314.8,2836.9 L315.0,2834.9 L315.4,2832.9 L315.8,2830.9 L316.3,2828.9 L316.9,2826.9 L317.6,2824.9 L318.5,2822.9 L319.5,2820.9 L320.7,2818.9 L321.9,2816.9 L323.2,2814.9 L324.4,2812.9 L325.6,2810.9 L326.9,2808.9 L328.3,2806.9 L329.7,2804.9 L331.2,2802.9 L332.6,2800.9 L334.1,2798.9 L335.6,2796.9 L337.0,2794.9 L338.4,2792.9 L339.8,2790.9 L341.2,2788.9 L342.6,2786.9 L344.0,2784.9 L345.4,2782.9 L346.8,2780.9 L348.2,2778.9 L349.6,2776.9 L351.0,2774.9 L352.4,2772.9 L353.8,2770.9 L355.2,2768.9 L356.6,2766.9 L358.0,2764.9 L359.4,2762.9 L360.7,2760.9 L362.1,2758.9 L363.5,2756.9 L364.9,2754.9 L366.4,2752.9 L367.8,2750.9 L369.2,2748.9 L370.7,2746.9 L372.1,2744.9 L373.5,2742.9 L374.8,2740.9 L376.1,2738.9 L377.4,2736.9 L378.8,2734.9 L380.1,2732.9 L381.3,2730.9 L382.6,2728.9 L383.8,2726.9 L385.0,2724.9 L386.1,2722.9 L387.2,2720.9 L388.1,2718.9 L389.2,2716.9 L390.2,2714.9 L391.2,2712.9 L392.2,2710.9 L393.1,2708.9 L393.8,2706.9 L394.4,2704.9 L394.8,2702.9 L395.0,2700.9 L395.2,2698.9 L395.3,2696.9 L395.4,2694.9 L395.5,2692.9 L395.6,2690.9 L395.6,2688.9 L395.7,2686.9 L395.7,2684.9 L395.7,2682.9 L395.6,2680.9 L395.4,2678.9 L395.0,2676.9 L394.5,2674.9 L394.0,2672.9 L393.4,2670.9 L392.7,2668.9 L392.0,2666.9 L391.4,2664.9 L390.7,2662.9 L389.9,2660.9 L389.0,2658.9 L388.1,2656.9 L387.1,2654.9 L386.0,2652.9 L384.9,2650.9 L383.7,2648.9 L382.6,2646.9 L381.4,2644.9 L380.1,2642.9 L378.7,2640.9 L377.2,2638.9 L375.6,2636.9 L374.1,2634.9 L372.6,2632.9 L371.2,2630.9 L369.9,2628.9 L368.8,2626.9 L367.6,2624.9 L366.5,2622.9 L365.3,2620.9 L364.3,2618.9 L363.4,2616.9 L362.8,2614.9 L362.5,2612.9 L362.5,2610.9 L362.7,2608.9 L363.0,2606.9 L363.4,2604.9 L363.8,2602.9 L364.4,2600.9 L364.9,2598.9 L365.6,2596.9 L366.5,2594.9 L367.6,2592.9 L369.1,2590.9 L370.7,2588.9 L372.5,2586.9 L374.4,2584.9 L376.4,2582.9 L378.6,2580.9 L381.3,2578.9 L384.2,2576.9 L387.4,2574.9 L390.8,2572.9 L394.4,2570.9 L398.0,2568.9 L401.6,2566.9 L405.1,2564.9 L408.5,2562.9 L412.2,2560.9 L416.0,2558.9 L419.9,2556.9 L423.9,2554.9 L427.8,2552.9 L431.7,2550.9 L435.5,2548.9 L439.1,2546.9 L442.5,2544.9 L445.6,2542.9 L448.5,2540.9 L451.3,2538.9 L454.0,2536.9 L456.6,2534.9 L459.2,2532.9 L461.6,2530.9 L463.9,2528.9 L466.1,2526.9 L468.2,2524.9 L470.1,2522.9 L471.9,2520.9 L473.5,2518.9 L475.1,2516.9 L476.6,2514.9 L478.0,2512.9 L479.4,2510.9 L480.7,2508.9 L482.0,2506.9 L483.1,2504.9 L484.1,2502.9 L485.0,2500.9 L485.8,2498.9 L486.5,2496.9 L487.2,2494.9 L487.8,2492.9 L488.3,2490.9 L488.9,2488.9 L489.4,2486.9 L489.8,2484.9 L490.2,2482.9 L490.6,2480.9 L490.9,2478.9 L491.2,2476.9 L491.3,2474.9 L491.5,2472.9 L491.7,2470.9 L491.8,2468.9 L492.0,2466.9 L492.1,2464.9 L492.3,2462.9 L492.4,2460.9 L492.5,2458.9 L492.6,2456.9 L492.7,2454.9 L492.8,2452.9 L492.9,2450.9 L493.0,2448.9 L493.0,2446.9 L493.1,2444.9 L493.1,2442.9 L493.2,2440.9 L493.2,2438.9 L493.2,2436.9 L493.2,2434.9 L493.3,2432.9 L493.3,2430.9 L493.3,2428.9 L493.3,2426.9 L493.3,2424.9 L493.3,2422.9 L493.4,2420.9 L493.4,2418.9 L493.4,2416.9 L493.4,2414.9 L493.4,2412.9 L493.4,2410.9 L493.5,2408.9 L493.5,2406.9 L493.5,2404.9 L493.5,2402.9 L493.5,2400.9 L493.5,2398.9 L493.5,2396.9 L493.5,2394.9 L493.5,2392.9 L493.5,2390.9 L493.6,2388.9 L493.6,2386.9 L493.6,2384.9 L493.6,2382.9 L493.6,2380.9 L493.6,2378.9 L493.6,2376.9 L493.6,2374.9 L493.6,2372.9 L493.6,2370.9 L493.6,2368.9 L493.6,2366.9 L493.6,2364.9 L493.6,2362.9 L493.6,2360.9 L493.6,2358.9 L493.6,2356.9 L493.6,2354.9 L493.6,2352.9 L493.6,2350.9 L493.6,2348.9 L493.6,2346.9 L493.6,2344.9 L493.6,2342.9 L493.6,2340.9 L493.6,2338.9 L493.6,2336.9 L493.6,2334.9 L493.6,2332.9 L493.6,2330.9 L493.6,2328.9 L493.6,2326.9 L493.6,2324.9 L493.6,2322.9 L493.6,2320.9 L493.6,2318.9Z" fill="#9bcccd" stroke="#333333" stroke-width="3.9" stroke-linejoin="round"/>
<g fill="#d5edf2" stroke="#000" stroke-width="1.15">
<circle cx="416.5" cy="2862.1" r="2.7"/><circle cx="588.7" cy="2775.3" r="2.7"/><circle cx="462.4" cy="2834.0" r="2.7"/><circle cx="623.0" cy="2829.9" r="2.7"/><circle cx="531.0" cy="2617.6" r="2.7"/><circle cx="546.9" cy="2621.0" r="2.7"/><circle cx="360.5" cy="2834.4" r="2.7"/><circle cx="455.3" cy="2778.1" r="2.7"/><circle cx="373.7" cy="2591.6" r="2.7"/><circle cx="555.7" cy="2592.5" r="2.7"/><circle cx="432.7" cy="2750.2" r="2.7"/><circle cx="471.6" cy="2752.4" r="2.7"/><circle cx="425.5" cy="2827.1" r="2.7"/><circle cx="524.8" cy="2586.6" r="2.7"/><circle cx="472.1" cy="2778.1" r="2.7"/><circle cx="508.9" cy="3079.4" r="2.7"/><circle cx="594.0" cy="2588.0" r="2.7"/><circle cx="643.1" cy="2778.9" r="2.7"/><circle cx="494.4" cy="2619.2" r="2.7"/><circle cx="443.7" cy="2699.1" r="2.7"/><circle cx="567.6" cy="2860.1" r="2.7"/><circle cx="598.2" cy="2862.5" r="2.7"/><circle cx="398.6" cy="2809.8" r="2.7"/><circle cx="459.0" cy="2911.9" r="2.7"/><circle cx="494.4" cy="2998.2" r="2.7"/><circle cx="497.6" cy="2971.0" r="2.7"/><circle cx="411.9" cy="2837.9" r="2.7"/><circle cx="605.0" cy="2589.9" r="2.7"/><circle cx="406.9" cy="2861.0" r="2.7"/><circle cx="642.6" cy="2804.2" r="2.7"/><circle cx="510.8" cy="2670.2" r="2.7"/><circle cx="467.4" cy="2834.4" r="2.7"/><circle cx="387.8" cy="2637.8" r="2.7"/><circle cx="426.8" cy="2804.3" r="2.7"/><circle cx="487.8" cy="2867.3" r="2.7"/><circle cx="444.7" cy="2858.6" r="2.7"/><circle cx="349.1" cy="2861.6" r="2.7"/><circle cx="473.9" cy="2585.9" r="2.7"/><circle cx="495.6" cy="3054.3" r="2.7"/><circle cx="614.4" cy="2783.6" r="2.7"/><circle cx="430.4" cy="2641.5" r="2.7"/><circle cx="395.0" cy="2721.7" r="2.7"/><circle cx="506.7" cy="2861.1" r="2.7"/><circle cx="445.6" cy="2697.5" r="2.7"/><circle cx="365.2" cy="2863.6" r="2.7"/><circle cx="423.4" cy="2591.5" r="2.7"/><circle cx="388.7" cy="2753.7" r="2.7"/><circle cx="431.5" cy="2645.4" r="2.7"/><circle cx="434.3" cy="2595.7" r="2.7"/><circle cx="549.8" cy="2833.5" r="2.7"/><circle cx="380.9" cy="2587.8" r="2.7"/><circle cx="548.9" cy="2859.6" r="2.7"/><circle cx="527.6" cy="2646.7" r="2.7"/><circle cx="485.5" cy="2832.2" r="2.7"/><circle cx="542.2" cy="2667.5" r="2.7"/><circle cx="617.4" cy="2592.3" r="2.7"/><circle cx="395.8" cy="2779.2" r="2.7"/><circle cx="557.4" cy="2861.4" r="2.7"/><circle cx="435.4" cy="2805.6" r="2.7"/><circle cx="654.3" cy="2803.5" r="2.7"/><circle cx="337.7" cy="2812.4" r="2.7"/><circle cx="604.9" cy="2591.2" r="2.7"/><circle cx="503.3" cy="3075.4" r="2.7"/><circle cx="405.5" cy="2591.8" r="2.7"/><circle cx="474.8" cy="2700.6" r="2.7"/><circle cx="377.2" cy="2863.7" r="2.7"/><circle cx="404.6" cy="2833.6" r="2.7"/><circle cx="541.4" cy="2805.3" r="2.7"/><circle cx="465.9" cy="2859.5" r="2.7"/><circle cx="574.7" cy="2752.7" r="2.7"/><circle cx="468.8" cy="2593.5" r="2.7"/><circle cx="561.6" cy="2695.8" r="2.7"/><circle cx="486.4" cy="3078.5" r="2.7"/><circle cx="609.6" cy="2861.0" r="2.7"/><circle cx="347.0" cy="2831.4" r="2.7"/><circle cx="611.6" cy="2587.9" r="2.7"/><circle cx="606.2" cy="2583.3" r="2.7"/><circle cx="507.5" cy="3118.5" r="2.7"/><circle cx="434.2" cy="2728.5" r="2.7"/><circle cx="475.7" cy="2779.2" r="2.7"/><circle cx="518.1" cy="2806.1" r="2.7"/><circle cx="573.2" cy="2748.9" r="2.7"/><circle cx="560.4" cy="2756.3" r="2.7"/><circle cx="481.3" cy="2754.5" r="2.7"/><circle cx="468.4" cy="2619.9" r="2.7"/><circle cx="453.9" cy="2698.0" r="2.7"/><circle cx="369.9" cy="2857.9" r="2.7"/><circle cx="486.9" cy="2938.5" r="2.7"/><circle cx="449.2" cy="2693.9" r="2.7"/><circle cx="482.3" cy="2832.7" r="2.7"/><circle cx="505.7" cy="2727.5" r="2.7"/><circle cx="480.1" cy="2642.2" r="2.7"/><circle cx="401.7" cy="2670.0" r="2.7"/><circle cx="553.9" cy="2730.6" r="2.7"/><circle cx="445.2" cy="2807.6" r="2.7"/><circle cx="523.3" cy="2694.1" r="2.7"/><circle cx="336.2" cy="2832.0" r="2.7"/><circle cx="340.6" cy="2803.4" r="2.7"/><circle cx="559.5" cy="2694.3" r="2.7"/><circle cx="615.6" cy="2587.0" r="2.7"/><circle cx="488.4" cy="2863.2" r="2.7"/><circle cx="565.2" cy="2590.3" r="2.7"/><circle cx="598.5" cy="2670.4" r="2.7"/><circle cx="510.0" cy="2806.5" r="2.7"/><circle cx="553.8" cy="2700.1" r="2.7"/><circle cx="527.6" cy="2863.7" r="2.7"/><circle cx="508.8" cy="2963.8" r="2.7"/><circle cx="558.2" cy="2857.9" r="2.7"/><circle cx="476.4" cy="2773.8" r="2.7"/><circle cx="398.9" cy="2615.6" r="2.7"/><circle cx="445.7" cy="2862.0" r="2.7"/><circle cx="542.6" cy="2587.8" r="2.7"/><circle cx="501.4" cy="2914.5" r="2.7"/><circle cx="583.4" cy="2590.7" r="2.7"/><circle cx="447.3" cy="2753.2" r="2.7"/><circle cx="509.6" cy="2614.6" r="2.7"/><circle cx="494.4" cy="2861.6" r="2.7"/><circle cx="545.5" cy="2725.5" r="2.7"/><circle cx="580.9" cy="2809.7" r="2.7"/><circle cx="521.7" cy="2720.3" r="2.7"/><circle cx="338.1" cy="2829.0" r="2.7"/><circle cx="418.8" cy="2592.3" r="2.7"/><circle cx="569.3" cy="2748.2" r="2.7"/><circle cx="410.3" cy="2696.7" r="2.7"/><circle cx="596.8" cy="2648.9" r="2.7"/><circle cx="448.2" cy="2673.5" r="2.7"/><circle cx="586.2" cy="2645.1" r="2.7"/><circle cx="453.4" cy="2722.8" r="2.7"/><circle cx="455.6" cy="2591.7" r="2.7"/><circle cx="630.5" cy="2832.7" r="2.7"/><circle cx="647.3" cy="2863.1" r="2.7"/><circle cx="579.7" cy="2751.5" r="2.7"/><circle cx="336.9" cy="2837.7" r="2.7"/><circle cx="376.7" cy="2858.8" r="2.7"/><circle cx="619.3" cy="2754.9" r="2.7"/><circle cx="579.7" cy="2586.5" r="2.7"/><circle cx="589.2" cy="2862.3" r="2.7"/><circle cx="496.3" cy="2861.7" r="2.7"/><circle cx="544.6" cy="2804.0" r="2.7"/><circle cx="377.8" cy="2861.6" r="2.7"/><circle cx="430.2" cy="2641.4" r="2.7"/><circle cx="624.8" cy="2862.4" r="2.7"/><circle cx="564.6" cy="2755.6" r="2.7"/><circle cx="592.1" cy="2835.5" r="2.7"/><circle cx="534.2" cy="2859.9" r="2.7"/><circle cx="576.2" cy="2863.1" r="2.7"/><circle cx="356.2" cy="2859.0" r="2.7"/><circle cx="538.1" cy="2642.6" r="2.7"/><circle cx="536.2" cy="2857.2" r="2.7"/><circle cx="412.7" cy="2754.7" r="2.7"/><circle cx="619.0" cy="2754.9" r="2.7"/><circle cx="441.4" cy="2669.3" r="2.7"/><circle cx="560.2" cy="2799.2" r="2.7"/><circle cx="523.3" cy="2828.4" r="2.7"/><circle cx="556.5" cy="2689.1" r="2.7"/><circle cx="419.2" cy="2858.4" r="2.7"/><circle cx="368.0" cy="2834.1" r="2.7"/><circle cx="616.3" cy="2588.4" r="2.7"/><circle cx="401.8" cy="2864.0" r="2.7"/><circle cx="384.3" cy="2589.9" r="2.7"/><circle cx="488.6" cy="2723.5" r="2.7"/><circle cx="601.4" cy="2753.3" r="2.7"/><circle cx="378.2" cy="2748.1" r="2.7"/><circle cx="639.7" cy="2858.0" r="2.7"/><circle cx="594.1" cy="2670.8" r="2.7"/><circle cx="577.9" cy="2726.0" r="2.7"/><circle cx="471.7" cy="2643.9" r="2.7"/><circle cx="601.1" cy="2750.9" r="2.7"/><circle cx="385.6" cy="2861.5" r="2.7"/><circle cx="522.3" cy="2751.8" r="2.7"/><circle cx="455.7" cy="2617.1" r="2.7"/><circle cx="477.1" cy="2616.5" r="2.7"/><circle cx="341.9" cy="2811.6" r="2.7"/><circle cx="415.7" cy="2591.7" r="2.7"/><circle cx="418.3" cy="2728.8" r="2.7"/><circle cx="390.8" cy="2644.7" r="2.7"/><circle cx="486.8" cy="2771.8" r="2.7"/><circle cx="617.3" cy="2838.4" r="2.7"/><circle cx="581.8" cy="2591.0" r="2.7"/><circle cx="443.4" cy="2864.5" r="2.7"/><circle cx="680.3" cy="2840.0" r="2.7"/><circle cx="596.8" cy="2641.2" r="2.7"/><circle cx="588.4" cy="2640.0" r="2.7"/><circle cx="660.1" cy="2805.4" r="2.7"/><circle cx="483.1" cy="2590.4" r="2.7"/><circle cx="443.1" cy="2641.1" r="2.7"/><circle cx="428.5" cy="2589.1" r="2.7"/><circle cx="479.9" cy="2595.5" r="2.7"/><circle cx="585.7" cy="2646.3" r="2.7"/><circle cx="463.2" cy="2839.1" r="2.7"/><circle cx="547.0" cy="2585.0" r="2.7"/><circle cx="361.6" cy="2859.7" r="2.7"/><circle cx="554.4" cy="2787.5" r="2.7"/><circle cx="502.5" cy="2804.1" r="2.7"/><circle cx="618.6" cy="2591.2" r="2.7"/><circle cx="485.5" cy="2698.4" r="2.7"/><circle cx="467.3" cy="2778.6" r="2.7"/><circle cx="578.5" cy="2832.6" r="2.7"/><circle cx="601.3" cy="2750.0" r="2.7"/><circle cx="581.4" cy="2585.0" r="2.7"/><circle cx="460.3" cy="2746.4" r="2.7"/><circle cx="535.8" cy="2671.7" r="2.7"/><circle cx="427.2" cy="2668.0" r="2.7"/><circle cx="448.0" cy="2670.5" r="2.7"/><circle cx="610.3" cy="2782.5" r="2.7"/><circle cx="439.8" cy="2776.9" r="2.7"/><circle cx="525.3" cy="2610.9" r="2.7"/><circle cx="385.8" cy="2837.3" r="2.7"/><circle cx="386.3" cy="2803.8" r="2.7"/><circle cx="529.9" cy="2829.6" r="2.7"/><circle cx="358.5" cy="2833.5" r="2.7"/><circle cx="592.4" cy="2857.9" r="2.7"/><circle cx="407.9" cy="2595.5" r="2.7"/><circle cx="605.8" cy="2591.8" r="2.7"/><circle cx="396.6" cy="2591.3" r="2.7"/><circle cx="611.7" cy="2754.5" r="2.7"/><circle cx="535.3" cy="2733.2" r="2.7"/><circle cx="579.2" cy="2726.5" r="2.7"/><circle cx="533.2" cy="2588.2" r="2.7"/><circle cx="587.7" cy="2698.1" r="2.7"/><circle cx="616.4" cy="2859.7" r="2.7"/><circle cx="503.8" cy="2593.9" r="2.7"/><circle cx="423.6" cy="2640.0" r="2.7"/><circle cx="426.6" cy="2696.6" r="2.7"/><circle cx="451.9" cy="2727.2" r="2.7"/><circle cx="501.8" cy="2698.5" r="2.7"/><circle cx="347.4" cy="2862.4" r="2.7"/><circle cx="430.8" cy="2805.8" r="2.7"/><circle cx="442.4" cy="2694.3" r="2.7"/><circle cx="364.8" cy="2834.3" r="2.7"/><circle cx="322.1" cy="2837.4" r="2.7"/><circle cx="439.7" cy="2586.3" r="2.7"/><circle cx="415.1" cy="2584.4" r="2.7"/><circle cx="410.0" cy="2803.9" r="2.7"/><circle cx="584.4" cy="2858.7" r="2.7"/><circle cx="512.1" cy="2747.9" r="2.7"/><circle cx="534.0" cy="2782.5" r="2.7"/><circle cx="442.0" cy="2588.5" r="2.7"/><circle cx="438.7" cy="2586.9" r="2.7"/><circle cx="507.3" cy="2780.7" r="2.7"/><circle cx="507.9" cy="2727.8" r="2.7"/><circle cx="530.8" cy="2643.4" r="2.7"/><circle cx="586.3" cy="2667.9" r="2.7"/><circle cx="488.1" cy="2586.1" r="2.7"/><circle cx="544.8" cy="2592.6" r="2.7"/><circle cx="462.2" cy="2861.7" r="2.7"/><circle cx="342.0" cy="2804.9" r="2.7"/><circle cx="381.6" cy="2860.8" r="2.7"/><circle cx="524.6" cy="2752.9" r="2.7"/><circle cx="627.5" cy="2806.2" r="2.7"/><circle cx="622.8" cy="2752.2" r="2.7"/><circle cx="461.0" cy="2834.1" r="2.7"/><circle cx="652.4" cy="2832.9" r="2.7"/><circle cx="375.8" cy="2859.5" r="2.7"/><circle cx="530.7" cy="2888.9" r="2.7"/><circle cx="578.2" cy="2858.6" r="2.7"/><circle cx="626.4" cy="2777.7" r="2.7"/><circle cx="444.0" cy="2693.8" r="2.7"/><circle cx="581.1" cy="2588.4" r="2.7"/><circle cx="417.8" cy="2860.6" r="2.7"/><circle cx="381.4" cy="2589.2" r="2.7"/><circle cx="443.3" cy="2744.8" r="2.7"/><circle cx="428.4" cy="2859.5" r="2.7"/><circle cx="435.8" cy="2643.6" r="2.7"/><circle cx="629.3" cy="2808.0" r="2.7"/><circle cx="446.2" cy="2748.1" r="2.7"/><circle cx="591.1" cy="2866.5" r="2.7"/><circle cx="339.3" cy="2833.5" r="2.7"/><circle cx="604.1" cy="2862.2" r="2.7"/><circle cx="582.9" cy="2643.6" r="2.7"/><circle cx="369.8" cy="2861.9" r="2.7"/><circle cx="550.0" cy="2593.9" r="2.7"/><circle cx="469.1" cy="2670.8" r="2.7"/><circle cx="496.5" cy="2860.6" r="2.7"/><circle cx="647.8" cy="2837.9" r="2.7"/><circle cx="500.0" cy="2619.9" r="2.7"/><circle cx="620.4" cy="2828.8" r="2.7"/><circle cx="504.5" cy="2861.7" r="2.7"/><circle cx="351.0" cy="2861.1" r="2.7"/><circle cx="607.6" cy="2616.5" r="2.7"/><circle cx="494.9" cy="3101.1" r="2.7"/><circle cx="493.0" cy="2614.4" r="2.7"/><circle cx="509.6" cy="2857.1" r="2.7"/><circle cx="513.5" cy="2720.7" r="2.7"/><circle cx="549.7" cy="2752.0" r="2.7"/><circle cx="463.7" cy="2747.9" r="2.7"/><circle cx="590.5" cy="2672.2" r="2.7"/><circle cx="618.8" cy="2782.7" r="2.7"/><circle cx="551.3" cy="2668.5" r="2.7"/><circle cx="344.0" cy="2809.8" r="2.7"/><circle cx="496.3" cy="2429.8" r="2.7"/><circle cx="564.1" cy="2590.3" r="2.7"/><circle cx="408.5" cy="2853.1" r="2.7"/><circle cx="474.6" cy="2587.6" r="2.7"/><circle cx="560.9" cy="2589.7" r="2.7"/><circle cx="625.6" cy="2591.9" r="2.7"/><circle cx="440.8" cy="2696.5" r="2.7"/><circle cx="488.8" cy="2588.4" r="2.7"/><circle cx="564.7" cy="2727.3" r="2.7"/><circle cx="483.1" cy="2697.2" r="2.7"/><circle cx="475.6" cy="2642.3" r="2.7"/><circle cx="584.9" cy="2668.4" r="2.7"/><circle cx="409.4" cy="2644.4" r="2.7"/><circle cx="420.0" cy="2642.7" r="2.7"/><circle cx="406.1" cy="2590.4" r="2.7"/><circle cx="545.1" cy="2588.6" r="2.7"/><circle cx="483.1" cy="2860.4" r="2.7"/><circle cx="571.4" cy="2834.4" r="2.7"/><circle cx="493.3" cy="2591.0" r="2.7"/><circle cx="377.4" cy="2802.4" r="2.7"/><circle cx="358.7" cy="2779.2" r="2.7"/><circle cx="507.5" cy="2989.5" r="2.7"/><circle cx="400.1" cy="2696.4" r="2.7"/><circle cx="387.0" cy="2750.6" r="2.7"/><circle cx="423.9" cy="2776.3" r="2.7"/><circle cx="455.6" cy="2859.9" r="2.7"/><circle cx="505.6" cy="3075.5" r="2.7"/><circle cx="486.8" cy="2995.9" r="2.7"/><circle cx="640.6" cy="2778.1" r="2.7"/><circle cx="592.3" cy="2779.6" r="2.7"/><circle cx="566.1" cy="2722.0" r="2.7"/><circle cx="460.8" cy="2586.6" r="2.7"/><circle cx="587.8" cy="2724.8" r="2.7"/><circle cx="477.9" cy="2749.2" r="2.7"/><circle cx="548.8" cy="2728.3" r="2.7"/><circle cx="484.4" cy="2586.4" r="2.7"/><circle cx="600.6" cy="2776.7" r="2.7"/><circle cx="512.4" cy="2832.2" r="2.7"/><circle cx="524.1" cy="2832.1" r="2.7"/><circle cx="604.6" cy="2753.4" r="2.7"/><circle cx="436.1" cy="2748.3" r="2.7"/><circle cx="547.6" cy="2756.0" r="2.7"/><circle cx="407.3" cy="2753.5" r="2.7"/><circle cx="465.5" cy="2688.1" r="2.7"/><circle cx="509.9" cy="2586.7" r="2.7"/><circle cx="554.4" cy="2719.8" r="2.7"/><circle cx="388.5" cy="2839.8" r="2.7"/><circle cx="424.4" cy="2829.4" r="2.7"/><circle cx="659.0" cy="2860.4" r="2.7"/><circle cx="518.1" cy="2890.7" r="2.7"/><circle cx="421.6" cy="2594.6" r="2.7"/><circle cx="470.9" cy="2691.8" r="2.7"/><circle cx="434.7" cy="2859.9" r="2.7"/><circle cx="462.9" cy="2863.3" r="2.7"/><circle cx="569.8" cy="2863.6" r="2.7"/><circle cx="414.1" cy="2589.4" r="2.7"/><circle cx="506.6" cy="2649.5" r="2.7"/><circle cx="569.8" cy="2724.5" r="2.7"/><circle cx="427.6" cy="2722.4" r="2.7"/><circle cx="618.0" cy="2619.4" r="2.7"/><circle cx="611.1" cy="2651.6" r="2.7"/><circle cx="495.0" cy="2968.3" r="2.7"/><circle cx="618.3" cy="2775.1" r="2.7"/><circle cx="589.7" cy="2587.6" r="2.7"/><circle cx="583.9" cy="2588.5" r="2.7"/><circle cx="499.7" cy="3076.0" r="2.7"/><circle cx="366.9" cy="2862.6" r="2.7"/><circle cx="522.2" cy="2751.5" r="2.7"/><circle cx="550.3" cy="2752.5" r="2.7"/><circle cx="474.7" cy="2590.1" r="2.7"/><circle cx="562.1" cy="2860.0" r="2.7"/><circle cx="357.9" cy="2781.8" r="2.7"/><circle cx="422.8" cy="2862.5" r="2.7"/><circle cx="511.6" cy="3050.4" r="2.7"/><circle cx="653.7" cy="2856.4" r="2.7"/><circle cx="472.7" cy="2726.9" r="2.7"/><circle cx="509.1" cy="2669.8" r="2.7"/><circle cx="528.2" cy="2666.8" r="2.7"/><circle cx="388.5" cy="2610.2" r="2.7"/><circle cx="539.2" cy="2669.5" r="2.7"/><circle cx="479.7" cy="2861.4" r="2.7"/><circle cx="480.5" cy="2782.7" r="2.7"/><circle cx="592.4" cy="2670.9" r="2.7"/><circle cx="519.3" cy="2751.8" r="2.7"/><circle cx="318.1" cy="2830.7" r="2.7"/><circle cx="495.9" cy="2616.5" r="2.7"/><circle cx="337.0" cy="2810.0" r="2.7"/><circle cx="512.3" cy="2589.2" r="2.7"/><circle cx="523.7" cy="2716.4" r="2.7"/><circle cx="548.8" cy="2621.8" r="2.7"/><circle cx="417.3" cy="2780.5" r="2.7"/><circle cx="495.2" cy="2702.0" r="2.7"/><circle cx="587.4" cy="2731.4" r="2.7"/><circle cx="442.6" cy="2699.3" r="2.7"/><circle cx="450.0" cy="2865.9" r="2.7"/><circle cx="491.1" cy="2643.1" r="2.7"/><circle cx="570.5" cy="2723.7" r="2.7"/><circle cx="546.2" cy="2831.8" r="2.7"/><circle cx="502.9" cy="2804.5" r="2.7"/><circle cx="640.0" cy="2834.0" r="2.7"/><circle cx="409.9" cy="2863.2" r="2.7"/><circle cx="496.5" cy="2344.6" r="2.7"/><circle cx="486.2" cy="2831.8" r="2.7"/><circle cx="509.7" cy="2749.2" r="2.7"/><circle cx="591.9" cy="2588.8" r="2.7"/><circle cx="498.8" cy="2696.4" r="2.7"/><circle cx="588.8" cy="2594.8" r="2.7"/><circle cx="516.0" cy="2723.8" r="2.7"/><circle cx="350.8" cy="2802.7" r="2.7"/><circle cx="379.6" cy="2806.2" r="2.7"/><circle cx="384.8" cy="2615.9" r="2.7"/><circle cx="591.1" cy="2860.6" r="2.7"/><circle cx="491.3" cy="2586.7" r="2.7"/><circle cx="476.5" cy="2642.0" r="2.7"/><circle cx="631.2" cy="2778.0" r="2.7"/><circle cx="509.9" cy="3050.9" r="2.7"/><circle cx="518.3" cy="3128.8" r="2.7"/><circle cx="606.1" cy="2591.5" r="2.7"/><circle cx="524.7" cy="2780.6" r="2.7"/><circle cx="498.6" cy="2859.8" r="2.7"/><circle cx="377.8" cy="2864.8" r="2.7"/><circle cx="445.7" cy="2806.8" r="2.7"/><circle cx="623.5" cy="2862.7" r="2.7"/><circle cx="524.5" cy="2669.4" r="2.7"/><circle cx="497.1" cy="2836.6" r="2.7"/><circle cx="566.7" cy="2862.9" r="2.7"/><circle cx="501.5" cy="2722.0" r="2.7"/><circle cx="377.5" cy="2780.3" r="2.7"/><circle cx="534.1" cy="2804.9" r="2.7"/><circle cx="485.1" cy="3104.2" r="2.7"/><circle cx="558.5" cy="2748.2" r="2.7"/><circle cx="458.4" cy="2887.5" r="2.7"/><circle cx="439.3" cy="2695.4" r="2.7"/><circle cx="624.1" cy="2754.7" r="2.7"/><circle cx="433.6" cy="2864.1" r="2.7"/><circle cx="582.4" cy="2863.8" r="2.7"/><circle cx="341.9" cy="2860.3" r="2.7"/><circle cx="429.7" cy="2646.7" r="2.7"/><circle cx="540.2" cy="2593.5" r="2.7"/><circle cx="490.2" cy="2971.0" r="2.7"/><circle cx="507.4" cy="3022.2" r="2.7"/><circle cx="510.1" cy="2803.5" r="2.7"/><circle cx="499.3" cy="2781.7" r="2.7"/><circle cx="327.0" cy="2833.5" r="2.7"/><circle cx="626.6" cy="2806.7" r="2.7"/><circle cx="441.4" cy="2612.9" r="2.7"/><circle cx="595.6" cy="2859.5" r="2.7"/><circle cx="389.6" cy="2858.6" r="2.7"/><circle cx="452.3" cy="2587.2" r="2.7"/><circle cx="498.2" cy="3100.5" r="2.7"/><circle cx="619.5" cy="2861.0" r="2.7"/><circle cx="484.1" cy="2864.9" r="2.7"/><circle cx="489.5" cy="2507.6" r="2.7"/><circle cx="610.4" cy="2613.7" r="2.7"/><circle cx="457.6" cy="2645.4" r="2.7"/><circle cx="461.0" cy="2883.3" r="2.7"/><circle cx="653.1" cy="2830.9" r="2.7"/><circle cx="564.4" cy="2864.2" r="2.7"/><circle cx="384.4" cy="2858.8" r="2.7"/><circle cx="510.7" cy="2537.7" r="2.7"/><circle cx="511.8" cy="3047.8" r="2.7"/><circle cx="543.9" cy="2890.9" r="2.7"/><circle cx="352.8" cy="2780.5" r="2.7"/><circle cx="462.9" cy="2642.8" r="2.7"/><circle cx="500.9" cy="2483.4" r="2.7"/><circle cx="601.8" cy="2616.5" r="2.7"/><circle cx="576.1" cy="2592.6" r="2.7"/><circle cx="571.8" cy="2703.2" r="2.7"/><circle cx="552.3" cy="2804.1" r="2.7"/><circle cx="527.3" cy="2724.2" r="2.7"/><circle cx="594.9" cy="2645.2" r="2.7"/><circle cx="579.5" cy="2777.0" r="2.7"/><circle cx="497.0" cy="2891.0" r="2.7"/><circle cx="570.3" cy="2723.3" r="2.7"/><circle cx="415.8" cy="2618.2" r="2.7"/><circle cx="406.9" cy="2700.1" r="2.7"/><circle cx="592.8" cy="2750.0" r="2.7"/><circle cx="660.9" cy="2805.4" r="2.7"/><circle cx="469.4" cy="2857.9" r="2.7"/><circle cx="605.6" cy="2725.0" r="2.7"/><circle cx="487.7" cy="2755.5" r="2.7"/><circle cx="555.3" cy="2589.4" r="2.7"/><circle cx="641.4" cy="2867.1" r="2.7"/><circle cx="490.8" cy="2613.7" r="2.7"/><circle cx="501.7" cy="2588.4" r="2.7"/><circle cx="335.2" cy="2806.4" r="2.7"/><circle cx="594.6" cy="2691.9" r="2.7"/><circle cx="491.3" cy="2999.7" r="2.7"/><circle cx="502.4" cy="2754.0" r="2.7"/><circle cx="522.5" cy="2727.7" r="2.7"/><circle cx="560.0" cy="2859.8" r="2.7"/><circle cx="595.6" cy="2780.1" r="2.7"/><circle cx="406.4" cy="2669.0" r="2.7"/><circle cx="620.2" cy="2810.0" r="2.7"/><circle cx="584.9" cy="2587.3" r="2.7"/><circle cx="407.5" cy="2591.3" r="2.7"/><circle cx="431.1" cy="2728.5" r="2.7"/><circle cx="497.9" cy="2423.8" r="2.7"/><circle cx="470.9" cy="2618.5" r="2.7"/><circle cx="574.7" cy="2670.6" r="2.7"/><circle cx="520.3" cy="2856.5" r="2.7"/><circle cx="617.4" cy="2585.0" r="2.7"/><circle cx="432.4" cy="2700.7" r="2.7"/><circle cx="536.4" cy="2613.1" r="2.7"/><circle cx="646.4" cy="2807.7" r="2.7"/><circle cx="520.0" cy="2643.1" r="2.7"/><circle cx="445.7" cy="2808.1" r="2.7"/><circle cx="523.8" cy="2861.3" r="2.7"/><circle cx="485.1" cy="3105.8" r="2.7"/><circle cx="482.8" cy="3110.9" r="2.7"/><circle cx="530.6" cy="2732.4" r="2.7"/><circle cx="498.7" cy="2318.7" r="2.7"/><circle cx="498.6" cy="2319.3" r="2.7"/><circle cx="491.8" cy="3132.1" r="2.7"/><circle cx="514.9" cy="3132.2" r="2.7"/><circle cx="494.3" cy="3132.7" r="2.7"/><circle cx="485.7" cy="3133.4" r="2.7"/><circle cx="485.5" cy="3133.5" r="2.7"/><circle cx="480.1" cy="3131.8" r="2.7"/><circle cx="500.0" cy="3132.9" r="2.7"/><circle cx="497.6" cy="3133.6" r="2.7"/><circle cx="509.5" cy="3133.4" r="2.7"/><circle cx="510.6" cy="3133.4" r="2.7"/><circle cx="511.8" cy="3133.6" r="2.7"/><circle cx="509.7" cy="3132.2" r="2.7"/>
</g>
<path d="M933.0,2318.9 L933.1,2320.9 L933.2,2322.9 L933.3,2324.9 L933.4,2326.9 L933.5,2328.9 L933.5,2330.9 L933.6,2332.9 L933.6,2334.9 L933.7,2336.9 L933.7,2338.9 L933.7,2340.9 L933.7,2342.9 L933.7,2344.9 L933.7,2346.9 L933.7,2348.9 L933.7,2350.9 L933.6,2352.9 L933.6,2354.9 L933.5,2356.9 L933.4,2358.9 L933.2,2360.9 L933.1,2362.9 L932.9,2364.9 L932.7,2366.9 L932.5,2368.9 L932.3,2370.9 L932.1,2372.9 L931.9,2374.9 L931.7,2376.9 L931.5,2378.9 L931.2,2380.9 L930.9,2382.9 L930.6,2384.9 L930.3,2386.9 L930.0,2388.9 L929.6,2390.9 L929.3,2392.9 L929.0,2394.9 L928.7,2396.9 L928.4,2398.9 L928.2,2400.9 L928.0,2402.9 L927.8,2404.9 L927.7,2406.9 L927.5,2408.9 L927.3,2410.9 L927.1,2412.9 L926.9,2414.9 L926.8,2416.9 L926.6,2418.9 L926.4,2420.9 L926.3,2422.9 L926.2,2424.9 L926.0,2426.9 L925.9,2428.9 L925.8,2430.9 L925.7,2432.9 L925.7,2434.9 L925.6,2436.9 L925.6,2438.9 L925.6,2440.9 L925.5,2442.9 L925.5,2444.9 L925.5,2446.9 L925.4,2448.9 L925.4,2450.9 L925.4,2452.9 L925.4,2454.9 L925.3,2456.9 L925.3,2458.9 L925.3,2460.9 L925.3,2462.9 L925.3,2464.9 L925.3,2466.9 L925.2,2468.9 L925.2,2470.9 L925.2,2472.9 L925.2,2474.9 L925.2,2476.9 L925.2,2478.9 L925.2,2480.9 L925.2,2482.9 L925.2,2484.9 L925.3,2486.9 L925.5,2488.9 L925.7,2490.9 L926.0,2492.9 L926.3,2494.9 L926.6,2496.9 L927.0,2498.9 L927.3,2500.9 L927.8,2502.9 L928.2,2504.9 L928.7,2506.9 L929.3,2508.9 L930.1,2510.9 L931.0,2512.9 L932.0,2514.9 L933.1,2516.9 L934.3,2518.9 L935.6,2520.9 L937.0,2522.9 L938.5,2524.9 L940.2,2526.9 L942.3,2528.9 L944.5,2530.9 L947.0,2532.9 L949.6,2534.9 L952.3,2536.9 L955.1,2538.9 L958.0,2540.9 L960.9,2542.9 L963.9,2544.9 L967.2,2546.9 L970.7,2548.9 L974.3,2550.9 L978.0,2552.9 L981.8,2554.9 L985.7,2556.9 L989.6,2558.9 L993.6,2560.9 L997.7,2562.9 L1002.1,2564.9 L1006.6,2566.9 L1011.1,2568.9 L1015.7,2570.9 L1020.3,2572.9 L1024.8,2574.9 L1029.2,2576.9 L1033.4,2578.9 L1037.5,2580.9 L1041.6,2582.9 L1045.7,2584.9 L1049.7,2586.9 L1053.5,2588.9 L1057.0,2590.9 L1060.1,2592.9 L1062.8,2594.9 L1065.3,2596.9 L1067.7,2598.9 L1070.0,2600.9 L1072.1,2602.9 L1073.9,2604.9 L1075.3,2606.9 L1076.4,2608.9 L1077.4,2610.9 L1078.2,2612.9 L1079.0,2614.9 L1079.7,2616.9 L1080.3,2618.9 L1080.7,2620.9 L1080.9,2622.9 L1080.9,2624.9 L1080.9,2626.9 L1080.8,2628.9 L1080.8,2630.9 L1080.7,2632.9 L1080.6,2634.9 L1080.4,2636.9 L1080.3,2638.9 L1080.2,2640.9 L1080.0,2642.9 L1079.8,2644.9 L1079.5,2646.9 L1079.2,2648.9 L1078.8,2650.9 L1078.3,2652.9 L1077.8,2654.9 L1077.3,2656.9 L1076.8,2658.9 L1076.4,2660.9 L1075.8,2662.9 L1075.3,2664.9 L1074.7,2666.9 L1074.1,2668.9 L1073.5,2670.9 L1072.9,2672.9 L1072.2,2674.9 L1071.6,2676.9 L1071.0,2678.9 L1070.4,2680.9 L1069.8,2682.9 L1069.2,2684.9 L1068.6,2686.9 L1068.0,2688.9 L1067.4,2690.9 L1066.8,2692.9 L1066.2,2694.9 L1065.6,2696.9 L1065.0,2698.9 L1064.3,2700.9 L1063.6,2702.9 L1062.9,2704.9 L1062.3,2706.9 L1061.6,2708.9 L1061.0,2710.9 L1060.5,2712.9 L1060.0,2714.9 L1059.7,2716.9 L1059.4,2718.9 L1059.1,2720.9 L1058.8,2722.9 L1058.6,2724.9 L1058.3,2726.9 L1058.2,2728.9 L1058.0,2730.9 L1057.9,2732.9 L1057.9,2734.9 L1057.9,2736.9 L1058.1,2738.9 L1058.3,2740.9 L1058.5,2742.9 L1058.9,2744.9 L1059.2,2746.9 L1059.6,2748.9 L1060.0,2750.9 L1060.4,2752.9 L1060.8,2754.9 L1061.4,2756.9 L1062.0,2758.9 L1062.6,2760.9 L1063.4,2762.9 L1064.2,2764.9 L1065.0,2766.9 L1065.9,2768.9 L1066.8,2770.9 L1067.7,2772.9 L1068.6,2774.9 L1069.7,2776.9 L1070.8,2778.9 L1072.0,2780.9 L1073.3,2782.9 L1074.5,2784.9 L1075.9,2786.9 L1077.2,2788.9 L1078.6,2790.9 L1080.0,2792.9 L1081.5,2794.9 L1083.0,2796.9 L1084.6,2798.9 L1086.3,2800.9 L1088.0,2802.9 L1089.6,2804.9 L1091.3,2806.9 L1093.0,2808.9 L1094.8,2810.9 L1096.7,2812.9 L1098.7,2814.9 L1100.6,2816.9 L1102.5,2818.9 L1104.1,2820.9 L1105.6,2822.9 L1106.7,2824.9 L1107.8,2826.9 L1109.0,2828.9 L1110.0,2830.9 L1110.9,2832.9 L1111.7,2834.9 L1112.3,2836.9 L1112.7,2838.9 L1112.8,2840.9 L1112.5,2842.9 L1111.8,2844.9 L1110.8,2846.9 L1109.6,2848.9 L1108.2,2850.9 L1106.6,2852.9 L1104.7,2854.9 L1101.8,2856.9 L1098.1,2858.9 L1093.9,2860.9 L1089.5,2862.9 L1085.0,2864.9 L1080.3,2866.9 L1075.1,2868.9 L1069.6,2870.9 L1063.8,2872.9 L1057.8,2874.9 L1051.7,2876.9 L1045.8,2878.9 L1039.9,2880.9 L1034.3,2882.9 L1028.9,2884.9 L1023.5,2886.9 L1018.1,2888.9 L1012.7,2890.9 L1007.4,2892.9 L1002.2,2894.9 L997.1,2896.9 L992.2,2898.9 L987.4,2900.9 L982.9,2902.9 L978.3,2904.9 L973.7,2906.9 L969.2,2908.9 L964.8,2910.9 L960.6,2912.9 L956.8,2914.9 L953.3,2916.9 L950.2,2918.9 L947.6,2920.9 L945.3,2922.9 L943.0,2924.9 L940.9,2926.9 L938.9,2928.9 L937.1,2930.9 L935.5,2932.9 L934.0,2934.9 L932.8,2936.9 L931.8,2938.9 L930.9,2940.9 L930.1,2942.9 L929.4,2944.9 L928.7,2946.9 L928.1,2948.9 L927.5,2950.9 L927.0,2952.9 L926.7,2954.9 L926.3,2956.9 L926.1,2958.9 L925.9,2960.9 L925.7,2962.9 L925.5,2964.9 L925.3,2966.9 L925.1,2968.9 L924.9,2970.9 L924.8,2972.9 L924.6,2974.9 L924.5,2976.9 L924.4,2978.9 L924.3,2980.9 L924.2,2982.9 L924.1,2984.9 L924.0,2986.9 L923.9,2988.9 L923.9,2990.9 L923.8,2992.9 L923.8,2994.9 L923.8,2996.9 L923.7,2998.9 L923.7,3000.9 L923.7,3002.9 L923.6,3004.9 L923.6,3006.9 L923.6,3008.9 L923.6,3010.9 L923.5,3012.9 L923.5,3014.9 L923.5,3016.9 L923.5,3018.9 L923.4,3020.9 L923.4,3022.9 L923.4,3024.9 L923.4,3026.9 L923.4,3028.9 L923.4,3030.9 L923.4,3032.9 L923.3,3034.9 L923.3,3036.9 L923.3,3038.9 L923.3,3040.9 L923.3,3042.9 L923.3,3044.9 L923.3,3046.9 L923.3,3048.9 L923.3,3050.9 L923.4,3052.9 L923.7,3054.9 L924.0,3056.9 L924.3,3058.9 L924.8,3060.9 L925.3,3062.9 L925.8,3064.9 L926.3,3066.9 L926.8,3068.9 L927.2,3070.9 L927.7,3072.9 L928.0,3074.9 L928.4,3076.9 L928.7,3078.9 L928.9,3080.9 L929.2,3082.9 L929.5,3084.9 L929.8,3086.9 L930.1,3088.9 L930.3,3090.9 L930.6,3092.9 L930.8,3094.9 L931.1,3096.9 L931.3,3098.9 L931.5,3100.9 L931.7,3102.9 L931.9,3104.9 L932.0,3106.9 L932.2,3108.9 L932.3,3110.9 L932.5,3112.9 L932.6,3114.9 L932.8,3116.9 L932.9,3118.9 L932.9,3120.9 L933.0,3122.9 L933.0,3124.9 L933.0,3126.9 L933.0,3128.9 L933.0,3130.9 L933.0,3132.6 L912.2,3132.6 L912.2,3130.9 L912.2,3128.9 L912.2,3126.9 L912.2,3124.9 L912.2,3122.9 L912.3,3120.9 L912.3,3118.9 L912.4,3116.9 L912.6,3114.9 L912.7,3112.9 L912.9,3110.9 L913.0,3108.9 L913.2,3106.9 L913.3,3104.9 L913.5,3102.9 L913.7,3100.9 L913.9,3098.9 L914.1,3096.9 L914.4,3094.9 L914.6,3092.9 L914.9,3090.9 L915.1,3088.9 L915.4,3086.9 L915.7,3084.9 L916.0,3082.9 L916.3,3080.9 L916.5,3078.9 L916.8,3076.9 L917.2,3074.9 L917.5,3072.9 L918.0,3070.9 L918.4,3068.9 L918.9,3066.9 L919.4,3064.9 L919.9,3062.9 L920.4,3060.9 L920.9,3058.9 L921.2,3056.9 L921.5,3054.9 L921.8,3052.9 L921.9,3050.9 L921.9,3048.9 L921.9,3046.9 L921.9,3044.9 L921.9,3042.9 L921.9,3040.9 L921.9,3038.9 L921.9,3036.9 L921.9,3034.9 L921.8,3032.9 L921.8,3030.9 L921.8,3028.9 L921.8,3026.9 L921.8,3024.9 L921.8,3022.9 L921.8,3020.9 L921.7,3018.9 L921.7,3016.9 L921.7,3014.9 L921.7,3012.9 L921.6,3010.9 L921.6,3008.9 L921.6,3006.9 L921.6,3004.9 L921.5,3002.9 L921.5,3000.9 L921.5,2998.9 L921.4,2996.9 L921.4,2994.9 L921.4,2992.9 L921.3,2990.9 L921.3,2988.9 L921.2,2986.9 L921.1,2984.9 L921.0,2982.9 L920.9,2980.9 L920.8,2978.9 L920.7,2976.9 L920.6,2974.9 L920.4,2972.9 L920.3,2970.9 L920.1,2968.9 L919.9,2966.9 L919.7,2964.9 L919.5,2962.9 L919.3,2960.9 L919.1,2958.9 L918.9,2956.9 L918.5,2954.9 L918.2,2952.9 L917.7,2950.9 L917.1,2948.9 L916.5,2946.9 L915.8,2944.9 L915.1,2942.9 L914.3,2940.9 L913.4,2938.9 L912.4,2936.9 L911.2,2934.9 L909.7,2932.9 L908.1,2930.9 L906.3,2928.9 L904.3,2926.9 L902.2,2924.9 L899.9,2922.9 L897.6,2920.9 L895.0,2918.9 L891.9,2916.9 L888.4,2914.9 L884.6,2912.9 L880.4,2910.9 L876.0,2908.9 L871.5,2906.9 L866.9,2904.9 L862.3,2902.9 L857.8,2900.9 L853.0,2898.9 L848.1,2896.9 L843.0,2894.9 L837.8,2892.9 L832.5,2890.9 L827.1,2888.9 L821.7,2886.9 L816.3,2884.9 L810.9,2882.9 L805.3,2880.9 L799.4,2878.9 L793.5,2876.9 L787.4,2874.9 L781.4,2872.9 L775.6,2870.9 L770.1,2868.9 L764.9,2866.9 L760.2,2864.9 L755.7,2862.9 L751.3,2860.9 L747.1,2858.9 L743.4,2856.9 L740.5,2854.9 L738.6,2852.9 L737.0,2850.9 L735.6,2848.9 L734.4,2846.9 L733.4,2844.9 L732.7,2842.9 L732.4,2840.9 L732.5,2838.9 L732.9,2836.9 L733.5,2834.9 L734.3,2832.9 L735.2,2830.9 L736.2,2828.9 L737.4,2826.9 L738.5,2824.9 L739.6,2822.9 L741.1,2820.9 L742.7,2818.9 L744.6,2816.9 L746.5,2814.9 L748.5,2812.9 L750.4,2810.9 L752.2,2808.9 L753.9,2806.9 L755.6,2804.9 L757.2,2802.9 L758.9,2800.9 L760.6,2798.9 L762.2,2796.9 L763.7,2794.9 L765.2,2792.9 L766.6,2790.9 L768.0,2788.9 L769.3,2786.9 L770.7,2784.9 L771.9,2782.9 L773.2,2780.9 L774.4,2778.9 L775.5,2776.9 L776.6,2774.9 L777.5,2772.9 L778.4,2770.9 L779.3,2768.9 L780.2,2766.9 L781.0,2764.9 L781.8,2762.9 L782.6,2760.9 L783.2,2758.9 L783.8,2756.9 L784.4,2754.9 L784.8,2752.9 L785.2,2750.9 L785.6,2748.9 L786.0,2746.9 L786.3,2744.9 L786.7,2742.9 L786.9,2740.9 L787.1,2738.9 L787.3,2736.9 L787.3,2734.9 L787.3,2732.9 L787.2,2730.9 L787.0,2728.9 L786.9,2726.9 L786.6,2724.9 L786.4,2722.9 L786.1,2720.9 L785.8,2718.9 L785.5,2716.9 L785.2,2714.9 L784.7,2712.9 L784.2,2710.9 L783.6,2708.9 L782.9,2706.9 L782.3,2704.9 L781.6,2702.9 L780.9,2700.9 L780.2,2698.9 L779.6,2696.9 L779.0,2694.9 L778.4,2692.9 L777.8,2690.9 L777.2,2688.9 L776.6,2686.9 L776.0,2684.9 L775.4,2682.9 L774.8,2680.9 L774.2,2678.9 L773.6,2676.9 L773.0,2674.9 L772.3,2672.9 L771.7,2670.9 L771.1,2668.9 L770.5,2666.9 L769.9,2664.9 L769.4,2662.9 L768.8,2660.9 L768.4,2658.9 L767.9,2656.9 L767.4,2654.9 L766.9,2652.9 L766.4,2650.9 L766.0,2648.9 L765.7,2646.9 L765.4,2644.9 L765.2,2642.9 L765.0,2640.9 L764.9,2638.9 L764.8,2636.9 L764.6,2634.9 L764.5,2632.9 L764.4,2630.9 L764.4,2628.9 L764.3,2626.9 L764.3,2624.9 L764.3,2622.9 L764.5,2620.9 L764.9,2618.9 L765.5,2616.9 L766.2,2614.9 L767.0,2612.9 L767.8,2610.9 L768.8,2608.9 L769.9,2606.9 L771.3,2604.9 L773.1,2602.9 L775.2,2600.9 L777.5,2598.9 L779.9,2596.9 L782.4,2594.9 L785.1,2592.9 L788.2,2590.9 L791.7,2588.9 L795.5,2586.9 L799.5,2584.9 L803.6,2582.9 L807.7,2580.9 L811.8,2578.9 L816.0,2576.9 L820.4,2574.9 L824.9,2572.9 L829.5,2570.9 L834.1,2568.9 L838.6,2566.9 L843.1,2564.9 L847.5,2562.9 L851.6,2560.9 L855.6,2558.9 L859.5,2556.9 L863.4,2554.9 L867.2,2552.9 L870.9,2550.9 L874.5,2548.9 L878.0,2546.9 L881.3,2544.9 L884.3,2542.9 L887.2,2540.9 L890.1,2538.9 L892.9,2536.9 L895.6,2534.9 L898.2,2532.9 L900.7,2530.9 L902.9,2528.9 L905.0,2526.9 L906.7,2524.9 L908.2,2522.9 L909.6,2520.9 L910.9,2518.9 L912.1,2516.9 L913.2,2514.9 L914.2,2512.9 L915.1,2510.9 L915.9,2508.9 L916.5,2506.9 L917.0,2504.9 L917.4,2502.9 L917.9,2500.9 L918.2,2498.9 L918.6,2496.9 L918.9,2494.9 L919.2,2492.9 L919.5,2490.9 L919.7,2488.9 L919.9,2486.9 L920.0,2484.9 L920.0,2482.9 L920.0,2480.9 L920.0,2478.9 L920.0,2476.9 L920.0,2474.9 L920.0,2472.9 L920.0,2470.9 L920.0,2468.9 L919.9,2466.9 L919.9,2464.9 L919.9,2462.9 L919.9,2460.9 L919.9,2458.9 L919.9,2456.9 L919.8,2454.9 L919.8,2452.9 L919.8,2450.9 L919.8,2448.9 L919.7,2446.9 L919.7,2444.9 L919.7,2442.9 L919.6,2440.9 L919.6,2438.9 L919.6,2436.9 L919.5,2434.9 L919.5,2432.9 L919.4,2430.9 L919.3,2428.9 L919.2,2426.9 L919.0,2424.9 L918.9,2422.9 L918.8,2420.9 L918.6,2418.9 L918.4,2416.9 L918.3,2414.9 L918.1,2412.9 L917.9,2410.9 L917.7,2408.9 L917.5,2406.9 L917.4,2404.9 L917.2,2402.9 L917.0,2400.9 L916.8,2398.9 L916.5,2396.9 L916.2,2394.9 L915.9,2392.9 L915.6,2390.9 L915.2,2388.9 L914.9,2386.9 L914.6,2384.9 L914.3,2382.9 L914.0,2380.9 L913.7,2378.9 L913.5,2376.9 L913.3,2374.9 L913.1,2372.9 L912.9,2370.9 L912.7,2368.9 L912.5,2366.9 L912.3,2364.9 L912.1,2362.9 L912.0,2360.9 L911.8,2358.9 L911.7,2356.9 L911.6,2354.9 L911.6,2352.9 L911.5,2350.9 L911.5,2348.9 L911.5,2346.9 L911.5,2344.9 L911.5,2342.9 L911.5,2340.9 L911.5,2338.9 L911.5,2336.9 L911.6,2334.9 L911.6,2332.9 L911.7,2330.9 L911.7,2328.9 L911.8,2326.9 L911.9,2324.9 L912.0,2322.9 L912.1,2320.9 L912.2,2318.9Z" fill="#00807f" stroke="#333333" stroke-width="3.9" stroke-linejoin="round"/>
<g fill="#c0e7eb" stroke="#000" stroke-width="1.15">
<circle cx="924.7" cy="2752.5" r="2.7"/><circle cx="882.4" cy="2670.2" r="2.7"/><circle cx="790.8" cy="2594.2" r="2.7"/><circle cx="1020.8" cy="2886.6" r="2.7"/><circle cx="877.3" cy="2644.1" r="2.7"/><circle cx="985.8" cy="2888.8" r="2.7"/><circle cx="826.8" cy="2700.3" r="2.7"/><circle cx="857.4" cy="2672.4" r="2.7"/><circle cx="941.3" cy="2752.4" r="2.7"/><circle cx="864.5" cy="2832.6" r="2.7"/><circle cx="895.6" cy="2673.7" r="2.7"/><circle cx="973.8" cy="2803.0" r="2.7"/><circle cx="1010.3" cy="2587.5" r="2.7"/><circle cx="965.6" cy="2863.9" r="2.7"/><circle cx="787.3" cy="2833.7" r="2.7"/><circle cx="908.0" cy="2783.9" r="2.7"/><circle cx="995.2" cy="2885.0" r="2.7"/><circle cx="1018.9" cy="2643.7" r="2.7"/><circle cx="1010.5" cy="2802.4" r="2.7"/><circle cx="1011.4" cy="2833.9" r="2.7"/><circle cx="920.8" cy="2802.4" r="2.7"/><circle cx="977.0" cy="2805.1" r="2.7"/><circle cx="817.8" cy="2782.0" r="2.7"/><circle cx="825.8" cy="2589.4" r="2.7"/><circle cx="1013.4" cy="2855.0" r="2.7"/><circle cx="982.6" cy="2861.0" r="2.7"/><circle cx="974.5" cy="2673.4" r="2.7"/><circle cx="929.5" cy="2860.0" r="2.7"/><circle cx="1072.6" cy="2615.5" r="2.7"/><circle cx="833.4" cy="2858.2" r="2.7"/><circle cx="854.8" cy="2750.3" r="2.7"/><circle cx="912.8" cy="2861.7" r="2.7"/><circle cx="898.1" cy="2721.9" r="2.7"/><circle cx="1008.4" cy="2618.7" r="2.7"/><circle cx="1047.9" cy="2676.3" r="2.7"/><circle cx="1008.4" cy="2756.4" r="2.7"/><circle cx="915.9" cy="2890.8" r="2.7"/><circle cx="784.5" cy="2832.1" r="2.7"/><circle cx="948.8" cy="2724.1" r="2.7"/><circle cx="978.5" cy="2585.2" r="2.7"/><circle cx="934.7" cy="2702.7" r="2.7"/><circle cx="999.3" cy="2725.2" r="2.7"/><circle cx="1043.8" cy="2837.8" r="2.7"/><circle cx="1037.1" cy="2860.9" r="2.7"/><circle cx="957.1" cy="2670.7" r="2.7"/><circle cx="783.6" cy="2670.5" r="2.7"/><circle cx="979.2" cy="2751.1" r="2.7"/><circle cx="1034.3" cy="2640.2" r="2.7"/><circle cx="963.0" cy="2698.6" r="2.7"/><circle cx="906.9" cy="2639.1" r="2.7"/><circle cx="930.1" cy="2534.8" r="2.7"/><circle cx="1009.1" cy="2672.8" r="2.7"/><circle cx="916.9" cy="2725.6" r="2.7"/><circle cx="876.2" cy="2864.6" r="2.7"/><circle cx="828.6" cy="2585.5" r="2.7"/><circle cx="939.1" cy="2586.7" r="2.7"/><circle cx="814.2" cy="2777.3" r="2.7"/><circle cx="920.9" cy="2860.2" r="2.7"/><circle cx="938.3" cy="2589.4" r="2.7"/><circle cx="789.6" cy="2833.8" r="2.7"/><circle cx="1045.2" cy="2858.5" r="2.7"/><circle cx="917.3" cy="2695.0" r="2.7"/><circle cx="1040.8" cy="2671.6" r="2.7"/><circle cx="949.5" cy="2643.8" r="2.7"/><circle cx="943.6" cy="2648.4" r="2.7"/><circle cx="920.1" cy="2835.5" r="2.7"/><circle cx="904.3" cy="2861.3" r="2.7"/><circle cx="835.0" cy="2834.4" r="2.7"/><circle cx="922.5" cy="2779.5" r="2.7"/><circle cx="885.7" cy="2641.4" r="2.7"/><circle cx="816.7" cy="2593.2" r="2.7"/><circle cx="869.5" cy="2803.6" r="2.7"/><circle cx="759.9" cy="2858.8" r="2.7"/><circle cx="971.5" cy="2589.7" r="2.7"/><circle cx="1056.2" cy="2779.9" r="2.7"/><circle cx="998.2" cy="2664.1" r="2.7"/><circle cx="977.4" cy="2753.4" r="2.7"/><circle cx="1027.5" cy="2864.8" r="2.7"/><circle cx="1040.9" cy="2860.7" r="2.7"/><circle cx="1058.3" cy="2832.4" r="2.7"/><circle cx="1009.8" cy="2720.9" r="2.7"/><circle cx="825.5" cy="2590.9" r="2.7"/><circle cx="851.1" cy="2643.2" r="2.7"/><circle cx="1049.9" cy="2784.0" r="2.7"/><circle cx="949.0" cy="2590.8" r="2.7"/><circle cx="1019.0" cy="2612.9" r="2.7"/><circle cx="980.6" cy="2643.5" r="2.7"/><circle cx="1044.3" cy="2725.0" r="2.7"/><circle cx="826.0" cy="2585.1" r="2.7"/><circle cx="896.4" cy="2824.3" r="2.7"/><circle cx="915.4" cy="2917.8" r="2.7"/><circle cx="973.4" cy="2865.2" r="2.7"/><circle cx="784.1" cy="2829.7" r="2.7"/><circle cx="838.2" cy="2855.5" r="2.7"/><circle cx="1040.6" cy="2784.1" r="2.7"/><circle cx="968.4" cy="2856.6" r="2.7"/><circle cx="871.5" cy="2809.1" r="2.7"/><circle cx="871.9" cy="2829.8" r="2.7"/><circle cx="820.1" cy="2835.8" r="2.7"/><circle cx="799.3" cy="2830.3" r="2.7"/><circle cx="861.6" cy="2641.6" r="2.7"/><circle cx="806.9" cy="2671.8" r="2.7"/><circle cx="866.1" cy="2671.4" r="2.7"/><circle cx="1037.6" cy="2836.6" r="2.7"/><circle cx="1029.4" cy="2728.1" r="2.7"/><circle cx="896.4" cy="2804.2" r="2.7"/><circle cx="1087.3" cy="2832.8" r="2.7"/><circle cx="1008.2" cy="2608.9" r="2.7"/><circle cx="765.9" cy="2832.0" r="2.7"/><circle cx="754.1" cy="2829.9" r="2.7"/><circle cx="892.7" cy="2641.9" r="2.7"/><circle cx="955.3" cy="2672.8" r="2.7"/><circle cx="999.5" cy="2750.2" r="2.7"/><circle cx="980.2" cy="2588.3" r="2.7"/><circle cx="961.8" cy="2752.9" r="2.7"/><circle cx="995.5" cy="2588.6" r="2.7"/><circle cx="940.5" cy="2860.6" r="2.7"/><circle cx="1082.5" cy="2809.2" r="2.7"/><circle cx="983.2" cy="2804.4" r="2.7"/><circle cx="1012.2" cy="2863.9" r="2.7"/><circle cx="912.2" cy="2808.9" r="2.7"/><circle cx="855.4" cy="2828.4" r="2.7"/><circle cx="1024.4" cy="2725.5" r="2.7"/><circle cx="1011.6" cy="2852.1" r="2.7"/><circle cx="977.1" cy="2829.2" r="2.7"/><circle cx="791.1" cy="2645.5" r="2.7"/><circle cx="1032.7" cy="2591.2" r="2.7"/><circle cx="1038.0" cy="2835.0" r="2.7"/><circle cx="983.6" cy="2855.6" r="2.7"/><circle cx="956.8" cy="2588.4" r="2.7"/><circle cx="927.7" cy="2804.0" r="2.7"/><circle cx="796.1" cy="2592.8" r="2.7"/><circle cx="1023.9" cy="2866.3" r="2.7"/><circle cx="876.4" cy="2861.5" r="2.7"/><circle cx="1066.7" cy="2614.3" r="2.7"/><circle cx="791.2" cy="2775.8" r="2.7"/><circle cx="955.3" cy="2646.2" r="2.7"/><circle cx="844.3" cy="2671.5" r="2.7"/><circle cx="943.0" cy="2702.1" r="2.7"/><circle cx="819.0" cy="2751.0" r="2.7"/><circle cx="884.2" cy="2667.3" r="2.7"/><circle cx="848.8" cy="2591.8" r="2.7"/><circle cx="1047.7" cy="2834.2" r="2.7"/><circle cx="1042.9" cy="2591.2" r="2.7"/><circle cx="775.7" cy="2675.3" r="2.7"/><circle cx="964.8" cy="2777.7" r="2.7"/><circle cx="824.3" cy="2810.6" r="2.7"/><circle cx="818.4" cy="2670.4" r="2.7"/><circle cx="894.7" cy="2647.4" r="2.7"/><circle cx="975.8" cy="2670.8" r="2.7"/><circle cx="998.1" cy="2673.1" r="2.7"/><circle cx="844.1" cy="2699.3" r="2.7"/><circle cx="1075.9" cy="2866.5" r="2.7"/><circle cx="909.2" cy="2731.0" r="2.7"/><circle cx="852.3" cy="2830.0" r="2.7"/><circle cx="966.1" cy="2759.3" r="2.7"/><circle cx="1036.7" cy="2667.9" r="2.7"/><circle cx="752.0" cy="2854.1" r="2.7"/><circle cx="992.3" cy="2590.1" r="2.7"/><circle cx="832.9" cy="2590.4" r="2.7"/><circle cx="896.8" cy="2781.7" r="2.7"/><circle cx="914.7" cy="2587.9" r="2.7"/><circle cx="893.9" cy="2780.9" r="2.7"/><circle cx="973.3" cy="2700.1" r="2.7"/><circle cx="945.6" cy="2862.6" r="2.7"/><circle cx="891.5" cy="2643.0" r="2.7"/><circle cx="891.0" cy="2722.6" r="2.7"/><circle cx="913.2" cy="2586.9" r="2.7"/><circle cx="1017.0" cy="2833.8" r="2.7"/><circle cx="921.3" cy="2642.6" r="2.7"/><circle cx="995.5" cy="2586.8" r="2.7"/><circle cx="995.3" cy="2748.4" r="2.7"/><circle cx="823.6" cy="2594.3" r="2.7"/><circle cx="960.3" cy="2698.7" r="2.7"/><circle cx="978.0" cy="2649.7" r="2.7"/><circle cx="930.7" cy="2783.1" r="2.7"/><circle cx="896.5" cy="2586.7" r="2.7"/><circle cx="979.9" cy="2778.1" r="2.7"/><circle cx="918.4" cy="2638.5" r="2.7"/><circle cx="1034.5" cy="2755.1" r="2.7"/><circle cx="904.0" cy="2596.6" r="2.7"/><circle cx="815.1" cy="2617.2" r="2.7"/><circle cx="1010.6" cy="2751.3" r="2.7"/><circle cx="795.4" cy="2756.1" r="2.7"/><circle cx="804.0" cy="2860.7" r="2.7"/><circle cx="887.4" cy="2589.0" r="2.7"/><circle cx="839.0" cy="2800.5" r="2.7"/><circle cx="856.5" cy="2593.3" r="2.7"/><circle cx="905.4" cy="2864.4" r="2.7"/><circle cx="988.6" cy="2861.2" r="2.7"/><circle cx="809.3" cy="2616.0" r="2.7"/><circle cx="1029.3" cy="2612.2" r="2.7"/><circle cx="779.5" cy="2778.8" r="2.7"/><circle cx="1079.5" cy="2855.1" r="2.7"/><circle cx="991.5" cy="2668.8" r="2.7"/><circle cx="1037.9" cy="2641.3" r="2.7"/><circle cx="895.3" cy="2697.3" r="2.7"/><circle cx="753.8" cy="2860.1" r="2.7"/><circle cx="1049.3" cy="2863.3" r="2.7"/><circle cx="807.6" cy="2693.0" r="2.7"/><circle cx="992.3" cy="2586.6" r="2.7"/><circle cx="999.0" cy="2803.8" r="2.7"/><circle cx="871.2" cy="2806.2" r="2.7"/><circle cx="1050.9" cy="2643.9" r="2.7"/><circle cx="883.3" cy="2772.6" r="2.7"/><circle cx="808.2" cy="2809.6" r="2.7"/><circle cx="1052.6" cy="2865.2" r="2.7"/><circle cx="924.7" cy="2777.9" r="2.7"/><circle cx="954.8" cy="2649.5" r="2.7"/><circle cx="1006.1" cy="2753.1" r="2.7"/><circle cx="809.5" cy="2613.4" r="2.7"/><circle cx="834.6" cy="2833.8" r="2.7"/><circle cx="821.9" cy="2589.0" r="2.7"/><circle cx="1019.6" cy="2779.1" r="2.7"/><circle cx="1033.6" cy="2618.1" r="2.7"/><circle cx="831.7" cy="2594.5" r="2.7"/><circle cx="845.9" cy="2669.2" r="2.7"/><circle cx="892.5" cy="2672.3" r="2.7"/><circle cx="800.9" cy="2856.8" r="2.7"/><circle cx="857.1" cy="2641.0" r="2.7"/><circle cx="831.9" cy="2860.8" r="2.7"/><circle cx="1053.3" cy="2696.8" r="2.7"/><circle cx="809.7" cy="2698.4" r="2.7"/><circle cx="824.9" cy="2782.3" r="2.7"/><circle cx="813.4" cy="2588.5" r="2.7"/><circle cx="805.6" cy="2755.0" r="2.7"/><circle cx="929.9" cy="2337.0" r="2.7"/><circle cx="919.5" cy="2688.8" r="2.7"/><circle cx="1010.3" cy="2697.3" r="2.7"/><circle cx="994.0" cy="2804.6" r="2.7"/><circle cx="1028.5" cy="2753.5" r="2.7"/><circle cx="929.2" cy="2862.5" r="2.7"/><circle cx="1001.9" cy="2673.1" r="2.7"/><circle cx="867.0" cy="2755.6" r="2.7"/><circle cx="993.5" cy="2858.2" r="2.7"/><circle cx="797.2" cy="2726.5" r="2.7"/><circle cx="921.6" cy="2857.0" r="2.7"/><circle cx="1009.4" cy="2641.8" r="2.7"/><circle cx="834.2" cy="2861.0" r="2.7"/><circle cx="1068.9" cy="2858.5" r="2.7"/><circle cx="984.0" cy="2832.3" r="2.7"/><circle cx="797.0" cy="2832.0" r="2.7"/><circle cx="851.1" cy="2589.1" r="2.7"/><circle cx="1050.9" cy="2858.7" r="2.7"/><circle cx="802.1" cy="2834.5" r="2.7"/><circle cx="893.2" cy="2772.4" r="2.7"/><circle cx="982.0" cy="2619.4" r="2.7"/><circle cx="814.1" cy="2588.4" r="2.7"/><circle cx="1038.2" cy="2619.9" r="2.7"/><circle cx="937.1" cy="2777.0" r="2.7"/><circle cx="897.8" cy="2859.6" r="2.7"/><circle cx="1006.7" cy="2644.8" r="2.7"/><circle cx="915.0" cy="2753.7" r="2.7"/><circle cx="937.1" cy="2592.3" r="2.7"/><circle cx="776.5" cy="2804.7" r="2.7"/><circle cx="858.0" cy="2809.0" r="2.7"/><circle cx="857.4" cy="2703.0" r="2.7"/><circle cx="800.2" cy="2802.2" r="2.7"/><circle cx="921.1" cy="2400.4" r="2.7"/><circle cx="918.1" cy="2615.8" r="2.7"/><circle cx="818.3" cy="2834.6" r="2.7"/><circle cx="989.9" cy="2616.1" r="2.7"/><circle cx="884.7" cy="2593.4" r="2.7"/><circle cx="916.5" cy="2535.1" r="2.7"/><circle cx="1067.9" cy="2807.0" r="2.7"/><circle cx="868.8" cy="2786.2" r="2.7"/><circle cx="795.6" cy="2809.3" r="2.7"/><circle cx="924.0" cy="2668.3" r="2.7"/><circle cx="999.3" cy="2857.9" r="2.7"/><circle cx="882.2" cy="2698.6" r="2.7"/><circle cx="1044.4" cy="2778.7" r="2.7"/><circle cx="1023.9" cy="2863.9" r="2.7"/><circle cx="1045.2" cy="2644.5" r="2.7"/><circle cx="1009.9" cy="2584.0" r="2.7"/><circle cx="1043.5" cy="2730.6" r="2.7"/><circle cx="897.3" cy="2614.1" r="2.7"/><circle cx="978.1" cy="2864.4" r="2.7"/><circle cx="877.0" cy="2638.4" r="2.7"/><circle cx="925.6" cy="2344.5" r="2.7"/><circle cx="873.9" cy="2745.2" r="2.7"/><circle cx="993.0" cy="2675.2" r="2.7"/><circle cx="1038.3" cy="2748.0" r="2.7"/><circle cx="1075.4" cy="2640.8" r="2.7"/><circle cx="965.5" cy="2779.3" r="2.7"/><circle cx="1024.4" cy="2804.2" r="2.7"/><circle cx="866.4" cy="2833.4" r="2.7"/><circle cx="984.7" cy="2805.4" r="2.7"/><circle cx="825.8" cy="2838.3" r="2.7"/><circle cx="1028.3" cy="2702.1" r="2.7"/><circle cx="1007.9" cy="2775.2" r="2.7"/><circle cx="892.6" cy="2617.7" r="2.7"/><circle cx="843.3" cy="2725.0" r="2.7"/><circle cx="904.0" cy="2861.0" r="2.7"/><circle cx="897.4" cy="2673.3" r="2.7"/><circle cx="861.6" cy="2836.1" r="2.7"/><circle cx="843.8" cy="2589.1" r="2.7"/><circle cx="889.6" cy="2774.5" r="2.7"/><circle cx="954.3" cy="2647.8" r="2.7"/><circle cx="1061.3" cy="2860.9" r="2.7"/><circle cx="860.1" cy="2612.7" r="2.7"/><circle cx="857.7" cy="2702.7" r="2.7"/><circle cx="784.5" cy="2774.0" r="2.7"/><circle cx="904.5" cy="2732.0" r="2.7"/><circle cx="888.8" cy="2752.5" r="2.7"/><circle cx="854.6" cy="2854.5" r="2.7"/><circle cx="804.3" cy="2858.2" r="2.7"/><circle cx="1078.7" cy="2807.8" r="2.7"/><circle cx="929.2" cy="2756.6" r="2.7"/><circle cx="818.2" cy="2866.6" r="2.7"/><circle cx="818.4" cy="2615.3" r="2.7"/><circle cx="869.6" cy="2833.4" r="2.7"/><circle cx="1002.5" cy="2672.0" r="2.7"/><circle cx="982.8" cy="2671.1" r="2.7"/><circle cx="802.5" cy="2694.2" r="2.7"/><circle cx="825.5" cy="2807.8" r="2.7"/><circle cx="921.9" cy="2804.2" r="2.7"/><circle cx="908.4" cy="2676.2" r="2.7"/><circle cx="893.9" cy="2724.3" r="2.7"/><circle cx="798.1" cy="2694.1" r="2.7"/><circle cx="834.9" cy="2644.7" r="2.7"/><circle cx="840.0" cy="2804.3" r="2.7"/><circle cx="849.0" cy="2587.4" r="2.7"/><circle cx="911.5" cy="2725.6" r="2.7"/><circle cx="992.8" cy="2805.0" r="2.7"/><circle cx="794.9" cy="2785.3" r="2.7"/><circle cx="916.4" cy="2346.6" r="2.7"/><circle cx="992.1" cy="2864.3" r="2.7"/><circle cx="792.5" cy="2695.8" r="2.7"/><circle cx="903.7" cy="2669.1" r="2.7"/><circle cx="800.3" cy="2717.9" r="2.7"/><circle cx="940.9" cy="2752.2" r="2.7"/><circle cx="863.8" cy="2863.2" r="2.7"/><circle cx="1011.2" cy="2588.3" r="2.7"/><circle cx="1056.4" cy="2863.5" r="2.7"/><circle cx="914.0" cy="2328.8" r="2.7"/><circle cx="1026.9" cy="2744.3" r="2.7"/><circle cx="867.8" cy="2753.4" r="2.7"/><circle cx="867.2" cy="2776.7" r="2.7"/><circle cx="800.2" cy="2729.3" r="2.7"/><circle cx="981.2" cy="2725.1" r="2.7"/><circle cx="1044.4" cy="2807.5" r="2.7"/><circle cx="951.5" cy="2670.4" r="2.7"/><circle cx="1041.6" cy="2642.4" r="2.7"/><circle cx="1018.8" cy="2802.9" r="2.7"/><circle cx="785.6" cy="2697.1" r="2.7"/><circle cx="812.4" cy="2724.8" r="2.7"/><circle cx="872.3" cy="2589.4" r="2.7"/><circle cx="1022.3" cy="2643.2" r="2.7"/><circle cx="927.7" cy="2672.5" r="2.7"/><circle cx="968.1" cy="2588.2" r="2.7"/><circle cx="954.7" cy="2611.7" r="2.7"/><circle cx="971.7" cy="2647.6" r="2.7"/><circle cx="834.8" cy="2859.3" r="2.7"/><circle cx="994.8" cy="2598.5" r="2.7"/><circle cx="813.7" cy="2781.9" r="2.7"/><circle cx="791.0" cy="2670.3" r="2.7"/><circle cx="990.2" cy="2730.1" r="2.7"/><circle cx="1090.5" cy="2835.6" r="2.7"/><circle cx="867.7" cy="2805.0" r="2.7"/><circle cx="924.2" cy="2401.5" r="2.7"/><circle cx="942.2" cy="2860.7" r="2.7"/><circle cx="957.1" cy="2855.9" r="2.7"/><circle cx="924.3" cy="2783.7" r="2.7"/><circle cx="1033.0" cy="2832.0" r="2.7"/><circle cx="1004.0" cy="2726.4" r="2.7"/><circle cx="1053.3" cy="2701.4" r="2.7"/><circle cx="1062.2" cy="2697.6" r="2.7"/><circle cx="1043.9" cy="2619.3" r="2.7"/><circle cx="889.5" cy="2670.9" r="2.7"/><circle cx="870.8" cy="2588.8" r="2.7"/><circle cx="878.4" cy="2697.7" r="2.7"/><circle cx="804.4" cy="2802.5" r="2.7"/><circle cx="748.6" cy="2854.5" r="2.7"/><circle cx="961.8" cy="2723.3" r="2.7"/><circle cx="898.0" cy="2810.7" r="2.7"/><circle cx="1088.2" cy="2861.2" r="2.7"/><circle cx="992.1" cy="2644.5" r="2.7"/><circle cx="1042.1" cy="2587.8" r="2.7"/><circle cx="827.8" cy="2590.8" r="2.7"/><circle cx="787.0" cy="2669.9" r="2.7"/><circle cx="857.1" cy="2699.1" r="2.7"/><circle cx="801.1" cy="2669.7" r="2.7"/><circle cx="793.5" cy="2616.8" r="2.7"/><circle cx="816.1" cy="2862.5" r="2.7"/><circle cx="1045.7" cy="2751.0" r="2.7"/><circle cx="801.5" cy="2866.9" r="2.7"/><circle cx="768.6" cy="2639.0" r="2.7"/><circle cx="1039.9" cy="2584.9" r="2.7"/><circle cx="893.9" cy="2752.0" r="2.7"/><circle cx="869.8" cy="2666.9" r="2.7"/><circle cx="901.1" cy="2584.7" r="2.7"/><circle cx="789.2" cy="2831.7" r="2.7"/><circle cx="822.8" cy="2832.8" r="2.7"/><circle cx="977.2" cy="2784.0" r="2.7"/><circle cx="1043.5" cy="2778.2" r="2.7"/><circle cx="876.9" cy="2773.6" r="2.7"/><circle cx="1023.7" cy="2588.1" r="2.7"/><circle cx="947.0" cy="2859.0" r="2.7"/><circle cx="802.6" cy="2696.1" r="2.7"/><circle cx="851.7" cy="2639.7" r="2.7"/><circle cx="1003.3" cy="2725.5" r="2.7"/><circle cx="897.3" cy="2591.6" r="2.7"/><circle cx="887.2" cy="2805.3" r="2.7"/><circle cx="769.5" cy="2863.5" r="2.7"/><circle cx="1031.8" cy="2647.4" r="2.7"/><circle cx="880.0" cy="2697.0" r="2.7"/><circle cx="973.7" cy="2887.1" r="2.7"/><circle cx="908.8" cy="2616.3" r="2.7"/><circle cx="967.3" cy="2587.7" r="2.7"/><circle cx="869.2" cy="2865.0" r="2.7"/><circle cx="1042.7" cy="2832.6" r="2.7"/><circle cx="893.4" cy="2830.3" r="2.7"/><circle cx="932.6" cy="2589.4" r="2.7"/><circle cx="927.2" cy="2857.1" r="2.7"/><circle cx="1046.9" cy="2611.4" r="2.7"/><circle cx="806.5" cy="2863.8" r="2.7"/><circle cx="810.7" cy="2613.9" r="2.7"/><circle cx="884.5" cy="2826.2" r="2.7"/><circle cx="998.1" cy="2724.0" r="2.7"/><circle cx="821.5" cy="2751.9" r="2.7"/><circle cx="894.0" cy="2672.6" r="2.7"/><circle cx="1032.1" cy="2588.4" r="2.7"/><circle cx="1082.3" cy="2858.3" r="2.7"/><circle cx="857.9" cy="2590.4" r="2.7"/><circle cx="868.3" cy="2730.0" r="2.7"/><circle cx="850.0" cy="2585.0" r="2.7"/><circle cx="783.6" cy="2858.1" r="2.7"/><circle cx="977.2" cy="2861.6" r="2.7"/><circle cx="786.3" cy="2808.7" r="2.7"/><circle cx="968.7" cy="2830.2" r="2.7"/><circle cx="1033.9" cy="2857.1" r="2.7"/><circle cx="945.9" cy="2619.7" r="2.7"/><circle cx="885.0" cy="2754.9" r="2.7"/><circle cx="836.3" cy="2726.8" r="2.7"/><circle cx="885.8" cy="2720.3" r="2.7"/><circle cx="1062.8" cy="2837.5" r="2.7"/><circle cx="958.6" cy="2832.6" r="2.7"/><circle cx="954.2" cy="2891.2" r="2.7"/><circle cx="792.3" cy="2863.9" r="2.7"/><circle cx="896.9" cy="2860.0" r="2.7"/><circle cx="1073.5" cy="2653.7" r="2.7"/><circle cx="738.2" cy="2830.3" r="2.7"/><circle cx="1002.5" cy="2861.9" r="2.7"/><circle cx="890.4" cy="2885.3" r="2.7"/><circle cx="988.2" cy="2674.3" r="2.7"/><circle cx="847.4" cy="2639.5" r="2.7"/><circle cx="1073.7" cy="2803.3" r="2.7"/><circle cx="877.4" cy="2859.0" r="2.7"/><circle cx="867.1" cy="2835.0" r="2.7"/><circle cx="827.8" cy="2587.2" r="2.7"/><circle cx="905.9" cy="2719.3" r="2.7"/><circle cx="1008.0" cy="2858.3" r="2.7"/><circle cx="1029.9" cy="2803.5" r="2.7"/><circle cx="831.7" cy="2615.5" r="2.7"/><circle cx="865.5" cy="2728.5" r="2.7"/><circle cx="930.3" cy="2587.3" r="2.7"/><circle cx="820.8" cy="2774.0" r="2.7"/><circle cx="869.3" cy="2619.4" r="2.7"/><circle cx="1049.8" cy="2646.9" r="2.7"/><circle cx="992.8" cy="2647.2" r="2.7"/><circle cx="1045.9" cy="2614.8" r="2.7"/><circle cx="894.3" cy="2865.3" r="2.7"/><circle cx="1048.7" cy="2778.3" r="2.7"/><circle cx="993.4" cy="2780.0" r="2.7"/><circle cx="865.4" cy="2724.8" r="2.7"/><circle cx="998.3" cy="2590.0" r="2.7"/><circle cx="943.3" cy="2824.1" r="2.7"/><circle cx="833.0" cy="2860.8" r="2.7"/><circle cx="926.5" cy="2862.1" r="2.7"/><circle cx="954.1" cy="2675.4" r="2.7"/><circle cx="1064.8" cy="2857.6" r="2.7"/><circle cx="839.2" cy="2776.5" r="2.7"/><circle cx="968.8" cy="2808.1" r="2.7"/><circle cx="867.5" cy="2592.4" r="2.7"/><circle cx="1049.3" cy="2832.9" r="2.7"/><circle cx="874.3" cy="2618.1" r="2.7"/><circle cx="930.4" cy="2613.3" r="2.7"/><circle cx="1057.3" cy="2864.6" r="2.7"/><circle cx="864.4" cy="2777.3" r="2.7"/><circle cx="893.2" cy="2644.6" r="2.7"/><circle cx="852.8" cy="2668.9" r="2.7"/><circle cx="973.7" cy="2699.5" r="2.7"/><circle cx="851.6" cy="2644.6" r="2.7"/><circle cx="896.3" cy="2776.4" r="2.7"/><circle cx="999.7" cy="2826.2" r="2.7"/><circle cx="1032.1" cy="2594.2" r="2.7"/><circle cx="1043.6" cy="2619.5" r="2.7"/><circle cx="977.7" cy="2830.4" r="2.7"/><circle cx="763.2" cy="2857.6" r="2.7"/><circle cx="987.2" cy="2826.4" r="2.7"/><circle cx="1085.2" cy="2807.7" r="2.7"/><circle cx="1024.5" cy="2751.4" r="2.7"/><circle cx="982.8" cy="2666.7" r="2.7"/><circle cx="886.4" cy="2859.6" r="2.7"/><circle cx="1018.9" cy="2810.9" r="2.7"/><circle cx="793.0" cy="2697.5" r="2.7"/><circle cx="871.4" cy="2664.0" r="2.7"/><circle cx="949.5" cy="2591.3" r="2.7"/><circle cx="894.5" cy="2638.7" r="2.7"/><circle cx="833.4" cy="2722.9" r="2.7"/><circle cx="878.2" cy="2723.9" r="2.7"/><circle cx="1018.8" cy="2700.1" r="2.7"/><circle cx="1014.6" cy="2832.8" r="2.7"/><circle cx="822.5" cy="2703.4" r="2.7"/><circle cx="998.3" cy="2834.9" r="2.7"/><circle cx="1044.5" cy="2862.2" r="2.7"/><circle cx="1048.9" cy="2862.8" r="2.7"/><circle cx="1054.6" cy="2752.7" r="2.7"/><circle cx="916.5" cy="2320.1" r="2.7"/><circle cx="924.7" cy="2319.6" r="2.7"/><circle cx="914.7" cy="2320.3" r="2.7"/><circle cx="931.3" cy="3131.4" r="2.7"/><circle cx="928.1" cy="3131.8" r="2.7"/><circle cx="914.4" cy="3132.1" r="2.7"/><circle cx="928.6" cy="3132.3" r="2.7"/>
</g>
<path d="M245.5,2278.8 V3173 H1176.5" fill="none" stroke="#000" stroke-width="4.5"/>
<line x1="499.4" x2="499.4" y1="3173" y2="3183.4" stroke="#333333" stroke-width="4.5"/>
<text x="499.4" y="3227" font-size="48.9" font-weight="bold" fill="#4d4d4d" text-anchor="middle" >ppDesigner</text>
<line x1="922.6" x2="922.6" y1="3173" y2="3183.4" stroke="#333333" stroke-width="4.5"/>
<text x="922.6" y="3227" font-size="48.9" font-weight="bold" fill="#4d4d4d" text-anchor="middle" >Locksmith</text>
<text transform="translate(106.5,2726.2) rotate(-90)" font-size="48.9" font-weight="bold" fill="#000" text-anchor="middle">Target length (bp)</text>
<path d="M1432.5,2279 V3136.9 H2358.3" fill="none" stroke="#000" stroke-width="4.5"/>
<line x1="1565.4" x2="1565.4" y1="3136.9" y2="3147.4" stroke="#333333" stroke-width="4.5"/>
<text x="1565.4" y="3192.3" font-size="48.9" font-weight="bold" fill="#4d4d4d" text-anchor="middle" >0</text>
<line x1="1785.4" x2="1785.4" y1="3136.9" y2="3147.4" stroke="#333333" stroke-width="4.5"/>
<text x="1785.4" y="3192.3" font-size="48.9" font-weight="bold" fill="#4d4d4d" text-anchor="middle" >1</text>
<line x1="2005.5" x2="2005.5" y1="3136.9" y2="3147.4" stroke="#333333" stroke-width="4.5"/>
<text x="2005.5" y="3192.3" font-size="48.9" font-weight="bold" fill="#4d4d4d" text-anchor="middle" >2</text>
<line x1="2225.6" x2="2225.6" y1="3136.9" y2="3147.4" stroke="#333333" stroke-width="4.5"/>
<text x="2225.6" y="3192.3" font-size="48.9" font-weight="bold" fill="#4d4d4d" text-anchor="middle" >4</text>
<text x="1894.8" y="3253" font-size="49.3" font-weight="bold" fill="#000" text-anchor="middle" ># of CpGs in probe arms</text>
<text transform="translate(1293,2708.2) rotate(-90)" font-size="48.9" font-weight="bold" fill="#000" text-anchor="middle"># of probes</text>
<text x="936.4" y="3359.8" font-size="49.3" font-weight="normal" fill="#000" text-anchor="start" >Probe design method</text>
<rect x="1024.9" y="3388.8" width="69.9" height="71.35" fill="#eeeeee"/>
<rect x="1028.1" y="3392.0" width="64.8" height="65" fill="#9bcccd"/>
<text x="1119" y="3442.3" font-size="49.3" font-weight="normal" fill="#000" text-anchor="start" >ppDesigner</text>
<rect x="1024.9" y="3460.15" width="69.9" height="71.35" fill="#eeeeee"/>
<rect x="1028.1" y="3463.35" width="64.8" height="65" fill="#00807f"/>
<text x="1119" y="3513.8" font-size="49.3" font-weight="normal" fill="#000" text-anchor="start" >Locksmith</text>
<rect x="16" y="15" width="2366" height="3547.5" fill="none" stroke="#000" stroke-width="4.2"/>
</svg></body></html>
